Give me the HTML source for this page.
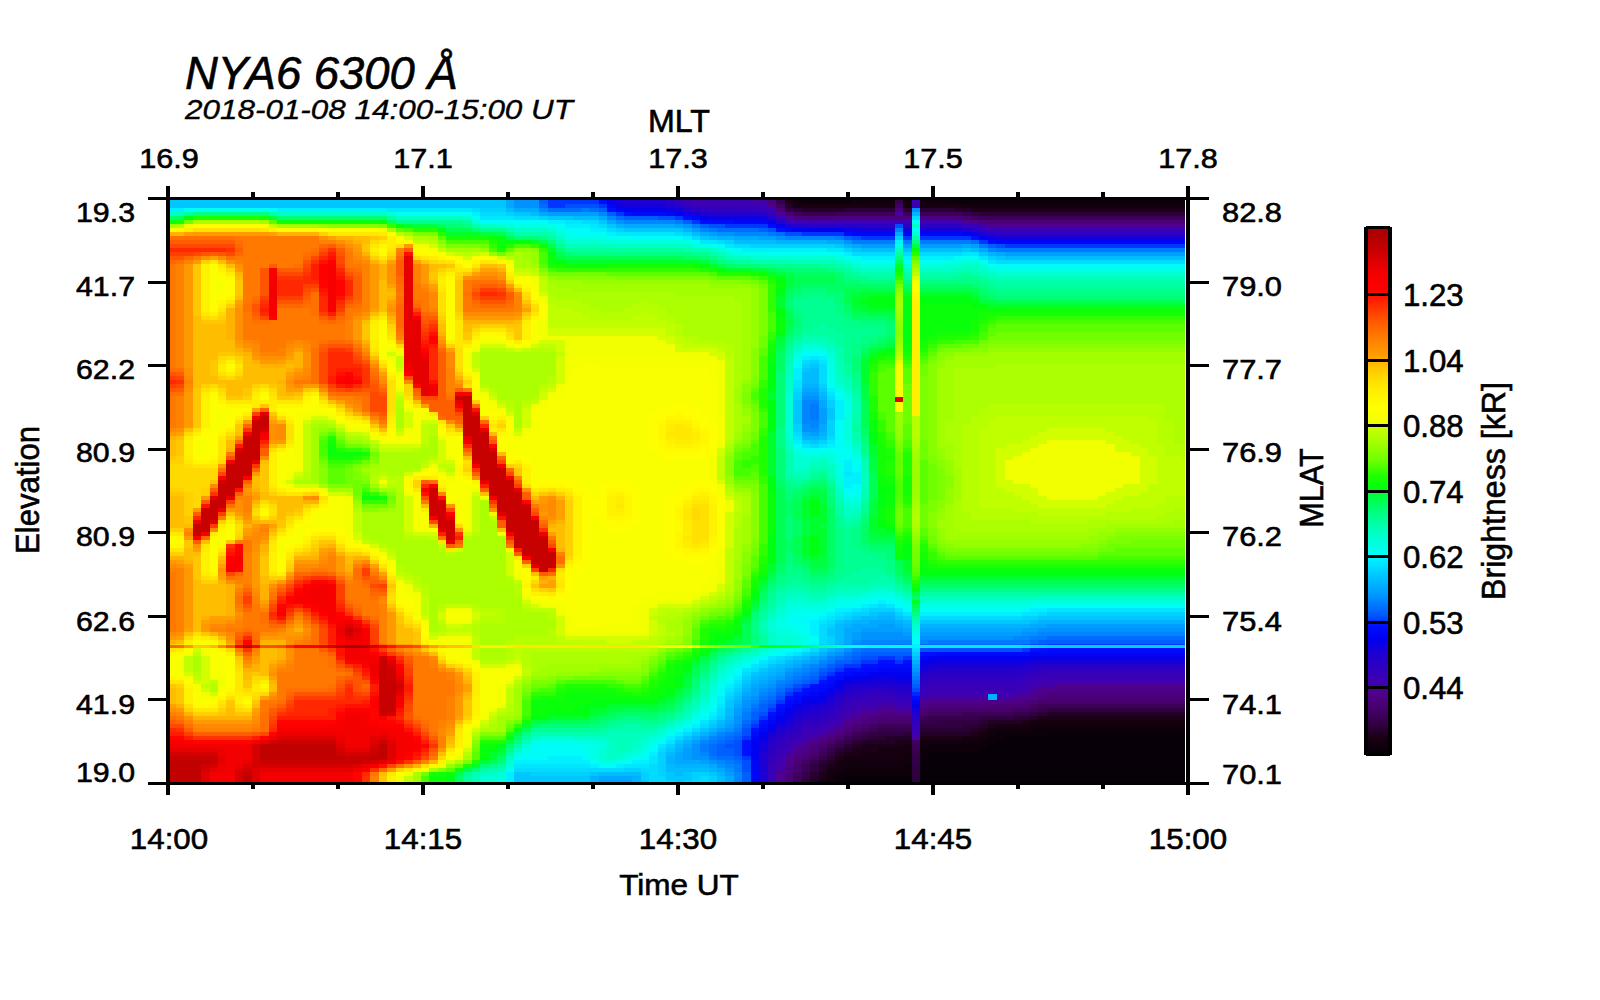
<!DOCTYPE html>
<html><head><meta charset="utf-8"><style>html,body{margin:0;padding:0;background:#fff;width:1600px;height:1000px;overflow:hidden}svg{display:block}</style></head>
<body><svg width="1600" height="1000" viewBox="0 0 1600 1000" shape-rendering="crispEdges">
<rect width="1600" height="1000" fill="#fff"/>
<g><path fill="#00c6ff" d="M170 200H505.5V204H170zM170 204H505.5V208H170zM514 212H530.9V216H514zM547.8 216H573.2V220H547.8zM598.6 220H607V224H598.6zM607 224H615.5V228H607zM623.9 228H683.1V232H623.9zM700.1 236H708.5V240H700.1zM835.4 244H843.8V248H835.4zM852.3 248H860.8V252H852.3zM962.3 248H970.7V252H962.3zM979.2 252H987.6V256H979.2zM996.1 256H1004.5V260H996.1zM810 364H818.5V368H810zM801.5 368H810V372H801.5zM818.5 388H826.9V392H818.5zM793.1 400H801.6V404H793.1zM793.1 404H801.6V408H793.1zM793.1 408H801.6V412H793.1zM826.9 408H835.4V412H826.9zM793.1 412H801.6V416H793.1zM826.9 412H835.4V416H826.9zM793.1 416H801.6V420H793.1zM826.9 416H835.4V420H826.9zM793.1 420H801.6V424H793.1zM810 440H818.5V444H810zM869.2 612H877.7V616H869.2zM852.3 616H860.8V620H852.3zM894.6 616H903V620H894.6zM1038.4 616H1185V620H1038.4zM835.4 620H843.8V624H835.4zM911.5 620H1029.9V624H911.5zM826.9 628H835.4V632H826.9zM826.9 632H835.4V636H826.9zM826.9 644H835.4V648H826.9zM818.5 648H826.9V652H818.5zM810 652H818.5V656H810zM793.1 656H801.6V660H793.1zM767.7 664H776.2V668H767.7zM759.3 668H767.7V672H759.3zM750.8 672H759.3V676H750.8zM742.3 680H750.8V684H742.3zM733.9 692H742.3V696H733.9zM725.4 700H733.9V704H725.4zM725.4 704H733.9V708H725.4zM708.5 724H717V728H708.5zM700.1 728H708.5V732H700.1zM691.6 732H700.1V736H691.6zM683.1 736H691.6V740H683.1zM674.7 740H683.1V744H674.7zM666.2 748H674.7V752H666.2zM514 772H530.9V776H514zM590.1 772H598.6V776H590.1zM666.2 772H674.7V776H666.2zM683.1 772H691.6V776H683.1zM708.5 772H717V776H708.5zM514 776H590.1V780H514zM666.2 776H691.6V780H666.2zM514 780H590.1V782H514zM640.8 780H649.3V782H640.8zM674.7 780H683.1V782H674.7z"/><path fill="#00a8ff" d="M505.5 200H514V204H505.5zM505.5 204H514V208H505.5zM514 208H539.4V212H514zM539.4 212H547.8V216H539.4zM598.6 216H607V220H598.6zM607 220H615.5V224H607zM623.9 224H674.7V228H623.9zM700.1 232H708.5V236H700.1zM733.9 236H759.3V240H733.9zM826.9 240H843.8V244H826.9zM852.3 244H860.8V248H852.3zM962.3 244H970.7V248H962.3zM979.2 248H987.6V252H979.2zM996.1 252H1004.5V256H996.1zM801.5 388H818.5V392H801.5zM818.5 400H826.9V404H818.5zM818.5 404H826.9V408H818.5zM818.5 424H826.9V428H818.5zM818.5 428H826.9V432H818.5zM801.5 432H810V436H801.5zM869.2 620H894.6V624H869.2zM852.3 624H877.7V628H852.3zM894.6 624H903V628H894.6zM1029.9 624H1046.8V628H1029.9zM843.8 628H860.8V632H843.8zM903 628H1021.5V632H903zM843.8 632H852.3V636H843.8zM843.8 636H852.3V640H843.8zM843.8 640H852.3V644H843.8zM835.4 648H843.8V652H835.4zM810 656H818.5V660H810zM801.5 660H810V664H801.5zM793.1 664H801.6V668H793.1zM776.2 672H784.6V676H776.2zM767.7 676H776.2V680H767.7zM759.3 680H767.7V684H759.3zM750.8 684H759.3V688H750.8zM742.3 692H750.8V696H742.3zM733.9 704H742.3V708H733.9zM725.4 720H733.9V724H725.4zM683.1 744H691.6V748H683.1zM674.7 752H683.1V756H674.7zM674.7 756H683.1V760H674.7zM674.7 760H700.1V764H674.7zM708.5 764H717V768H708.5zM717 768H725.4V772H717zM598.6 776H632.4V780H598.6zM725.4 776H733.9V780H725.4zM725.4 780H733.9V782H725.4z"/><path fill="#0093ff" d="M514 200H539.4V204H514zM514 204H539.4V208H514zM615.5 220H623.9V224H615.5zM683.1 224H691.6V228H683.1zM717 232H733.9V236H717zM776.2 236H784.6V240H776.2zM843.8 240H852.3V244H843.8zM801.5 396H818.5V400H801.5zM801.5 424H810V428H801.5zM801.5 428H818.5V432H801.5zM1038.4 628H1185V632H1038.4zM860.8 632H903V636H860.8zM1021.5 632H1038.4V636H1021.5zM860.8 636H1013V640H860.8zM852.3 640H860.8V644H852.3zM843.8 648H852.3V652H843.8zM835.4 652H843.8V656H835.4zM801.5 664H810V668H801.5zM793.1 668H801.6V672H793.1zM784.6 672H793.1V676H784.6zM767.7 684H776.2V688H767.7zM759.3 688H767.7V692H759.3zM750.8 696H759.3V700H750.8zM742.3 700H750.8V704H742.3zM742.3 704H750.8V708H742.3zM733.9 716H742.3V720H733.9zM733.9 720H742.3V724H733.9zM725.4 728H733.9V732H725.4zM691.6 744H700.1V748H691.6zM691.6 748H700.1V752H691.6zM691.6 752H700.1V756H691.6zM691.6 756H708.5V760H691.6zM708.5 760H717V764H708.5zM717 764H725.4V768H717zM725.4 768H733.9V772H725.4z"/><path fill="#0060ff" d="M539.4 200H547.8V204H539.4zM598.6 208H607V212H598.6zM607 212H615.5V216H607zM623.9 216H657.8V220H623.9zM683.1 220H691.6V224H683.1zM700.1 224H708.5V228H700.1zM759.3 228H767.7V232H759.3zM843.8 236H852.3V240H843.8zM987.6 244H996.1V248H987.6zM1038.4 640H1185V644H1038.4zM1021.5 644H1029.9V648H1021.5zM911.5 648H920V652H911.5zM860.8 652H911.5V656H860.8zM852.3 656H860.8V660H852.3zM835.4 660H852.3V664H835.4zM826.9 664H835.4V668H826.9zM818.5 668H826.9V672H818.5zM810 676H818.5V680H810zM801.5 680H810V684H801.5zM776.2 692H784.6V696H776.2zM767.7 700H776.2V704H767.7zM759.3 704H767.7V708H759.3zM759.3 708H767.7V712H759.3zM750.8 712H759.3V716H750.8zM750.8 716H759.3V720H750.8zM742.3 724H750.8V728H742.3zM733.9 736H742.3V740H733.9zM725.4 740H733.9V744H725.4zM717 744H725.4V748H717zM717 748H733.9V752H717zM717 752H733.9V756H717zM733.9 756H742.3V760H733.9zM742.3 772H750.8V776H742.3zM742.3 776H750.8V780H742.3zM742.3 780H750.8V782H742.3z"/><path fill="#0036ff" d="M547.8 200H598.6V204H547.8zM547.8 204H564.7V208H547.8zM598.6 204H607V208H598.6zM615.5 212H623.9V216H615.5zM674.7 216H683.1V220H674.7zM691.6 220H700.1V224H691.6zM725.4 224H767.7V228H725.4zM801.5 232H843.8V236H801.5zM860.8 236H970.7V240H860.8zM979.2 240H987.6V244H979.2zM1004.5 244H1185V248H1004.5zM1046.8 644H1185V648H1046.8zM1021.5 648H1029.9V652H1021.5zM911.5 652H920V656H911.5zM877.7 656H894.6V660H877.7zM903 656H911.5V660H903zM860.8 660H877.7V664H860.8zM894.6 660H903V664H894.6zM843.8 664H860.8V668H843.8zM835.4 668H843.8V672H835.4zM826.9 672H835.4V676H826.9zM818.5 676H826.9V680H818.5zM801.5 684H810V688H801.5zM793.1 688H801.6V692H793.1zM784.6 692H793.1V696H784.6zM776.2 700H784.6V704H776.2zM767.7 708H776.2V712H767.7zM759.3 716H767.7V720H759.3zM750.8 724H759.3V728H750.8zM742.3 736H750.8V740H742.3zM742.3 756H750.8V760H742.3z"/><path fill="#000bfb" d="M598.6 200H607V204H598.6zM632.4 212H666.2V216H632.4zM683.1 216H691.6V220H683.1zM700.1 220H733.9V224H700.1zM767.7 224H776.2V228H767.7zM843.8 232H852.3V236H843.8zM987.6 240H996.1V244H987.6zM1046.8 648H1185V652H1046.8zM936.9 652H1029.9V656H936.9zM877.7 664H911.5V668H877.7zM860.8 668H877.7V672H860.8zM843.8 672H852.3V676H843.8zM835.4 676H843.8V680H835.4zM826.9 680H835.4V684H826.9zM818.5 684H826.9V688H818.5zM810 688H818.5V692H810zM801.5 692H810V696H801.5zM793.1 696H801.6V700H793.1zM784.6 700H793.1V704H784.6zM776.2 708H784.6V712H776.2zM767.7 716H776.2V720H767.7zM759.3 724H767.7V728H759.3zM750.8 732H759.3V736H750.8z"/><path fill="#0600ea" d="M607 200H615.5V204H607zM632.4 208H666.2V212H632.4zM700.1 216H708.5V220H700.1zM767.7 220H776.2V224H767.7zM776.2 224H784.6V228H776.2zM810 228H843.8V232H810zM1029.9 656H1185V660H1029.9zM920 660H936.9V664H920zM911.5 668H920V672H911.5zM860.8 676H877.7V680H860.8zM894.6 676H911.5V680H894.6zM843.8 680H852.3V684H843.8zM835.4 684H843.8V688H835.4zM818.5 696H826.9V700H818.5zM801.5 700H818.5V704H801.5zM793.1 704H801.6V708H793.1zM784.6 712H793.1V716H784.6zM776.2 720H784.6V724H776.2zM767.7 728H776.2V732H767.7zM759.3 736H767.7V740H759.3z"/><path fill="#1600da" d="M615.5 200H623.9V204H615.5zM623.9 204H666.2V208H623.9zM674.7 208H683.1V212H674.7zM691.6 212H700.1V216H691.6zM860.8 228H962.3V232H860.8zM996.1 236H1185V240H996.1zM1029.9 660H1185V664H1029.9zM928.4 664H1021.5V668H928.4zM920 668H928.4V672H920zM911.5 676H920V680H911.5zM869.2 680H894.6V684H869.2zM843.8 684H852.3V688H843.8zM826.9 696H835.4V700H826.9zM810 704H818.5V708H810zM801.5 708H810V712H801.5zM793.1 712H801.6V716H793.1zM784.6 720H793.1V724H784.6zM767.7 732H776.2V736H767.7zM759.3 744H767.7V748H759.3zM759.3 748H767.7V752H759.3z"/><path fill="#1e00d2" d="M623.9 200H657.8V204H623.9zM666.2 204H674.7V208H666.2zM700.1 212H708.5V216H700.1zM784.6 224H793.1V228H784.6zM962.3 228H970.7V232H962.3zM979.2 232H987.6V236H979.2zM1021.5 664H1038.4V668H1021.5zM928.4 668H936.9V672H928.4zM911.5 680H920V684H911.5zM852.3 684H877.7V688H852.3zM886.1 684H911.5V688H886.1zM843.8 688H852.3V692H843.8zM835.4 692H843.8V696H835.4zM826.9 700H835.4V704H826.9zM818.5 704H826.9V708H818.5zM810 708H818.5V712H810zM801.5 712H810V716H801.5zM793.1 716H801.6V720H793.1zM784.6 724H793.1V728H784.6zM776.2 728H784.6V732H776.2zM767.7 736H776.2V740H767.7zM759.3 752H767.7V756H759.3zM759.3 756H767.7V760H759.3zM759.3 760H767.7V764H759.3zM759.3 764H767.7V768H759.3zM759.3 768H767.7V772H759.3zM759.3 772H767.7V776H759.3zM759.3 776H767.7V780H759.3zM759.3 780H767.7V782H759.3z"/><path fill="#2400cc" d="M657.8 200H666.2V204H657.8zM683.1 208H691.6V212H683.1zM708.5 212H759.3V216H708.5zM767.7 216H776.2V220H767.7zM776.2 220H784.6V224H776.2zM793.1 224H801.6V228H793.1zM1038.4 664H1185V668H1038.4zM936.9 668H1029.9V672H936.9zM920 672H928.4V676H920zM877.7 684H886.1V688H877.7zM852.3 688H860.8V692H852.3zM894.6 688H911.5V692H894.6zM843.8 692H852.3V696H843.8zM835.4 696H843.8V700H835.4zM826.9 704H835.4V708H826.9zM818.5 708H826.9V712H818.5zM810 712H818.5V716H810zM801.5 716H810V720H801.5zM793.1 720H801.6V724H793.1zM776.2 732H784.6V736H776.2zM767.7 740H776.2V744H767.7z"/><path fill="#2900c7" d="M666.2 200H674.7V204H666.2zM674.7 204H683.1V208H674.7zM759.3 212H767.7V216H759.3zM801.5 224H869.2V228H801.5zM970.7 228H979.2V232H970.7zM987.6 232H996.1V236H987.6zM1029.9 668H1038.4V672H1029.9zM928.4 672H1021.5V676H928.4zM920 676H928.4V680H920zM911.5 684H920V688H911.5zM860.8 688H894.6V692H860.8zM894.6 692H911.5V696H894.6zM835.4 700H843.8V704H835.4zM826.9 708H835.4V712H826.9zM818.5 712H826.9V716H818.5zM810 716H818.5V720H810zM793.1 724H801.6V728H793.1zM784.6 728H793.1V732H784.6zM776.2 736H784.6V740H776.2zM767.7 744H776.2V748H767.7zM767.7 748H776.2V752H767.7z"/><path fill="#3300bd" d="M674.7 200H683.1V204H674.7zM683.1 204H691.6V208H683.1zM708.5 208H759.3V212H708.5zM767.7 212H776.2V216H767.7zM979.2 228H987.6V232H979.2zM1029.9 672H1046.8V676H1029.9zM1021.5 676H1029.9V680H1021.5zM928.4 680H1021.5V684H928.4zM920 684H928.4V688H920zM869.2 692H886.1V696H869.2zM911.5 692H920V696H911.5zM852.3 696H869.2V700H852.3zM894.6 696H903V700H894.6zM843.8 700H852.3V704H843.8zM835.4 708H843.8V712H835.4zM826.9 716H835.4V720H826.9zM818.5 720H826.9V724H818.5zM801.5 724H818.5V728H801.5zM793.1 732H801.6V736H793.1zM784.6 736H793.1V740H784.6zM776.2 744H784.6V748H776.2zM767.7 756H776.2V760H767.7zM767.7 760H776.2V764H767.7z"/><path fill="#3b00b5" d="M683.1 200H691.6V204H683.1zM700.1 204H759.3V208H700.1zM970.7 224H979.2V228H970.7zM996.1 228H1185V232H996.1zM1038.4 676H1185V680H1038.4zM1029.9 680H1038.4V684H1029.9zM1021.5 684H1029.9V688H1021.5zM928.4 688H1021.5V692H928.4zM920 692H928.4V696H920zM869.2 700H877.7V704H869.2zM886.1 700H894.6V704H886.1zM852.3 704H860.8V708H852.3zM843.8 708H852.3V712H843.8zM835.4 716H843.8V720H835.4zM810 728H818.5V732H810zM801.5 732H810V736H801.5zM784.6 744H793.1V748H784.6zM776.2 752H784.6V756H776.2z"/><path fill="#3e00b2" d="M691.6 200H750.8V204H691.6zM759.3 204H767.7V208H759.3zM767.7 208H776.2V212H767.7zM793.1 220H962.3V224H793.1zM1038.4 680H1185V684H1038.4zM1029.9 684H1038.4V688H1029.9zM1021.5 688H1029.9V692H1021.5zM928.4 692H1021.5V696H928.4zM920 696H928.4V700H920zM877.7 700H886.1V704H877.7zM911.5 700H920V704H911.5zM860.8 704H877.7V708H860.8zM894.6 704H911.5V708H894.6zM852.3 708H860.8V712H852.3zM843.8 712H852.3V716H843.8zM835.4 720H843.8V724H835.4zM826.9 724H835.4V728H826.9zM818.5 728H826.9V732H818.5zM810 732H818.5V736H810zM801.5 736H810V740H801.5zM793.1 740H801.6V744H793.1zM784.6 748H793.1V752H784.6zM776.2 756H784.6V760H776.2zM776.2 760H784.6V764H776.2z"/><path fill="#4500a5" d="M750.8 200H767.7V204H750.8zM979.2 224H987.6V228H979.2zM1038.4 684H1055.3V688H1038.4zM1029.9 688H1038.4V692H1029.9zM1021.5 692H1029.9V696H1021.5zM928.4 696H1013V700H928.4zM877.7 704H894.6V708H877.7zM911.5 704H920V708H911.5zM860.8 708H877.7V712H860.8zM894.6 708H911.5V712H894.6zM852.3 712H860.8V716H852.3zM843.8 716H852.3V720H843.8zM835.4 724H843.8V728H835.4zM826.9 728H835.4V732H826.9zM818.5 732H826.9V736H818.5zM810 736H818.5V740H810zM801.5 740H810V744H801.5zM793.1 744H801.6V748H793.1zM784.6 752H793.1V756H784.6zM776.2 764H784.6V768H776.2zM776.2 768H784.6V772H776.2z"/><path fill="#4c007f" d="M767.7 200H776.2V204H767.7zM793.1 216H801.6V220H793.1zM835.4 216H953.8V220H835.4zM979.2 220H987.6V224H979.2zM1046.8 692H1185V696H1046.8zM1038.4 696H1046.8V700H1038.4zM1021.5 700H1029.9V704H1021.5zM928.4 704H987.6V708H928.4zM886.1 712H894.6V716H886.1zM869.2 716H877.7V720H869.2zM860.8 720H869.2V724H860.8zM843.8 728H852.3V732H843.8zM835.4 732H843.8V736H835.4zM826.9 736H835.4V740H826.9zM818.5 740H826.9V744H818.5zM810 744H818.5V748H810zM801.5 752H810V756H801.5zM793.1 756H801.6V760H793.1zM784.6 768H793.1V772H784.6z"/><path fill="#37004e" d="M776.2 200H784.6V204H776.2zM801.5 212H835.4V216H801.5zM962.3 212H970.7V216H962.3zM1038.4 708H1046.8V712H1038.4zM1013 712H1029.9V716H1013zM928.4 716H979.2V720H928.4zM920 720H936.9V724H920zM911.5 724H920V728H911.5zM877.7 728H911.5V732H877.7zM860.8 732H869.2V736H860.8zM852.3 736H860.8V740H852.3zM843.8 740H852.3V744H843.8zM835.4 744H843.8V748H835.4zM826.9 748H835.4V752H826.9zM818.5 756H826.9V760H818.5zM810 760H818.5V764H810zM801.5 772H810V776H801.5z"/><path fill="#1c0018" d="M784.6 200H793.1V204H784.6zM970.7 208H1185V212H970.7zM1038.4 716H1185V720H1038.4zM1021.5 720H1029.9V724H1021.5zM987.6 724H996.1V728H987.6zM979.2 728H987.6V732H979.2zM970.7 732H979.2V736H970.7zM911.5 736H962.3V740H911.5zM894.6 740H911.5V744H894.6zM860.8 744H903V748H860.8zM852.3 748H877.7V752H852.3zM843.8 752H860.8V756H843.8zM835.4 756H843.8V760H835.4zM826.9 764H835.4V768H826.9zM818.5 772H826.9V776H818.5zM818.5 776H826.9V780H818.5z"/><path fill="#11000d" d="M793.1 200H801.6V204H793.1zM852.3 200H953.8V204H852.3zM970.7 204H1185V208H970.7zM1029.9 724H1185V728H1029.9zM987.6 728H1029.9V732H987.6zM987.6 732H996.1V736H987.6zM979.2 736H987.6V740H979.2zM928.4 740H979.2V744H928.4zM920 744H928.4V748H920zM911.5 748H920V752H911.5zM903 752H920V756H903zM903 756H911.5V760H903zM852.3 760H911.5V764H852.3zM843.8 764H903V768H843.8zM835.4 768H843.8V772H835.4zM826.9 772H835.4V776H826.9zM826.9 776H835.4V780H826.9zM826.9 780H835.4V782H826.9z"/><path fill="#0d000a" d="M801.5 200H852.3V204H801.5zM953.8 200H1185V204H953.8zM1029.9 728H1185V732H1029.9zM996.1 732H1046.8V736H996.1zM987.6 736H1004.5V740H987.6zM979.2 740H996.1V744H979.2zM928.4 744H987.6V748H928.4zM920 748H979.2V752H920zM920 752H928.4V756H920zM911.5 756H928.4V760H911.5zM911.5 760H920V764H911.5zM903 764H920V768H903zM843.8 768H920V772H843.8zM835.4 772H911.5V776H835.4zM835.4 776H843.8V780H835.4zM835.4 780H843.8V782H835.4z"/><path fill="#006dff" d="M539.4 204H547.8V208H539.4zM547.8 208H581.6V212H547.8zM590.1 208H598.6V212H590.1zM615.5 216H623.9V220H615.5zM717 228H759.3V232H717zM776.2 232H784.6V236H776.2zM970.7 240H979.2V244H970.7zM1046.8 636H1185V640H1046.8zM1029.9 640H1038.4V644H1029.9zM920 644H1021.5V648H920zM860.8 648H911.5V652H860.8zM852.3 652H860.8V656H852.3zM843.8 656H852.3V660H843.8zM810 672H818.5V676H810zM801.5 676H810V680H801.5zM793.1 680H801.6V684H793.1zM784.6 684H793.1V688H784.6zM776.2 688H784.6V692H776.2zM767.7 696H776.2V700H767.7zM759.3 700H767.7V704H759.3zM750.8 708H759.3V712H750.8zM742.3 720H750.8V724H742.3zM733.9 732H742.3V736H733.9zM725.4 736H733.9V740H725.4zM717 740H725.4V744H717zM708.5 744H717V748H708.5zM708.5 748H717V752H708.5zM708.5 752H717V756H708.5zM717 756H733.9V760H717zM733.9 760H742.3V764H733.9z"/><path fill="#0050ff" d="M564.7 204H598.6V208H564.7zM657.8 216H674.7V220H657.8zM708.5 224H725.4V228H708.5zM767.7 228H776.2V232H767.7zM784.6 232H801.6V236H784.6zM852.3 236H860.8V240H852.3zM996.1 244H1004.5V248H996.1zM1029.9 644H1046.8V648H1029.9zM920 648H1021.5V652H920zM860.8 656H877.7V660H860.8zM894.6 656H903V660H894.6zM852.3 660H860.8V664H852.3zM835.4 664H843.8V668H835.4zM826.9 668H835.4V672H826.9zM818.5 672H826.9V676H818.5zM810 680H818.5V684H810zM793.1 684H801.6V688H793.1zM784.6 688H793.1V692H784.6zM776.2 696H784.6V700H776.2zM767.7 704H776.2V708H767.7zM759.3 712H767.7V716H759.3zM750.8 720H759.3V724H750.8zM742.3 728H750.8V732H742.3zM742.3 732H750.8V736H742.3zM733.9 740H742.3V744H733.9zM725.4 744H742.3V748H725.4zM733.9 748H742.3V752H733.9zM733.9 752H742.3V756H733.9zM742.3 760H750.8V764H742.3zM742.3 764H750.8V768H742.3zM742.3 768H750.8V772H742.3z"/><path fill="#0006f6" d="M607 204H615.5V208H607zM615.5 208H623.9V212H615.5zM666.2 212H674.7V216H666.2zM691.6 216H700.1V220H691.6zM733.9 220H767.7V224H733.9zM784.6 228H793.1V232H784.6zM852.3 232H962.3V236H852.3zM996.1 240H1185V244H996.1zM1029.9 652H1185V656H1029.9zM920 656H928.4V660H920zM911.5 660H920V664H911.5zM877.7 668H911.5V672H877.7zM852.3 672H869.2V676H852.3zM826.9 684H835.4V688H826.9zM818.5 688H826.9V692H818.5zM810 692H818.5V696H810zM793.1 700H801.6V704H793.1zM784.6 704H793.1V708H784.6zM776.2 712H784.6V716H776.2zM767.7 720H776.2V724H767.7zM759.3 728H767.7V732H759.3zM750.8 736H759.3V740H750.8zM750.8 760H759.3V764H750.8zM750.8 764H759.3V768H750.8zM750.8 768H759.3V772H750.8zM750.8 772H759.3V776H750.8zM750.8 776H759.3V780H750.8zM750.8 780H759.3V782H750.8z"/><path fill="#0e00e2" d="M615.5 204H623.9V208H615.5zM666.2 208H674.7V212H666.2zM683.1 212H691.6V216H683.1zM708.5 216H767.7V220H708.5zM843.8 228H860.8V232H843.8zM970.7 232H979.2V236H970.7zM987.6 236H996.1V240H987.6zM936.9 660H1029.9V664H936.9zM920 664H928.4V668H920zM911.5 672H920V676H911.5zM877.7 676H894.6V680H877.7zM852.3 680H869.2V684H852.3zM894.6 680H911.5V684H894.6zM835.4 688H843.8V692H835.4zM826.9 692H835.4V696H826.9zM818.5 700H826.9V704H818.5zM801.5 704H810V708H801.5zM793.1 708H801.6V712H793.1zM784.6 716H793.1V720H784.6zM776.2 724H784.6V728H776.2zM759.3 740H767.7V744H759.3z"/><path fill="#3800b8" d="M691.6 204H700.1V208H691.6zM759.3 208H767.7V212H759.3zM776.2 216H784.6V220H776.2zM784.6 220H793.1V224H784.6zM962.3 224H970.7V228H962.3zM987.6 228H996.1V232H987.6zM1046.8 672H1185V676H1046.8zM1029.9 676H1038.4V680H1029.9zM1021.5 680H1029.9V684H1021.5zM928.4 684H1021.5V688H928.4zM920 688H928.4V692H920zM869.2 696H894.6V700H869.2zM911.5 696H920V700H911.5zM852.3 700H869.2V704H852.3zM894.6 700H911.5V704H894.6zM843.8 704H852.3V708H843.8zM835.4 712H843.8V716H835.4zM826.9 720H835.4V724H826.9zM818.5 724H826.9V728H818.5zM801.5 728H810V732H801.5zM793.1 736H801.6V740H793.1zM784.6 740H793.1V744H784.6zM776.2 748H784.6V752H776.2zM767.7 764H776.2V768H767.7zM767.7 768H776.2V772H767.7zM767.7 772H776.2V776H767.7zM767.7 776H776.2V780H767.7zM767.7 780H776.2V782H767.7z"/><path fill="#4e0088" d="M767.7 204H776.2V208H767.7zM970.7 220H979.2V224H970.7zM1055.3 688H1185V692H1055.3zM1038.4 692H1046.8V696H1038.4zM1029.9 696H1038.4V700H1029.9zM928.4 700H1021.5V704H928.4zM920 704H928.4V708H920zM911.5 708H920V712H911.5zM877.7 712H886.1V716H877.7zM894.6 712H911.5V716H894.6zM860.8 716H869.2V720H860.8zM852.3 720H860.8V724H852.3zM843.8 724H852.3V728H843.8zM835.4 728H843.8V732H835.4zM826.9 732H835.4V736H826.9zM818.5 736H826.9V740H818.5zM810 740H818.5V744H810zM801.5 748H810V752H801.5zM793.1 752H801.6V756H793.1zM784.6 760H793.1V764H784.6zM784.6 764H793.1V768H784.6z"/><path fill="#420063" d="M776.2 204H784.6V208H776.2zM970.7 216H979.2V220H970.7zM1029.9 704H1038.4V708H1029.9zM1013 708H1029.9V712H1013zM928.4 712H962.3V716H928.4zM869.2 724H877.7V728H869.2zM860.8 728H869.2V732H860.8zM818.5 748H826.9V752H818.5zM810 756H818.5V760H810zM801.5 760H810V764H801.5zM793.1 772H801.6V776H793.1z"/><path fill="#230027" d="M784.6 204H793.1V208H784.6zM801.5 208H843.8V212H801.5zM953.8 208H970.7V212H953.8zM1046.8 712H1185V716H1046.8zM1029.9 716H1038.4V720H1029.9zM987.6 720H1021.5V724H987.6zM979.2 724H987.6V728H979.2zM970.7 728H979.2V732H970.7zM920 732H970.7V736H920zM886.1 736H911.5V740H886.1zM860.8 740H894.6V744H860.8zM852.3 744H860.8V748H852.3zM843.8 748H852.3V752H843.8zM835.4 752H843.8V756H835.4zM826.9 760H835.4V764H826.9zM818.5 764H826.9V768H818.5zM818.5 768H826.9V772H818.5zM810 776H818.5V780H810zM810 780H818.5V782H810z"/><path fill="#16000f" d="M793.1 204H970.7V208H793.1zM1029.9 720H1185V724H1029.9zM996.1 724H1029.9V728H996.1zM979.2 732H987.6V736H979.2zM962.3 736H979.2V740H962.3zM911.5 740H928.4V744H911.5zM903 744H920V748H903zM877.7 748H911.5V752H877.7zM860.8 752H903V756H860.8zM843.8 756H903V760H843.8zM835.4 760H852.3V764H835.4zM835.4 764H843.8V768H835.4zM826.9 768H835.4V772H826.9zM818.5 780H826.9V782H818.5z"/><path fill="#00f0ff" d="M170 208H184.1V212H170zM277.2 208H387.1V212H277.2zM471.7 212H480.1V216H471.7zM547.8 220H564.7V224H547.8zM564.7 224H590.1V228H564.7zM590.1 228H607V232H590.1zM607 232H615.5V236H607zM683.1 236H691.6V240H683.1zM742.3 248H826.9V252H742.3zM843.8 252H852.3V256H843.8zM860.8 256H953.8V260H860.8zM801.5 356H810V360H801.5zM818.5 356H826.9V360H818.5zM793.1 368H801.6V372H793.1zM793.1 372H801.6V376H793.1zM793.1 376H801.6V380H793.1zM826.9 388H835.4V392H826.9zM835.4 400H843.8V404H835.4zM835.4 404H843.8V408H835.4zM835.4 408H843.8V412H835.4zM835.4 412H843.8V416H835.4zM835.4 416H843.8V420H835.4zM793.1 440H801.6V444H793.1zM826.9 444H835.4V448H826.9zM843.8 460H852.3V464H843.8zM843.8 464H852.3V468H843.8zM843.8 468H852.3V472H843.8zM852.3 472H860.8V476H852.3zM843.8 476H860.8V480H843.8zM843.8 480H860.8V484H843.8zM843.8 484H852.3V488H843.8zM877.7 600H886.1V604H877.7zM860.8 604H869.2V608H860.8zM835.4 608H852.3V612H835.4zM1029.9 608H1046.8V612H1029.9zM826.9 612H835.4V616H826.9zM911.5 612H1021.5V616H911.5zM818.5 616H826.9V620H818.5zM810 620H818.5V624H810zM810 624H818.5V628H810zM810 628H818.5V632H810zM810 632H818.5V636H810zM810 644H818.5V648H810zM801.5 648H810V652H801.5zM784.6 652H793.1V656H784.6zM733.9 676H742.3V680H733.9zM725.4 684H733.9V688H725.4zM717 696H725.4V700H717zM717 700H725.4V704H717zM708.5 712H717V716H708.5zM691.6 724H700.1V728H691.6zM683.1 728H691.6V732H683.1zM674.7 732H683.1V736H674.7zM666.2 736H674.7V740H666.2zM649.3 752H657.8V756H649.3zM547.8 756H581.6V760H547.8zM514 760H590.1V764H514zM632.4 760H649.3V764H632.4zM590.1 764H598.6V768H590.1zM615.5 764H623.9V768H615.5zM505.5 772H514V776H505.5zM505.5 776H514V780H505.5zM505.5 780H514V782H505.5z"/><path fill="#00fcf9" d="M184.1 208H192.6V212H184.1zM268.7 208H277.2V212H268.7zM480.1 220H547.8V224H480.1zM556.3 224H564.7V228H556.3zM564.7 228H590.1V232H564.7zM573.2 232H607V236H573.2zM632.4 236H683.1V240H632.4zM691.6 240H700.1V244H691.6zM717 244H725.4V248H717zM733.9 248H742.3V252H733.9zM835.4 252H843.8V256H835.4zM852.3 256H860.8V260H852.3zM953.8 256H962.3V260H953.8zM970.7 256H979.2V260H970.7zM996.1 264H1185V268H996.1zM801.5 352H818.5V356H801.5zM793.1 364H801.6V368H793.1zM835.4 396H843.8V400H835.4zM835.4 420H843.8V424H835.4zM835.4 424H843.8V428H835.4zM835.4 428H843.8V432H835.4zM835.4 432H843.8V436H835.4zM835.4 436H843.8V440H835.4zM835.4 440H843.8V444H835.4zM835.4 444H843.8V448H835.4zM801.5 448H818.5V452H801.5zM835.4 448H843.8V452H835.4zM843.8 456H852.3V460H843.8zM852.3 464H860.8V468H852.3zM852.3 468H860.8V472H852.3zM852.3 484H860.8V488H852.3zM843.8 488H860.8V492H843.8zM869.2 600H877.7V604H869.2zM886.1 600H894.6V604H886.1zM843.8 604H860.8V608H843.8zM894.6 604H903V608H894.6zM903 608H911.5V612H903zM1021.5 608H1029.9V612H1021.5zM818.5 612H826.9V616H818.5zM793.1 616H818.5V620H793.1zM793.1 620H810V624H793.1zM801.5 624H810V628H801.5zM810 636H818.5V640H810zM810 640H818.5V644H810zM793.1 648H801.6V652H793.1zM776.2 652H784.6V656H776.2zM759.3 656H767.7V660H759.3zM750.8 660H759.3V664H750.8zM742.3 664H750.8V668H742.3zM733.9 672H742.3V676H733.9zM725.4 680H733.9V684H725.4zM717 688H725.4V692H717zM717 692H725.4V696H717zM708.5 708H717V712H708.5zM700.1 716H708.5V720H700.1zM657.8 740H666.2V744H657.8zM530.9 744H573.2V748H530.9zM530.9 748H581.6V752H530.9zM649.3 748H657.8V752H649.3zM530.9 752H590.1V756H530.9zM522.4 756H547.8V760H522.4zM581.6 756H590.1V760H581.6zM640.8 756H649.3V760H640.8zM598.6 764H615.5V768H598.6z"/><path fill="#00fff1" d="M192.6 208H268.7V212H192.6zM395.6 212H471.7V216H395.6zM471.7 216H480.1V220H471.7zM564.7 232H573.2V236H564.7zM607 236H632.4V240H607zM708.5 244H717V248H708.5zM725.4 248H733.9V252H725.4zM767.7 252H835.4V256H767.7zM843.8 256H852.3V260H843.8zM962.3 256H970.7V260H962.3zM860.8 260H945.3V264H860.8zM979.2 260H987.6V264H979.2zM987.6 264H996.1V268H987.6zM818.5 352H826.9V356H818.5zM793.1 360H801.6V364H793.1zM826.9 380H835.4V384H826.9zM826.9 384H835.4V388H826.9zM835.4 392H843.8V396H835.4zM793.1 444H801.6V448H793.1zM818.5 448H835.4V452H818.5zM843.8 448H852.3V452H843.8zM835.4 452H852.3V456H835.4zM835.4 456H843.8V460H835.4zM835.4 460H843.8V464H835.4zM852.3 460H860.8V464H852.3zM843.8 492H860.8V496H843.8zM869.2 596H894.6V600H869.2zM852.3 600H869.2V604H852.3zM894.6 600H903V604H894.6zM835.4 604H843.8V608H835.4zM903 604H911.5V608H903zM1029.9 604H1185V608H1029.9zM826.9 608H835.4V612H826.9zM911.5 608H1021.5V612H911.5zM793.1 612H818.5V616H793.1zM784.6 616H793.1V620H784.6zM784.6 620H793.1V624H784.6zM784.6 624H801.6V628H784.6zM793.1 628H810V632H793.1zM801.5 632H810V636H801.5zM801.5 644H810V648H801.5zM784.6 648H793.1V652H784.6zM767.7 652H776.2V656H767.7zM733.9 668H742.3V672H733.9zM725.4 676H733.9V680H725.4zM717 684H725.4V688H717zM708.5 700H717V704H708.5zM708.5 704H717V708H708.5zM700.1 712H708.5V716H700.1zM691.6 720H700.1V724H691.6zM683.1 724H691.6V728H683.1zM674.7 728H683.1V732H674.7zM666.2 732H674.7V736H666.2zM573.2 744H590.1V748H573.2zM649.3 744H657.8V748H649.3zM581.6 748H590.1V752H581.6zM522.4 752H530.9V756H522.4zM640.8 752H649.3V756H640.8zM514 756H522.4V760H514zM632.4 756H640.8V760H632.4zM590.1 760H598.6V764H590.1zM623.9 760H632.4V764H623.9zM505.5 768H514V772H505.5z"/><path fill="#00e6ff" d="M387.1 208H471.7V212H387.1zM480.1 216H514V220H480.1zM564.7 220H581.6V224H564.7zM590.1 224H598.6V228H590.1zM615.5 232H674.7V236H615.5zM700.1 240H717V244H700.1zM725.4 244H733.9V248H725.4zM826.9 248H843.8V252H826.9zM962.3 252H979.2V256H962.3zM979.2 256H987.6V260H979.2zM987.6 260H996.1V264H987.6zM810 356H818.5V360H810zM818.5 360H826.9V364H818.5zM793.1 380H801.6V384H793.1zM793.1 384H801.6V388H793.1zM826.9 392H835.4V396H826.9zM793.1 436H801.6V440H793.1zM826.9 440H835.4V444H826.9zM801.5 444H810V448H801.5zM818.5 444H826.9V448H818.5zM843.8 472H852.3V476H843.8zM869.2 604H877.7V608H869.2zM886.1 604H894.6V608H886.1zM852.3 608H860.8V612H852.3zM894.6 608H903V612H894.6zM1046.8 608H1185V612H1046.8zM835.4 612H843.8V616H835.4zM903 612H911.5V616H903zM1021.5 612H1038.4V616H1021.5zM826.9 616H835.4V620H826.9zM818.5 620H826.9V624H818.5zM793.1 652H801.6V656H793.1zM767.7 656H776.2V660H767.7zM759.3 660H767.7V664H759.3zM750.8 664H759.3V668H750.8zM742.3 668H750.8V672H742.3zM733.9 680H742.3V684H733.9zM725.4 688H733.9V692H725.4zM717 704H725.4V708H717zM708.5 716H717V720H708.5zM700.1 720H708.5V724H700.1zM666.2 740H674.7V744H666.2zM657.8 744H666.2V748H657.8zM649.3 756H657.8V760H649.3zM649.3 760H657.8V764H649.3zM514 764H590.1V768H514zM623.9 764H649.3V768H623.9z"/><path fill="#00dbff" d="M471.7 208H480.1V212H471.7zM480.1 212H505.5V216H480.1zM514 216H539.4V220H514zM581.6 220H598.6V224H581.6zM598.6 224H607V228H598.6zM607 228H615.5V232H607zM674.7 232H683.1V236H674.7zM691.6 236H700.1V240H691.6zM717 240H725.4V244H717zM733.9 244H750.8V248H733.9zM852.3 252H962.3V256H852.3zM996.1 260H1185V264H996.1zM801.5 360H810V364H801.5zM818.5 364H826.9V368H818.5zM818.5 368H826.9V372H818.5zM818.5 372H826.9V376H818.5zM818.5 376H826.9V380H818.5zM818.5 380H826.9V384H818.5zM793.1 388H801.6V392H793.1zM826.9 396H835.4V400H826.9zM793.1 432H801.6V436H793.1zM826.9 436H835.4V440H826.9zM810 444H818.5V448H810zM877.7 604H886.1V608H877.7zM860.8 608H869.2V612H860.8zM843.8 612H852.3V616H843.8zM1038.4 612H1046.8V616H1038.4zM835.4 616H843.8V620H835.4zM911.5 616H1021.5V620H911.5zM826.9 620H835.4V624H826.9zM818.5 624H826.9V628H818.5zM818.5 628H826.9V632H818.5zM818.5 632H826.9V636H818.5zM818.5 636H826.9V640H818.5zM818.5 640H826.9V644H818.5zM810 648H818.5V652H810zM776.2 656H784.6V660H776.2zM767.7 660H776.2V664H767.7zM759.3 664H767.7V668H759.3zM750.8 668H759.3V672H750.8zM742.3 672H750.8V676H742.3zM733.9 684H742.3V688H733.9zM725.4 692H733.9V696H725.4zM717 708H725.4V712H717zM717 712H725.4V716H717zM700.1 724H708.5V728H700.1zM691.6 728H700.1V732H691.6zM683.1 732H691.6V736H683.1zM674.7 736H683.1V740H674.7zM657.8 748H666.2V752H657.8zM649.3 764H657.8V768H649.3zM514 768H623.9V772H514zM640.8 768H657.8V772H640.8zM649.3 772H657.8V776H649.3zM649.3 776H666.2V780H649.3zM700.1 776H708.5V780H700.1zM649.3 780H666.2V782H649.3zM691.6 780H708.5V782H691.6z"/><path fill="#00d1ff" d="M480.1 208H505.5V212H480.1zM505.5 212H514V216H505.5zM539.4 216H547.8V220H539.4zM615.5 228H623.9V232H615.5zM683.1 232H691.6V236H683.1zM725.4 240H733.9V244H725.4zM750.8 244H835.4V248H750.8zM843.8 248H852.3V252H843.8zM987.6 256H996.1V260H987.6zM810 360H818.5V364H810zM801.5 364H810V368H801.5zM818.5 384H826.9V388H818.5zM793.1 392H801.6V396H793.1zM793.1 396H801.6V400H793.1zM826.9 400H835.4V404H826.9zM826.9 404H835.4V408H826.9zM826.9 420H835.4V424H826.9zM793.1 424H801.6V428H793.1zM826.9 424H835.4V428H826.9zM793.1 428H801.6V432H793.1zM826.9 428H835.4V432H826.9zM826.9 432H835.4V436H826.9zM801.5 440H810V444H801.5zM818.5 440H826.9V444H818.5zM869.2 608H894.6V612H869.2zM852.3 612H869.2V616H852.3zM894.6 612H903V616H894.6zM1046.8 612H1185V616H1046.8zM843.8 616H852.3V620H843.8zM903 616H911.5V620H903zM1021.5 616H1038.4V620H1021.5zM826.9 624H835.4V628H826.9zM826.9 636H835.4V640H826.9zM826.9 640H835.4V644H826.9zM818.5 644H826.9V648H818.5zM801.5 652H810V656H801.5zM784.6 656H793.1V660H784.6zM776.2 660H784.6V664H776.2zM742.3 676H750.8V680H742.3zM733.9 688H742.3V692H733.9zM725.4 696H733.9V700H725.4zM717 716H725.4V720H717zM708.5 720H717V724H708.5zM666.2 744H674.7V748H666.2zM657.8 752H666.2V756H657.8zM657.8 756H666.2V760H657.8zM657.8 760H666.2V764H657.8zM657.8 764H666.2V768H657.8zM623.9 768H640.8V772H623.9zM657.8 768H666.2V772H657.8zM530.9 772H590.1V776H530.9zM640.8 772H649.3V776H640.8zM657.8 772H666.2V776H657.8zM691.6 772H708.5V776H691.6zM640.8 776H649.3V780H640.8zM691.6 776H700.1V780H691.6zM708.5 776H717V780H708.5zM666.2 780H674.7V782H666.2zM683.1 780H691.6V782H683.1zM708.5 780H717V782H708.5z"/><path fill="#00bcff" d="M505.5 208H514V212H505.5zM530.9 212H539.4V216H530.9zM573.2 216H598.6V220H573.2zM691.6 232H700.1V236H691.6zM708.5 236H717V240H708.5zM733.9 240H776.2V244H733.9zM860.8 248H962.3V252H860.8zM970.7 248H979.2V252H970.7zM1004.5 256H1185V260H1004.5zM810 368H818.5V372H810zM801.5 372H818.5V376H801.5zM801.5 376H818.5V380H801.5zM801.5 380H818.5V384H801.5zM818.5 392H826.9V396H818.5zM818.5 436H826.9V440H818.5zM877.7 612H894.6V616H877.7zM860.8 616H877.7V620H860.8zM843.8 620H852.3V624H843.8zM903 620H911.5V624H903zM1029.9 620H1038.4V624H1029.9zM835.4 624H843.8V628H835.4zM835.4 628H843.8V632H835.4zM835.4 632H843.8V636H835.4zM835.4 636H843.8V640H835.4zM835.4 640H843.8V644H835.4zM801.5 656H810V660H801.5zM784.6 660H793.1V664H784.6zM776.2 664H784.6V668H776.2zM767.7 668H776.2V672H767.7zM759.3 672H767.7V676H759.3zM750.8 676H759.3V680H750.8zM742.3 684H750.8V688H742.3zM733.9 696H742.3V700H733.9zM725.4 708H733.9V712H725.4zM725.4 712H733.9V716H725.4zM717 720H725.4V724H717zM674.7 744H683.1V748H674.7zM666.2 752H674.7V756H666.2zM666.2 764H674.7V768H666.2zM666.2 768H708.5V772H666.2zM598.6 772H640.8V776H598.6zM674.7 772H683.1V776H674.7zM717 776H725.4V780H717zM717 780H725.4V782H717z"/><path fill="#0087ff" d="M539.4 208H547.8V212H539.4zM598.6 212H607V216H598.6zM607 216H615.5V220H607zM623.9 220H674.7V224H623.9zM700.1 228H708.5V232H700.1zM733.9 232H767.7V236H733.9zM784.6 236H835.4V240H784.6zM987.6 248H996.1V252H987.6zM801.5 400H818.5V404H801.5zM801.5 404H810V408H801.5zM801.5 408H810V412H801.5zM801.5 412H810V416H801.5zM801.5 416H810V420H801.5zM801.5 420H818.5V424H801.5zM810 424H818.5V428H810zM1038.4 632H1185V636H1038.4zM1013 636H1029.9V640H1013zM860.8 640H928.4V644H860.8zM852.3 644H869.2V648H852.3zM826.9 656H835.4V660H826.9zM818.5 660H826.9V664H818.5zM810 664H818.5V668H810zM801.5 668H810V672H801.5zM793.1 672H801.6V676H793.1zM784.6 676H793.1V680H784.6zM776.2 680H784.6V684H776.2zM767.7 688H776.2V692H767.7zM759.3 692H767.7V696H759.3zM750.8 700H759.3V704H750.8zM742.3 708H750.8V712H742.3zM733.9 724H742.3V728H733.9zM717 732H725.4V736H717zM708.5 736H717V740H708.5zM700.1 740H708.5V744H700.1zM700.1 752H708.5V756H700.1zM717 760H725.4V764H717zM725.4 764H733.9V768H725.4zM733.9 772H742.3V776H733.9zM733.9 776H742.3V780H733.9zM733.9 780H742.3V782H733.9z"/><path fill="#007aff" d="M581.6 208H590.1V212H581.6zM674.7 220H683.1V224H674.7zM691.6 224H700.1V228H691.6zM708.5 228H717V232H708.5zM767.7 232H776.2V236H767.7zM835.4 236H843.8V240H835.4zM852.3 240H970.7V244H852.3zM979.2 244H987.6V248H979.2zM996.1 248H1185V252H996.1zM810 404H818.5V408H810zM810 408H818.5V412H810zM810 412H818.5V416H810zM810 416H818.5V420H810zM1029.9 636H1046.8V640H1029.9zM928.4 640H1029.9V644H928.4zM869.2 644H920V648H869.2zM852.3 648H860.8V652H852.3zM843.8 652H852.3V656H843.8zM835.4 656H843.8V660H835.4zM826.9 660H835.4V664H826.9zM818.5 664H826.9V668H818.5zM810 668H818.5V672H810zM801.5 672H810V676H801.5zM793.1 676H801.6V680H793.1zM784.6 680H793.1V684H784.6zM776.2 684H784.6V688H776.2zM767.7 692H776.2V696H767.7zM759.3 696H767.7V700H759.3zM750.8 704H759.3V708H750.8zM742.3 712H750.8V716H742.3zM742.3 716H750.8V720H742.3zM733.9 728H742.3V732H733.9zM725.4 732H733.9V736H725.4zM717 736H725.4V740H717zM708.5 740H717V744H708.5zM700.1 744H708.5V748H700.1zM700.1 748H708.5V752H700.1zM708.5 756H717V760H708.5zM725.4 760H733.9V764H725.4zM733.9 764H742.3V768H733.9zM733.9 768H742.3V772H733.9z"/><path fill="#0010ff" d="M607 208H615.5V212H607zM623.9 212H632.4V216H623.9zM776.2 228H784.6V232H776.2zM970.7 236H979.2V240H970.7zM1029.9 648H1046.8V652H1029.9zM920 652H936.9V656H920zM911.5 656H920V660H911.5zM877.7 660H894.6V664H877.7zM903 660H911.5V664H903zM860.8 664H877.7V668H860.8zM843.8 668H860.8V672H843.8zM835.4 672H843.8V676H835.4zM826.9 676H835.4V680H826.9zM818.5 680H826.9V684H818.5zM810 684H818.5V688H810zM801.5 688H810V692H801.5zM793.1 692H801.6V696H793.1zM784.6 696H793.1V700H784.6zM776.2 704H784.6V708H776.2zM767.7 712H776.2V716H767.7zM759.3 720H767.7V724H759.3zM750.8 728H759.3V732H750.8zM742.3 740H750.8V744H742.3zM742.3 744H750.8V748H742.3zM742.3 748H750.8V752H742.3zM742.3 752H750.8V756H742.3z"/><path fill="#0002f1" d="M623.9 208H632.4V212H623.9zM674.7 212H683.1V216H674.7zM793.1 228H810V232H793.1zM962.3 232H970.7V236H962.3zM979.2 236H987.6V240H979.2zM928.4 656H1029.9V660H928.4zM911.5 664H920V668H911.5zM869.2 672H911.5V676H869.2zM843.8 676H860.8V680H843.8zM835.4 680H843.8V684H835.4zM826.9 688H835.4V692H826.9zM818.5 692H826.9V696H818.5zM801.5 696H818.5V700H801.5zM784.6 708H793.1V712H784.6zM776.2 716H784.6V720H776.2zM767.7 724H776.2V728H767.7zM759.3 732H767.7V736H759.3zM750.8 740H759.3V744H750.8zM750.8 744H759.3V748H750.8zM750.8 748H759.3V752H750.8zM750.8 752H759.3V756H750.8zM750.8 756H759.3V760H750.8z"/><path fill="#2e00c2" d="M691.6 208H708.5V212H691.6zM869.2 224H962.3V228H869.2zM996.1 232H1185V236H996.1zM1038.4 668H1185V672H1038.4zM1021.5 672H1029.9V676H1021.5zM928.4 676H1021.5V680H928.4zM920 680H928.4V684H920zM911.5 688H920V692H911.5zM852.3 692H869.2V696H852.3zM886.1 692H894.6V696H886.1zM843.8 696H852.3V700H843.8zM903 696H911.5V700H903zM835.4 704H843.8V708H835.4zM826.9 712H835.4V716H826.9zM818.5 716H826.9V720H818.5zM801.5 720H818.5V724H801.5zM793.1 728H801.6V732H793.1zM784.6 732H793.1V736H784.6zM776.2 740H784.6V744H776.2zM767.7 752H776.2V756H767.7z"/><path fill="#4a0077" d="M776.2 208H784.6V212H776.2zM801.5 216H835.4V220H801.5zM953.8 216H962.3V220H953.8zM987.6 220H1185V224H987.6zM1046.8 696H1185V700H1046.8zM1029.9 700H1038.4V704H1029.9zM987.6 704H1029.9V708H987.6zM920 708H928.4V712H920zM911.5 712H920V716H911.5zM877.7 716H911.5V720H877.7zM869.2 720H877.7V724H869.2zM852.3 724H860.8V728H852.3zM810 748H818.5V752H810zM801.5 756H810V760H801.5zM793.1 760H801.6V764H793.1zM784.6 772H793.1V776H784.6zM784.6 776H793.1V780H784.6zM784.6 780H793.1V782H784.6z"/><path fill="#310043" d="M784.6 208H793.1V212H784.6zM970.7 212H979.2V216H970.7zM1046.8 708H1185V712H1046.8zM1029.9 712H1038.4V716H1029.9zM979.2 716H1013V720H979.2zM936.9 720H979.2V724H936.9zM920 724H962.3V728H920zM911.5 728H920V732H911.5zM869.2 732H903V736H869.2zM860.8 736H869.2V740H860.8zM826.9 752H835.4V756H826.9zM810 764H818.5V768H810zM810 768H818.5V772H810zM801.5 776H810V780H801.5zM801.5 780H810V782H801.5z"/><path fill="#2b0035" d="M793.1 208H801.6V212H793.1zM843.8 208H953.8V212H843.8zM979.2 212H1185V216H979.2zM1038.4 712H1046.8V716H1038.4zM1013 716H1029.9V720H1013zM979.2 720H987.6V724H979.2zM962.3 724H979.2V728H962.3zM920 728H970.7V732H920zM903 732H920V736H903zM869.2 736H886.1V740H869.2zM852.3 740H860.8V744H852.3zM843.8 744H852.3V748H843.8zM835.4 748H843.8V752H835.4zM826.9 756H835.4V760H826.9zM818.5 760H826.9V764H818.5zM810 772H818.5V776H810z"/><path fill="#00ffc6" d="M170 212H175.7V216H170zM277.2 212H387.1V216H277.2zM395.6 216H463.2V220H395.6zM480.1 224H497.1V228H480.1zM514 228H547.8V232H514zM556.3 236H564.7V240H556.3zM615.5 244H691.6V248H615.5zM708.5 248H717V252H708.5zM733.9 256H750.8V260H733.9zM835.4 260H843.8V264H835.4zM962.3 264H979.2V268H962.3zM860.8 268H953.8V272H860.8zM979.2 268H987.6V272H979.2zM987.6 272H996.1V276H987.6zM818.5 344H826.9V348H818.5zM793.1 348H801.6V352H793.1zM826.9 348H835.4V352H826.9zM784.6 376H793.1V380H784.6zM835.4 376H843.8V380H835.4zM784.6 380H793.1V384H784.6zM835.4 380H843.8V384H835.4zM784.6 384H793.1V388H784.6zM784.6 388H793.1V392H784.6zM843.8 388H852.3V392H843.8zM784.6 440H793.1V444H784.6zM784.6 444H793.1V448H784.6zM852.3 444H860.8V448H852.3zM810 460H818.5V464H810zM826.9 464H835.4V468H826.9zM793.1 468H810V472H793.1zM835.4 488H843.8V492H835.4zM835.4 492H843.8V496H835.4zM843.8 508H860.8V512H843.8zM843.8 512H852.3V516H843.8zM869.2 588H877.7V592H869.2zM886.1 588H894.6V592H886.1zM835.4 592H860.8V596H835.4zM894.6 592H903V596H894.6zM784.6 596H810V600H784.6zM903 596H911.5V600H903zM1038.4 596H1185V600H1038.4zM810 600H818.5V604H810zM776.2 604H784.6V608H776.2zM767.7 616H776.2V620H767.7zM767.7 632H776.2V636H767.7zM767.7 636H776.2V640H767.7zM767.7 640H776.2V644H767.7zM759.3 648H767.7V652H759.3zM750.8 652H759.3V656H750.8zM717 668H725.4V672H717zM708.5 680H717V684H708.5zM700.1 696H708.5V700H700.1zM691.6 708H700.1V712H691.6zM683.1 716H691.6V720H683.1zM674.7 720H683.1V724H674.7zM666.2 724H674.7V728H666.2zM657.8 728H666.2V732H657.8zM649.3 732H657.8V736H649.3zM530.9 736H539.4V740H530.9zM573.2 736H607V740H573.2zM640.8 736H649.3V740H640.8zM607 740H615.5V744H607zM632.4 740H640.8V744H632.4zM607 744H615.5V748H607zM632.4 744H640.8V748H632.4zM514 748H522.4V752H514zM607 748H615.5V752H607zM607 752H623.9V756H607zM607 756H615.5V760H607zM480.1 772H497.1V776H480.1z"/><path fill="#00ffba" d="M175.7 212H184.1V216H175.7zM547.8 232H556.3V236H547.8zM564.7 244H615.5V248H564.7zM691.6 248H708.5V252H691.6zM717 252H725.4V256H717zM725.4 256H733.9V260H725.4zM784.6 260H835.4V264H784.6zM843.8 264H852.3V268H843.8zM852.3 268H860.8V272H852.3zM953.8 268H979.2V272H953.8zM979.2 272H987.6V276H979.2zM987.6 276H1185V280H987.6zM801.5 340H826.9V344H801.5zM793.1 344H801.6V348H793.1zM826.9 344H835.4V348H826.9zM835.4 360H843.8V364H835.4zM784.6 364H793.1V368H784.6zM835.4 364H843.8V368H835.4zM784.6 368H793.1V372H784.6zM835.4 368H843.8V372H835.4zM784.6 372H793.1V376H784.6zM835.4 372H843.8V376H835.4zM843.8 380H852.3V384H843.8zM843.8 384H852.3V388H843.8zM852.3 404H860.8V408H852.3zM852.3 408H860.8V412H852.3zM852.3 440H860.8V444H852.3zM784.6 448H793.1V452H784.6zM818.5 460H826.9V464H818.5zM810 464H826.9V468H810zM826.9 468H835.4V472H826.9zM860.8 468H869.2V472H860.8zM793.1 472H810V476H793.1zM826.9 472H835.4V476H826.9zM860.8 472H869.2V476H860.8zM860.8 476H869.2V480H860.8zM860.8 480H869.2V484H860.8zM860.8 484H869.2V488H860.8zM860.8 488H869.2V492H860.8zM835.4 496H843.8V500H835.4zM852.3 512H860.8V516H852.3zM843.8 516H852.3V520H843.8zM869.2 584H894.6V588H869.2zM835.4 588H869.2V592H835.4zM784.6 592H810V596H784.6zM826.9 592H835.4V596H826.9zM810 596H826.9V600H810zM911.5 596H1038.4V600H911.5zM776.2 600H784.6V604H776.2zM767.7 612H776.2V616H767.7zM759.3 624H767.7V628H759.3zM742.3 652H750.8V656H742.3zM733.9 656H742.3V660H733.9zM725.4 660H733.9V664H725.4zM717 664H725.4V668H717zM708.5 676H717V680H708.5zM700.1 692H708.5V696H700.1zM691.6 704H700.1V708H691.6zM683.1 712H691.6V716H683.1zM607 732H649.3V736H607zM607 736H640.8V740H607zM522.4 740H530.9V744H522.4zM615.5 740H632.4V744H615.5zM615.5 744H632.4V748H615.5zM615.5 748H632.4V752H615.5zM505.5 756H514V760H505.5zM497.1 768H505.5V772H497.1zM471.7 776H480.1V780H471.7zM471.7 780H480.1V782H471.7z"/><path fill="#00ffa1" d="M184.1 212H192.6V216H184.1zM387.1 216H395.6V220H387.1zM463.2 220H471.7V224H463.2zM547.8 236H556.3V240H547.8zM564.7 248H683.1V252H564.7zM717 256H725.4V260H717zM733.9 260H750.8V264H733.9zM818.5 264H835.4V268H818.5zM843.8 268H852.3V272H843.8zM852.3 272H860.8V276H852.3zM962.3 272H970.7V276H962.3zM869.2 276H953.8V280H869.2zM979.2 276H987.6V280H979.2zM987.6 280H996.1V284H987.6zM996.1 284H1185V288H996.1zM818.5 324H826.9V328H818.5zM810 328H835.4V332H810zM801.5 332H843.8V336H801.5zM826.9 336H843.8V340H826.9zM835.4 340H843.8V344H835.4zM835.4 344H843.8V348H835.4zM784.6 348H793.1V352H784.6zM784.6 352H793.1V356H784.6zM843.8 364H852.3V368H843.8zM843.8 368H852.3V372H843.8zM843.8 372H852.3V376H843.8zM852.3 388H860.8V392H852.3zM852.3 392H860.8V396H852.3zM852.3 424H860.8V428H852.3zM852.3 428H860.8V432H852.3zM860.8 456H869.2V460H860.8zM810 472H818.5V476H810zM784.6 476H793.1V480H784.6zM793.1 480H801.6V484H793.1zM826.9 480H835.4V484H826.9zM860.8 500H869.2V504H860.8zM835.4 508H843.8V512H835.4zM835.4 512H843.8V516H835.4zM852.3 520H860.8V524H852.3zM843.8 524H852.3V528H843.8zM860.8 568H877.7V572H860.8zM852.3 572H886.1V576H852.3zM843.8 576H877.7V580H843.8zM886.1 576H894.6V580H886.1zM793.1 580H801.6V584H793.1zM835.4 580H869.2V584H835.4zM784.6 584H810V588H784.6zM826.9 584H835.4V588H826.9zM894.6 584H903V588H894.6zM776.2 588H784.6V592H776.2zM810 588H826.9V592H810zM911.5 592H1185V596H911.5zM767.7 600H776.2V604H767.7zM767.7 604H776.2V608H767.7zM759.3 612H767.7V616H759.3zM759.3 616H767.7V620H759.3zM759.3 636H767.7V640H759.3zM759.3 640H767.7V644H759.3zM733.9 652H742.3V656H733.9zM717 660H725.4V664H717zM708.5 668H717V672H708.5zM700.1 680H708.5V684H700.1zM691.6 696H700.1V700H691.6zM683.1 704H691.6V708H683.1zM674.7 712H683.1V716H674.7zM615.5 724H623.9V728H615.5zM640.8 724H657.8V728H640.8zM598.6 728H607V732H598.6zM522.4 736H530.9V740H522.4zM514 744H522.4V748H514zM505.5 752H514V756H505.5zM497.1 764H505.5V768H497.1zM480.1 768H488.6V772H480.1zM463.2 776H471.7V780H463.2zM463.2 780H471.7V782H463.2z"/><path fill="#00ff84" d="M192.6 212H268.7V216H192.6zM463.2 224H471.7V228H463.2zM505.5 232H514V236H505.5zM539.4 236H547.8V240H539.4zM573.2 252H691.6V256H573.2zM708.5 256H717V260H708.5zM717 260H725.4V264H717zM759.3 264H776.2V268H759.3zM826.9 268H835.4V272H826.9zM843.8 276H852.3V280H843.8zM860.8 280H979.2V284H860.8zM979.2 284H987.6V288H979.2zM987.6 288H996.1V292H987.6zM801.5 292H826.9V296H801.5zM996.1 292H1185V296H996.1zM793.1 296H810V300H793.1zM818.5 296H835.4V300H818.5zM835.4 304H843.8V308H835.4zM793.1 308H801.6V312H793.1zM835.4 308H843.8V312H835.4zM793.1 312H801.6V316H793.1zM835.4 312H843.8V316H835.4zM843.8 316H852.3V320H843.8zM843.8 320H860.8V324H843.8zM852.3 324H886.1V328H852.3zM793.1 328H801.6V332H793.1zM877.7 328H886.1V332H877.7zM793.1 332H801.6V336H793.1zM877.7 332H886.1V336H877.7zM860.8 336H877.7V340H860.8zM784.6 340H793.1V344H784.6zM860.8 340H869.2V344H860.8zM852.3 344H860.8V348H852.3zM852.3 348H860.8V352H852.3zM852.3 352H860.8V356H852.3zM852.3 372H860.8V376H852.3zM852.3 376H860.8V380H852.3zM776.2 428H784.6V432H776.2zM776.2 432H784.6V436H776.2zM776.2 436H784.6V440H776.2zM776.2 440H784.6V444H776.2zM776.2 444H784.6V448H776.2zM860.8 444H869.2V448H860.8zM860.8 448H869.2V452H860.8zM818.5 476H826.9V480H818.5zM784.6 484H793.1V488H784.6zM784.6 488H793.1V492H784.6zM826.9 488H835.4V492H826.9zM826.9 492H835.4V496H826.9zM860.8 512H869.2V516H860.8zM835.4 528H843.8V532H835.4zM852.3 528H860.8V532H852.3zM835.4 532H843.8V536H835.4zM852.3 532H860.8V536H852.3zM835.4 536H843.8V540H835.4zM852.3 536H860.8V540H852.3zM835.4 540H843.8V544H835.4zM852.3 540H860.8V544H852.3zM835.4 544H843.8V548H835.4zM852.3 544H860.8V548H852.3zM835.4 548H843.8V552H835.4zM860.8 548H869.2V552H860.8zM835.4 552H843.8V556H835.4zM860.8 552H886.1V556H860.8zM835.4 556H843.8V560H835.4zM877.7 556H886.1V560H877.7zM835.4 560H843.8V564H835.4zM886.1 560H894.6V564H886.1zM784.6 564H793.1V568H784.6zM835.4 564H843.8V568H835.4zM886.1 564H894.6V568H886.1zM784.6 568H801.6V572H784.6zM835.4 568H843.8V572H835.4zM886.1 568H894.6V572H886.1zM784.6 572H793.1V576H784.6zM801.5 572H810V576H801.5zM776.2 576H784.6V580H776.2zM801.5 576H810V580H801.5zM826.9 576H835.4V580H826.9zM776.2 580H784.6V584H776.2zM810 580H826.9V584H810zM894.6 580H903V584H894.6zM903 584H911.5V588H903zM767.7 588H776.2V592H767.7zM911.5 588H1185V592H911.5zM759.3 604H767.7V608H759.3zM750.8 620H759.3V624H750.8zM750.8 624H759.3V628H750.8zM750.8 628H759.3V632H750.8zM750.8 632H759.3V636H750.8zM750.8 640H759.3V644H750.8zM733.9 648H742.3V652H733.9zM725.4 652H733.9V656H725.4zM708.5 660H717V664H708.5zM700.1 672H708.5V676H700.1zM691.6 688H700.1V692H691.6zM674.7 708H683.1V712H674.7zM666.2 712H674.7V716H666.2zM623.9 716H640.8V720H623.9zM657.8 716H666.2V720H657.8zM607 720H615.5V724H607zM649.3 720H657.8V724H649.3zM590.1 724H607V728H590.1zM522.4 732H530.9V736H522.4zM514 740H522.4V744H514zM505.5 748H514V752H505.5zM488.6 764H497.1V768H488.6z"/><path fill="#00ffae" d="M268.7 212H277.2V216H268.7zM471.7 224H480.1V228H471.7zM505.5 228H514V232H505.5zM514 232H547.8V236H514zM556.3 240H564.7V244H556.3zM683.1 248H691.6V252H683.1zM708.5 252H717V256H708.5zM750.8 260H784.6V264H750.8zM835.4 264H843.8V268H835.4zM860.8 272H962.3V276H860.8zM970.7 272H979.2V276H970.7zM996.1 280H1185V284H996.1zM801.5 336H826.9V340H801.5zM793.1 340H801.6V344H793.1zM826.9 340H835.4V344H826.9zM835.4 348H843.8V352H835.4zM835.4 352H843.8V356H835.4zM784.6 356H793.1V360H784.6zM835.4 356H843.8V360H835.4zM784.6 360H793.1V364H784.6zM843.8 376H852.3V380H843.8zM852.3 396H860.8V400H852.3zM852.3 400H860.8V404H852.3zM852.3 412H860.8V416H852.3zM852.3 416H860.8V420H852.3zM852.3 420H860.8V424H852.3zM852.3 432H860.8V436H852.3zM852.3 436H860.8V440H852.3zM784.6 452H793.1V456H784.6zM784.6 456H793.1V460H784.6zM784.6 460H793.1V464H784.6zM860.8 460H869.2V464H860.8zM784.6 464H793.1V468H784.6zM860.8 464H869.2V468H860.8zM784.6 468H793.1V472H784.6zM810 468H826.9V472H810zM784.6 472H793.1V476H784.6zM793.1 476H810V480H793.1zM826.9 476H835.4V480H826.9zM860.8 492H869.2V496H860.8zM860.8 496H869.2V500H860.8zM835.4 500H843.8V504H835.4zM835.4 504H843.8V508H835.4zM852.3 516H860.8V520H852.3zM843.8 520H852.3V524H843.8zM877.7 576H886.1V580H877.7zM869.2 580H894.6V584H869.2zM835.4 584H869.2V588H835.4zM784.6 588H810V592H784.6zM826.9 588H835.4V592H826.9zM894.6 588H903V592H894.6zM776.2 592H784.6V596H776.2zM810 592H826.9V596H810zM903 592H911.5V596H903zM776.2 596H784.6V600H776.2zM767.7 608H776.2V612H767.7zM759.3 620H767.7V624H759.3zM759.3 628H767.7V632H759.3zM759.3 632H767.7V636H759.3zM759.3 644H767.7V648H759.3zM750.8 648H759.3V652H750.8zM725.4 656H733.9V660H725.4zM708.5 672H717V676H708.5zM700.1 684H708.5V688H700.1zM700.1 688H708.5V692H700.1zM691.6 700H700.1V704H691.6zM683.1 708H691.6V712H683.1zM674.7 716H683.1V720H674.7zM666.2 720H674.7V724H666.2zM623.9 724H640.8V728H623.9zM657.8 724H666.2V728H657.8zM607 728H657.8V732H607zM530.9 732H607V736H530.9zM488.6 768H497.1V772H488.6zM471.7 772H480.1V776H471.7z"/><path fill="#00ffdd" d="M387.1 212H395.6V216H387.1zM471.7 220H480.1V224H471.7zM505.5 224H514V228H505.5zM556.3 232H564.7V236H556.3zM598.6 240H683.1V244H598.6zM691.6 244H700.1V248H691.6zM717 248H725.4V252H717zM835.4 256H843.8V260H835.4zM962.3 260H979.2V264H962.3zM860.8 264H945.3V268H860.8zM979.2 264H987.6V268H979.2zM987.6 268H996.1V272H987.6zM818.5 348H826.9V352H818.5zM793.1 352H801.6V356H793.1zM826.9 356H835.4V360H826.9zM826.9 360H835.4V364H826.9zM843.8 396H852.3V400H843.8zM843.8 416H852.3V420H843.8zM843.8 420H852.3V424H843.8zM843.8 424H852.3V428H843.8zM843.8 428H852.3V432H843.8zM843.8 432H852.3V436H843.8zM843.8 436H852.3V440H843.8zM793.1 452H801.6V456H793.1zM818.5 452H826.9V456H818.5zM852.3 452H860.8V456H852.3zM801.5 456H810V460H801.5zM826.9 456H835.4V460H826.9zM835.4 476H843.8V480H835.4zM835.4 480H843.8V484H835.4zM843.8 500H860.8V504H843.8zM869.2 592H894.6V596H869.2zM835.4 596H860.8V600H835.4zM894.6 596H903V600H894.6zM826.9 600H835.4V604H826.9zM903 600H911.5V604H903zM1029.9 600H1185V604H1029.9zM784.6 604H826.9V608H784.6zM776.2 616H784.6V620H776.2zM776.2 628H784.6V632H776.2zM776.2 632H793.1V636H776.2zM793.1 636H801.6V640H793.1zM793.1 640H801.6V644H793.1zM776.2 644H793.1V648H776.2zM767.7 648H776.2V652H767.7zM725.4 668H733.9V672H725.4zM717 676H725.4V680H717zM708.5 688H717V692H708.5zM708.5 692H717V696H708.5zM700.1 704H708.5V708H700.1zM691.6 712H700.1V716H691.6zM683.1 720H691.6V724H683.1zM674.7 724H683.1V728H674.7zM666.2 728H674.7V732H666.2zM581.6 740H598.6V744H581.6zM522.4 744H530.9V748H522.4zM598.6 744H607V748H598.6zM640.8 744H649.3V748H640.8zM514 752H522.4V756H514zM632.4 752H640.8V756H632.4zM623.9 756H632.4V760H623.9zM598.6 760H615.5V764H598.6zM505.5 764H514V768H505.5zM497.1 776H505.5V780H497.1zM497.1 780H505.5V782H497.1z"/><path fill="#009eff" d="M547.8 212H598.6V216H547.8zM674.7 224H683.1V228H674.7zM691.6 228H700.1V232H691.6zM708.5 232H717V236H708.5zM759.3 236H776.2V240H759.3zM860.8 244H962.3V248H860.8zM970.7 244H979.2V248H970.7zM1004.5 252H1185V256H1004.5zM801.5 392H818.5V396H801.5zM818.5 408H826.9V412H818.5zM818.5 412H826.9V416H818.5zM818.5 416H826.9V420H818.5zM818.5 420H826.9V424H818.5zM810 432H818.5V436H810zM877.7 624H894.6V628H877.7zM1046.8 624H1185V628H1046.8zM860.8 628H903V632H860.8zM1021.5 628H1038.4V632H1021.5zM852.3 632H860.8V636H852.3zM903 632H1021.5V636H903zM852.3 636H860.8V640H852.3zM843.8 644H852.3V648H843.8zM826.9 652H835.4V656H826.9zM818.5 656H826.9V660H818.5zM810 660H818.5V664H810zM784.6 668H793.1V672H784.6zM776.2 676H784.6V680H776.2zM767.7 680H776.2V684H767.7zM759.3 684H767.7V688H759.3zM750.8 688H759.3V692H750.8zM750.8 692H759.3V696H750.8zM742.3 696H750.8V700H742.3zM733.9 708H742.3V712H733.9zM733.9 712H742.3V716H733.9zM725.4 724H733.9V728H725.4zM717 728H725.4V732H717zM708.5 732H717V736H708.5zM700.1 736H708.5V740H700.1zM691.6 740H700.1V744H691.6zM683.1 748H691.6V752H683.1zM683.1 752H691.6V756H683.1zM683.1 756H691.6V760H683.1zM700.1 760H708.5V764H700.1zM725.4 772H733.9V776H725.4zM598.6 780H632.4V782H598.6z"/><path fill="#500090" d="M776.2 212H784.6V216H776.2zM784.6 216H793.1V220H784.6zM962.3 220H970.7V224H962.3zM987.6 224H1185V228H987.6zM1055.3 684H1185V688H1055.3zM1038.4 688H1055.3V692H1038.4zM1029.9 692H1038.4V696H1029.9zM1013 696H1029.9V700H1013zM920 700H928.4V704H920zM877.7 708H894.6V712H877.7zM860.8 712H877.7V716H860.8zM852.3 716H860.8V720H852.3zM843.8 720H852.3V724H843.8zM801.5 744H810V748H801.5zM793.1 748H801.6V752H793.1zM784.6 756H793.1V760H784.6zM776.2 772H784.6V776H776.2zM776.2 776H784.6V780H776.2zM776.2 780H784.6V782H776.2z"/><path fill="#47006e" d="M784.6 212H793.1V216H784.6zM962.3 216H970.7V220H962.3zM1038.4 700H1185V704H1038.4zM928.4 708H1013V712H928.4zM920 712H928.4V716H920zM911.5 716H920V720H911.5zM877.7 720H911.5V724H877.7zM860.8 724H869.2V728H860.8zM852.3 728H860.8V732H852.3zM843.8 732H852.3V736H843.8zM835.4 736H843.8V740H835.4zM826.9 740H835.4V744H826.9zM818.5 744H826.9V748H818.5zM810 752H818.5V756H810zM793.1 764H801.6V768H793.1zM793.1 768H801.6V772H793.1z"/><path fill="#3c0059" d="M793.1 212H801.6V216H793.1zM835.4 212H962.3V216H835.4zM979.2 216H1185V220H979.2zM1038.4 704H1185V708H1038.4zM1029.9 708H1038.4V712H1029.9zM962.3 712H1013V716H962.3zM920 716H928.4V720H920zM911.5 720H920V724H911.5zM877.7 724H911.5V728H877.7zM869.2 728H877.7V732H869.2zM852.3 732H860.8V736H852.3zM843.8 736H852.3V740H843.8zM835.4 740H843.8V744H835.4zM826.9 744H835.4V748H826.9zM818.5 752H826.9V756H818.5zM801.5 764H810V768H801.5zM801.5 768H810V772H801.5zM793.1 776H801.6V780H793.1zM793.1 780H801.6V782H793.1z"/><path fill="#00ff76" d="M170 216H175.7V220H170zM277.2 216H387.1V220H277.2zM446.3 224H463.2V228H446.3zM471.7 228H480.1V232H471.7zM514 236H539.4V240H514zM547.8 240H556.3V244H547.8zM556.3 248H564.7V252H556.3zM564.7 252H573.2V256H564.7zM700.1 256H708.5V260H700.1zM733.9 264H759.3V268H733.9zM784.6 268H826.9V272H784.6zM835.4 272H843.8V276H835.4zM843.8 280H860.8V284H843.8zM970.7 284H979.2V288H970.7zM801.5 288H826.9V292H801.5zM979.2 288H987.6V292H979.2zM793.1 292H801.6V296H793.1zM826.9 292H843.8V296H826.9zM987.6 292H996.1V296H987.6zM835.4 296H843.8V300H835.4zM996.1 296H1185V300H996.1zM784.6 300H793.1V304H784.6zM835.4 300H843.8V304H835.4zM784.6 304H793.1V308H784.6zM843.8 312H852.3V316H843.8zM793.1 316H801.6V320H793.1zM793.1 320H801.6V324H793.1zM860.8 320H886.1V324H860.8zM793.1 324H801.6V328H793.1zM886.1 324H894.6V328H886.1zM886.1 328H894.6V332H886.1zM886.1 332H894.6V336H886.1zM784.6 336H793.1V340H784.6zM877.7 336H886.1V340H877.7zM869.2 340H877.7V344H869.2zM860.8 344H869.2V348H860.8zM852.3 356H860.8V360H852.3zM852.3 360H860.8V364H852.3zM852.3 364H860.8V368H852.3zM852.3 368H860.8V372H852.3zM776.2 372H784.6V376H776.2zM776.2 376H784.6V380H776.2zM776.2 380H784.6V384H776.2zM776.2 384H784.6V388H776.2zM776.2 388H784.6V392H776.2zM776.2 392H784.6V396H776.2zM776.2 396H784.6V400H776.2zM776.2 400H784.6V404H776.2zM776.2 404H784.6V408H776.2zM776.2 408H784.6V412H776.2zM776.2 412H784.6V416H776.2zM776.2 416H784.6V420H776.2zM776.2 420H784.6V424H776.2zM776.2 424H784.6V428H776.2zM860.8 436H869.2V440H860.8zM860.8 440H869.2V444H860.8zM776.2 448H784.6V452H776.2zM776.2 452H784.6V456H776.2zM776.2 456H784.6V460H776.2zM776.2 460H784.6V464H776.2zM776.2 464H784.6V468H776.2zM776.2 468H784.6V472H776.2zM776.2 472H784.6V476H776.2zM776.2 476H784.6V480H776.2zM810 480H826.9V484H810zM801.5 484H810V488H801.5zM793.1 488H801.6V492H793.1zM784.6 492H793.1V496H784.6zM784.6 496H793.1V500H784.6zM826.9 496H835.4V500H826.9zM826.9 500H835.4V504H826.9zM826.9 504H835.4V508H826.9zM784.6 516H793.1V520H784.6zM860.8 516H869.2V520H860.8zM784.6 520H793.1V524H784.6zM860.8 520H869.2V524H860.8zM784.6 524H793.1V528H784.6zM784.6 528H793.1V532H784.6zM784.6 532H793.1V536H784.6zM784.6 536H793.1V540H784.6zM860.8 544H869.2V548H860.8zM869.2 548H894.6V552H869.2zM784.6 552H793.1V556H784.6zM886.1 552H894.6V556H886.1zM784.6 556H793.1V560H784.6zM886.1 556H894.6V560H886.1zM784.6 560H793.1V564H784.6zM793.1 564H801.6V568H793.1zM801.5 568H810V572H801.5zM826.9 568H835.4V572H826.9zM776.2 572H784.6V576H776.2zM826.9 572H835.4V576H826.9zM810 576H826.9V580H810zM894.6 576H903V580H894.6zM767.7 584H776.2V588H767.7zM911.5 584H920V588H911.5zM759.3 600H767.7V604H759.3zM750.8 612H759.3V616H750.8zM750.8 616H759.3V620H750.8zM750.8 636H759.3V640H750.8zM742.3 644H750.8V648H742.3zM717 652H725.4V656H717zM700.1 668H708.5V672H700.1zM691.6 680H700.1V684H691.6zM691.6 684H700.1V688H691.6zM683.1 696H691.6V700H683.1zM674.7 704H683.1V708H674.7zM657.8 712H666.2V716H657.8zM615.5 716H623.9V720H615.5zM640.8 716H657.8V720H640.8zM598.6 720H607V724H598.6zM539.4 724H590.1V728H539.4zM497.1 760H505.5V764H497.1zM480.1 764H488.6V768H480.1zM471.7 768H480.1V772H471.7z"/><path fill="#00ff65" d="M175.7 216H184.1V220H175.7zM387.1 220H395.6V224H387.1zM437.9 224H446.3V228H437.9zM683.1 256H700.1V260H683.1zM708.5 260H717V264H708.5zM725.4 264H733.9V268H725.4zM776.2 268H784.6V272H776.2zM793.1 272H835.4V276H793.1zM835.4 276H843.8V280H835.4zM835.4 280H843.8V284H835.4zM801.5 284H970.7V288H801.5zM793.1 288H801.6V292H793.1zM826.9 288H843.8V292H826.9zM784.6 292H793.1V296H784.6zM979.2 292H987.6V296H979.2zM784.6 296H793.1V300H784.6zM987.6 296H996.1V300H987.6zM843.8 304H852.3V308H843.8zM784.6 308H793.1V312H784.6zM843.8 308H852.3V312H843.8zM852.3 316H886.1V320H852.3zM886.1 320H894.6V324H886.1zM784.6 332H793.1V336H784.6zM886.1 336H894.6V340H886.1zM877.7 340H886.1V344H877.7zM869.2 344H877.7V348H869.2zM860.8 348H869.2V352H860.8zM776.2 352H784.6V356H776.2zM776.2 356H784.6V360H776.2zM776.2 360H784.6V364H776.2zM776.2 364H784.6V368H776.2zM776.2 368H784.6V372H776.2zM860.8 428H869.2V432H860.8zM860.8 432H869.2V436H860.8zM776.2 480H784.6V484H776.2zM776.2 484H784.6V488H776.2zM810 484H826.9V488H810zM801.5 488H810V492H801.5zM793.1 492H801.6V496H793.1zM793.1 496H801.6V500H793.1zM784.6 500H793.1V504H784.6zM784.6 504H793.1V508H784.6zM784.6 508H793.1V512H784.6zM826.9 508H835.4V512H826.9zM784.6 512H793.1V516H784.6zM826.9 512H835.4V516H826.9zM826.9 516H835.4V520H826.9zM793.1 520H801.6V524H793.1zM826.9 520H835.4V524H826.9zM793.1 524H801.6V528H793.1zM826.9 524H835.4V528H826.9zM860.8 524H869.2V528H860.8zM793.1 528H801.6V532H793.1zM826.9 528H835.4V532H826.9zM860.8 528H869.2V532H860.8zM793.1 532H801.6V536H793.1zM826.9 532H835.4V536H826.9zM860.8 532H869.2V536H860.8zM826.9 536H835.4V540H826.9zM860.8 536H869.2V540H860.8zM784.6 540H793.1V544H784.6zM826.9 540H835.4V544H826.9zM860.8 540H869.2V544H860.8zM784.6 544H793.1V548H784.6zM826.9 544H835.4V548H826.9zM869.2 544H894.6V548H869.2zM784.6 548H793.1V552H784.6zM826.9 548H835.4V552H826.9zM826.9 552H835.4V556H826.9zM793.1 556H801.6V560H793.1zM826.9 556H835.4V560H826.9zM793.1 560H801.6V564H793.1zM826.9 560H835.4V564H826.9zM776.2 564H784.6V568H776.2zM801.5 564H810V568H801.5zM826.9 564H835.4V568H826.9zM776.2 568H784.6V572H776.2zM894.6 568H903V572H894.6zM810 572H826.9V576H810zM894.6 572H903V576H894.6zM767.7 580H776.2V584H767.7zM903 580H911.5V584H903zM920 584H1185V588H920zM759.3 592H767.7V596H759.3zM759.3 596H767.7V600H759.3zM725.4 648H733.9V652H725.4zM708.5 656H717V660H708.5zM700.1 664H708.5V668H700.1zM691.6 676H700.1V680H691.6zM683.1 692H691.6V696H683.1zM674.7 700H683.1V704H674.7zM666.2 708H674.7V712H666.2zM615.5 712H657.8V716H615.5zM598.6 716H615.5V720H598.6zM590.1 720H598.6V724H590.1zM530.9 724H539.4V728H530.9zM514 736H522.4V740H514zM505.5 744H514V748H505.5zM497.1 756H505.5V760H497.1zM454.8 776H463.2V780H454.8zM454.8 780H463.2V782H454.8z"/><path fill="#00ff10" d="M184.1 216H192.6V220H184.1zM378.6 220H387.1V224H378.6zM395.6 224H404V228H395.6zM437.9 228H446.3V232H437.9zM497.1 236H505.5V240H497.1zM505.5 240H530.9V244H505.5zM547.8 252H556.3V256H547.8zM556.3 260H564.7V264H556.3zM700.1 264H708.5V268H700.1zM717 268H725.4V272H717zM776.2 276H784.6V280H776.2zM776.2 280H784.6V284H776.2zM776.2 288H784.6V292H776.2zM776.2 292H784.6V296H776.2zM869.2 296H970.7V300H869.2zM860.8 300H979.2V304H860.8zM869.2 304H911.5V308H869.2zM970.7 304H987.6V308H970.7zM776.2 308H784.6V312H776.2zM894.6 308H911.5V312H894.6zM776.2 312H784.6V316H776.2zM903 312H911.5V316H903zM903 316H911.5V320H903zM903 320H911.5V324H903zM903 324H911.5V328H903zM903 328H911.5V332H903zM776.2 332H784.6V336H776.2zM903 332H911.5V336H903zM903 336H911.5V340H903zM903 340H911.5V344H903zM886.1 348H903V352H886.1zM767.7 364H776.2V368H767.7zM767.7 368H776.2V372H767.7zM767.7 372H776.2V376H767.7zM767.7 376H776.2V380H767.7zM767.7 380H776.2V384H767.7zM767.7 384H776.2V388H767.7zM767.7 388H776.2V392H767.7zM767.7 400H776.2V404H767.7zM767.7 404H776.2V408H767.7zM767.7 408H776.2V412H767.7zM767.7 412H776.2V416H767.7zM767.7 416H776.2V420H767.7zM767.7 420H776.2V424H767.7zM767.7 424H776.2V428H767.7zM767.7 428H776.2V432H767.7zM869.2 432H877.7V436H869.2zM869.2 436H877.7V440H869.2zM869.2 440H877.7V444H869.2zM767.7 476H776.2V480H767.7zM767.7 480H776.2V484H767.7zM767.7 484H776.2V488H767.7zM767.7 488H776.2V492H767.7zM877.7 488H886.1V492H877.7zM877.7 492H886.1V496H877.7zM877.7 496H886.1V500H877.7zM810 500H818.5V504H810zM877.7 500H886.1V504H877.7zM810 504H818.5V508H810zM877.7 504H886.1V508H877.7zM810 508H818.5V512H810zM810 512H818.5V516H810zM877.7 520H886.1V524H877.7zM877.7 524H886.1V528H877.7zM886.1 528H894.6V532H886.1zM767.7 536H776.2V540H767.7zM810 536H818.5V540H810zM894.6 536H903V540H894.6zM767.7 540H776.2V544H767.7zM810 540H818.5V544H810zM767.7 544H776.2V548H767.7zM810 544H818.5V548H810zM903 544H911.5V548H903zM767.7 548H776.2V552H767.7zM810 548H818.5V552H810zM903 548H911.5V552H903zM767.7 552H776.2V556H767.7zM810 552H818.5V556H810zM903 552H911.5V556H903zM767.7 556H776.2V560H767.7zM903 556H911.5V560H903zM767.7 560H776.2V564H767.7zM911.5 564H920V568H911.5zM911.5 568H928.4V572H911.5zM920 572H1185V576H920zM759.3 576H767.7V580H759.3zM750.8 592H759.3V596H750.8zM750.8 596H759.3V600H750.8zM742.3 612H750.8V616H742.3zM733.9 628H742.3V632H733.9zM733.9 632H742.3V636H733.9zM717 636H733.9V640H717zM708.5 640H725.4V644H708.5zM708.5 644H717V648H708.5zM700.1 652H708.5V656H700.1zM683.1 664H691.6V668H683.1zM683.1 668H691.6V672H683.1zM674.7 676H683.1V680H674.7zM674.7 680H683.1V684H674.7zM674.7 684H683.1V688H674.7zM666.2 688H674.7V692H666.2zM666.2 692H674.7V696H666.2zM657.8 696H666.2V700H657.8zM590.1 700H657.8V704H590.1zM581.6 704H607V708H581.6zM573.2 708H590.1V712H573.2zM547.8 712H590.1V716H547.8zM530.9 716H547.8V720H530.9zM497.1 744H505.5V748H497.1zM488.6 748H497.1V752H488.6zM480.1 756H488.6V760H480.1zM446.3 776H454.8V780H446.3zM446.3 780H454.8V782H446.3z"/><path fill="#1eff01" d="M192.6 216H260.2V220H192.6zM412.5 228H437.9V232H412.5zM437.9 232H446.3V236H437.9zM488.6 240H497.1V244H488.6zM505.5 244H514V248H505.5zM700.1 268H708.5V272H700.1zM717 272H750.8V276H717zM767.7 280H776.2V284H767.7zM987.6 316H996.1V320H987.6zM979.2 320H987.6V324H979.2zM970.7 332H979.2V336H970.7zM936.9 336H970.7V340H936.9zM767.7 340H776.2V344H767.7zM928.4 340H936.9V344H928.4zM920 348H928.4V352H920zM911.5 352H920V356H911.5zM886.1 356H911.5V360H886.1zM869.2 364H877.7V368H869.2zM869.2 368H877.7V372H869.2zM759.3 388H767.7V392H759.3zM759.3 392H767.7V396H759.3zM759.3 396H767.7V400H759.3zM869.2 396H877.7V400H869.2zM759.3 400H767.7V404H759.3zM869.2 400H877.7V404H869.2zM759.3 404H767.7V408H759.3zM869.2 404H877.7V408H869.2zM869.2 408H877.7V412H869.2zM877.7 432H886.1V436H877.7zM327.9 436H336.4V440H327.9zM759.3 436H767.7V440H759.3zM877.7 436H886.1V440H877.7zM759.3 440H767.7V444H759.3zM877.7 440H886.1V444H877.7zM759.3 444H767.7V448H759.3zM336.4 448H344.8V452H336.4zM759.3 448H767.7V452H759.3zM886.1 448H903V452H886.1zM759.3 452H767.7V456H759.3zM886.1 452H911.5V456H886.1zM353.3 456H361.7V460H353.3zM759.3 456H767.7V460H759.3zM903 456H911.5V460H903zM759.3 460H767.7V464H759.3zM886.1 460H894.6V464H886.1zM903 460H911.5V464H903zM759.3 464H767.7V468H759.3zM886.1 464H911.5V468H886.1zM759.3 468H767.7V472H759.3zM886.1 468H911.5V472H886.1zM759.3 472H767.7V476H759.3zM886.1 472H894.6V476H886.1zM903 472H911.5V476H903zM361.7 492H370.2V496H361.7zM903 496H911.5V500H903zM903 500H911.5V504H903zM894.6 504H903V508H894.6zM894.6 508H903V512H894.6zM894.6 512H903V516H894.6zM894.6 516H903V520H894.6zM894.6 520H903V524H894.6zM894.6 524H903V528H894.6zM903 532H911.5V536H903zM911.5 536H920V540H911.5zM920 544H928.4V548H920zM920 548H928.4V552H920zM759.3 556H767.7V560H759.3zM759.3 560H767.7V564H759.3zM928.4 560H936.9V564H928.4zM936.9 564H1185V568H936.9zM750.8 576H759.3V580H750.8zM742.3 600H750.8V604H742.3zM725.4 620H733.9V624H725.4zM708.5 624H725.4V628H708.5zM700.1 628H708.5V632H700.1zM700.1 632H708.5V636H700.1zM700.1 636H708.5V640H700.1zM691.6 648H700.1V652H691.6zM683.1 656H691.6V660H683.1zM666.2 660H674.7V664H666.2zM657.8 672H666.2V676H657.8zM657.8 676H666.2V680H657.8zM649.3 680H657.8V684H649.3zM564.7 684H607V688H564.7zM649.3 684H657.8V688H649.3zM556.3 688H564.7V692H556.3zM615.5 688H623.9V692H615.5zM640.8 688H649.3V692H640.8zM632.4 692H640.8V696H632.4zM530.9 696H539.4V700H530.9zM505.5 732H514V736H505.5zM480.1 740H505.5V744H480.1zM471.7 760H480.1V764H471.7zM463.2 764H471.7V768H463.2z"/><path fill="#14ff06" d="M260.2 216H268.7V220H260.2zM175.7 220H184.1V224H175.7zM446.3 236H488.6V240H446.3zM497.1 248H505.5V252H497.1zM547.8 264H564.7V268H547.8zM607 264H691.6V268H607zM708.5 268H717V272H708.5zM750.8 272H759.3V276H750.8zM767.7 276H776.2V280H767.7zM979.2 312H1185V316H979.2zM979.2 316H987.6V320H979.2zM970.7 320H979.2V324H970.7zM970.7 324H979.2V328H970.7zM970.7 328H979.2V332H970.7zM936.9 332H970.7V336H936.9zM928.4 336H936.9V340H928.4zM920 340H928.4V344H920zM767.7 344H776.2V348H767.7zM920 344H928.4V348H920zM767.7 348H776.2V352H767.7zM911.5 348H920V352H911.5zM894.6 352H911.5V356H894.6zM877.7 356H886.1V360H877.7zM869.2 360H877.7V364H869.2zM869.2 412H877.7V416H869.2zM869.2 416H877.7V420H869.2zM327.9 440H336.4V444H327.9zM877.7 444H886.1V448H877.7zM877.7 448H886.1V452H877.7zM361.7 452H370.2V456H361.7zM877.7 452H886.1V456H877.7zM327.9 456H353.3V460H327.9zM877.7 456H903V460H877.7zM877.7 460H886.1V464H877.7zM894.6 460H903V464H894.6zM877.7 464H886.1V468H877.7zM877.7 468H886.1V472H877.7zM877.7 472H886.1V476H877.7zM894.6 472H903V476H894.6zM886.1 476H911.5V480H886.1zM886.1 480H911.5V484H886.1zM903 484H911.5V488H903zM903 488H911.5V492H903zM903 492H911.5V496H903zM378.6 496H387.1V500H378.6zM894.6 496H903V500H894.6zM894.6 500H903V504H894.6zM886.1 508H894.6V512H886.1zM886.1 512H894.6V516H886.1zM886.1 516H894.6V520H886.1zM886.1 520H894.6V524H886.1zM894.6 528H903V532H894.6zM903 536H911.5V540H903zM911.5 540H920V544H911.5zM911.5 544H920V548H911.5zM920 552H928.4V556H920zM920 556H928.4V560H920zM759.3 564H767.7V568H759.3zM928.4 564H936.9V568H928.4zM759.3 568H767.7V572H759.3zM750.8 580H759.3V584H750.8zM750.8 584H759.3V588H750.8zM742.3 604H750.8V608H742.3zM733.9 616H742.3V620H733.9zM725.4 624H733.9V628H725.4zM708.5 628H725.4V632H708.5zM700.1 640H708.5V644H700.1zM700.1 644H708.5V648H700.1zM691.6 652H700.1V656H691.6zM674.7 660H683.1V664H674.7zM666.2 664H674.7V668H666.2zM666.2 668H674.7V672H666.2zM666.2 672H674.7V676H666.2zM657.8 680H666.2V684H657.8zM564.7 688H615.5V692H564.7zM649.3 688H657.8V692H649.3zM556.3 692H564.7V696H556.3zM615.5 692H632.4V696H615.5zM640.8 692H649.3V696H640.8zM539.4 696H564.7V700H539.4zM522.4 720H530.9V724H522.4zM454.8 768H463.2V772H454.8zM429.4 772H446.3V776H429.4z"/><path fill="#00ff40" d="M268.7 216H277.2V220H268.7zM412.5 224H437.9V228H412.5zM480.1 232H497.1V236H480.1zM556.3 256H564.7V260H556.3zM700.1 260H708.5V264H700.1zM750.8 268H767.7V272H750.8zM776.2 272H784.6V276H776.2zM784.6 276H793.1V280H784.6zM784.6 280H793.1V284H784.6zM784.6 284H793.1V288H784.6zM852.3 292H860.8V296H852.3zM970.7 292H979.2V296H970.7zM979.2 300H996.1V304H979.2zM852.3 308H860.8V312H852.3zM869.2 312H894.6V316H869.2zM784.6 320H793.1V324H784.6zM894.6 320H903V324H894.6zM894.6 324H903V328H894.6zM894.6 332H903V336H894.6zM894.6 336H903V340H894.6zM776.2 340H784.6V344H776.2zM776.2 344H784.6V348H776.2zM886.1 344H894.6V348H886.1zM869.2 348H877.7V352H869.2zM860.8 356H869.2V360H860.8zM860.8 384H869.2V388H860.8zM860.8 388H869.2V392H860.8zM860.8 392H869.2V396H860.8zM860.8 396H869.2V400H860.8zM869.2 456H877.7V460H869.2zM869.2 460H877.7V464H869.2zM869.2 464H877.7V468H869.2zM869.2 468H877.7V472H869.2zM810 488H818.5V492H810zM810 492H826.9V496H810zM801.5 496H810V500H801.5zM818.5 496H826.9V500H818.5zM818.5 500H826.9V504H818.5zM869.2 500H877.7V504H869.2zM869.2 504H877.7V508H869.2zM869.2 508H877.7V512H869.2zM869.2 512H877.7V516H869.2zM801.5 520H810V524H801.5zM801.5 524H810V528H801.5zM818.5 524H826.9V528H818.5zM801.5 528H810V532H801.5zM801.5 532H810V536H801.5zM869.2 532H877.7V536H869.2zM869.2 536H894.6V540H869.2zM894.6 544H903V548H894.6zM801.5 556H810V560H801.5zM818.5 556H826.9V560H818.5zM810 560H826.9V564H810zM810 564H826.9V568H810zM767.7 572H776.2V576H767.7zM903 572H911.5V576H903zM911.5 576H920V580H911.5zM759.3 584H767.7V588H759.3zM750.8 604H759.3V608H750.8zM742.3 620H750.8V624H742.3zM733.9 640H742.3V644H733.9zM717 644H733.9V648H717zM700.1 656H708.5V660H700.1zM691.6 664H700.1V668H691.6zM683.1 680H691.6V684H683.1zM683.1 684H691.6V688H683.1zM674.7 692H683.1V696H674.7zM666.2 700H674.7V704H666.2zM657.8 704H666.2V708H657.8zM607 708H623.9V712H607zM649.3 708H657.8V712H649.3zM598.6 712H607V716H598.6zM530.9 720H547.8V724H530.9zM514 732H522.4V736H514zM505.5 740H514V744H505.5zM497.1 752H505.5V756H497.1zM463.2 768H471.7V772H463.2z"/><path fill="#00ffd3" d="M463.2 216H471.7V220H463.2zM497.1 224H505.5V228H497.1zM547.8 228H556.3V232H547.8zM564.7 240H598.6V244H564.7zM725.4 252H733.9V256H725.4zM750.8 256H835.4V260H750.8zM843.8 260H852.3V264H843.8zM852.3 264H860.8V268H852.3zM945.3 264H962.3V268H945.3zM996.1 272H1185V276H996.1zM801.5 344H818.5V348H801.5zM826.9 352H835.4V356H826.9zM835.4 384H843.8V388H835.4zM784.6 392H793.1V396H784.6zM843.8 392H852.3V396H843.8zM784.6 396H793.1V400H784.6zM784.6 400H793.1V404H784.6zM784.6 404H793.1V408H784.6zM784.6 408H793.1V412H784.6zM784.6 412H793.1V416H784.6zM784.6 416H793.1V420H784.6zM784.6 420H793.1V424H784.6zM784.6 424H793.1V428H784.6zM784.6 428H793.1V432H784.6zM784.6 432H793.1V436H784.6zM784.6 436H793.1V440H784.6zM852.3 448H860.8V452H852.3zM793.1 456H801.6V460H793.1zM810 456H826.9V460H810zM793.1 460H810V464H793.1zM826.9 460H835.4V464H826.9zM793.1 464H810V468H793.1zM835.4 484H843.8V488H835.4zM843.8 504H860.8V508H843.8zM877.7 588H886.1V592H877.7zM860.8 592H869.2V596H860.8zM826.9 596H835.4V600H826.9zM784.6 600H810V604H784.6zM818.5 600H826.9V604H818.5zM911.5 600H1029.9V604H911.5zM776.2 608H784.6V612H776.2zM776.2 612H784.6V616H776.2zM767.7 620H776.2V624H767.7zM767.7 624H776.2V628H767.7zM767.7 628H776.2V632H767.7zM776.2 636H793.1V640H776.2zM776.2 640H793.1V644H776.2zM767.7 644H776.2V648H767.7zM742.3 656H750.8V660H742.3zM733.9 660H742.3V664H733.9zM725.4 664H733.9V668H725.4zM717 672H725.4V676H717zM708.5 684H717V688H708.5zM700.1 700H708.5V704H700.1zM657.8 732H666.2V736H657.8zM539.4 736H573.2V740H539.4zM649.3 736H657.8V740H649.3zM598.6 740H607V744H598.6zM640.8 740H649.3V744H640.8zM598.6 748H607V752H598.6zM632.4 748H640.8V752H632.4zM598.6 752H607V756H598.6zM623.9 752H632.4V756H623.9zM598.6 756H607V760H598.6zM615.5 756H623.9V760H615.5zM505.5 760H514V764H505.5zM497.1 772H505.5V776H497.1zM480.1 776H497.1V780H480.1zM480.1 780H497.1V782H480.1z"/><path fill="#0aff0b" d="M170 220H175.7V224H170zM277.2 220H378.7V224H277.2zM488.6 236H497.1V240H488.6zM497.1 240H505.5V244H497.1zM497.1 244H505.5V248H497.1zM539.4 244H547.8V248H539.4zM547.8 256H556.3V260H547.8zM547.8 260H556.3V264H547.8zM564.7 264H607V268H564.7zM691.6 264H700.1V268H691.6zM759.3 272H767.7V276H759.3zM776.2 284H784.6V288H776.2zM911.5 304H970.7V308H911.5zM911.5 308H1185V312H911.5zM911.5 312H979.2V316H911.5zM776.2 316H784.6V320H776.2zM911.5 316H979.2V320H911.5zM776.2 320H784.6V324H776.2zM911.5 320H970.7V324H911.5zM776.2 324H784.6V328H776.2zM911.5 324H970.7V328H911.5zM776.2 328H784.6V332H776.2zM911.5 328H970.7V332H911.5zM911.5 332H936.9V336H911.5zM911.5 336H928.4V340H911.5zM911.5 340H920V344H911.5zM903 344H920V348H903zM903 348H911.5V352H903zM767.7 352H776.2V356H767.7zM877.7 352H894.6V356H877.7zM767.7 356H776.2V360H767.7zM869.2 356H877.7V360H869.2zM767.7 360H776.2V364H767.7zM869.2 420H877.7V424H869.2zM869.2 424H877.7V428H869.2zM869.2 428H877.7V432H869.2zM327.9 444H336.4V448H327.9zM327.9 448H336.4V452H327.9zM327.9 452H361.7V456H327.9zM877.7 476H886.1V480H877.7zM877.7 480H886.1V484H877.7zM877.7 484H903V488H877.7zM886.1 488H903V492H886.1zM767.7 492H776.2V496H767.7zM886.1 492H903V496H886.1zM361.7 496H378.7V500H361.7zM767.7 496H776.2V500H767.7zM886.1 496H894.6V500H886.1zM767.7 500H776.2V504H767.7zM886.1 500H894.6V504H886.1zM767.7 504H776.2V508H767.7zM886.1 504H894.6V508H886.1zM767.7 508H776.2V512H767.7zM877.7 508H886.1V512H877.7zM767.7 512H776.2V516H767.7zM877.7 512H886.1V516H877.7zM767.7 516H776.2V520H767.7zM877.7 516H886.1V520H877.7zM767.7 520H776.2V524H767.7zM767.7 524H776.2V528H767.7zM886.1 524H894.6V528H886.1zM767.7 528H776.2V532H767.7zM767.7 532H776.2V536H767.7zM894.6 532H903V536H894.6zM903 540H911.5V544H903zM911.5 548H920V552H911.5zM911.5 552H920V556H911.5zM911.5 556H920V560H911.5zM911.5 560H928.4V564H911.5zM920 564H928.4V568H920zM928.4 568H1185V572H928.4zM759.3 572H767.7V576H759.3zM750.8 588H759.3V592H750.8zM742.3 608H750.8V612H742.3zM733.9 620H742.3V624H733.9zM733.9 624H742.3V628H733.9zM725.4 628H733.9V632H725.4zM708.5 632H733.9V636H708.5zM708.5 636H717V640H708.5zM700.1 648H708.5V652H700.1zM691.6 656H700.1V660H691.6zM683.1 660H691.6V664H683.1zM674.7 664H683.1V668H674.7zM674.7 668H683.1V672H674.7zM674.7 672H683.1V676H674.7zM666.2 676H674.7V680H666.2zM666.2 680H674.7V684H666.2zM657.8 684H674.7V688H657.8zM657.8 688H666.2V692H657.8zM564.7 692H615.5V696H564.7zM649.3 692H666.2V696H649.3zM564.7 696H657.8V700H564.7zM530.9 700H590.1V704H530.9zM530.9 704H581.6V708H530.9zM530.9 708H573.2V712H530.9zM530.9 712H547.8V716H530.9zM514 728H522.4V732H514zM505.5 736H514V740H505.5zM480.1 744H497.1V748H480.1zM480.1 748H488.6V752H480.1zM480.1 752H488.6V756H480.1zM446.3 772H454.8V776H446.3zM429.4 776H446.3V780H429.4zM429.4 780H446.3V782H429.4z"/><path fill="#70ff00" d="M184.1 220H192.6V224H184.1zM480.1 244H488.6V248H480.1zM497.1 252H505.5V256H497.1zM547.8 272H607V276H547.8zM708.5 276H717V280H708.5zM750.8 280H759.3V284H750.8zM759.3 284H767.7V288H759.3zM996.1 332H1185V336H996.1zM759.3 336H767.7V340H759.3zM987.6 336H1185V340H987.6zM759.3 340H767.7V344H759.3zM979.2 340H987.6V344H979.2zM759.3 344H767.7V348H759.3zM962.3 344H979.2V348H962.3zM936.9 348H945.3V352H936.9zM928.4 356H936.9V360H928.4zM920 364H928.4V368H920zM920 368H928.4V372H920zM920 372H928.4V376H920zM911.5 376H920V380H911.5zM911.5 380H920V384H911.5zM750.8 384H759.3V388H750.8zM903 384H920V388H903zM903 388H920V392H903zM903 392H920V396H903zM903 396H920V400H903zM903 400H920V404H903zM750.8 404H759.3V408H750.8zM903 404H920V408H903zM750.8 408H759.3V412H750.8zM903 408H920V412H903zM903 412H920V416H903zM903 416H920V420H903zM903 420H920V424H903zM911.5 424H920V428H911.5zM911.5 428H920V432H911.5zM750.8 432H759.3V436H750.8zM911.5 432H920V436H911.5zM750.8 436H759.3V440H750.8zM920 440H928.4V444H920zM344.8 444H361.7V448H344.8zM742.3 444H750.8V448H742.3zM920 444H928.4V448H920zM733.9 448H742.3V452H733.9zM920 448H928.4V452H920zM370.2 452H378.7V456H370.2zM920 452H928.4V456H920zM920 456H928.4V460H920zM319.4 460H327.9V464H319.4zM361.7 460H370.2V464H361.7zM928.4 464H936.9V468H928.4zM344.8 468H353.3V472H344.8zM928.4 468H936.9V472H928.4zM344.8 472H353.3V476H344.8zM928.4 472H936.9V476H928.4zM344.8 476H353.3V480H344.8zM928.4 476H936.9V480H928.4zM344.8 480H361.7V484H344.8zM733.9 480H759.3V484H733.9zM928.4 480H936.9V484H928.4zM353.3 484H361.7V488H353.3zM928.4 484H936.9V488H928.4zM353.3 488H361.7V492H353.3zM928.4 488H936.9V492H928.4zM353.3 492H361.7V496H353.3zM928.4 492H936.9V496H928.4zM387.1 496H395.6V500H387.1zM928.4 496H936.9V500H928.4zM361.7 504H387.1V508H361.7zM920 504H928.4V508H920zM920 508H928.4V512H920zM920 512H928.4V516H920zM920 516H928.4V520H920zM920 520H928.4V524H920zM920 524H928.4V528H920zM928.4 536H936.9V540H928.4zM928.4 540H936.9V544H928.4zM1131.4 540H1185V544H1131.4zM1106 544H1185V548H1106zM750.8 548H759.3V552H750.8zM936.9 548H945.3V552H936.9zM1097.6 548H1114.5V552H1097.6zM750.8 552H759.3V556H750.8zM945.3 552H1097.6V556H945.3zM742.3 576H750.8V580H742.3zM733.9 600H742.3V604H733.9zM725.4 608H733.9V612H725.4zM708.5 612H725.4V616H708.5zM700.1 616H708.5V620H700.1zM691.6 624H700.1V628H691.6zM674.7 648H683.1V652H674.7zM657.8 656H666.2V660H657.8zM649.3 664H657.8V668H649.3zM573.2 676H615.5V680H573.2zM623.9 680H640.8V684H623.9zM530.9 684H547.8V688H530.9zM522.4 692H530.9V696H522.4zM514 720H522.4V724H514zM505.5 724H514V728H505.5zM471.7 748H480.1V752H471.7zM454.8 764H463.2V768H454.8zM420.9 772H429.4V776H420.9z"/><path fill="#abff00" d="M192.6 220H260.2V224H192.6zM175.7 224H184.1V228H175.7zM412.5 236H429.4V240H412.5zM514 252H522.4V256H514zM514 256H522.4V260H514zM514 260H530.9V264H514zM514 264H530.9V268H514zM547.8 284H556.3V288H547.8zM547.8 288H573.2V292H547.8zM547.8 292H674.7V296H547.8zM556.3 296H733.9V300H556.3zM581.6 300H640.8V304H581.6zM649.3 300H742.3V304H649.3zM590.1 304H632.4V308H590.1zM657.8 304H742.3V308H657.8zM598.6 308H623.9V312H598.6zM666.2 308H742.3V312H666.2zM666.2 312H742.3V316H666.2zM674.7 316H742.3V320H674.7zM674.7 320H742.3V324H674.7zM683.1 324H742.3V328H683.1zM683.1 328H742.3V332H683.1zM683.1 332H742.3V336H683.1zM700.1 336H742.3V340H700.1zM725.4 340H742.3V344H725.4zM733.9 344H742.3V348H733.9zM733.9 348H742.3V352H733.9zM480.1 352H556.3V356H480.1zM733.9 352H742.3V356H733.9zM480.1 356H556.3V360H480.1zM733.9 356H742.3V360H733.9zM480.1 360H556.3V364H480.1zM733.9 360H742.3V364H733.9zM480.1 364H556.3V368H480.1zM733.9 364H742.3V368H733.9zM996.1 364H1185V368H996.1zM480.1 368H556.3V372H480.1zM733.9 368H742.3V372H733.9zM953.8 368H1185V372H953.8zM480.1 372H556.3V376H480.1zM733.9 372H742.3V376H733.9zM953.8 372H1185V376H953.8zM480.1 376H547.8V380H480.1zM733.9 376H742.3V380H733.9zM953.8 376H1185V380H953.8zM480.1 380H547.8V384H480.1zM733.9 380H742.3V384H733.9zM953.8 380H1185V384H953.8zM488.6 384H539.4V388H488.6zM733.9 384H742.3V388H733.9zM953.8 384H1185V388H953.8zM497.1 388H539.4V392H497.1zM953.8 388H1185V392H953.8zM497.1 392H539.4V396H497.1zM953.8 392H1185V396H953.8zM497.1 396H530.9V400H497.1zM953.8 396H1185V400H953.8zM514 400H522.4V404H514zM953.8 400H1185V404H953.8zM514 404H522.4V408H514zM733.9 404H742.3V408H733.9zM953.8 404H987.6V408H953.8zM1165.2 404H1185V408H1165.2zM395.6 408H404V412H395.6zM514 408H522.4V412H514zM733.9 408H742.3V412H733.9zM953.8 408H979.2V412H953.8zM1165.2 408H1185V412H1165.2zM395.6 412H404V416H395.6zM514 412H522.4V416H514zM733.9 412H742.3V416H733.9zM953.8 412H979.2V416H953.8zM1165.2 412H1185V416H1165.2zM395.6 416H404V420H395.6zM514 416H522.4V420H514zM733.9 416H742.3V420H733.9zM953.8 416H970.7V420H953.8zM1165.2 416H1185V420H1165.2zM395.6 420H404V424H395.6zM514 420H522.4V424H514zM733.9 420H742.3V424H733.9zM945.3 420H970.7V424H945.3zM1173.7 420H1185V424H1173.7zM311 424H319.4V428H311zM327.9 424H336.4V428H327.9zM395.6 424H404V428H395.6zM514 424H522.4V428H514zM733.9 424H742.3V428H733.9zM945.3 424H962.3V428H945.3zM1173.7 424H1185V428H1173.7zM733.9 428H742.3V432H733.9zM945.3 428H962.3V432H945.3zM1173.7 428H1185V432H1173.7zM945.3 432H962.3V436H945.3zM1173.7 432H1185V436H1173.7zM344.8 436H361.7V440H344.8zM429.4 436H437.9V440H429.4zM945.3 436H962.3V440H945.3zM1173.7 436H1185V440H1173.7zM429.4 440H437.9V444H429.4zM945.3 440H962.3V444H945.3zM1173.7 440H1185V444H1173.7zM370.2 444H378.7V448H370.2zM429.4 444H437.9V448H429.4zM725.4 444H733.9V448H725.4zM953.8 444H962.3V448H953.8zM420.9 448H437.9V452H420.9zM953.8 448H962.3V452H953.8zM378.6 452H437.9V456H378.6zM953.8 452H962.3V456H953.8zM378.6 456H429.4V460H378.6zM953.8 456H962.3V460H953.8zM378.6 460H420.9V464H378.6zM953.8 460H962.3V464H953.8zM378.6 464H420.9V468H378.6zM953.8 464H962.3V468H953.8zM370.2 468H412.5V472H370.2zM370.2 472H378.7V476H370.2zM387.1 472H404V476H387.1zM294.1 480H311V484H294.1zM725.4 484H733.9V488H725.4zM395.6 492H404V496H395.6zM733.9 492H742.3V496H733.9zM395.6 496H404V500H395.6zM742.3 496H750.8V500H742.3zM395.6 500H404V504H395.6zM480.1 500H488.6V504H480.1zM742.3 500H750.8V504H742.3zM953.8 500H962.3V504H953.8zM395.6 504H404V508H395.6zM480.1 504H488.6V508H480.1zM742.3 504H750.8V508H742.3zM953.8 504H962.3V508H953.8zM395.6 508H404V512H395.6zM480.1 508H488.6V512H480.1zM742.3 508H750.8V512H742.3zM953.8 508H962.3V512H953.8zM1173.7 508H1185V512H1173.7zM361.7 512H404V516H361.7zM480.1 512H488.6V516H480.1zM742.3 512H750.8V516H742.3zM953.8 512H970.7V516H953.8zM1165.2 512H1185V516H1165.2zM361.7 516H404V520H361.7zM480.1 516H488.6V520H480.1zM953.8 516H970.7V520H953.8zM1156.8 516H1185V520H1156.8zM361.7 520H404V524H361.7zM480.1 520H488.6V524H480.1zM953.8 520H1029.9V524H953.8zM1089.1 520H1173.7V524H1089.1zM361.7 524H404V528H361.7zM480.1 524H497.1V528H480.1zM953.8 524H1106V528H953.8zM361.7 528H404V532H361.7zM480.1 528H497.1V532H480.1zM733.9 528H742.3V532H733.9zM953.8 528H1089.1V532H953.8zM361.7 532H404V536H361.7zM480.1 532H497.1V536H480.1zM733.9 532H742.3V536H733.9zM370.2 536H404V540H370.2zM471.7 536H505.5V540H471.7zM733.9 536H742.3V540H733.9zM378.6 540H437.9V544H378.6zM463.2 540H505.5V544H463.2zM733.9 540H742.3V544H733.9zM387.1 544H437.9V548H387.1zM463.2 544H505.5V548H463.2zM733.9 544H742.3V548H733.9zM395.6 548H437.9V552H395.6zM463.2 548H505.5V552H463.2zM733.9 548H742.3V552H733.9zM395.6 552H446.3V556H395.6zM454.8 552H505.5V556H454.8zM733.9 552H742.3V556H733.9zM395.6 556H505.5V560H395.6zM733.9 556H742.3V560H733.9zM395.6 560H505.5V564H395.6zM404 564H505.5V568H404zM404 568H505.5V572H404zM412.5 572H505.5V576H412.5zM420.9 576H505.5V580H420.9zM420.9 580H514V584H420.9zM429.4 584H514V588H429.4zM429.4 588H514V592H429.4zM429.4 592H514V596H429.4zM725.4 592H733.9V596H725.4zM429.4 596H522.4V600H429.4zM429.4 600H522.4V604H429.4zM429.4 604H437.9V608H429.4zM480.1 604H522.4V608H480.1zM700.1 604H708.5V608H700.1zM429.4 608H437.9V612H429.4zM505.5 608H522.4V612H505.5zM691.6 608H700.1V612H691.6zM429.4 612H437.9V616H429.4zM505.5 612H547.8V616H505.5zM683.1 612H691.6V616H683.1zM429.4 616H437.9V620H429.4zM505.5 616H547.8V620H505.5zM674.7 616H683.1V620H674.7zM429.4 620H437.9V624H429.4zM505.5 620H556.3V624H505.5zM666.2 620H683.1V624H666.2zM429.4 624H437.9V628H429.4zM480.1 624H556.3V628H480.1zM666.2 624H683.1V628H666.2zM429.4 628H437.9V632H429.4zM480.1 628H547.8V632H480.1zM666.2 628H683.1V632H666.2zM480.1 632H547.8V636H480.1zM674.7 632H683.1V636H674.7zM480.1 636H514V640H480.1zM666.2 636H674.7V640H666.2zM480.1 640H505.5V644H480.1zM480.1 644H505.5V648H480.1zM480.1 648H505.5V652H480.1zM649.3 648H657.8V652H649.3zM480.1 652H505.5V656H480.1zM530.9 652H649.3V656H530.9zM192.6 656H201V660H192.6zM480.1 656H505.5V660H480.1zM530.9 656H640.8V660H530.9zM192.6 660H201V664H192.6zM530.9 660H632.4V664H530.9zM192.6 664H201V668H192.6zM530.9 664H547.8V668H530.9zM192.6 668H201V672H192.6zM530.9 668H539.4V672H530.9zM522.4 676H530.9V680H522.4zM514 684H522.4V688H514zM505.5 712H514V716H505.5zM488.6 724H497.1V728H488.6zM480.1 728H497.1V732H480.1zM463.2 756H471.7V760H463.2zM454.8 760H463.2V764H454.8zM429.4 768H437.9V772H429.4zM412.5 772H420.9V776H412.5z"/><path fill="#a1ff00" d="M260.2 220H268.7V224H260.2zM170 224H175.7V228H170zM277.2 224H319.4V228H277.2zM387.1 228H395.6V232H387.1zM404 232H412.5V236H404zM429.4 236H437.9V240H429.4zM437.9 244H446.3V248H437.9zM446.3 248H480.1V252H446.3zM522.4 252H530.9V256H522.4zM522.4 256H530.9V260H522.4zM530.9 264H539.4V268H530.9zM547.8 280H581.6V284H547.8zM556.3 284H708.5V288H556.3zM573.2 288H750.8V292H573.2zM674.7 292H750.8V296H674.7zM733.9 296H750.8V300H733.9zM742.3 300H750.8V304H742.3zM742.3 304H750.8V308H742.3zM742.3 308H750.8V312H742.3zM742.3 312H750.8V316H742.3zM742.3 316H750.8V320H742.3zM742.3 320H750.8V324H742.3zM742.3 324H750.8V328H742.3zM742.3 328H750.8V332H742.3zM742.3 332H750.8V336H742.3zM742.3 336H750.8V340H742.3zM742.3 340H750.8V344H742.3zM742.3 344H750.8V348H742.3zM742.3 348H750.8V352H742.3zM742.3 352H750.8V356H742.3zM987.6 352H1185V356H987.6zM742.3 356H750.8V360H742.3zM953.8 356H1185V360H953.8zM742.3 360H750.8V364H742.3zM945.3 360H1185V364H945.3zM742.3 364H750.8V368H742.3zM945.3 364H996.1V368H945.3zM742.3 368H750.8V372H742.3zM936.9 368H953.8V372H936.9zM742.3 372H750.8V376H742.3zM936.9 372H953.8V376H936.9zM742.3 376H750.8V380H742.3zM936.9 376H953.8V380H936.9zM936.9 380H953.8V384H936.9zM936.9 384H953.8V388H936.9zM733.9 388H742.3V392H733.9zM936.9 388H953.8V392H936.9zM733.9 392H742.3V396H733.9zM936.9 392H953.8V396H936.9zM733.9 396H742.3V400H733.9zM936.9 396H953.8V400H936.9zM733.9 400H742.3V404H733.9zM936.9 400H953.8V404H936.9zM936.9 404H953.8V408H936.9zM936.9 408H953.8V412H936.9zM936.9 412H953.8V416H936.9zM742.3 416H750.8V420H742.3zM936.9 416H953.8V420H936.9zM742.3 420H750.8V424H742.3zM936.9 420H945.3V424H936.9zM319.4 424H327.9V428H319.4zM936.9 424H945.3V428H936.9zM311 428H319.4V432H311zM936.9 428H945.3V432H936.9zM311 432H319.4V436H311zM733.9 432H742.3V436H733.9zM936.9 432H945.3V436H936.9zM311 436H319.4V440H311zM733.9 436H742.3V440H733.9zM936.9 436H945.3V440H936.9zM311 440H319.4V444H311zM361.7 440H370.2V444H361.7zM936.9 440H945.3V444H936.9zM311 444H319.4V448H311zM936.9 444H953.8V448H936.9zM311 448H319.4V452H311zM725.4 448H733.9V452H725.4zM945.3 448H953.8V452H945.3zM311 452H319.4V456H311zM945.3 452H953.8V456H945.3zM311 456H319.4V460H311zM945.3 456H953.8V460H945.3zM311 460H319.4V464H311zM311 464H319.4V468H311zM370.2 464H378.7V468H370.2zM311 468H319.4V472H311zM361.7 468H370.2V472H361.7zM953.8 468H962.3V472H953.8zM311 472H319.4V476H311zM953.8 472H962.3V476H953.8zM311 476H319.4V480H311zM953.8 476H962.3V480H953.8zM311 480H319.4V484H311zM953.8 480H962.3V484H953.8zM319.4 484H327.9V488H319.4zM370.2 484H378.7V488H370.2zM953.8 484H962.3V488H953.8zM327.9 488H353.3V492H327.9zM378.6 488H395.6V492H378.6zM953.8 488H962.3V492H953.8zM742.3 492H750.8V496H742.3zM953.8 492H962.3V496H953.8zM953.8 496H962.3V500H953.8zM353.3 504H361.7V508H353.3zM945.3 504H953.8V508H945.3zM387.1 508H395.6V512H387.1zM945.3 508H953.8V512H945.3zM945.3 512H953.8V516H945.3zM742.3 516H750.8V520H742.3zM945.3 516H953.8V520H945.3zM742.3 520H750.8V524H742.3zM936.9 520H953.8V524H936.9zM1173.7 520H1185V524H1173.7zM742.3 524H750.8V528H742.3zM936.9 524H953.8V528H936.9zM1106 524H1185V528H1106zM742.3 528H750.8V532H742.3zM945.3 528H953.8V532H945.3zM1089.1 528H1114.5V532H1089.1zM742.3 532H750.8V536H742.3zM945.3 532H1097.6V536H945.3zM742.3 536H750.8V540H742.3zM945.3 536H1089.1V540H945.3zM742.3 540H750.8V544H742.3zM733.9 560H742.3V564H733.9zM733.9 564H742.3V568H733.9zM733.9 568H742.3V572H733.9zM733.9 572H742.3V576H733.9zM733.9 576H742.3V580H733.9zM725.4 596H733.9V600H725.4zM717 600H725.4V604H717zM708.5 604H717V608H708.5zM683.1 616H691.6V620H683.1zM674.7 636H683.1V640H674.7zM666.2 640H683.1V644H666.2zM657.8 644H666.2V648H657.8zM649.3 652H657.8V656H649.3zM640.8 656H649.3V660H640.8zM632.4 660H640.8V664H632.4zM547.8 664H640.8V668H547.8zM539.4 668H598.6V672H539.4zM530.9 672H556.3V676H530.9zM522.4 680H530.9V684H522.4zM514 688H522.4V692H514zM514 692H522.4V696H514zM514 696H522.4V700H514zM514 700H522.4V704H514zM514 704H522.4V708H514zM514 708H522.4V712H514zM514 712H522.4V716H514zM497.1 716H514V720H497.1zM497.1 720H505.5V724H497.1zM497.1 724H505.5V728H497.1zM497.1 728H505.5V732H497.1zM471.7 736H480.1V740H471.7zM412.5 776H420.9V780H412.5zM412.5 780H420.9V782H412.5z"/><path fill="#5bff00" d="M268.7 220H277.2V224H268.7zM395.6 228H404V232H395.6zM437.9 236H446.3V240H437.9zM505.5 248H514V252H505.5zM539.4 264H547.8V268H539.4zM607 272H708.5V276H607zM717 276H750.8V280H717zM759.3 280H767.7V284H759.3zM996.1 324H1185V328H996.1zM987.6 328H1185V332H987.6zM987.6 332H996.1V336H987.6zM936.9 344H962.3V348H936.9zM759.3 348H767.7V352H759.3zM759.3 352H767.7V356H759.3zM928.4 352H936.9V356H928.4zM920 360H928.4V364H920zM886.1 368H920V372H886.1zM877.7 372H920V376H877.7zM877.7 376H911.5V380H877.7zM877.7 380H911.5V384H877.7zM877.7 384H903V388H877.7zM750.8 388H759.3V392H750.8zM877.7 388H903V392H877.7zM877.7 392H903V396H877.7zM877.7 396H903V400H877.7zM750.8 400H759.3V404H750.8zM877.7 400H903V404H877.7zM877.7 404H903V408H877.7zM877.7 408H903V412H877.7zM886.1 412H903V416H886.1zM886.1 416H903V420H886.1zM886.1 420H903V424H886.1zM886.1 424H911.5V428H886.1zM886.1 428H911.5V432H886.1zM327.9 432H336.4V436H327.9zM894.6 432H911.5V436H894.6zM319.4 436H327.9V440H319.4zM894.6 436H920V440H894.6zM336.4 440H344.8V444H336.4zM750.8 440H759.3V444H750.8zM911.5 440H920V444H911.5zM911.5 444H920V448H911.5zM742.3 448H750.8V452H742.3zM733.9 452H742.3V456H733.9zM319.4 456H327.9V460H319.4zM733.9 456H742.3V460H733.9zM920 460H928.4V464H920zM344.8 464H353.3V468H344.8zM920 464H928.4V468H920zM327.9 468H344.8V472H327.9zM920 468H928.4V472H920zM327.9 472H344.8V476H327.9zM750.8 472H759.3V476H750.8zM920 472H928.4V476H920zM327.9 476H344.8V480H327.9zM733.9 476H759.3V480H733.9zM920 476H928.4V480H920zM327.9 480H344.8V484H327.9zM920 480H928.4V484H920zM361.7 484H370.2V488H361.7zM920 484H928.4V488H920zM920 488H928.4V492H920zM378.6 492H387.1V496H378.6zM920 492H928.4V496H920zM920 496H928.4V500H920zM920 500H928.4V504H920zM911.5 508H920V512H911.5zM911.5 512H920V516H911.5zM911.5 516H920V520H911.5zM911.5 520H920V524H911.5zM911.5 524H920V528H911.5zM920 528H928.4V532H920zM920 532H928.4V536H920zM928.4 544H936.9V548H928.4zM1114.5 548H1185V552H1114.5zM936.9 552H945.3V556H936.9zM1097.6 552H1185V556H1097.6zM750.8 556H759.3V560H750.8zM945.3 556H1097.6V560H945.3zM750.8 560H759.3V564H750.8zM750.8 564H759.3V568H750.8zM742.3 580H750.8V584H742.3zM742.3 584H750.8V588H742.3zM733.9 604H742.3V608H733.9zM725.4 612H733.9V616H725.4zM708.5 616H717V620H708.5zM691.6 628H700.1V632H691.6zM691.6 632H700.1V636H691.6zM691.6 636H700.1V640H691.6zM683.1 648H691.6V652H683.1zM666.2 652H674.7V656H666.2zM657.8 660H666.2V664H657.8zM649.3 668H657.8V672H649.3zM640.8 676H649.3V680H640.8zM556.3 680H564.7V684H556.3zM615.5 680H623.9V684H615.5zM547.8 684H556.3V688H547.8zM530.9 688H539.4V692H530.9zM522.4 696H530.9V700H522.4zM505.5 728H514V732H505.5zM480.1 736H505.5V740H480.1zM471.7 752H480.1V756H471.7zM471.7 756H480.1V760H471.7zM446.3 768H454.8V772H446.3z"/><path fill="#00ff93" d="M395.6 220H463.2V224H395.6zM480.1 228H505.5V232H480.1zM556.3 244H564.7V248H556.3zM691.6 252H708.5V256H691.6zM725.4 260H733.9V264H725.4zM776.2 264H818.5V268H776.2zM835.4 268H843.8V272H835.4zM843.8 272H852.3V276H843.8zM852.3 276H869.2V280H852.3zM953.8 276H979.2V280H953.8zM979.2 280H987.6V284H979.2zM987.6 284H996.1V288H987.6zM996.1 288H1185V292H996.1zM810 296H818.5V300H810zM793.1 300H835.4V304H793.1zM793.1 304H835.4V308H793.1zM801.5 308H835.4V312H801.5zM801.5 312H835.4V316H801.5zM801.5 316H843.8V320H801.5zM801.5 320H843.8V324H801.5zM801.5 324H818.5V328H801.5zM826.9 324H852.3V328H826.9zM801.5 328H810V332H801.5zM835.4 328H877.7V332H835.4zM843.8 332H877.7V336H843.8zM793.1 336H801.6V340H793.1zM843.8 336H860.8V340H843.8zM843.8 340H860.8V344H843.8zM784.6 344H793.1V348H784.6zM843.8 344H852.3V348H843.8zM843.8 348H852.3V352H843.8zM843.8 352H852.3V356H843.8zM843.8 356H852.3V360H843.8zM843.8 360H852.3V364H843.8zM852.3 380H860.8V384H852.3zM852.3 384H860.8V388H852.3zM860.8 452H869.2V456H860.8zM818.5 472H826.9V476H818.5zM810 476H818.5V480H810zM784.6 480H793.1V484H784.6zM801.5 480H810V484H801.5zM793.1 484H801.6V488H793.1zM826.9 484H835.4V488H826.9zM860.8 504H869.2V508H860.8zM860.8 508H869.2V512H860.8zM835.4 516H843.8V520H835.4zM835.4 520H843.8V524H835.4zM835.4 524H843.8V528H835.4zM852.3 524H860.8V528H852.3zM843.8 528H852.3V532H843.8zM843.8 532H852.3V536H843.8zM843.8 536H852.3V540H843.8zM843.8 540H852.3V544H843.8zM843.8 544H852.3V548H843.8zM843.8 548H860.8V552H843.8zM843.8 552H860.8V556H843.8zM843.8 556H877.7V560H843.8zM843.8 560H886.1V564H843.8zM843.8 564H886.1V568H843.8zM843.8 568H860.8V572H843.8zM877.7 568H886.1V572H877.7zM793.1 572H801.6V576H793.1zM835.4 572H852.3V576H835.4zM886.1 572H894.6V576H886.1zM784.6 576H801.6V580H784.6zM835.4 576H843.8V580H835.4zM784.6 580H793.1V584H784.6zM801.5 580H810V584H801.5zM826.9 580H835.4V584H826.9zM776.2 584H784.6V588H776.2zM810 584H826.9V588H810zM903 588H911.5V592H903zM767.7 592H776.2V596H767.7zM767.7 596H776.2V600H767.7zM759.3 608H767.7V612H759.3zM750.8 644H759.3V648H750.8zM742.3 648H750.8V652H742.3zM717 656H725.4V660H717zM708.5 664H717V668H708.5zM700.1 676H708.5V680H700.1zM691.6 692H700.1V696H691.6zM683.1 700H691.6V704H683.1zM666.2 716H674.7V720H666.2zM615.5 720H649.3V724H615.5zM657.8 720H666.2V724H657.8zM607 724H615.5V728H607zM530.9 728H598.6V732H530.9zM463.2 772H471.7V776H463.2z"/><path fill="#f1ff00" d="M184.1 224H192.6V228H184.1zM378.6 228H387.1V232H378.6zM412.5 244H429.4V248H412.5zM505.5 260H514V264H505.5zM530.9 276H539.4V280H530.9zM539.4 296H547.8V300H539.4zM539.4 320H547.8V324H539.4zM539.4 324H547.8V328H539.4zM539.4 328H547.8V332H539.4zM539.4 332H547.8V336H539.4zM547.8 336H657.8V340H547.8zM480.1 340H497.1V344H480.1zM530.9 340H539.4V344H530.9zM564.7 340H666.2V344H564.7zM564.7 344H674.7V348H564.7zM387.1 348H395.6V352H387.1zM471.7 348H480.1V352H471.7zM564.7 348H674.7V352H564.7zM564.7 352H708.5V356H564.7zM387.1 356H395.6V360H387.1zM564.7 356H573.2V360H564.7zM683.1 356H717V360H683.1zM717 360H725.4V364H717zM717 364H725.4V368H717zM717 368H725.4V372H717zM395.6 372H404V376H395.6zM717 372H725.4V376H717zM717 376H725.4V380H717zM717 380H725.4V384H717zM556.3 384H564.7V388H556.3zM717 384H725.4V388H717zM395.6 388H404V392H395.6zM717 388H725.4V392H717zM480.1 392H488.6V396H480.1zM717 392H725.4V396H717zM717 396H725.4V400H717zM488.6 400H497.1V404H488.6zM539.4 400H547.8V404H539.4zM717 400H725.4V404H717zM530.9 404H539.4V408H530.9zM717 404H725.4V408H717zM404 408H412.5V412H404zM717 408H725.4V412H717zM717 412H725.4V416H717zM302.5 416H311V420H302.5zM327.9 416H336.4V420H327.9zM420.9 416H437.9V420H420.9zM344.8 428H361.7V432H344.8zM404 428H412.5V432H404zM522.4 428H530.9V432H522.4zM437.9 436H446.3V440H437.9zM717 440H725.4V444H717zM1046.8 440H1106V444H1046.8zM717 444H725.4V448H717zM1038.4 444H1114.5V448H1038.4zM1029.9 448H1114.5V452H1029.9zM1021.5 452H1131.4V456H1021.5zM1013 456H1139.9V460H1013zM1004.5 460H1139.9V464H1004.5zM429.4 464H437.9V468H429.4zM1004.5 464H1139.9V468H1004.5zM420.9 468H429.4V472H420.9zM1004.5 468H1139.9V472H1004.5zM1004.5 472H1139.9V476H1004.5zM285.6 476H294.1V480H285.6zM446.3 476H454.8V480H446.3zM1004.5 476H1139.9V480H1004.5zM1013 480H1139.9V484H1013zM717 484H725.4V488H717zM1029.9 484H1123V488H1029.9zM319.4 488H327.9V492H319.4zM471.7 488H480.1V492H471.7zM1038.4 488H1114.5V492H1038.4zM1038.4 492H1106V496H1038.4zM344.8 496H353.3V500H344.8zM480.1 496H488.6V500H480.1zM1046.8 496H1097.6V500H1046.8zM725.4 500H733.9V504H725.4zM725.4 504H733.9V508H725.4zM725.4 508H733.9V512H725.4zM463.2 528H471.7V532H463.2zM353.3 540H361.7V544H353.3zM378.6 552H387.1V556H378.6zM717 564H725.4V568H717zM717 568H725.4V572H717zM717 572H725.4V576H717zM514 576H522.4V580H514zM717 576H725.4V580H717zM717 580H725.4V584H717zM404 584H412.5V588H404zM404 588H412.5V592H404zM708.5 588H717V592H708.5zM412.5 592H420.9V596H412.5zM700.1 592H708.5V596H700.1zM522.4 596H530.9V600H522.4zM691.6 596H700.1V600H691.6zM649.3 600H691.6V604H649.3zM539.4 604H556.3V608H539.4zM640.8 604H657.8V608H640.8zM446.3 608H471.7V612H446.3zM556.3 608H564.7V612H556.3zM640.8 608H649.3V612H640.8zM556.3 612H564.7V616H556.3zM640.8 612H649.3V616H640.8zM640.8 616H649.3V620H640.8zM446.3 620H471.7V624H446.3zM640.8 620H649.3V624H640.8zM640.8 624H649.3V628H640.8zM640.8 628H649.3V632H640.8zM564.7 632H649.3V636H564.7zM437.9 636H471.7V640H437.9zM201 652H209.5V656H201zM471.7 660H480.1V664H471.7zM505.5 664H522.4V668H505.5zM209.5 676H217.9V680H209.5zM217.9 680H226.4V684H217.9zM505.5 680H514V684H505.5zM217.9 684H226.4V688H217.9zM201 692H209.5V696H201zM497.1 704H505.5V708H497.1zM488.6 708H497.1V712H488.6zM463.2 744H471.7V748H463.2zM454.8 756H463.2V760H454.8zM437.9 764H446.3V768H437.9zM404 772H412.5V776H404z"/><path fill="#fdff00" d="M192.6 224H260.2V228H192.6zM319.4 228H327.9V232H319.4zM387.1 232H395.6V236H387.1zM395.6 236H404V240H395.6zM209.5 264H217.9V268H209.5zM505.5 264H514V268H505.5zM209.5 268H217.9V272H209.5zM217.9 276H226.4V280H217.9zM522.4 280H530.9V284H522.4zM209.5 304H217.9V308H209.5zM539.4 304H547.8V308H539.4zM446.3 308H454.8V312H446.3zM446.3 312H454.8V316H446.3zM539.4 312H547.8V316H539.4zM446.3 316H454.8V320H446.3zM446.3 320H454.8V324H446.3zM530.9 320H539.4V324H530.9zM378.6 324H387.1V328H378.6zM446.3 324H454.8V328H446.3zM378.6 328H387.1V332H378.6zM446.3 328H454.8V332H446.3zM378.6 332H387.1V336H378.6zM446.3 332H454.8V336H446.3zM378.6 336H387.1V340H378.6zM446.3 336H454.8V340H446.3zM497.1 336H505.5V340H497.1zM378.6 340H387.1V344H378.6zM387.1 344H395.6V348H387.1zM387.1 364H395.6V368H387.1zM463.2 368H471.7V372H463.2zM395.6 380H404V384H395.6zM471.7 380H480.1V384H471.7zM471.7 384H480.1V388H471.7zM209.5 396H217.9V400H209.5zM311 396H319.4V400H311zM209.5 400H217.9V404H209.5zM311 400H319.4V404H311zM404 404H412.5V408H404zM666.2 404H691.6V408H666.2zM226.4 408H243.3V412H226.4zM277.2 408H302.5V412H277.2zM319.4 408H327.9V412H319.4zM412.5 408H420.9V412H412.5zM657.8 408H700.1V412H657.8zM488.6 412H497.1V416H488.6zM649.3 412H666.2V416H649.3zM691.6 412H700.1V416H691.6zM226.4 416H234.9V420H226.4zM649.3 416H657.8V420H649.3zM700.1 416H708.5V420H700.1zM226.4 420H234.9V424H226.4zM649.3 420H657.8V424H649.3zM700.1 420H708.5V424H700.1zM361.7 424H370.2V428H361.7zM505.5 424H514V428H505.5zM708.5 424H717V428H708.5zM505.5 428H514V432H505.5zM708.5 428H717V432H708.5zM209.5 432H217.9V436H209.5zM192.6 436H217.9V440H192.6zM387.1 436H395.6V440H387.1zM446.3 436H463.2V440H446.3zM497.1 436H505.5V440H497.1zM209.5 440H217.9V444H209.5zM649.3 440H657.8V444H649.3zM209.5 444H217.9V448H209.5zM649.3 444H657.8V448H649.3zM708.5 444H717V448H708.5zM209.5 448H217.9V452H209.5zM649.3 448H657.8V452H649.3zM708.5 448H717V452H708.5zM209.5 452H217.9V456H209.5zM277.2 452H285.6V456H277.2zM657.8 452H666.2V456H657.8zM700.1 452H708.5V456H700.1zM454.8 456H463.2V460H454.8zM522.4 456H530.9V460H522.4zM657.8 456H708.5V460H657.8zM463.2 480H471.7V484H463.2zM539.4 480H573.2V484H539.4zM607 480H632.4V484H607zM691.6 480H708.5V484H691.6zM277.2 484H285.6V488H277.2zM573.2 484H581.6V488H573.2zM598.6 484H607V488H598.6zM623.9 484H632.4V488H623.9zM683.1 484H691.6V488H683.1zM708.5 484H717V488H708.5zM404 488H412.5V492H404zM581.6 488H590.1V492H581.6zM598.6 488H607V492H598.6zM632.4 488H640.8V492H632.4zM683.1 488H691.6V492H683.1zM581.6 492H590.1V496H581.6zM598.6 492H607V496H598.6zM632.4 492H640.8V496H632.4zM674.7 492H683.1V496H674.7zM581.6 496H590.1V500H581.6zM632.4 496H640.8V500H632.4zM666.2 496H674.7V500H666.2zM581.6 500H598.6V504H581.6zM666.2 500H674.7V504H666.2zM717 500H725.4V504H717zM581.6 504H598.6V508H581.6zM666.2 504H674.7V508H666.2zM717 504H725.4V508H717zM319.4 508H327.9V512H319.4zM581.6 508H598.6V512H581.6zM632.4 508H640.8V512H632.4zM717 508H725.4V512H717zM581.6 512H598.6V516H581.6zM632.4 512H640.8V516H632.4zM717 512H725.4V516H717zM581.6 516H590.1V520H581.6zM598.6 516H607V520H598.6zM632.4 516H640.8V520H632.4zM666.2 516H674.7V520H666.2zM581.6 520H590.1V524H581.6zM598.6 520H607V524H598.6zM632.4 520H640.8V524H632.4zM666.2 520H674.7V524H666.2zM294.1 524H302.5V528H294.1zM581.6 524H590.1V528H581.6zM598.6 524H615.5V528H598.6zM623.9 524H632.4V528H623.9zM666.2 524H674.7V528H666.2zM226.4 528H234.9V532H226.4zM302.5 528H311V532H302.5zM336.4 528H344.8V532H336.4zM429.4 528H437.9V532H429.4zM581.6 528H590.1V532H581.6zM607 528H632.4V532H607zM666.2 528H674.7V532H666.2zM226.4 532H234.9V536H226.4zM497.1 532H505.5V536H497.1zM581.6 532H590.1V536H581.6zM666.2 532H674.7V536H666.2zM217.9 536H234.9V540H217.9zM285.6 536H294.1V540H285.6zM581.6 536H590.1V540H581.6zM294.1 540H302.5V544H294.1zM581.6 540H590.1V544H581.6zM581.6 544H590.1V548H581.6zM666.2 544H674.7V548H666.2zM209.5 548H217.9V552H209.5zM581.6 548H590.1V552H581.6zM666.2 548H674.7V552H666.2zM209.5 552H217.9V556H209.5zM277.2 552H285.6V556H277.2zM581.6 552H590.1V556H581.6zM666.2 552H674.7V556H666.2zM708.5 552H717V556H708.5zM277.2 556H285.6V560H277.2zM378.6 556H387.1V560H378.6zM581.6 556H590.1V560H581.6zM674.7 556H683.1V560H674.7zM700.1 556H708.5V560H700.1zM277.2 560H285.6V564H277.2zM514 560H522.4V564H514zM581.6 560H590.1V564H581.6zM683.1 560H708.5V564H683.1zM277.2 564H285.6V568H277.2zM277.2 568H285.6V572H277.2zM522.4 568H530.9V572H522.4zM573.2 568H581.6V572H573.2zM522.4 572H530.9V576H522.4zM564.7 572H581.6V576H564.7zM564.7 576H573.2V580H564.7zM564.7 580H573.2V584H564.7zM564.7 584H573.2V588H564.7zM564.7 588H573.2V592H564.7zM564.7 592H573.2V596H564.7zM556.3 596H564.7V600H556.3zM395.6 600H412.5V604H395.6zM420.9 628H429.4V632H420.9zM192.6 640H201V644H192.6zM209.5 644H217.9V648H209.5zM437.9 644H446.3V648H437.9zM184.1 648H192.6V652H184.1zM226.4 660H234.9V664H226.4zM226.4 664H234.9V668H226.4zM471.7 664H480.1V668H471.7zM226.4 668H234.9V672H226.4zM170 672H175.7V676H170zM226.4 672H234.9V676H226.4zM226.4 676H234.9V680H226.4zM226.4 680H234.9V684H226.4zM226.4 684H234.9V688H226.4zM209.5 700H217.9V704H209.5zM446.3 756H454.8V760H446.3zM395.6 772H404V776H395.6z"/><path fill="#f9ff00" d="M260.2 224H268.7V228H260.2zM404 240H412.5V244H404zM412.5 248H429.4V252H412.5zM437.9 252H446.3V256H437.9zM471.7 256H480.1V260H471.7zM209.5 272H217.9V276H209.5zM209.5 276H217.9V280H209.5zM209.5 280H226.4V284H209.5zM209.5 284H226.4V288H209.5zM209.5 288H226.4V292H209.5zM530.9 288H539.4V292H530.9zM209.5 292H226.4V296H209.5zM530.9 292H539.4V296H530.9zM209.5 296H217.9V300H209.5zM209.5 300H217.9V304H209.5zM539.4 316H547.8V320H539.4zM530.9 324H539.4V328H530.9zM530.9 328H539.4V332H530.9zM530.9 332H539.4V336H530.9zM480.1 336H497.1V340H480.1zM530.9 336H539.4V340H530.9zM378.6 344H387.1V348H378.6zM471.7 344H480.1V348H471.7zM505.5 344H514V348H505.5zM378.6 348H387.1V352H378.6zM378.6 352H387.1V356H378.6zM581.6 364H598.6V368H581.6zM573.2 368H708.5V372H573.2zM573.2 372H708.5V376H573.2zM395.6 376H404V380H395.6zM471.7 376H480.1V380H471.7zM573.2 376H717V380H573.2zM564.7 380H717V384H564.7zM395.6 384H404V388H395.6zM564.7 384H717V388H564.7zM471.7 388H480.1V392H471.7zM564.7 388H717V392H564.7zM471.7 392H480.1V396H471.7zM564.7 392H717V396H564.7zM471.7 396H480.1V400H471.7zM556.3 396H717V400H556.3zM480.1 400H488.6V404H480.1zM547.8 400H717V404H547.8zM209.5 404H217.9V408H209.5zM311 404H319.4V408H311zM480.1 404H488.6V408H480.1zM547.8 404H666.2V408H547.8zM691.6 404H717V408H691.6zM209.5 408H226.4V412H209.5zM302.5 408H319.4V412H302.5zM480.1 408H497.1V412H480.1zM539.4 408H657.8V412H539.4zM700.1 408H717V412H700.1zM209.5 412H234.9V416H209.5zM294.1 412H302.5V416H294.1zM327.9 412H336.4V416H327.9zM412.5 412H420.9V416H412.5zM480.1 412H488.6V416H480.1zM530.9 412H649.3V416H530.9zM700.1 412H717V416H700.1zM209.5 416H226.4V420H209.5zM294.1 416H302.5V420H294.1zM412.5 416H420.9V420H412.5zM530.9 416H649.3V420H530.9zM708.5 416H717V420H708.5zM209.5 420H226.4V424H209.5zM294.1 420H302.5V424H294.1zM336.4 420H344.8V424H336.4zM412.5 420H420.9V424H412.5zM505.5 420H514V424H505.5zM530.9 420H649.3V424H530.9zM708.5 420H717V424H708.5zM209.5 424H226.4V428H209.5zM344.8 424H361.7V428H344.8zM530.9 424H649.3V428H530.9zM209.5 428H217.9V432H209.5zM530.9 428H649.3V432H530.9zM437.9 432H446.3V436H437.9zM505.5 432H514V436H505.5zM530.9 432H649.3V436H530.9zM404 436H412.5V440H404zM505.5 436H514V440H505.5zM522.4 436H649.3V440H522.4zM192.6 440H209.5V444H192.6zM446.3 440H463.2V444H446.3zM497.1 440H649.3V444H497.1zM192.6 444H209.5V448H192.6zM446.3 444H463.2V448H446.3zM497.1 444H649.3V448H497.1zM192.6 448H209.5V452H192.6zM446.3 448H463.2V452H446.3zM505.5 448H649.3V452H505.5zM192.6 452H209.5V456H192.6zM285.6 452H294.1V456H285.6zM446.3 452H463.2V456H446.3zM505.5 452H657.8V456H505.5zM708.5 452H717V456H708.5zM277.2 456H294.1V460H277.2zM530.9 456H657.8V460H530.9zM277.2 460H294.1V464H277.2zM530.9 460H708.5V464H530.9zM277.2 464H294.1V468H277.2zM530.9 464H708.5V468H530.9zM277.2 468H294.1V472H277.2zM429.4 468H437.9V472H429.4zM530.9 468H708.5V472H530.9zM277.2 472H285.6V476H277.2zM412.5 472H420.9V476H412.5zM530.9 472H708.5V476H530.9zM277.2 476H285.6V480H277.2zM404 476H412.5V480H404zM530.9 476H708.5V480H530.9zM454.8 480H463.2V484H454.8zM530.9 480H539.4V484H530.9zM573.2 480H607V484H573.2zM632.4 480H691.6V484H632.4zM708.5 480H717V484H708.5zM446.3 484H471.7V488H446.3zM581.6 484H598.6V488H581.6zM632.4 484H683.1V488H632.4zM446.3 488H471.7V492H446.3zM590.1 488H598.6V492H590.1zM640.8 488H683.1V492H640.8zM446.3 492H471.7V496H446.3zM590.1 492H598.6V496H590.1zM640.8 492H674.7V496H640.8zM327.9 496H344.8V500H327.9zM412.5 496H420.9V500H412.5zM446.3 496H463.2V500H446.3zM590.1 496H598.6V500H590.1zM640.8 496H666.2V500H640.8zM717 496H725.4V500H717zM327.9 500H344.8V504H327.9zM412.5 500H420.9V504H412.5zM454.8 500H463.2V504H454.8zM640.8 500H666.2V504H640.8zM327.9 504H344.8V508H327.9zM412.5 504H420.9V508H412.5zM454.8 504H463.2V508H454.8zM640.8 504H666.2V508H640.8zM327.9 508H344.8V512H327.9zM412.5 508H420.9V512H412.5zM454.8 508H463.2V512H454.8zM640.8 508H666.2V512H640.8zM311 512H344.8V516H311zM412.5 512H429.4V516H412.5zM454.8 512H463.2V516H454.8zM640.8 512H666.2V516H640.8zM311 516H344.8V520H311zM412.5 516H429.4V520H412.5zM454.8 516H463.2V520H454.8zM590.1 516H598.6V520H590.1zM640.8 516H666.2V520H640.8zM717 516H725.4V520H717zM311 520H344.8V524H311zM412.5 520H429.4V524H412.5zM590.1 520H598.6V524H590.1zM640.8 520H666.2V524H640.8zM717 520H725.4V524H717zM302.5 524H344.8V528H302.5zM412.5 524H429.4V528H412.5zM590.1 524H598.6V528H590.1zM632.4 524H666.2V528H632.4zM717 524H725.4V528H717zM294.1 528H302.5V532H294.1zM590.1 528H607V532H590.1zM632.4 528H666.2V532H632.4zM717 528H725.4V532H717zM294.1 532H302.5V536H294.1zM590.1 532H666.2V536H590.1zM717 532H725.4V536H717zM294.1 536H302.5V540H294.1zM344.8 536H353.3V540H344.8zM590.1 536H666.2V540H590.1zM717 536H725.4V540H717zM170 540H175.7V544H170zM209.5 540H226.4V544H209.5zM277.2 540H294.1V544H277.2zM344.8 540H353.3V544H344.8zM590.1 540H666.2V544H590.1zM717 540H725.4V544H717zM209.5 544H217.9V548H209.5zM277.2 544H285.6V548H277.2zM361.7 544H370.2V548H361.7zM590.1 544H666.2V548H590.1zM717 544H725.4V548H717zM277.2 548H285.6V552H277.2zM370.2 548H378.7V552H370.2zM590.1 548H666.2V552H590.1zM590.1 552H666.2V556H590.1zM590.1 556H674.7V560H590.1zM708.5 556H717V560H708.5zM590.1 560H683.1V564H590.1zM708.5 560H717V564H708.5zM387.1 564H395.6V568H387.1zM514 564H522.4V568H514zM581.6 564H717V568H581.6zM514 568H522.4V572H514zM581.6 568H717V572H581.6zM581.6 572H717V576H581.6zM573.2 576H708.5V580H573.2zM573.2 580H708.5V584H573.2zM395.6 584H404V588H395.6zM573.2 584H700.1V588H573.2zM395.6 588H404V592H395.6zM573.2 588H700.1V592H573.2zM395.6 592H404V596H395.6zM522.4 592H530.9V596H522.4zM573.2 592H657.8V596H573.2zM395.6 596H412.5V600H395.6zM564.7 596H640.8V600H564.7zM547.8 600H640.8V604H547.8zM564.7 604H632.4V608H564.7zM564.7 608H632.4V612H564.7zM446.3 612H463.2V616H446.3zM564.7 612H632.4V616H564.7zM573.2 616H632.4V620H573.2zM573.2 620H632.4V624H573.2zM420.9 624H429.4V628H420.9zM573.2 624H598.6V628H573.2zM201 644H209.5V648H201zM446.3 644H463.2V648H446.3zM209.5 648H217.9V652H209.5zM446.3 648H463.2V652H446.3zM209.5 652H217.9V656H209.5zM446.3 652H463.2V656H446.3zM170 656H184.1V660H170zM209.5 656H226.4V660H209.5zM446.3 656H463.2V660H446.3zM170 660H175.7V664H170zM209.5 660H226.4V664H209.5zM170 664H175.7V668H170zM209.5 664H226.4V668H209.5zM170 668H175.7V672H170zM209.5 668H226.4V672H209.5zM175.7 672H184.1V676H175.7zM217.9 672H226.4V676H217.9zM480.1 672H514V676H480.1zM480.1 676H505.5V680H480.1zM480.1 680H505.5V684H480.1zM480.1 684H497.1V688H480.1zM480.1 688H497.1V692H480.1zM192.6 692H201V696H192.6zM480.1 692H497.1V696H480.1zM192.6 696H201V700H192.6zM480.1 696H497.1V700H480.1zM192.6 700H209.5V704H192.6zM480.1 700H497.1V704H480.1zM480.1 704H488.6V708H480.1zM480.1 708H488.6V712H480.1zM463.2 728H471.7V732H463.2zM454.8 752H463.2V756H454.8z"/><path fill="#c0ff00" d="M268.7 224H277.2V228H268.7zM412.5 240H429.4V244H412.5zM437.9 248H446.3V252H437.9zM454.8 252H463.2V256H454.8zM471.7 252H480.1V256H471.7zM514 268H530.9V272H514zM530.9 272H539.4V276H530.9zM539.4 280H547.8V284H539.4zM539.4 284H547.8V288H539.4zM539.4 288H547.8V292H539.4zM547.8 304H556.3V308H547.8zM547.8 308H573.2V312H547.8zM547.8 312H581.6V316H547.8zM640.8 312H649.3V316H640.8zM547.8 316H590.1V320H547.8zM632.4 316H657.8V320H632.4zM547.8 320H666.2V324H547.8zM547.8 324H674.7V328H547.8zM666.2 328H674.7V332H666.2zM666.2 332H674.7V336H666.2zM674.7 336H683.1V340H674.7zM674.7 340H691.6V344H674.7zM539.4 344H556.3V348H539.4zM683.1 344H717V348H683.1zM505.5 348H514V352H505.5zM522.4 348H530.9V352H522.4zM717 348H725.4V352H717zM471.7 352H480.1V356H471.7zM556.3 352H564.7V356H556.3zM395.6 356H404V360H395.6zM471.7 356H480.1V360H471.7zM725.4 356H733.9V360H725.4zM395.6 360H404V364H395.6zM471.7 360H480.1V364H471.7zM725.4 360H733.9V364H725.4zM395.6 364H404V368H395.6zM471.7 364H480.1V368H471.7zM725.4 364H733.9V368H725.4zM725.4 368H733.9V372H725.4zM725.4 372H733.9V376H725.4zM725.4 376H733.9V380H725.4zM725.4 380H733.9V384H725.4zM547.8 384H556.3V388H547.8zM725.4 384H733.9V388H725.4zM539.4 388H547.8V392H539.4zM725.4 388H733.9V392H725.4zM488.6 392H497.1V396H488.6zM725.4 392H733.9V396H725.4zM395.6 396H404V400H395.6zM725.4 396H733.9V400H725.4zM497.1 400H505.5V404H497.1zM530.9 400H539.4V404H530.9zM725.4 400H733.9V404H725.4zM522.4 404H530.9V408H522.4zM725.4 404H733.9V408H725.4zM505.5 408H514V412H505.5zM725.4 408H733.9V412H725.4zM725.4 412H733.9V416H725.4zM725.4 416H733.9V420H725.4zM996.1 416H1148.3V420H996.1zM327.9 420H336.4V424H327.9zM725.4 420H733.9V424H725.4zM987.6 420H1156.8V424H987.6zM302.5 424H311V428H302.5zM420.9 424H429.4V428H420.9zM725.4 424H733.9V428H725.4zM987.6 424H1156.8V428H987.6zM302.5 428H311V432H302.5zM395.6 428H404V432H395.6zM420.9 428H429.4V432H420.9zM514 428H522.4V432H514zM725.4 428H733.9V432H725.4zM979.2 428H1046.8V432H979.2zM1106 428H1156.8V432H1106zM302.5 432H311V436H302.5zM344.8 432H361.7V436H344.8zM420.9 432H429.4V436H420.9zM725.4 432H733.9V436H725.4zM979.2 432H1038.4V436H979.2zM1114.5 432H1156.8V436H1114.5zM302.5 436H311V440H302.5zM420.9 436H429.4V440H420.9zM725.4 436H733.9V440H725.4zM979.2 436H1029.9V440H979.2zM1123 436H1156.8V440H1123zM302.5 440H311V444H302.5zM370.2 440H378.7V444H370.2zM420.9 440H429.4V444H420.9zM979.2 440H1021.5V444H979.2zM1131.4 440H1156.8V444H1131.4zM302.5 444H311V448H302.5zM979.2 444H1004.5V448H979.2zM1139.9 444H1165.2V448H1139.9zM302.5 448H311V452H302.5zM378.6 448H412.5V452H378.6zM979.2 448H996.1V452H979.2zM1148.3 448H1165.2V452H1148.3zM302.5 452H311V456H302.5zM979.2 452H996.1V456H979.2zM1148.3 452H1165.2V456H1148.3zM302.5 456H311V460H302.5zM717 456H725.4V460H717zM979.2 456H996.1V460H979.2zM1156.8 456H1182.2V460H1156.8zM302.5 460H311V464H302.5zM717 460H725.4V464H717zM979.2 460H996.1V464H979.2zM1156.8 460H1185V464H1156.8zM302.5 464H311V468H302.5zM420.9 464H429.4V468H420.9zM437.9 464H454.8V468H437.9zM717 464H725.4V468H717zM979.2 464H996.1V468H979.2zM1156.8 464H1185V468H1156.8zM302.5 468H311V472H302.5zM717 468H725.4V472H717zM979.2 468H996.1V472H979.2zM1156.8 468H1185V472H1156.8zM717 472H725.4V476H717zM979.2 472H996.1V476H979.2zM1156.8 472H1185V476H1156.8zM294.1 476H302.5V480H294.1zM717 476H725.4V480H717zM979.2 476H996.1V480H979.2zM1156.8 476H1185V480H1156.8zM387.1 480H395.6V484H387.1zM979.2 480H996.1V484H979.2zM1156.8 480H1185V484H1156.8zM979.2 484H996.1V488H979.2zM1148.3 484H1185V488H1148.3zM979.2 488H1004.5V492H979.2zM1148.3 488H1185V492H1148.3zM344.8 492H353.3V496H344.8zM725.4 492H733.9V496H725.4zM979.2 492H1013V496H979.2zM1139.9 492H1185V496H1139.9zM471.7 496H480.1V500H471.7zM979.2 496H1021.5V500H979.2zM1123 496H1165.2V500H1123zM471.7 500H480.1V504H471.7zM733.9 500H742.3V504H733.9zM979.2 500H1029.9V504H979.2zM1114.5 500H1165.2V504H1114.5zM471.7 504H480.1V508H471.7zM733.9 504H742.3V508H733.9zM979.2 504H1038.4V508H979.2zM1106 504H1156.8V508H1106zM471.7 508H480.1V512H471.7zM733.9 508H742.3V512H733.9zM1013 508H1131.4V512H1013zM353.3 512H361.7V516H353.3zM471.7 512H480.1V516H471.7zM1038.4 512H1106V516H1038.4zM353.3 516H361.7V520H353.3zM471.7 516H480.1V520H471.7zM488.6 516H497.1V520H488.6zM353.3 520H361.7V524H353.3zM471.7 520H480.1V524H471.7zM353.3 524H361.7V528H353.3zM471.7 524H480.1V528H471.7zM353.3 528H361.7V532H353.3zM471.7 528H480.1V532H471.7zM404 532H412.5V536H404zM429.4 536H437.9V540H429.4zM361.7 540H370.2V544H361.7zM437.9 544H446.3V548H437.9zM725.4 548H733.9V552H725.4zM387.1 552H395.6V556H387.1zM725.4 552H733.9V556H725.4zM725.4 556H733.9V560H725.4zM725.4 560H733.9V564H725.4zM725.4 564H733.9V568H725.4zM725.4 568H733.9V572H725.4zM395.6 572H404V576H395.6zM725.4 572H733.9V576H725.4zM404 576H412.5V580H404zM725.4 576H733.9V580H725.4zM514 580H522.4V584H514zM725.4 580H733.9V584H725.4zM412.5 584H420.9V588H412.5zM717 592H725.4V596H717zM420.9 596H429.4V600H420.9zM708.5 596H717V600H708.5zM420.9 600H429.4V604H420.9zM700.1 600H708.5V604H700.1zM420.9 604H429.4V608H420.9zM446.3 604H471.7V608H446.3zM522.4 604H530.9V608H522.4zM691.6 604H700.1V608H691.6zM420.9 608H429.4V612H420.9zM437.9 608H446.3V612H437.9zM471.7 608H480.1V612H471.7zM530.9 608H556.3V612H530.9zM657.8 608H683.1V612H657.8zM420.9 612H429.4V616H420.9zM480.1 612H497.1V616H480.1zM657.8 612H666.2V616H657.8zM649.3 616H657.8V620H649.3zM437.9 620H446.3V624H437.9zM471.7 620H480.1V624H471.7zM463.2 624H471.7V628H463.2zM657.8 624H666.2V628H657.8zM446.3 628H471.7V632H446.3zM657.8 628H666.2V632H657.8zM429.4 632H446.3V636H429.4zM657.8 632H666.2V636H657.8zM471.7 636H480.1V640H471.7zM556.3 636H564.7V640H556.3zM649.3 636H657.8V640H649.3zM471.7 640H480.1V644H471.7zM556.3 640H607V644H556.3zM632.4 640H657.8V644H632.4zM471.7 644H480.1V648H471.7zM514 644H522.4V648H514zM573.2 644H640.8V648H573.2zM471.7 648H480.1V652H471.7zM514 648H522.4V652H514zM192.6 652H201V656H192.6zM471.7 652H480.1V656H471.7zM514 652H522.4V656H514zM184.1 656H192.6V660H184.1zM471.7 656H480.1V660H471.7zM514 656H522.4V660H514zM184.1 660H192.6V664H184.1zM505.5 660H514V664H505.5zM184.1 664H192.6V668H184.1zM184.1 668H192.6V672H184.1zM522.4 668H530.9V672H522.4zM522.4 672H530.9V676H522.4zM192.6 676H201V680H192.6zM209.5 680H217.9V684H209.5zM201 684H209.5V688H201zM505.5 688H514V692H505.5zM505.5 692H514V696H505.5zM505.5 696H514V700H505.5zM505.5 700H514V704H505.5zM497.1 708H505.5V712H497.1zM488.6 716H497.1V720H488.6zM480.1 724H488.6V728H480.1zM404 776H412.5V780H404zM404 780H412.5V782H404z"/><path fill="#95ff00" d="M319.4 224H327.9V228H319.4zM480.1 248H488.6V252H480.1zM514 248H530.9V252H514zM488.6 252H497.1V256H488.6zM505.5 252H514V256H505.5zM530.9 252H539.4V256H530.9zM530.9 256H539.4V260H530.9zM530.9 260H539.4V264H530.9zM539.4 272H547.8V276H539.4zM547.8 276H556.3V280H547.8zM581.6 280H708.5V284H581.6zM708.5 284H750.8V288H708.5zM750.8 288H759.3V292H750.8zM750.8 292H759.3V296H750.8zM750.8 296H759.3V300H750.8zM750.8 300H759.3V304H750.8zM750.8 304H759.3V308H750.8zM750.8 308H759.3V312H750.8zM750.8 312H759.3V316H750.8zM750.8 316H759.3V320H750.8zM750.8 320H759.3V324H750.8zM750.8 324H759.3V328H750.8zM750.8 328H759.3V332H750.8zM750.8 332H759.3V336H750.8zM750.8 336H759.3V340H750.8zM750.8 340H759.3V344H750.8zM750.8 344H759.3V348H750.8zM987.6 348H1185V352H987.6zM953.8 352H987.6V356H953.8zM945.3 356H953.8V360H945.3zM936.9 360H945.3V364H936.9zM936.9 364H945.3V368H936.9zM742.3 380H750.8V384H742.3zM742.3 408H750.8V412H742.3zM742.3 412H750.8V416H742.3zM742.3 424H750.8V428H742.3zM319.4 428H327.9V432H319.4zM742.3 428H750.8V432H742.3zM336.4 432H344.8V436H336.4zM344.8 440H361.7V444H344.8zM733.9 440H742.3V444H733.9zM370.2 448H378.7V452H370.2zM936.9 448H945.3V452H936.9zM725.4 452H733.9V456H725.4zM936.9 452H945.3V456H936.9zM936.9 456H945.3V460H936.9zM945.3 460H953.8V464H945.3zM945.3 464H953.8V468H945.3zM945.3 468H953.8V472H945.3zM361.7 472H370.2V476H361.7zM945.3 472H953.8V476H945.3zM725.4 476H733.9V480H725.4zM725.4 480H733.9V484H725.4zM733.9 488H750.8V492H733.9zM945.3 488H953.8V492H945.3zM945.3 492H953.8V496H945.3zM945.3 496H953.8V500H945.3zM353.3 500H361.7V504H353.3zM945.3 500H953.8V504H945.3zM378.6 508H387.1V512H378.6zM936.9 508H945.3V512H936.9zM936.9 512H945.3V516H936.9zM936.9 516H945.3V520H936.9zM936.9 528H945.3V532H936.9zM1114.5 528H1185V532H1114.5zM936.9 532H945.3V536H936.9zM1097.6 532H1114.5V536H1097.6zM936.9 536H945.3V540H936.9zM1089.1 536H1106V540H1089.1zM945.3 540H1097.6V544H945.3zM742.3 544H750.8V548H742.3zM953.8 544H1080.7V548H953.8zM742.3 548H750.8V552H742.3zM733.9 580H742.3V584H733.9zM733.9 584H742.3V588H733.9zM733.9 588H742.3V592H733.9zM725.4 600H733.9V604H725.4zM717 604H725.4V608H717zM700.1 608H708.5V612H700.1zM691.6 612H700.1V616H691.6zM683.1 620H691.6V624H683.1zM683.1 624H691.6V628H683.1zM683.1 628H691.6V632H683.1zM683.1 632H691.6V636H683.1zM666.2 644H674.7V648H666.2zM657.8 648H666.2V652H657.8zM640.8 660H649.3V664H640.8zM598.6 668H640.8V672H598.6zM556.3 672H590.1V676H556.3zM530.9 676H547.8V680H530.9zM514 716H522.4V720H514zM446.3 764H454.8V768H446.3z"/><path fill="#88ff00" d="M327.9 224H378.7V228H327.9zM437.9 240H446.3V244H437.9zM530.9 248H539.4V252H530.9zM556.3 276H615.5V280H556.3zM708.5 280H742.3V284H708.5zM750.8 284H759.3V288H750.8zM987.6 344H1185V348H987.6zM750.8 348H759.3V352H750.8zM970.7 348H987.6V352H970.7zM750.8 352H759.3V356H750.8zM936.9 352H953.8V356H936.9zM750.8 356H759.3V360H750.8zM936.9 356H945.3V360H936.9zM750.8 360H759.3V364H750.8zM750.8 364H759.3V368H750.8zM928.4 364H936.9V368H928.4zM750.8 368H759.3V372H750.8zM928.4 368H936.9V372H928.4zM750.8 372H759.3V376H750.8zM928.4 372H936.9V376H928.4zM928.4 376H936.9V380H928.4zM928.4 380H936.9V384H928.4zM742.3 384H750.8V388H742.3zM928.4 384H936.9V388H928.4zM742.3 388H750.8V392H742.3zM928.4 388H936.9V392H928.4zM928.4 392H936.9V396H928.4zM928.4 396H936.9V400H928.4zM928.4 400H936.9V404H928.4zM742.3 404H750.8V408H742.3zM928.4 404H936.9V408H928.4zM928.4 408H936.9V412H928.4zM928.4 412H936.9V416H928.4zM928.4 416H936.9V420H928.4zM928.4 420H936.9V424H928.4zM928.4 424H936.9V428H928.4zM327.9 428H336.4V432H327.9zM928.4 428H936.9V432H928.4zM742.3 432H750.8V436H742.3zM928.4 432H936.9V436H928.4zM742.3 436H750.8V440H742.3zM928.4 436H936.9V440H928.4zM928.4 440H936.9V444H928.4zM928.4 444H936.9V448H928.4zM928.4 448H936.9V452H928.4zM928.4 452H936.9V456H928.4zM725.4 456H733.9V460H725.4zM370.2 460H378.7V464H370.2zM725.4 460H733.9V464H725.4zM936.9 460H945.3V464H936.9zM361.7 464H370.2V468H361.7zM725.4 464H733.9V468H725.4zM936.9 464H945.3V468H936.9zM319.4 468H327.9V472H319.4zM353.3 468H361.7V472H353.3zM725.4 468H733.9V472H725.4zM319.4 472H327.9V476H319.4zM725.4 472H733.9V476H725.4zM319.4 476H327.9V480H319.4zM361.7 476H370.2V480H361.7zM945.3 476H953.8V480H945.3zM319.4 480H327.9V484H319.4zM945.3 480H953.8V484H945.3zM733.9 484H742.3V488H733.9zM945.3 484H953.8V488H945.3zM387.1 492H395.6V496H387.1zM750.8 492H759.3V496H750.8zM750.8 496H759.3V500H750.8zM750.8 500H759.3V504H750.8zM936.9 500H945.3V504H936.9zM387.1 504H395.6V508H387.1zM750.8 504H759.3V508H750.8zM936.9 504H945.3V508H936.9zM361.7 508H378.7V512H361.7zM750.8 508H759.3V512H750.8zM750.8 512H759.3V516H750.8zM928.4 512H936.9V516H928.4zM750.8 516H759.3V520H750.8zM928.4 516H936.9V520H928.4zM750.8 520H759.3V524H750.8zM928.4 520H936.9V524H928.4zM750.8 524H759.3V528H750.8zM928.4 524H936.9V528H928.4zM750.8 528H759.3V532H750.8zM750.8 532H759.3V536H750.8zM1114.5 532H1185V536H1114.5zM750.8 536H759.3V540H750.8zM1106 536H1114.5V540H1106zM936.9 540H945.3V544H936.9zM1097.6 540H1106V544H1097.6zM945.3 544H953.8V548H945.3zM1080.7 544H1097.6V548H1080.7zM742.3 552H750.8V556H742.3zM742.3 556H750.8V560H742.3zM742.3 560H750.8V564H742.3zM733.9 592H742.3V596H733.9zM725.4 604H733.9V608H725.4zM708.5 608H717V612H708.5zM700.1 612H708.5V616H700.1zM691.6 616H700.1V620H691.6zM683.1 636H691.6V640H683.1zM683.1 640H691.6V644H683.1zM674.7 644H683.1V648H674.7zM649.3 656H657.8V660H649.3zM640.8 664H649.3V668H640.8zM640.8 668H649.3V672H640.8zM590.1 672H640.8V676H590.1zM547.8 676H556.3V680H547.8zM522.4 684H530.9V688H522.4zM505.5 720H514V724H505.5zM480.1 732H505.5V736H480.1zM471.7 740H480.1V744H471.7zM437.9 768H446.3V772H437.9z"/><path fill="#7cff00" d="M378.6 224H387.1V228H378.6zM412.5 232H437.9V236H412.5zM446.3 244H480.1V248H446.3zM539.4 268H547.8V272H539.4zM615.5 276H708.5V280H615.5zM742.3 280H750.8V284H742.3zM759.3 288H767.7V292H759.3zM759.3 292H767.7V296H759.3zM759.3 296H767.7V300H759.3zM759.3 300H767.7V304H759.3zM759.3 304H767.7V308H759.3zM759.3 308H767.7V312H759.3zM759.3 312H767.7V316H759.3zM759.3 316H767.7V320H759.3zM759.3 320H767.7V324H759.3zM759.3 324H767.7V328H759.3zM759.3 328H767.7V332H759.3zM759.3 332H767.7V336H759.3zM987.6 340H1185V344H987.6zM979.2 344H987.6V348H979.2zM945.3 348H970.7V352H945.3zM928.4 360H936.9V364H928.4zM750.8 376H759.3V380H750.8zM920 376H928.4V380H920zM750.8 380H759.3V384H750.8zM920 380H928.4V384H920zM920 384H928.4V388H920zM920 388H928.4V392H920zM742.3 392H750.8V396H742.3zM920 392H928.4V396H920zM742.3 396H750.8V400H742.3zM920 396H928.4V400H920zM742.3 400H750.8V404H742.3zM920 400H928.4V404H920zM920 404H928.4V408H920zM920 408H928.4V412H920zM750.8 412H759.3V416H750.8zM920 412H928.4V416H920zM750.8 416H759.3V420H750.8zM920 416H928.4V420H920zM750.8 420H759.3V424H750.8zM920 420H928.4V424H920zM750.8 424H759.3V428H750.8zM920 424H928.4V428H920zM750.8 428H759.3V432H750.8zM920 428H928.4V432H920zM319.4 432H327.9V436H319.4zM920 432H928.4V436H920zM336.4 436H344.8V440H336.4zM920 436H928.4V440H920zM742.3 440H750.8V444H742.3zM361.7 444H370.2V448H361.7zM733.9 444H742.3V448H733.9zM370.2 456H378.7V460H370.2zM928.4 456H936.9V460H928.4zM928.4 460H936.9V464H928.4zM319.4 464H327.9V468H319.4zM353.3 464H361.7V468H353.3zM936.9 468H945.3V472H936.9zM353.3 472H361.7V476H353.3zM936.9 472H945.3V476H936.9zM353.3 476H361.7V480H353.3zM936.9 476H945.3V480H936.9zM361.7 480H370.2V484H361.7zM936.9 480H945.3V484H936.9zM327.9 484H353.3V488H327.9zM742.3 484H759.3V488H742.3zM936.9 484H945.3V488H936.9zM370.2 488H378.7V492H370.2zM750.8 488H759.3V492H750.8zM936.9 488H945.3V492H936.9zM936.9 492H945.3V496H936.9zM353.3 496H361.7V500H353.3zM936.9 496H945.3V500H936.9zM387.1 500H395.6V504H387.1zM928.4 500H936.9V504H928.4zM928.4 504H936.9V508H928.4zM928.4 508H936.9V512H928.4zM928.4 528H936.9V532H928.4zM928.4 532H936.9V536H928.4zM1114.5 536H1185V540H1114.5zM750.8 540H759.3V544H750.8zM1106 540H1131.4V544H1106zM750.8 544H759.3V548H750.8zM936.9 544H945.3V548H936.9zM1097.6 544H1106V548H1097.6zM945.3 548H1097.6V552H945.3zM742.3 564H750.8V568H742.3zM742.3 568H750.8V572H742.3zM742.3 572H750.8V576H742.3zM733.9 596H742.3V600H733.9zM717 608H725.4V612H717zM691.6 620H700.1V624H691.6zM683.1 644H691.6V648H683.1zM666.2 648H674.7V652H666.2zM657.8 652H666.2V656H657.8zM649.3 660H657.8V664H649.3zM640.8 672H649.3V676H640.8zM556.3 676H573.2V680H556.3zM615.5 676H640.8V680H615.5zM530.9 680H556.3V684H530.9zM522.4 688H530.9V692H522.4zM471.7 744H480.1V748H471.7zM463.2 760H471.7V764H463.2z"/><path fill="#31ff00" d="M387.1 224H395.6V228H387.1zM488.6 244H497.1V248H488.6zM530.9 244H539.4V248H530.9zM539.4 248H547.8V252H539.4zM556.3 268H700.1V272H556.3zM759.3 276H767.7V280H759.3zM767.7 284H776.2V288H767.7zM767.7 288H776.2V292H767.7zM767.7 292H776.2V296H767.7zM767.7 296H776.2V300H767.7zM767.7 300H776.2V304H767.7zM767.7 304H776.2V308H767.7zM767.7 308H776.2V312H767.7zM996.1 316H1185V320H996.1zM987.6 320H996.1V324H987.6zM979.2 324H987.6V328H979.2zM979.2 328H987.6V332H979.2zM767.7 332H776.2V336H767.7zM767.7 336H776.2V340H767.7zM970.7 336H979.2V340H970.7zM936.9 340H953.8V344H936.9zM928.4 344H936.9V348H928.4zM920 352H928.4V356H920zM911.5 356H920V360H911.5zM877.7 360H920V364H877.7zM869.2 372H877.7V376H869.2zM869.2 376H877.7V380H869.2zM759.3 380H767.7V384H759.3zM869.2 380H877.7V384H869.2zM759.3 384H767.7V388H759.3zM869.2 384H877.7V388H869.2zM869.2 388H877.7V392H869.2zM869.2 392H877.7V396H869.2zM759.3 408H767.7V412H759.3zM877.7 420H886.1V424H877.7zM877.7 424H886.1V428H877.7zM759.3 428H767.7V432H759.3zM877.7 428H886.1V432H877.7zM759.3 432H767.7V436H759.3zM886.1 440H894.6V444H886.1zM886.1 444H903V448H886.1zM344.8 448H361.7V452H344.8zM903 448H911.5V452H903zM361.7 456H370.2V460H361.7zM750.8 456H759.3V460H750.8zM911.5 456H920V460H911.5zM327.9 460H353.3V464H327.9zM742.3 460H759.3V464H742.3zM911.5 460H920V464H911.5zM742.3 464H750.8V468H742.3zM911.5 464H920V468H911.5zM911.5 468H920V472H911.5zM911.5 472H920V476H911.5zM759.3 476H767.7V480H759.3zM911.5 476H920V480H911.5zM759.3 480H767.7V484H759.3zM911.5 480H920V484H911.5zM911.5 484H920V488H911.5zM911.5 488H920V492H911.5zM370.2 492H378.7V496H370.2zM911.5 492H920V496H911.5zM911.5 496H920V500H911.5zM361.7 500H387.1V504H361.7zM903 504H911.5V508H903zM903 528H911.5V532H903zM911.5 532H920V536H911.5zM920 540H928.4V544H920zM759.3 544H767.7V548H759.3zM759.3 548H767.7V552H759.3zM759.3 552H767.7V556H759.3zM928.4 552H936.9V556H928.4zM928.4 556H936.9V560H928.4zM936.9 560H1185V564H936.9zM750.8 572H759.3V576H750.8zM742.3 596H750.8V600H742.3zM733.9 612H742.3V616H733.9zM708.5 620H725.4V624H708.5zM700.1 624H708.5V628H700.1zM683.1 652H691.6V656H683.1zM674.7 656H683.1V660H674.7zM657.8 668H666.2V672H657.8zM649.3 676H657.8V680H649.3zM556.3 684H564.7V688H556.3zM607 684H623.9V688H607zM640.8 684H649.3V688H640.8zM623.9 688H640.8V692H623.9zM530.9 692H556.3V696H530.9zM522.4 716H530.9V720H522.4zM514 724H522.4V728H514z"/><path fill="#00ff2c" d="M404 224H412.5V228H404zM446.3 232H480.1V236H446.3zM530.9 240H539.4V244H530.9zM547.8 248H556.3V252H547.8zM564.7 260H700.1V264H564.7zM708.5 264H717V268H708.5zM725.4 268H750.8V272H725.4zM767.7 272H776.2V276H767.7zM860.8 292H970.7V296H860.8zM776.2 296H784.6V300H776.2zM852.3 296H869.2V300H852.3zM970.7 296H979.2V300H970.7zM776.2 300H784.6V304H776.2zM852.3 300H860.8V304H852.3zM776.2 304H784.6V308H776.2zM852.3 304H869.2V308H852.3zM987.6 304H1185V308H987.6zM860.8 308H894.6V312H860.8zM894.6 312H903V316H894.6zM894.6 316H903V320H894.6zM776.2 336H784.6V340H776.2zM894.6 340H903V344H894.6zM894.6 344H903V348H894.6zM877.7 348H886.1V352H877.7zM869.2 352H877.7V356H869.2zM860.8 360H869.2V364H860.8zM860.8 364H869.2V368H860.8zM860.8 368H869.2V372H860.8zM860.8 372H869.2V376H860.8zM860.8 376H869.2V380H860.8zM860.8 380H869.2V384H860.8zM767.7 392H776.2V396H767.7zM767.7 396H776.2V400H767.7zM767.7 432H776.2V436H767.7zM767.7 436H776.2V440H767.7zM767.7 440H776.2V444H767.7zM767.7 444H776.2V448H767.7zM869.2 444H877.7V448H869.2zM767.7 448H776.2V452H767.7zM869.2 448H877.7V452H869.2zM767.7 452H776.2V456H767.7zM869.2 452H877.7V456H869.2zM767.7 456H776.2V460H767.7zM767.7 460H776.2V464H767.7zM767.7 464H776.2V468H767.7zM767.7 468H776.2V472H767.7zM767.7 472H776.2V476H767.7zM810 496H818.5V500H810zM801.5 500H810V504H801.5zM801.5 504H810V508H801.5zM818.5 504H826.9V508H818.5zM801.5 508H810V512H801.5zM818.5 508H826.9V512H818.5zM801.5 512H810V516H801.5zM818.5 512H826.9V516H818.5zM801.5 516H826.9V520H801.5zM869.2 516H877.7V520H869.2zM810 520H826.9V524H810zM869.2 520H877.7V524H869.2zM810 524H818.5V528H810zM869.2 524H877.7V528H869.2zM810 528H826.9V532H810zM869.2 528H886.1V532H869.2zM810 532H826.9V536H810zM877.7 532H894.6V536H877.7zM801.5 536H810V540H801.5zM818.5 536H826.9V540H818.5zM801.5 540H810V544H801.5zM818.5 540H826.9V544H818.5zM894.6 540H903V544H894.6zM801.5 544H810V548H801.5zM818.5 544H826.9V548H818.5zM801.5 548H810V552H801.5zM818.5 548H826.9V552H818.5zM801.5 552H810V556H801.5zM818.5 552H826.9V556H818.5zM810 556H818.5V560H810zM903 560H911.5V564H903zM767.7 564H776.2V568H767.7zM903 564H911.5V568H903zM767.7 568H776.2V572H767.7zM903 568H911.5V572H903zM911.5 572H920V576H911.5zM920 576H1185V580H920zM759.3 580H767.7V584H759.3zM750.8 600H759.3V604H750.8zM742.3 616H750.8V620H742.3zM733.9 636H742.3V640H733.9zM725.4 640H733.9V644H725.4zM708.5 648H717V652H708.5zM691.6 660H700.1V664H691.6zM683.1 672H691.6V676H683.1zM683.1 676H691.6V680H683.1zM674.7 688H683.1V692H674.7zM666.2 696H674.7V700H666.2zM657.8 700H666.2V704H657.8zM607 704H657.8V708H607zM590.1 708H607V712H590.1zM590.1 712H598.6V716H590.1zM547.8 716H590.1V720H547.8zM522.4 724H530.9V728H522.4zM497.1 748H505.5V752H497.1zM488.6 752H497.1V756H488.6zM488.6 756H497.1V760H488.6zM480.1 760H488.6V764H480.1zM471.7 764H480.1V768H471.7z"/><path fill="#00ffe7" d="M514 224H556.3V228H514zM556.3 228H564.7V232H556.3zM564.7 236H607V240H564.7zM683.1 240H691.6V244H683.1zM700.1 244H708.5V248H700.1zM733.9 252H767.7V256H733.9zM852.3 260H860.8V264H852.3zM945.3 260H962.3V264H945.3zM996.1 268H1185V272H996.1zM801.5 348H818.5V352H801.5zM793.1 356H801.6V360H793.1zM826.9 364H835.4V368H826.9zM826.9 368H835.4V372H826.9zM826.9 372H835.4V376H826.9zM826.9 376H835.4V380H826.9zM835.4 388H843.8V392H835.4zM843.8 400H852.3V404H843.8zM843.8 404H852.3V408H843.8zM843.8 408H852.3V412H843.8zM843.8 412H852.3V416H843.8zM843.8 440H852.3V444H843.8zM843.8 444H852.3V448H843.8zM793.1 448H801.6V452H793.1zM801.5 452H818.5V456H801.5zM826.9 452H835.4V456H826.9zM852.3 456H860.8V460H852.3zM835.4 464H843.8V468H835.4zM835.4 468H843.8V472H835.4zM835.4 472H843.8V476H835.4zM843.8 496H860.8V500H843.8zM860.8 596H869.2V600H860.8zM835.4 600H852.3V604H835.4zM826.9 604H835.4V608H826.9zM911.5 604H1029.9V608H911.5zM784.6 608H826.9V612H784.6zM784.6 612H793.1V616H784.6zM776.2 620H784.6V624H776.2zM776.2 624H784.6V628H776.2zM784.6 628H793.1V632H784.6zM793.1 632H801.6V636H793.1zM801.5 636H810V640H801.5zM801.5 640H810V644H801.5zM793.1 644H801.6V648H793.1zM776.2 648H784.6V652H776.2zM759.3 652H767.7V656H759.3zM750.8 656H759.3V660H750.8zM742.3 660H750.8V664H742.3zM733.9 664H742.3V668H733.9zM725.4 672H733.9V676H725.4zM717 680H725.4V684H717zM708.5 696H717V700H708.5zM700.1 708H708.5V712H700.1zM691.6 716H700.1V720H691.6zM657.8 736H666.2V740H657.8zM530.9 740H581.6V744H530.9zM649.3 740H657.8V744H649.3zM590.1 744H598.6V748H590.1zM522.4 748H530.9V752H522.4zM590.1 748H598.6V752H590.1zM640.8 748H649.3V752H640.8zM590.1 752H598.6V756H590.1zM590.1 756H598.6V760H590.1zM615.5 760H623.9V764H615.5z"/><path fill="#00b2ff" d="M615.5 224H623.9V228H615.5zM683.1 228H691.6V232H683.1zM717 236H733.9V240H717zM776.2 240H826.9V244H776.2zM843.8 244H852.3V248H843.8zM987.6 252H996.1V256H987.6zM801.5 384H818.5V388H801.5zM818.5 396H826.9V400H818.5zM818.5 432H826.9V436H818.5zM801.5 436H818.5V440H801.5zM877.7 616H894.6V620H877.7zM852.3 620H869.2V624H852.3zM894.6 620H903V624H894.6zM1038.4 620H1185V624H1038.4zM843.8 624H852.3V628H843.8zM903 624H1029.9V628H903zM835.4 644H843.8V648H835.4zM826.9 648H835.4V652H826.9zM818.5 652H826.9V656H818.5zM793.1 660H801.6V664H793.1zM784.6 664H793.1V668H784.6zM776.2 668H784.6V672H776.2zM767.7 672H776.2V676H767.7zM759.3 676H767.7V680H759.3zM750.8 680H759.3V684H750.8zM742.3 688H750.8V692H742.3zM733.9 700H742.3V704H733.9zM725.4 716H733.9V720H725.4zM717 724H725.4V728H717zM708.5 728H717V732H708.5zM700.1 732H708.5V736H700.1zM691.6 736H700.1V740H691.6zM683.1 740H691.6V744H683.1zM674.7 748H683.1V752H674.7zM666.2 756H674.7V760H666.2zM666.2 760H674.7V764H666.2zM674.7 764H708.5V768H674.7zM708.5 768H717V772H708.5zM717 772H725.4V776H717zM590.1 776H598.6V780H590.1zM632.4 776H640.8V780H632.4zM590.1 780H598.6V782H590.1zM632.4 780H640.8V782H632.4z"/><path fill="#fffa00" d="M170 228H175.7V232H170zM277.2 228H319.4V232H277.2zM378.6 252H387.1V256H378.6zM420.9 252H429.4V256H420.9zM505.5 268H514V272H505.5zM217.9 272H226.4V276H217.9zM226.4 276H234.9V280H226.4zM446.3 276H454.8V280H446.3zM522.4 284H530.9V288H522.4zM378.6 320H387.1V324H378.6zM480.1 332H497.1V336H480.1zM471.7 340H480.1V344H471.7zM505.5 340H514V344H505.5zM378.6 356H387.1V360H378.6zM226.4 368H234.9V372H226.4zM209.5 392H217.9V396H209.5zM260.2 392H268.7V396H260.2zM302.5 400H311V404H302.5zM674.7 412H683.1V416H674.7zM488.6 416H497.1V420H488.6zM683.1 416H691.6V420H683.1zM344.8 420H353.3V424H344.8zM657.8 420H666.2V424H657.8zM691.6 420H700.1V424H691.6zM201 428H209.5V432H201zM387.1 428H395.6V432H387.1zM700.1 428H708.5V432H700.1zM370.2 432H378.7V436H370.2zM657.8 440H666.2V444H657.8zM657.8 444H666.2V448H657.8zM700.1 444H708.5V448H700.1zM497.1 448H505.5V452H497.1zM666.2 448H700.1V452H666.2zM209.5 456H217.9V460H209.5zM505.5 460H514V464H505.5zM454.8 464H463.2V468H454.8zM429.4 472H437.9V476H429.4zM454.8 472H463.2V476H454.8zM404 480H412.5V484H404zM404 484H412.5V488H404zM539.4 484H564.7V488H539.4zM285.6 488H294.1V492H285.6zM302.5 488H311V492H302.5zM607 488H623.9V492H607zM691.6 488H708.5V492H691.6zM319.4 492H327.9V496H319.4zM412.5 492H420.9V496H412.5zM573.2 492H581.6V496H573.2zM623.9 492H632.4V496H623.9zM708.5 492H717V496H708.5zM683.1 496H691.6V500H683.1zM446.3 500H454.8V504H446.3zM674.7 504H683.1V508H674.7zM260.2 508H268.7V512H260.2zM311 508H319.4V512H311zM302.5 516H311V520H302.5zM623.9 516H632.4V520H623.9zM615.5 520H623.9V524H615.5zM674.7 520H683.1V524H674.7zM674.7 524H683.1V528H674.7zM674.7 528H683.1V532H674.7zM217.9 532H226.4V536H217.9zM285.6 532H294.1V536H285.6zM170 536H175.7V540H170zM209.5 536H217.9V540H209.5zM277.2 536H285.6V540H277.2zM170 544H175.7V548H170zM217.9 544H226.4V548H217.9zM344.8 544H353.3V548H344.8zM708.5 544H717V548H708.5zM674.7 548H683.1V552H674.7zM370.2 552H378.7V556H370.2zM683.1 552H708.5V556H683.1zM573.2 560H581.6V564H573.2zM522.4 580H530.9V584H522.4zM556.3 592H564.7V596H556.3zM547.8 596H556.3V600H547.8zM404 608H412.5V612H404zM420.9 636H429.4V640H420.9zM209.5 640H217.9V644H209.5zM429.4 644H437.9V648H429.4zM437.9 648H446.3V652H437.9zM175.7 652H184.1V656H175.7zM471.7 668H480.1V672H471.7zM175.7 676H184.1V680H175.7zM260.2 684H268.7V688H260.2zM226.4 688H234.9V692H226.4zM192.6 704H209.5V708H192.6zM463.2 724H471.7V728H463.2z"/><path fill="#fff600" d="M175.7 228H184.1V232H175.7zM395.6 240H404V244H395.6zM378.6 244H387.1V248H378.6zM412.5 252H420.9V256H412.5zM437.9 256H446.3V260H437.9zM471.7 260H480.1V264H471.7zM497.1 260H505.5V264H497.1zM226.4 296H234.9V300H226.4zM217.9 300H226.4V304H217.9zM530.9 316H539.4V320H530.9zM497.1 332H505.5V336H497.1zM387.1 340H395.6V344H387.1zM395.6 348H404V352H395.6zM387.1 372H395.6V376H387.1zM463.2 372H471.7V376H463.2zM302.5 396H311V400H302.5zM217.9 400H226.4V404H217.9zM404 400H412.5V404H404zM226.4 404H251.8V408H226.4zM277.2 404H302.5V408H277.2zM319.4 404H327.9V408H319.4zM277.2 412H285.6V416H277.2zM285.6 416H294.1V420H285.6zM666.2 416H683.1V420H666.2zM353.3 420H361.7V424H353.3zM387.1 424H395.6V428H387.1zM437.9 424H446.3V428H437.9zM657.8 424H666.2V428H657.8zM691.6 424H700.1V428H691.6zM657.8 428H666.2V432H657.8zM217.9 432H226.4V436H217.9zM497.1 432H505.5V436H497.1zM657.8 432H666.2V436H657.8zM700.1 432H708.5V436H700.1zM657.8 436H666.2V440H657.8zM700.1 436H708.5V440H700.1zM700.1 440H708.5V444H700.1zM666.2 444H674.7V448H666.2zM691.6 444H700.1V448H691.6zM192.6 460H209.5V464H192.6zM522.4 464H530.9V468H522.4zM454.8 468H463.2V472H454.8zM463.2 476H471.7V480H463.2zM437.9 480H446.3V484H437.9zM437.9 484H446.3V488H437.9zM311 488H319.4V492H311zM607 492H615.5V496H607zM691.6 492H700.1V496H691.6zM623.9 496H632.4V500H623.9zM708.5 496H717V500H708.5zM623.9 500H632.4V504H623.9zM708.5 500H717V504H708.5zM319.4 504H327.9V508H319.4zM623.9 504H632.4V508H623.9zM623.9 508H632.4V512H623.9zM674.7 508H683.1V512H674.7zM623.9 512H632.4V516H623.9zM674.7 512H683.1V516H674.7zM607 516H623.9V520H607zM674.7 516H683.1V520H674.7zM294.1 520H302.5V524H294.1zM217.9 528H226.4V532H217.9zM285.6 528H294.1V532H285.6zM311 532H319.4V536H311zM674.7 532H683.1V536H674.7zM175.7 536H184.1V540H175.7zM302.5 536H311V540H302.5zM336.4 536H344.8V540H336.4zM674.7 536H683.1V540H674.7zM708.5 536H717V540H708.5zM674.7 540H683.1V544H674.7zM708.5 540H717V544H708.5zM175.7 544H184.1V548H175.7zM294.1 544H302.5V548H294.1zM674.7 544H683.1V548H674.7zM285.6 548H294.1V552H285.6zM361.7 548H370.2V552H361.7zM505.5 548H514V552H505.5zM683.1 548H691.6V552H683.1zM700.1 548H708.5V552H700.1zM573.2 556H581.6V560H573.2zM378.6 560H387.1V564H378.6zM564.7 564H573.2V568H564.7zM209.5 572H217.9V576H209.5zM387.1 572H395.6V576H387.1zM522.4 584H530.9V588H522.4zM395.6 604H404V608H395.6zM420.9 640H429.4V644H420.9zM184.1 644H192.6V648H184.1zM217.9 648H226.4V652H217.9zM170 652H175.7V656H170zM454.8 660H463.2V664H454.8zM170 676H175.7V680H170zM184.1 684H192.6V688H184.1zM217.9 696H226.4V700H217.9zM243.3 696H251.8V700H243.3zM209.5 704H217.9V708H209.5zM471.7 716H480.1V720H471.7zM446.3 752H454.8V756H446.3zM429.4 764H437.9V768H429.4zM412.5 768H420.9V772H412.5z"/><path fill="#ffed00" d="M184.1 228H192.6V232H184.1zM378.6 232H387.1V236H378.6zM387.1 240H395.6V244H387.1zM387.1 244H395.6V248H387.1zM429.4 256H437.9V260H429.4zM488.6 260H497.1V264H488.6zM226.4 272H234.9V276H226.4zM437.9 276H446.3V280H437.9zM437.9 284H446.3V288H437.9zM378.6 316H387.1V320H378.6zM370.2 320H378.7V324H370.2zM522.4 320H530.9V324H522.4zM370.2 340H378.7V344H370.2zM514 340H522.4V344H514zM370.2 344H378.7V348H370.2zM378.6 360H387.1V364H378.6zM217.9 364H226.4V368H217.9zM217.9 368H226.4V372H217.9zM226.4 372H234.9V376H226.4zM387.1 376H395.6V380H387.1zM209.5 388H217.9V392H209.5zM260.2 388H268.7V392H260.2zM201 392H209.5V396H201zM251.8 392H260.2V396H251.8zM217.9 396H226.4V400H217.9zM251.8 400H260.2V404H251.8zM268.7 400H277.2V404H268.7zM251.8 404H260.2V408H251.8zM268.7 404H277.2V408H268.7zM344.8 416H353.3V420H344.8zM387.1 416H395.6V420H387.1zM285.6 420H294.1V424H285.6zM361.7 420H370.2V424H361.7zM666.2 424H674.7V428H666.2zM683.1 424H691.6V428H683.1zM666.2 428H674.7V432H666.2zM454.8 432H463.2V436H454.8zM691.6 432H700.1V436H691.6zM184.1 436H192.6V440H184.1zM217.9 436H226.4V440H217.9zM666.2 436H674.7V440H666.2zM691.6 436H700.1V440H691.6zM674.7 440H691.6V444H674.7zM184.1 456H192.6V460H184.1zM514 460H522.4V464H514zM429.4 476H437.9V480H429.4zM268.7 484H277.2V488H268.7zM530.9 488H539.4V492H530.9zM556.3 488H564.7V492H556.3zM615.5 496H623.9V500H615.5zM691.6 496H708.5V500H691.6zM319.4 500H327.9V504H319.4zM615.5 500H623.9V504H615.5zM260.2 504H268.7V508H260.2zM683.1 504H691.6V508H683.1zM420.9 508H429.4V512H420.9zM615.5 508H623.9V512H615.5zM683.1 520H691.6V524H683.1zM217.9 524H226.4V528H217.9zM285.6 524H294.1V528H285.6zM683.1 524H691.6V528H683.1zM683.1 528H691.6V532H683.1zM170 532H175.7V536H170zM209.5 532H217.9V536H209.5zM277.2 532H285.6V536H277.2zM683.1 532H691.6V536H683.1zM683.1 540H691.6V544H683.1zM268.7 544H277.2V548H268.7zM683.1 544H691.6V548H683.1zM700.1 544H708.5V548H700.1zM201 548H209.5V552H201zM217.9 548H226.4V552H217.9zM268.7 548H277.2V552H268.7zM344.8 548H361.7V552H344.8zM285.6 552H294.1V556H285.6zM370.2 556H378.7V560H370.2zM564.7 560H573.2V564H564.7zM201 572H209.5V576H201zM556.3 572H564.7V576H556.3zM530.9 576H539.4V580H530.9zM556.3 576H564.7V580H556.3zM539.4 592H547.8V596H539.4zM201 636H209.5V640H201zM184.1 640H192.6V644H184.1zM217.9 644H226.4V648H217.9zM175.7 648H184.1V652H175.7zM260.2 680H268.7V684H260.2zM471.7 680H480.1V684H471.7zM251.8 684H260.2V688H251.8zM471.7 684H480.1V688H471.7zM251.8 688H260.2V692H251.8zM471.7 688H480.1V692H471.7zM234.9 692H243.3V696H234.9zM471.7 692H480.1V696H471.7zM454.8 732H463.2V736H454.8zM454.8 736H463.2V740H454.8z"/><path fill="#ffe000" d="M192.6 228H260.2V232H192.6zM395.6 244H404V248H395.6zM437.9 260H446.3V264H437.9zM446.3 268H454.8V272H446.3zM437.9 272H446.3V276H437.9zM437.9 292H446.3V296H437.9zM522.4 292H530.9V296H522.4zM437.9 296H446.3V300H437.9zM437.9 300H446.3V304H437.9zM437.9 304H446.3V308H437.9zM530.9 304H539.4V308H530.9zM437.9 308H446.3V312H437.9zM209.5 316H217.9V320H209.5zM387.1 332H395.6V336H387.1zM505.5 332H514V336H505.5zM463.2 340H471.7V344H463.2zM454.8 348H463.2V352H454.8zM454.8 352H463.2V356H454.8zM226.4 356H234.9V360H226.4zM454.8 356H463.2V360H454.8zM217.9 360H226.4V364H217.9zM454.8 360H463.2V364H454.8zM454.8 364H463.2V368H454.8zM234.9 368H243.3V372H234.9zM217.9 372H226.4V376H217.9zM387.1 380H395.6V384H387.1zM387.1 384H395.6V388H387.1zM463.2 384H471.7V388H463.2zM201 388H209.5V392H201zM251.8 388H260.2V392H251.8zM387.1 388H395.6V392H387.1zM217.9 392H226.4V396H217.9zM268.7 392H277.2V396H268.7zM387.1 392H395.6V396H387.1zM387.1 396H395.6V400H387.1zM387.1 400H395.6V404H387.1zM387.1 404H395.6V408H387.1zM336.4 408H344.8V412H336.4zM387.1 408H395.6V412H387.1zM277.2 416H285.6V420H277.2zM353.3 416H361.7V420H353.3zM234.9 420H243.3V424H234.9zM497.1 420H505.5V424H497.1zM285.6 424H294.1V428H285.6zM192.6 428H201V432H192.6zM285.6 428H294.1V432H285.6zM446.3 428H454.8V432H446.3zM226.4 432H234.9V436H226.4zM285.6 432H294.1V436H285.6zM285.6 436H294.1V440H285.6zM268.7 448H277.2V452H268.7zM217.9 456H226.4V460H217.9zM463.2 460H471.7V464H463.2zM184.1 464H192.6V468H184.1zM522.4 484H530.9V488H522.4zM268.7 488H277.2V492H268.7zM437.9 488H446.3V492H437.9zM547.8 488H556.3V492H547.8zM277.2 492H285.6V496H277.2zM319.4 496H327.9V500H319.4zM311 504H319.4V508H311zM691.6 504H708.5V508H691.6zM268.7 508H277.2V512H268.7zM700.1 508H708.5V512H700.1zM251.8 512H260.2V516H251.8zM268.7 512H277.2V516H268.7zM700.1 512H708.5V516H700.1zM226.4 516H234.9V520H226.4zM700.1 516H708.5V520H700.1zM285.6 520H294.1V524H285.6zM691.6 520H708.5V524H691.6zM234.9 524H243.3V528H234.9zM691.6 524H708.5V528H691.6zM234.9 528H243.3V532H234.9zM691.6 528H708.5V532H691.6zM691.6 532H708.5V536H691.6zM319.4 536H336.4V540H319.4zM691.6 536H708.5V540H691.6zM691.6 540H700.1V544H691.6zM336.4 544H344.8V548H336.4zM361.7 552H370.2V556H361.7zM556.3 568H564.7V572H556.3zM201 576H209.5V580H201zM530.9 588H539.4V592H530.9zM387.1 596H395.6V600H387.1zM404 620H412.5V624H404zM412.5 624H420.9V628H412.5zM192.6 632H201V636H192.6zM209.5 636H217.9V640H209.5zM217.9 640H226.4V644H217.9zM437.9 656H446.3V660H437.9zM454.8 664H463.2V668H454.8zM234.9 668H243.3V672H234.9zM251.8 680H260.2V684H251.8zM251.8 692H260.2V696H251.8zM226.4 696H234.9V700H226.4zM184.1 704H192.6V708H184.1zM217.9 704H226.4V708H217.9zM243.3 708H251.8V712H243.3zM420.9 764H429.4V768H420.9z"/><path fill="#ffe700" d="M260.2 228H268.7V232H260.2zM327.9 232H378.7V236H327.9zM378.6 240H387.1V244H378.6zM370.2 244H378.7V248H370.2zM387.1 248H395.6V252H387.1zM370.2 252H378.7V256H370.2zM378.6 256H387.1V260H378.6zM420.9 256H429.4V260H420.9zM209.5 260H217.9V264H209.5zM446.3 260H454.8V264H446.3zM480.1 260H488.6V264H480.1zM217.9 264H226.4V268H217.9zM471.7 264H480.1V268H471.7zM454.8 268H471.7V272H454.8zM505.5 276H514V280H505.5zM514 284H522.4V288H514zM437.9 288H446.3V292H437.9zM226.4 300H234.9V304H226.4zM217.9 308H226.4V312H217.9zM201 312H209.5V316H201zM530.9 312H539.4V316H530.9zM454.8 320H463.2V324H454.8zM454.8 324H463.2V328H454.8zM454.8 328H463.2V332H454.8zM480.1 328H505.5V332H480.1zM454.8 332H463.2V336H454.8zM471.7 332H480.1V336H471.7zM387.1 336H395.6V340H387.1zM454.8 336H463.2V340H454.8zM505.5 336H514V340H505.5zM454.8 340H463.2V344H454.8zM454.8 344H463.2V348H454.8zM370.2 348H378.7V352H370.2zM234.9 364H243.3V368H234.9zM463.2 376H471.7V380H463.2zM302.5 392H311V396H302.5zM268.7 396H277.2V400H268.7zM404 396H412.5V400H404zM226.4 400H251.8V404H226.4zM277.2 400H302.5V404H277.2zM319.4 400H327.9V404H319.4zM327.9 404H336.4V408H327.9zM412.5 404H420.9V408H412.5zM387.1 412H395.6V416H387.1zM429.4 412H437.9V416H429.4zM437.9 420H446.3V424H437.9zM488.6 424H497.1V428H488.6zM674.7 424H683.1V428H674.7zM370.2 428H378.7V432H370.2zM497.1 428H505.5V432H497.1zM674.7 428H691.6V432H674.7zM378.6 432H387.1V436H378.6zM666.2 432H691.6V436H666.2zM674.7 436H691.6V440H674.7zM217.9 440H226.4V444H217.9zM285.6 440H294.1V444H285.6zM217.9 444H226.4V448H217.9zM217.9 448H226.4V452H217.9zM217.9 452H226.4V456H217.9zM184.1 460H192.6V464H184.1zM192.6 464H217.9V468H192.6zM463.2 472H471.7V476H463.2zM420.9 476H429.4V480H420.9zM412.5 488H420.9V492H412.5zM539.4 488H547.8V492H539.4zM285.6 492H302.5V496H285.6zM564.7 492H573.2V496H564.7zM691.6 500H708.5V504H691.6zM615.5 504H623.9V508H615.5zM302.5 508H311V512H302.5zM683.1 508H691.6V512H683.1zM683.1 512H691.6V516H683.1zM260.2 516H268.7V520H260.2zM294.1 516H302.5V520H294.1zM683.1 516H691.6V520H683.1zM175.7 532H184.1V536H175.7zM311 536H319.4V540H311zM683.1 536H691.6V540H683.1zM268.7 540H277.2V544H268.7zM437.9 540H446.3V544H437.9zM700.1 540H708.5V544H700.1zM201 544H209.5V548H201zM302.5 544H311V548H302.5zM691.6 544H700.1V548H691.6zM170 548H184.1V552H170zM294.1 548H302.5V552H294.1zM446.3 548H454.8V552H446.3zM285.6 556H294.1V560H285.6zM514 556H522.4V560H514zM378.6 564H387.1V568H378.6zM268.7 572H277.2V576H268.7zM209.5 576H217.9V580H209.5zM387.1 576H395.6V580H387.1zM556.3 580H564.7V584H556.3zM556.3 584H564.7V588H556.3zM547.8 592H556.3V596H547.8zM395.6 608H404V612H395.6zM404 616H412.5V620H404zM420.9 644H429.4V648H420.9zM170 648H175.7V652H170zM429.4 648H437.9V652H429.4zM234.9 672H243.3V676H234.9zM234.9 676H243.3V680H234.9zM170 680H184.1V684H170zM234.9 680H243.3V684H234.9zM234.9 684H243.3V688H234.9zM234.9 688H243.3V692H234.9zM243.3 692H251.8V696H243.3zM217.9 700H226.4V704H217.9zM234.9 704H243.3V708H234.9zM192.6 708H217.9V712H192.6zM463.2 720H471.7V724H463.2zM454.8 728H463.2V732H454.8zM446.3 748H454.8V752H446.3zM404 768H412.5V772H404zM387.1 772H395.6V776H387.1z"/><path fill="#fff200" d="M268.7 228H277.2V232H268.7zM387.1 236H395.6V240H387.1zM370.2 248H378.7V252H370.2zM201 264H209.5V268H201zM454.8 264H463.2V268H454.8zM201 268H209.5V272H201zM217.9 268H226.4V272H217.9zM201 272H209.5V276H201zM446.3 272H454.8V276H446.3zM505.5 272H514V276H505.5zM201 276H209.5V280H201zM201 280H209.5V284H201zM437.9 280H446.3V284H437.9zM201 284H209.5V288H201zM201 288H209.5V292H201zM522.4 288H530.9V292H522.4zM201 292H209.5V296H201zM201 296H209.5V300H201zM201 300H209.5V304H201zM530.9 300H539.4V304H530.9zM201 304H209.5V308H201zM217.9 304H226.4V308H217.9zM201 308H209.5V312H201zM209.5 312H217.9V316H209.5zM370.2 324H378.7V328H370.2zM522.4 324H530.9V328H522.4zM370.2 328H378.7V332H370.2zM522.4 328H530.9V332H522.4zM370.2 332H378.7V336H370.2zM522.4 332H530.9V336H522.4zM370.2 336H378.7V340H370.2zM471.7 336H480.1V340H471.7zM522.4 336H530.9V340H522.4zM446.3 340H454.8V344H446.3zM463.2 344H471.7V348H463.2zM226.4 360H234.9V364H226.4zM311 392H319.4V396H311zM201 396H209.5V400H201zM251.8 396H260.2V400H251.8zM201 400H209.5V404H201zM260.2 400H268.7V404H260.2zM201 404H209.5V408H201zM201 408H209.5V412H201zM268.7 408H277.2V412H268.7zM201 412H209.5V416H201zM243.3 412H251.8V416H243.3zM336.4 412H344.8V416H336.4zM201 416H209.5V420H201zM234.9 416H243.3V420H234.9zM497.1 416H505.5V420H497.1zM201 420H209.5V424H201zM387.1 420H395.6V424H387.1zM488.6 420H497.1V424H488.6zM666.2 420H691.6V424H666.2zM201 424H209.5V428H201zM226.4 428H234.9V432H226.4zM488.6 428H497.1V432H488.6zM691.6 428H700.1V432H691.6zM192.6 432H201V436H192.6zM446.3 432H454.8V436H446.3zM184.1 440H192.6V444H184.1zM666.2 440H674.7V444H666.2zM691.6 440H700.1V444H691.6zM184.1 444H192.6V448H184.1zM285.6 444H294.1V448H285.6zM674.7 444H691.6V448H674.7zM184.1 448H192.6V452H184.1zM277.2 448H285.6V452H277.2zM184.1 452H192.6V456H184.1zM268.7 452H277.2V456H268.7zM268.7 456H277.2V460H268.7zM209.5 460H217.9V464H209.5zM268.7 460H277.2V464H268.7zM268.7 464H277.2V468H268.7zM268.7 468H277.2V472H268.7zM522.4 468H530.9V472H522.4zM268.7 472H277.2V476H268.7zM522.4 472H530.9V476H522.4zM268.7 476H277.2V480H268.7zM412.5 476H420.9V480H412.5zM522.4 476H530.9V480H522.4zM268.7 480H277.2V484H268.7zM471.7 480H480.1V484H471.7zM522.4 480H530.9V484H522.4zM277.2 488H285.6V492H277.2zM564.7 488H573.2V492H564.7zM615.5 492H623.9V496H615.5zM700.1 492H708.5V496H700.1zM573.2 496H581.6V500H573.2zM607 496H615.5V500H607zM573.2 500H581.6V504H573.2zM607 500H615.5V504H607zM683.1 500H691.6V504H683.1zM573.2 504H581.6V508H573.2zM607 504H615.5V508H607zM708.5 504H717V508H708.5zM573.2 508H581.6V512H573.2zM607 508H615.5V512H607zM708.5 508H717V512H708.5zM302.5 512H311V516H302.5zM488.6 512H497.1V516H488.6zM573.2 512H581.6V516H573.2zM607 512H623.9V516H607zM708.5 512H717V516H708.5zM573.2 516H581.6V520H573.2zM708.5 516H717V520H708.5zM226.4 520H234.9V524H226.4zM573.2 520H581.6V524H573.2zM708.5 520H717V524H708.5zM573.2 524H581.6V528H573.2zM708.5 524H717V528H708.5zM573.2 528H581.6V532H573.2zM708.5 528H717V532H708.5zM319.4 532H336.4V536H319.4zM573.2 532H581.6V536H573.2zM708.5 532H717V536H708.5zM573.2 536H581.6V540H573.2zM302.5 540H311V544H302.5zM336.4 540H344.8V544H336.4zM573.2 540H581.6V544H573.2zM573.2 544H581.6V548H573.2zM573.2 548H581.6V552H573.2zM691.6 548H700.1V552H691.6zM201 552H209.5V556H201zM268.7 552H277.2V556H268.7zM573.2 552H581.6V556H573.2zM201 556H209.5V560H201zM268.7 556H277.2V560H268.7zM201 560H209.5V564H201zM268.7 560H277.2V564H268.7zM201 564H209.5V568H201zM268.7 564H277.2V568H268.7zM201 568H209.5V572H201zM268.7 568H277.2V572H268.7zM277.2 572H285.6V576H277.2zM556.3 588H564.7V592H556.3zM530.9 592H539.4V596H530.9zM404 612H412.5V616H404zM412.5 620H420.9V624H412.5zM192.6 636H201V640H192.6zM226.4 652H234.9V656H226.4zM437.9 652H446.3V656H437.9zM446.3 660H454.8V664H446.3zM463.2 664H471.7V668H463.2zM471.7 672H480.1V676H471.7zM471.7 676H480.1V680H471.7zM184.1 688H192.6V692H184.1zM260.2 688H268.7V692H260.2zM184.1 692H192.6V696H184.1zM226.4 692H234.9V696H226.4zM184.1 696H192.6V700H184.1zM234.9 696H243.3V700H234.9zM471.7 696H480.1V700H471.7zM184.1 700H192.6V704H184.1zM234.9 700H243.3V704H234.9zM471.7 700H480.1V704H471.7zM243.3 704H251.8V708H243.3zM471.7 704H480.1V708H471.7zM471.7 708H480.1V712H471.7zM471.7 712H480.1V716H471.7zM454.8 740H463.2V744H454.8zM454.8 744H463.2V748H454.8zM437.9 760H446.3V764H437.9zM387.1 776H395.6V780H387.1zM387.1 780H395.6V782H387.1z"/><path fill="#f5ff00" d="M327.9 228H378.7V232H327.9zM429.4 248H437.9V252H429.4zM454.8 256H463.2V260H454.8zM488.6 256H497.1V260H488.6zM463.2 260H471.7V264H463.2zM514 276H530.9V280H514zM530.9 280H539.4V284H530.9zM530.9 284H539.4V288H530.9zM539.4 300H547.8V304H539.4zM539.4 336H547.8V340H539.4zM497.1 340H505.5V344H497.1zM522.4 344H530.9V348H522.4zM395.6 352H404V356H395.6zM463.2 352H471.7V356H463.2zM463.2 356H471.7V360H463.2zM573.2 356H683.1V360H573.2zM387.1 360H395.6V364H387.1zM463.2 360H471.7V364H463.2zM564.7 360H717V364H564.7zM463.2 364H471.7V368H463.2zM564.7 364H581.6V368H564.7zM598.6 364H717V368H598.6zM564.7 368H573.2V372H564.7zM708.5 368H717V372H708.5zM471.7 372H480.1V376H471.7zM564.7 372H573.2V376H564.7zM708.5 372H717V376H708.5zM564.7 376H573.2V380H564.7zM556.3 388H564.7V392H556.3zM547.8 392H564.7V396H547.8zM480.1 396H488.6V400H480.1zM547.8 396H556.3V400H547.8zM488.6 404H497.1V408H488.6zM539.4 404H547.8V408H539.4zM497.1 408H505.5V412H497.1zM530.9 408H539.4V412H530.9zM302.5 412H327.9V416H302.5zM420.9 412H429.4V416H420.9zM505.5 416H514V420H505.5zM717 416H725.4V420H717zM717 420H725.4V424H717zM294.1 424H302.5V428H294.1zM412.5 424H420.9V428H412.5zM717 424H725.4V428H717zM294.1 428H302.5V432H294.1zM361.7 428H370.2V432H361.7zM412.5 428H420.9V432H412.5zM717 428H725.4V432H717zM294.1 432H302.5V436H294.1zM404 432H420.9V436H404zM522.4 432H530.9V436H522.4zM717 432H725.4V436H717zM294.1 436H302.5V440H294.1zM370.2 436H378.7V440H370.2zM395.6 436H404V440H395.6zM412.5 436H420.9V440H412.5zM514 436H522.4V440H514zM717 436H725.4V440H717zM294.1 440H302.5V444H294.1zM378.6 440H420.9V444H378.6zM294.1 444H302.5V448H294.1zM294.1 448H302.5V452H294.1zM294.1 452H302.5V456H294.1zM294.1 456H302.5V460H294.1zM446.3 456H454.8V460H446.3zM708.5 456H717V460H708.5zM294.1 460H302.5V464H294.1zM708.5 460H717V464H708.5zM294.1 464H302.5V468H294.1zM708.5 464H717V468H708.5zM294.1 468H302.5V472H294.1zM708.5 468H717V472H708.5zM285.6 472H294.1V476H285.6zM437.9 472H446.3V476H437.9zM708.5 472H717V476H708.5zM708.5 476H717V480H708.5zM277.2 480H285.6V484H277.2zM378.6 480H387.1V484H378.6zM446.3 480H454.8V484H446.3zM285.6 484H294.1V488H285.6zM471.7 484H480.1V488H471.7zM717 488H725.4V492H717zM404 492H412.5V496H404zM717 492H725.4V496H717zM463.2 496H471.7V500H463.2zM344.8 500H353.3V504H344.8zM463.2 500H471.7V504H463.2zM344.8 504H353.3V508H344.8zM463.2 504H471.7V508H463.2zM344.8 508H353.3V512H344.8zM463.2 508H471.7V512H463.2zM344.8 512H353.3V516H344.8zM463.2 512H471.7V516H463.2zM344.8 516H353.3V520H344.8zM463.2 516H471.7V520H463.2zM344.8 520H353.3V524H344.8zM463.2 520H471.7V524H463.2zM344.8 524H353.3V528H344.8zM463.2 524H471.7V528H463.2zM344.8 528H353.3V532H344.8zM412.5 528H429.4V532H412.5zM344.8 532H353.3V536H344.8zM717 548H725.4V552H717zM717 552H725.4V556H717zM717 556H725.4V560H717zM387.1 560H395.6V564H387.1zM717 560H725.4V564H717zM514 572H522.4V576H514zM708.5 576H717V580H708.5zM395.6 580H404V584H395.6zM708.5 580H717V584H708.5zM700.1 584H717V588H700.1zM700.1 588H708.5V592H700.1zM404 592H412.5V596H404zM657.8 592H700.1V596H657.8zM412.5 596H420.9V600H412.5zM640.8 596H691.6V600H640.8zM412.5 600H420.9V604H412.5zM530.9 600H547.8V604H530.9zM640.8 600H649.3V604H640.8zM412.5 604H420.9V608H412.5zM556.3 604H564.7V608H556.3zM632.4 604H640.8V608H632.4zM412.5 608H420.9V612H412.5zM632.4 608H640.8V612H632.4zM412.5 612H420.9V616H412.5zM463.2 612H471.7V616H463.2zM632.4 612H640.8V616H632.4zM446.3 616H471.7V620H446.3zM564.7 616H573.2V620H564.7zM632.4 616H640.8V620H632.4zM420.9 620H429.4V624H420.9zM564.7 620H573.2V624H564.7zM632.4 620H640.8V624H632.4zM564.7 624H573.2V628H564.7zM598.6 624H640.8V628H598.6zM564.7 628H640.8V632H564.7zM429.4 640H471.7V644H429.4zM192.6 644H201V648H192.6zM463.2 644H471.7V648H463.2zM201 648H209.5V652H201zM463.2 648H471.7V652H463.2zM184.1 652H192.6V656H184.1zM463.2 652H471.7V656H463.2zM463.2 656H471.7V660H463.2zM175.7 660H184.1V664H175.7zM175.7 664H184.1V668H175.7zM175.7 668H184.1V672H175.7zM480.1 668H522.4V672H480.1zM209.5 672H217.9V676H209.5zM514 672H522.4V676H514zM184.1 676H192.6V680H184.1zM217.9 676H226.4V680H217.9zM505.5 676H514V680H505.5zM192.6 684H201V688H192.6zM497.1 684H505.5V688H497.1zM192.6 688H201V692H192.6zM217.9 688H226.4V692H217.9zM497.1 688H505.5V692H497.1zM497.1 692H505.5V696H497.1zM201 696H217.9V700H201zM497.1 696H505.5V700H497.1zM497.1 700H505.5V704H497.1zM488.6 704H497.1V708H488.6zM480.1 712H488.6V716H480.1zM480.1 716H488.6V720H480.1zM471.7 724H480.1V728H471.7zM463.2 732H471.7V736H463.2zM463.2 736H471.7V740H463.2zM463.2 740H471.7V744H463.2zM420.9 768H429.4V772H420.9zM395.6 776H404V780H395.6zM395.6 780H404V782H395.6z"/><path fill="#46ff00" d="M404 228H412.5V232H404zM446.3 240H488.6V244H446.3zM514 244H530.9V248H514zM488.6 248H497.1V252H488.6zM539.4 252H547.8V256H539.4zM539.4 256H547.8V260H539.4zM539.4 260H547.8V264H539.4zM547.8 268H556.3V272H547.8zM708.5 272H717V276H708.5zM750.8 276H759.3V280H750.8zM767.7 312H776.2V316H767.7zM767.7 316H776.2V320H767.7zM767.7 320H776.2V324H767.7zM996.1 320H1185V324H996.1zM767.7 324H776.2V328H767.7zM987.6 324H996.1V328H987.6zM767.7 328H776.2V332H767.7zM979.2 332H987.6V336H979.2zM979.2 336H987.6V340H979.2zM953.8 340H979.2V344H953.8zM928.4 348H936.9V352H928.4zM759.3 356H767.7V360H759.3zM920 356H928.4V360H920zM759.3 360H767.7V364H759.3zM759.3 364H767.7V368H759.3zM877.7 364H920V368H877.7zM759.3 368H767.7V372H759.3zM877.7 368H886.1V372H877.7zM759.3 372H767.7V376H759.3zM759.3 376H767.7V380H759.3zM750.8 392H759.3V396H750.8zM750.8 396H759.3V400H750.8zM759.3 412H767.7V416H759.3zM877.7 412H886.1V416H877.7zM759.3 416H767.7V420H759.3zM877.7 416H886.1V420H877.7zM759.3 420H767.7V424H759.3zM759.3 424H767.7V428H759.3zM886.1 432H894.6V436H886.1zM886.1 436H894.6V440H886.1zM319.4 440H327.9V444H319.4zM894.6 440H911.5V444H894.6zM319.4 444H327.9V448H319.4zM336.4 444H344.8V448H336.4zM750.8 444H759.3V448H750.8zM903 444H911.5V448H903zM319.4 448H327.9V452H319.4zM361.7 448H370.2V452H361.7zM750.8 448H759.3V452H750.8zM911.5 448H920V452H911.5zM319.4 452H327.9V456H319.4zM742.3 452H759.3V456H742.3zM911.5 452H920V456H911.5zM742.3 456H750.8V460H742.3zM353.3 460H361.7V464H353.3zM733.9 460H742.3V464H733.9zM327.9 464H344.8V468H327.9zM733.9 464H742.3V468H733.9zM750.8 464H759.3V468H750.8zM733.9 468H759.3V472H733.9zM733.9 472H750.8V476H733.9zM759.3 484H767.7V488H759.3zM361.7 488H370.2V492H361.7zM759.3 488H767.7V492H759.3zM759.3 492H767.7V496H759.3zM759.3 496H767.7V500H759.3zM759.3 500H767.7V504H759.3zM911.5 500H920V504H911.5zM759.3 504H767.7V508H759.3zM911.5 504H920V508H911.5zM759.3 508H767.7V512H759.3zM903 508H911.5V512H903zM759.3 512H767.7V516H759.3zM903 512H911.5V516H903zM759.3 516H767.7V520H759.3zM903 516H911.5V520H903zM759.3 520H767.7V524H759.3zM903 520H911.5V524H903zM759.3 524H767.7V528H759.3zM903 524H911.5V528H903zM759.3 528H767.7V532H759.3zM911.5 528H920V532H911.5zM759.3 532H767.7V536H759.3zM759.3 536H767.7V540H759.3zM920 536H928.4V540H920zM759.3 540H767.7V544H759.3zM928.4 548H936.9V552H928.4zM936.9 556H945.3V560H936.9zM1097.6 556H1185V560H1097.6zM750.8 568H759.3V572H750.8zM742.3 588H750.8V592H742.3zM742.3 592H750.8V596H742.3zM733.9 608H742.3V612H733.9zM717 616H733.9V620H717zM700.1 620H708.5V624H700.1zM691.6 640H700.1V644H691.6zM691.6 644H700.1V648H691.6zM674.7 652H683.1V656H674.7zM666.2 656H674.7V660H666.2zM657.8 664H666.2V668H657.8zM649.3 672H657.8V676H649.3zM564.7 680H615.5V684H564.7zM640.8 680H649.3V684H640.8zM623.9 684H640.8V688H623.9zM539.4 688H556.3V692H539.4zM522.4 700H530.9V704H522.4zM522.4 704H530.9V708H522.4zM522.4 708H530.9V712H522.4zM522.4 712H530.9V716H522.4zM420.9 776H429.4V780H420.9zM420.9 780H429.4V782H420.9z"/><path fill="#00ff53" d="M446.3 228H471.7V232H446.3zM497.1 232H505.5V236H497.1zM505.5 236H514V240H505.5zM539.4 240H547.8V244H539.4zM547.8 244H556.3V248H547.8zM556.3 252H564.7V256H556.3zM564.7 256H683.1V260H564.7zM717 264H725.4V268H717zM767.7 268H776.2V272H767.7zM784.6 272H793.1V276H784.6zM793.1 276H835.4V280H793.1zM793.1 280H835.4V284H793.1zM793.1 284H801.6V288H793.1zM784.6 288H793.1V292H784.6zM843.8 288H979.2V292H843.8zM843.8 292H852.3V296H843.8zM843.8 296H852.3V300H843.8zM979.2 296H987.6V300H979.2zM843.8 300H852.3V304H843.8zM996.1 300H1185V304H996.1zM784.6 312H793.1V316H784.6zM852.3 312H869.2V316H852.3zM784.6 316H793.1V320H784.6zM886.1 316H894.6V320H886.1zM784.6 324H793.1V328H784.6zM784.6 328H793.1V332H784.6zM894.6 328H903V332H894.6zM886.1 340H894.6V344H886.1zM877.7 344H886.1V348H877.7zM776.2 348H784.6V352H776.2zM860.8 352H869.2V356H860.8zM860.8 400H869.2V404H860.8zM860.8 404H869.2V408H860.8zM860.8 408H869.2V412H860.8zM860.8 412H869.2V416H860.8zM860.8 416H869.2V420H860.8zM860.8 420H869.2V424H860.8zM860.8 424H869.2V428H860.8zM869.2 472H877.7V476H869.2zM869.2 476H877.7V480H869.2zM869.2 480H877.7V484H869.2zM869.2 484H877.7V488H869.2zM776.2 488H784.6V492H776.2zM818.5 488H826.9V492H818.5zM869.2 488H877.7V492H869.2zM776.2 492H784.6V496H776.2zM801.5 492H810V496H801.5zM869.2 492H877.7V496H869.2zM776.2 496H784.6V500H776.2zM869.2 496H877.7V500H869.2zM776.2 500H784.6V504H776.2zM793.1 500H801.6V504H793.1zM776.2 504H784.6V508H776.2zM793.1 504H801.6V508H793.1zM776.2 508H784.6V512H776.2zM793.1 508H801.6V512H793.1zM776.2 512H784.6V516H776.2zM793.1 512H801.6V516H793.1zM776.2 516H784.6V520H776.2zM793.1 516H801.6V520H793.1zM776.2 520H784.6V524H776.2zM776.2 524H784.6V528H776.2zM776.2 528H784.6V532H776.2zM776.2 532H784.6V536H776.2zM776.2 536H784.6V540H776.2zM793.1 536H801.6V540H793.1zM776.2 540H784.6V544H776.2zM793.1 540H801.6V544H793.1zM869.2 540H894.6V544H869.2zM776.2 544H784.6V548H776.2zM793.1 544H801.6V548H793.1zM776.2 548H784.6V552H776.2zM793.1 548H801.6V552H793.1zM894.6 548H903V552H894.6zM776.2 552H784.6V556H776.2zM793.1 552H801.6V556H793.1zM894.6 552H903V556H894.6zM776.2 556H784.6V560H776.2zM894.6 556H903V560H894.6zM776.2 560H784.6V564H776.2zM801.5 560H810V564H801.5zM894.6 560H903V564H894.6zM894.6 564H903V568H894.6zM810 568H826.9V572H810zM767.7 576H776.2V580H767.7zM903 576H911.5V580H903zM911.5 580H1185V584H911.5zM759.3 588H767.7V592H759.3zM750.8 608H759.3V612H750.8zM742.3 624H750.8V628H742.3zM742.3 628H750.8V632H742.3zM742.3 632H750.8V636H742.3zM742.3 636H750.8V640H742.3zM742.3 640H750.8V644H742.3zM733.9 644H742.3V648H733.9zM717 648H725.4V652H717zM708.5 652H717V656H708.5zM700.1 660H708.5V664H700.1zM691.6 668H700.1V672H691.6zM691.6 672H700.1V676H691.6zM683.1 688H691.6V692H683.1zM674.7 696H683.1V700H674.7zM666.2 704H674.7V708H666.2zM623.9 708H649.3V712H623.9zM657.8 708H666.2V712H657.8zM607 712H615.5V716H607zM590.1 716H598.6V720H590.1zM547.8 720H590.1V724H547.8zM522.4 728H530.9V732H522.4zM488.6 760H497.1V764H488.6zM454.8 772H463.2V776H454.8z"/><path fill="#ffb200" d="M170 232H184.1V236H170zM277.2 232H319.4V236H277.2zM336.4 236H353.3V240H336.4zM353.3 240H361.7V244H353.3zM361.7 252H370.2V256H361.7zM370.2 260H378.7V264H370.2zM378.6 264H387.1V268H378.6zM378.6 268H387.1V272H378.6zM497.1 268H505.5V272H497.1zM234.9 272H243.3V276H234.9zM378.6 272H387.1V276H378.6zM378.6 276H387.1V280H378.6zM387.1 288H395.6V292H387.1zM387.1 296H395.6V300H387.1zM522.4 304H530.9V308H522.4zM226.4 308H234.9V312H226.4zM226.4 312H234.9V316H226.4zM226.4 316H234.9V320H226.4zM387.1 316H395.6V320H387.1zM226.4 320H234.9V324H226.4zM463.2 320H514V324H463.2zM226.4 324H234.9V328H226.4zM226.4 328H234.9V332H226.4zM226.4 332H234.9V336H226.4zM437.9 332H446.3V336H437.9zM226.4 336H234.9V340H226.4zM361.7 340H370.2V344H361.7zM234.9 348H243.3V352H234.9zM243.3 352H251.8V356H243.3zM294.1 352H302.5V356H294.1zM294.1 356H302.5V360H294.1zM251.8 360H260.2V364H251.8zM285.6 360H302.5V364H285.6zM260.2 364H285.6V368H260.2zM294.1 364H302.5V368H294.1zM285.6 368H294.1V372H285.6zM454.8 376H463.2V380H454.8zM277.2 380H285.6V384H277.2zM285.6 392H294.1V396H285.6zM319.4 392H327.9V396H319.4zM344.8 408H353.3V412H344.8zM353.3 412H361.7V416H353.3zM268.7 416H277.2V420H268.7zM277.2 420H285.6V424H277.2zM170 436H175.7V440H170zM226.4 448H234.9V452H226.4zM251.8 488H260.2V492H251.8zM556.3 496H564.7V500H556.3zM251.8 500H260.2V504H251.8zM302.5 500H319.4V504H302.5zM234.9 516H243.3V520H234.9zM251.8 520H260.2V524H251.8zM556.3 520H564.7V524H556.3zM243.3 524H251.8V528H243.3zM429.4 524H437.9V528H429.4zM547.8 524H556.3V528H547.8zM268.7 528H277.2V532H268.7zM260.2 544H268.7V548H260.2zM327.9 544H336.4V548H327.9zM260.2 548H268.7V552H260.2zM556.3 548H564.7V552H556.3zM336.4 552H344.8V556H336.4zM170 556H184.1V560H170zM294.1 556H319.4V560H294.1zM353.3 556H370.2V560H353.3zM184.1 560H192.6V564H184.1zM217.9 560H226.4V564H217.9zM344.8 564H353.3V568H344.8zM344.8 568H353.3V572H344.8zM547.8 576H556.3V580H547.8zM217.9 580H226.4V584H217.9zM268.7 580H277.2V584H268.7zM539.4 580H547.8V584H539.4zM226.4 584H234.9V588H226.4zM260.2 584H268.7V588H260.2zM226.4 588H234.9V592H226.4zM260.2 588H268.7V592H260.2zM226.4 592H234.9V596H226.4zM260.2 592H268.7V596H260.2zM226.4 596H234.9V600H226.4zM260.2 596H268.7V600H260.2zM226.4 600H234.9V604H226.4zM226.4 604H234.9V608H226.4zM226.4 608H234.9V612H226.4zM387.1 608H395.6V612H387.1zM226.4 612H234.9V616H226.4zM201 616H209.5V620H201zM294.1 628H302.5V632H294.1zM209.5 632H217.9V636H209.5zM170 640H175.7V644H170zM260.2 640H285.6V644H260.2zM277.2 644H285.6V648H277.2zM277.2 648H285.6V652H277.2zM277.2 652H285.6V656H277.2zM277.2 656H285.6V660H277.2zM268.7 660H277.2V664H268.7zM251.8 664H260.2V668H251.8zM243.3 668H260.2V672H243.3zM268.7 680H277.2V684H268.7zM463.2 680H471.7V684H463.2zM463.2 692H471.7V696H463.2zM175.7 704H184.1V708H175.7zM184.1 712H192.6V716H184.1zM192.6 716H251.8V720H192.6zM446.3 736H454.8V740H446.3zM429.4 760H437.9V764H429.4zM412.5 764H420.9V768H412.5z"/><path fill="#ffa000" d="M184.1 232H192.6V236H184.1zM268.7 232H277.2V236H268.7zM327.9 236H336.4V240H327.9zM344.8 240H353.3V244H344.8zM353.3 244H361.7V248H353.3zM209.5 256H217.9V260H209.5zM387.1 260H395.6V264H387.1zM412.5 260H420.9V264H412.5zM480.1 268H497.1V272H480.1zM471.7 272H480.1V276H471.7zM387.1 284H395.6V288H387.1zM429.4 284H437.9V288H429.4zM505.5 284H514V288H505.5zM234.9 300H243.3V304H234.9zM387.1 300H395.6V304H387.1zM370.2 308H378.7V312H370.2zM522.4 308H530.9V312H522.4zM387.1 312H395.6V316H387.1zM361.7 316H370.2V320H361.7zM514 316H522.4V320H514zM437.9 336H446.3V340H437.9zM395.6 340H404V344H395.6zM234.9 344H243.3V348H234.9zM361.7 344H370.2V348H361.7zM243.3 348H251.8V352H243.3zM294.1 348H302.5V352H294.1zM446.3 348H454.8V352H446.3zM285.6 356H294.1V360H285.6zM277.2 360H285.6V364H277.2zM370.2 360H378.7V364H370.2zM294.1 368H302.5V372H294.1zM285.6 372H294.1V376H285.6zM378.6 372H387.1V376H378.6zM285.6 388H302.5V392H285.6zM336.4 400H344.8V404H336.4zM251.8 408H260.2V412H251.8zM268.7 420H277.2V424H268.7zM370.2 420H378.7V424H370.2zM175.7 432H184.1V436H175.7zM251.8 492H260.2V496H251.8zM530.9 500H539.4V504H530.9zM556.3 500H564.7V504H556.3zM556.3 504H564.7V508H556.3zM556.3 508H564.7V512H556.3zM556.3 512H564.7V516H556.3zM556.3 516H564.7V520H556.3zM243.3 520H251.8V524H243.3zM547.8 520H556.3V524H547.8zM268.7 524H277.2V528H268.7zM243.3 528H251.8V532H243.3zM547.8 532H556.3V536H547.8zM260.2 540H268.7V544H260.2zM192.6 548H201V552H192.6zM319.4 548H327.9V552H319.4zM175.7 560H184.1V564H175.7zM184.1 564H192.6V568H184.1zM217.9 564H226.4V568H217.9zM370.2 564H378.7V568H370.2zM285.6 572H294.1V576H285.6zM344.8 572H353.3V576H344.8zM378.6 572H387.1V576H378.6zM217.9 576H226.4V580H217.9zM539.4 576H547.8V580H539.4zM547.8 580H556.3V584H547.8zM539.4 584H556.3V588H539.4zM260.2 600H268.7V604H260.2zM209.5 616H234.9V620H209.5zM201 620H209.5V624H201zM294.1 624H302.5V628H294.1zM184.1 628H192.6V632H184.1zM175.7 636H184.1V640H175.7zM226.4 640H234.9V644H226.4zM395.6 644H412.5V648H395.6zM412.5 648H420.9V652H412.5zM251.8 660H260.2V664H251.8zM277.2 660H285.6V664H277.2zM268.7 664H277.2V668H268.7zM437.9 664H446.3V668H437.9zM268.7 676H277.2V680H268.7zM463.2 684H471.7V688H463.2zM463.2 688H471.7V692H463.2zM260.2 696H268.7V700H260.2zM170 704H175.7V708H170zM251.8 708H260.2V712H251.8zM454.8 716H463.2V720H454.8zM446.3 732H454.8V736H446.3z"/><path fill="#ff9900" d="M192.6 232H268.7V236H192.6zM404 244H412.5V248H404zM353.3 248H361.7V252H353.3zM361.7 256H370.2V260H361.7zM192.6 260H201V264H192.6zM184.1 264H192.6V268H184.1zM370.2 264H378.7V268H370.2zM420.9 264H429.4V268H420.9zM184.1 268H192.6V272H184.1zM234.9 268H243.3V272H234.9zM370.2 268H378.7V272H370.2zM420.9 268H429.4V272H420.9zM184.1 272H192.6V276H184.1zM370.2 272H378.7V276H370.2zM420.9 272H429.4V276H420.9zM497.1 272H505.5V276H497.1zM184.1 276H192.6V280H184.1zM370.2 276H378.7V280H370.2zM420.9 276H429.4V280H420.9zM184.1 280H192.6V284H184.1zM370.2 280H378.7V284H370.2zM420.9 280H429.4V284H420.9zM184.1 284H192.6V288H184.1zM370.2 284H378.7V288H370.2zM184.1 288H192.6V292H184.1zM370.2 288H378.7V292H370.2zM429.4 288H437.9V292H429.4zM184.1 292H192.6V296H184.1zM370.2 292H378.7V296H370.2zM184.1 296H192.6V300H184.1zM370.2 296H378.7V300H370.2zM184.1 300H192.6V304H184.1zM370.2 300H378.7V304H370.2zM184.1 304H192.6V308H184.1zM234.9 304H243.3V308H234.9zM370.2 304H378.7V308H370.2zM387.1 304H395.6V308H387.1zM184.1 308H192.6V312H184.1zM184.1 312H192.6V316H184.1zM184.1 316H192.6V320H184.1zM463.2 316H514V320H463.2zM184.1 320H192.6V324H184.1zM353.3 320H361.7V324H353.3zM184.1 324H192.6V328H184.1zM353.3 324H361.7V328H353.3zM184.1 328H192.6V332H184.1zM353.3 328H361.7V332H353.3zM184.1 332H192.6V336H184.1zM353.3 332H361.7V336H353.3zM184.1 336H192.6V340H184.1zM353.3 336H361.7V340H353.3zM184.1 340H192.6V344H184.1zM234.9 340H243.3V344H234.9zM184.1 344H192.6V348H184.1zM184.1 348H192.6V352H184.1zM184.1 352H192.6V356H184.1zM285.6 352H294.1V356H285.6zM184.1 356H192.6V360H184.1zM251.8 356H260.2V360H251.8zM184.1 360H192.6V364H184.1zM260.2 360H277.2V364H260.2zM184.1 364H192.6V368H184.1zM285.6 376H294.1V380H285.6zM454.8 380H463.2V384H454.8zM285.6 384H294.1V388H285.6zM302.5 384H319.4V388H302.5zM184.1 392H192.6V396H184.1zM184.1 396H192.6V400H184.1zM184.1 400H192.6V404H184.1zM184.1 404H192.6V408H184.1zM344.8 404H353.3V408H344.8zM420.9 404H429.4V408H420.9zM184.1 408H192.6V412H184.1zM184.1 412H192.6V416H184.1zM184.1 416H192.6V420H184.1zM184.1 420H192.6V424H184.1zM243.3 420H251.8V424H243.3zM184.1 424H192.6V428H184.1zM170 432H175.7V436H170zM234.9 436H243.3V440H234.9zM268.7 440H285.6V444H268.7zM217.9 464H226.4V468H217.9zM251.8 472H260.2V476H251.8zM243.3 488H251.8V492H243.3zM201 496H209.5V500H201zM251.8 496H260.2V500H251.8zM539.4 496H547.8V500H539.4zM539.4 500H547.8V504H539.4zM192.6 508H201V512H192.6zM226.4 508H234.9V512H226.4zM234.9 512H243.3V516H234.9zM539.4 512H547.8V516H539.4zM251.8 524H260.2V528H251.8zM243.3 532H251.8V536H243.3zM184.1 536H192.6V540H184.1zM327.9 548H336.4V552H327.9zM251.8 552H260.2V556H251.8zM319.4 552H327.9V556H319.4zM251.8 556H260.2V560H251.8zM336.4 556H344.8V560H336.4zM170 560H175.7V564H170zM251.8 560H260.2V564H251.8zM294.1 560H319.4V564H294.1zM336.4 560H344.8V564H336.4zM353.3 560H361.7V564H353.3zM251.8 564H260.2V568H251.8zM336.4 564H344.8V568H336.4zM184.1 568H192.6V572H184.1zM251.8 568H260.2V572H251.8zM336.4 568H344.8V572H336.4zM184.1 572H192.6V576H184.1zM217.9 572H226.4V576H217.9zM251.8 572H260.2V576H251.8zM184.1 576H192.6V580H184.1zM251.8 576H260.2V580H251.8zM184.1 580H192.6V584H184.1zM251.8 580H260.2V584H251.8zM277.2 580H285.6V584H277.2zM184.1 584H192.6V588H184.1zM251.8 584H260.2V588H251.8zM184.1 588H192.6V592H184.1zM184.1 592H192.6V596H184.1zM184.1 596H192.6V600H184.1zM184.1 600H192.6V604H184.1zM184.1 604H192.6V608H184.1zM184.1 608H192.6V612H184.1zM184.1 612H192.6V616H184.1zM387.1 612H395.6V616H387.1zM184.1 616H192.6V620H184.1zM387.1 616H395.6V620H387.1zM184.1 620H192.6V624H184.1zM209.5 620H226.4V624H209.5zM387.1 620H395.6V624H387.1zM184.1 624H192.6V628H184.1zM201 624H209.5V628H201zM387.1 624H395.6V628H387.1zM201 628H209.5V632H201zM285.6 628H294.1V632H285.6zM387.1 628H395.6V632H387.1zM217.9 632H226.4V636H217.9zM285.6 632H302.5V636H285.6zM387.1 632H395.6V636H387.1zM170 636H175.7V640H170zM260.2 636H285.6V640H260.2zM387.1 636H395.6V640H387.1zM387.1 640H395.6V644H387.1zM234.9 652H243.3V656H234.9zM420.9 652H429.4V656H420.9zM251.8 656H260.2V660H251.8zM243.3 664H251.8V668H243.3zM268.7 668H277.2V672H268.7zM446.3 668H454.8V672H446.3zM454.8 672H463.2V676H454.8zM268.7 692H277.2V696H268.7zM454.8 696H463.2V700H454.8zM454.8 700H463.2V704H454.8zM454.8 704H463.2V708H454.8zM175.7 708H184.1V712H175.7zM454.8 708H463.2V712H454.8zM251.8 712H260.2V716H251.8zM454.8 712H463.2V716H454.8zM192.6 720H251.8V724H192.6zM446.3 728H454.8V732H446.3zM437.9 748H446.3V752H437.9zM387.1 768H395.6V772H387.1z"/><path fill="#ffd100" d="M319.4 232H327.9V236H319.4zM378.6 236H387.1V240H378.6zM370.2 256H378.7V260H370.2zM201 260H209.5V264H201zM378.6 260H387.1V264H378.6zM437.9 268H446.3V272H437.9zM454.8 276H463.2V280H454.8zM505.5 280H514V284H505.5zM226.4 304H234.9V308H226.4zM454.8 312H463.2V316H454.8zM217.9 316H226.4V320H217.9zM437.9 316H446.3V320H437.9zM387.1 324H395.6V328H387.1zM480.1 324H505.5V328H480.1zM505.5 328H514V332H505.5zM446.3 344H454.8V348H446.3zM234.9 356H243.3V360H234.9zM217.9 376H226.4V380H217.9zM463.2 380H471.7V384H463.2zM201 384H209.5V388H201zM251.8 384H260.2V388H251.8zM404 384H412.5V388H404zM311 388H319.4V392H311zM404 388H412.5V392H404zM243.3 396H251.8V400H243.3zM294.1 396H302.5V400H294.1zM319.4 396H327.9V400H319.4zM471.7 400H480.1V404H471.7zM344.8 412H353.3V416H344.8zM480.1 416H488.6V420H480.1zM497.1 424H505.5V428H497.1zM226.4 436H234.9V440H226.4zM277.2 444H285.6V448H277.2zM175.7 456H184.1V460H175.7zM170 460H184.1V464H170zM505.5 464H514V468H505.5zM463.2 468H471.7V472H463.2zM412.5 480H420.9V484H412.5zM412.5 484H420.9V488H412.5zM170 488H184.1V492H170zM201 488H209.5V492H201zM184.1 492H192.6V496H184.1zM201 492H209.5V496H201zM268.7 492H277.2V496H268.7zM311 492H319.4V496H311zM556.3 492H564.7V496H556.3zM184.1 496H192.6V500H184.1zM184.1 500H192.6V504H184.1zM564.7 500H573.2V504H564.7zM184.1 504H192.6V508H184.1zM302.5 504H311V508H302.5zM564.7 504H573.2V508H564.7zM184.1 508H192.6V512H184.1zM564.7 508H573.2V512H564.7zM184.1 512H192.6V516H184.1zM294.1 512H302.5V516H294.1zM564.7 512H573.2V516H564.7zM268.7 516H277.2V520H268.7zM564.7 516H573.2V520H564.7zM217.9 520H226.4V524H217.9zM234.9 520H243.3V524H234.9zM564.7 520H573.2V524H564.7zM564.7 524H573.2V528H564.7zM170 528H184.1V532H170zM564.7 528H573.2V532H564.7zM564.7 532H573.2V536H564.7zM234.9 536H243.3V540H234.9zM564.7 536H573.2V540H564.7zM564.7 540H573.2V544H564.7zM311 544H319.4V548H311zM564.7 544H573.2V548H564.7zM336.4 548H344.8V552H336.4zM564.7 548H573.2V552H564.7zM170 552H184.1V556H170zM294.1 552H302.5V556H294.1zM344.8 552H361.7V556H344.8zM564.7 552H573.2V556H564.7zM370.2 560H378.7V564H370.2zM285.6 564H294.1V568H285.6zM522.4 564H530.9V568H522.4zM378.6 568H387.1V572H378.6zM268.7 576H285.6V580H268.7zM201 580H217.9V584H201zM387.1 588H395.6V592H387.1zM539.4 588H547.8V592H539.4zM395.6 612H404V616H395.6zM404 624H412.5V628H404zM412.5 628H420.9V632H412.5zM170 644H175.7V648H170zM234.9 660H243.3V664H234.9zM446.3 664H454.8V668H446.3zM175.7 684H184.1V688H175.7zM184.1 708H192.6V712H184.1zM217.9 708H226.4V712H217.9zM192.6 712H217.9V716H192.6zM463.2 716H471.7V720H463.2zM395.6 768H404V772H395.6z"/><path fill="#b6ff00" d="M395.6 232H404V236H395.6zM429.4 240H437.9V244H429.4zM463.2 252H471.7V256H463.2zM505.5 256H514V260H505.5zM530.9 268H539.4V272H530.9zM539.4 276H547.8V280H539.4zM547.8 296H556.3V300H547.8zM547.8 300H581.6V304H547.8zM640.8 300H649.3V304H640.8zM556.3 304H590.1V308H556.3zM632.4 304H657.8V308H632.4zM573.2 308H598.6V312H573.2zM623.9 308H666.2V312H623.9zM581.6 312H640.8V316H581.6zM649.3 312H666.2V316H649.3zM590.1 316H632.4V320H590.1zM657.8 316H674.7V320H657.8zM666.2 320H674.7V324H666.2zM674.7 324H683.1V328H674.7zM674.7 328H683.1V332H674.7zM674.7 332H683.1V336H674.7zM683.1 336H700.1V340H683.1zM691.6 340H725.4V344H691.6zM717 344H733.9V348H717zM480.1 348H505.5V352H480.1zM530.9 348H556.3V352H530.9zM725.4 348H733.9V352H725.4zM725.4 352H733.9V356H725.4zM547.8 376H556.3V380H547.8zM547.8 380H556.3V384H547.8zM480.1 384H488.6V388H480.1zM539.4 384H547.8V388H539.4zM488.6 388H497.1V392H488.6zM530.9 396H539.4V400H530.9zM395.6 400H404V404H395.6zM505.5 400H514V404H505.5zM522.4 400H530.9V404H522.4zM395.6 404H404V408H395.6zM505.5 404H514V408H505.5zM987.6 404H1165.2V408H987.6zM979.2 408H1165.2V412H979.2zM979.2 412H1165.2V416H979.2zM970.7 416H996.1V420H970.7zM1148.3 416H1165.2V420H1148.3zM311 420H327.9V424H311zM970.7 420H987.6V424H970.7zM1156.8 420H1173.7V424H1156.8zM429.4 424H437.9V428H429.4zM962.3 424H987.6V428H962.3zM1156.8 424H1173.7V428H1156.8zM336.4 428H344.8V432H336.4zM429.4 428H437.9V432H429.4zM962.3 428H979.2V432H962.3zM1156.8 428H1173.7V432H1156.8zM429.4 432H437.9V436H429.4zM962.3 432H979.2V436H962.3zM1156.8 432H1173.7V436H1156.8zM361.7 436H370.2V440H361.7zM962.3 436H979.2V440H962.3zM1156.8 436H1173.7V440H1156.8zM725.4 440H733.9V444H725.4zM962.3 440H979.2V444H962.3zM1156.8 440H1173.7V444H1156.8zM420.9 444H429.4V448H420.9zM962.3 444H979.2V448H962.3zM1165.2 444H1185V448H1165.2zM412.5 448H420.9V452H412.5zM962.3 448H979.2V452H962.3zM1165.2 448H1185V452H1165.2zM962.3 452H979.2V456H962.3zM1165.2 452H1185V456H1165.2zM429.4 456H437.9V460H429.4zM962.3 456H979.2V460H962.3zM1182.2 456H1185V460H1182.2zM420.9 460H429.4V464H420.9zM962.3 460H979.2V464H962.3zM962.3 464H979.2V468H962.3zM412.5 468H420.9V472H412.5zM446.3 468H454.8V472H446.3zM962.3 468H979.2V472H962.3zM302.5 472H311V476H302.5zM378.6 472H387.1V476H378.6zM962.3 472H979.2V476H962.3zM302.5 476H311V480H302.5zM370.2 476H378.7V480H370.2zM387.1 476H404V480H387.1zM962.3 476H979.2V480H962.3zM370.2 480H378.7V484H370.2zM395.6 480H404V484H395.6zM962.3 480H979.2V484H962.3zM387.1 484H404V488H387.1zM962.3 484H979.2V488H962.3zM395.6 488H404V492H395.6zM725.4 488H733.9V492H725.4zM962.3 488H979.2V492H962.3zM962.3 492H979.2V496H962.3zM733.9 496H742.3V500H733.9zM962.3 496H979.2V500H962.3zM1165.2 496H1185V500H1165.2zM962.3 500H979.2V504H962.3zM1165.2 500H1185V504H1165.2zM962.3 504H979.2V508H962.3zM1156.8 504H1185V508H1156.8zM353.3 508H361.7V512H353.3zM962.3 508H1013V512H962.3zM1131.4 508H1173.7V512H1131.4zM733.9 512H742.3V516H733.9zM970.7 512H1038.4V516H970.7zM1106 512H1165.2V516H1106zM733.9 516H742.3V520H733.9zM970.7 516H1156.8V520H970.7zM488.6 520H497.1V524H488.6zM733.9 520H742.3V524H733.9zM1029.9 520H1089.1V524H1029.9zM733.9 524H742.3V528H733.9zM471.7 532H480.1V536H471.7zM361.7 536H370.2V540H361.7zM404 536H429.4V540H404zM463.2 536H471.7V540H463.2zM370.2 540H378.7V544H370.2zM378.6 544H387.1V548H378.6zM387.1 548H395.6V552H387.1zM437.9 548H446.3V552H437.9zM446.3 552H454.8V556H446.3zM395.6 564H404V568H395.6zM395.6 568H404V572H395.6zM404 572H412.5V576H404zM412.5 576H420.9V580H412.5zM505.5 576H514V580H505.5zM412.5 580H420.9V584H412.5zM420.9 584H429.4V588H420.9zM514 584H522.4V588H514zM725.4 584H733.9V588H725.4zM420.9 588H429.4V592H420.9zM514 588H522.4V592H514zM725.4 588H733.9V592H725.4zM420.9 592H429.4V596H420.9zM514 592H522.4V596H514zM717 596H725.4V600H717zM708.5 600H717V604H708.5zM437.9 604H446.3V608H437.9zM471.7 604H480.1V608H471.7zM480.1 608H505.5V612H480.1zM522.4 608H530.9V612H522.4zM683.1 608H691.6V612H683.1zM497.1 612H505.5V616H497.1zM547.8 612H556.3V616H547.8zM666.2 612H683.1V616H666.2zM480.1 616H505.5V620H480.1zM547.8 616H556.3V620H547.8zM657.8 616H674.7V620H657.8zM480.1 620H505.5V624H480.1zM657.8 620H666.2V624H657.8zM437.9 624H446.3V628H437.9zM471.7 624H480.1V628H471.7zM437.9 628H446.3V632H437.9zM471.7 628H480.1V632H471.7zM547.8 628H556.3V632H547.8zM471.7 632H480.1V636H471.7zM547.8 632H556.3V636H547.8zM666.2 632H674.7V636H666.2zM514 636H556.3V640H514zM657.8 636H666.2V640H657.8zM505.5 640H556.3V644H505.5zM657.8 640H666.2V644H657.8zM505.5 644H514V648H505.5zM522.4 644H573.2V648H522.4zM640.8 644H657.8V648H640.8zM505.5 648H514V652H505.5zM522.4 648H649.3V652H522.4zM505.5 652H514V656H505.5zM522.4 652H530.9V656H522.4zM505.5 656H514V660H505.5zM522.4 656H530.9V660H522.4zM480.1 660H505.5V664H480.1zM522.4 660H530.9V664H522.4zM522.4 664H530.9V668H522.4zM192.6 672H201V676H192.6zM514 680H522.4V684H514zM209.5 684H217.9V688H209.5zM209.5 688H217.9V692H209.5zM505.5 704H514V708H505.5zM505.5 708H514V712H505.5zM497.1 712H505.5V716H497.1zM488.6 720H497.1V724H488.6zM471.7 732H480.1V736H471.7zM463.2 752H471.7V756H463.2z"/><path fill="#ff7000" d="M170 236H234.9V240H170zM234.9 240H243.3V244H234.9zM311 248H319.4V252H311zM302.5 252H311V256H302.5zM226.4 256H234.9V260H226.4zM175.7 260H184.1V264H175.7zM294.1 264H302.5V268H294.1zM353.3 268H361.7V272H353.3zM471.7 280H497.1V284H471.7zM395.6 284H404V288H395.6zM395.6 288H404V292H395.6zM311 292H319.4V296H311zM463.2 292H471.7V296H463.2zM251.8 296H260.2V300H251.8zM311 296H319.4V300H311zM395.6 296H404V300H395.6zM311 300H319.4V304H311zM395.6 300H404V304H395.6zM412.5 300H420.9V304H412.5zM243.3 304H251.8V308H243.3zM302.5 304H319.4V308H302.5zM353.3 304H361.7V308H353.3zM471.7 304H480.1V308H471.7zM505.5 304H514V308H505.5zM243.3 308H251.8V312H243.3zM311 308H319.4V312H311zM311 312H319.4V316H311zM429.4 312H437.9V316H429.4zM251.8 320H268.7V324H251.8zM319.4 320H327.9V324H319.4zM336.4 320H344.8V324H336.4zM395.6 328H404V332H395.6zM319.4 340H327.9V344H319.4zM344.8 340H353.3V344H344.8zM311 348H319.4V352H311zM311 352H319.4V356H311zM311 356H319.4V360H311zM361.7 356H370.2V360H361.7zM311 360H319.4V364H311zM311 364H319.4V368H311zM170 368H184.1V372H170zM311 368H319.4V372H311zM311 372H319.4V376H311zM370.2 372H378.7V376H370.2zM311 376H319.4V380H311zM311 380H319.4V384H311zM319.4 384H327.9V388H319.4zM170 392H184.1V396H170zM327.9 392H336.4V396H327.9zM361.7 396H370.2V400H361.7zM446.3 396H454.8V400H446.3zM361.7 400H370.2V404H361.7zM361.7 404H370.2V408H361.7zM471.7 404H480.1V408H471.7zM361.7 408H370.2V412H361.7zM488.6 436H497.1V440H488.6zM217.9 468H226.4V472H217.9zM429.4 480H437.9V484H429.4zM226.4 504H234.9V508H226.4zM539.4 520H547.8V524H539.4zM437.9 536H446.3V540H437.9zM556.3 556H564.7V560H556.3zM556.3 560H564.7V564H556.3zM353.3 568H361.7V572H353.3zM353.3 572H361.7V576H353.3zM547.8 572H556.3V576H547.8zM226.4 576H234.9V580H226.4zM336.4 576H344.8V580H336.4zM353.3 576H361.7V580H353.3zM277.2 584H285.6V588H277.2zM361.7 584H370.2V588H361.7zM234.9 596H243.3V600H234.9zM268.7 596H277.2V600H268.7zM370.2 596H378.7V600H370.2zM234.9 600H243.3V604H234.9zM344.8 600H353.3V604H344.8zM353.3 604H361.7V608H353.3zM260.2 612H268.7V616H260.2zM294.1 612H302.5V616H294.1zM260.2 616H268.7V620H260.2zM370.2 616H378.7V620H370.2zM260.2 620H268.7V624H260.2zM285.6 620H294.1V624H285.6zM302.5 620H311V624H302.5zM243.3 628H251.8V632H243.3zM311 628H319.4V632H311zM251.8 632H260.2V636H251.8zM311 632H319.4V636H311zM251.8 636H260.2V640H251.8zM311 636H319.4V640H311zM311 640H319.4V644H311zM251.8 644H260.2V648H251.8zM311 644H319.4V648H311zM319.4 652H327.9V656H319.4zM327.9 656H336.4V660H327.9zM327.9 660H336.4V664H327.9zM327.9 664H336.4V668H327.9zM344.8 672H353.3V676H344.8zM327.9 684H336.4V688H327.9zM285.6 688H327.9V692H285.6zM277.2 700H285.6V704H277.2zM268.7 704H277.2V708H268.7zM260.2 712H268.7V716H260.2zM170 716H175.7V720H170zM260.2 716H268.7V720H260.2zM412.5 716H420.9V720H412.5zM260.2 720H268.7V724H260.2zM420.9 720H429.4V724H420.9zM184.1 724H192.6V728H184.1zM260.2 724H268.7V728H260.2zM260.2 728H268.7V732H260.2zM429.4 732H437.9V736H429.4zM395.6 764H404V768H395.6z"/><path fill="#ff7900" d="M234.9 236H319.4V240H234.9zM243.3 240H319.4V244H243.3zM243.3 244H319.4V248H243.3zM336.4 244H344.8V248H336.4zM243.3 248H311V252H243.3zM243.3 252H302.5V256H243.3zM344.8 252H353.3V256H344.8zM395.6 252H404V256H395.6zM192.6 256H201V260H192.6zM234.9 256H302.5V260H234.9zM344.8 256H353.3V260H344.8zM243.3 260H302.5V264H243.3zM344.8 260H353.3V264H344.8zM170 264H175.7V268H170zM243.3 264H268.7V268H243.3zM277.2 264H294.1V268H277.2zM344.8 264H361.7V268H344.8zM170 268H175.7V272H170zM243.3 268H260.2V272H243.3zM170 272H175.7V276H170zM243.3 272H260.2V276H243.3zM170 276H175.7V280H170zM243.3 276H260.2V280H243.3zM170 280H175.7V284H170zM243.3 280H260.2V284H243.3zM463.2 280H471.7V284H463.2zM497.1 280H505.5V284H497.1zM170 284H175.7V288H170zM243.3 284H260.2V288H243.3zM412.5 284H420.9V288H412.5zM463.2 284H471.7V288H463.2zM170 288H175.7V292H170zM243.3 288H260.2V292H243.3zM412.5 288H420.9V292H412.5zM463.2 288H471.7V292H463.2zM170 292H175.7V296H170zM243.3 292H260.2V296H243.3zM395.6 292H404V296H395.6zM412.5 292H429.4V296H412.5zM170 296H175.7V300H170zM243.3 296H251.8V300H243.3zM412.5 296H429.4V300H412.5zM463.2 296H471.7V300H463.2zM170 300H175.7V304H170zM243.3 300H251.8V304H243.3zM420.9 300H429.4V304H420.9zM463.2 300H471.7V304H463.2zM170 304H175.7V308H170zM420.9 304H429.4V308H420.9zM463.2 304H471.7V308H463.2zM170 308H175.7V312H170zM277.2 308H311V312H277.2zM344.8 308H361.7V312H344.8zM420.9 308H429.4V312H420.9zM463.2 308H514V312H463.2zM170 312H175.7V316H170zM243.3 312H251.8V316H243.3zM277.2 312H311V316H277.2zM344.8 312H353.3V316H344.8zM170 316H175.7V320H170zM243.3 316H251.8V320H243.3zM277.2 316H319.4V320H277.2zM344.8 316H353.3V320H344.8zM170 320H175.7V324H170zM243.3 320H251.8V324H243.3zM268.7 320H319.4V324H268.7zM170 324H175.7V328H170zM243.3 324H344.8V328H243.3zM170 328H175.7V332H170zM243.3 328H344.8V332H243.3zM170 332H175.7V336H170zM243.3 332H344.8V336H243.3zM395.6 332H404V336H395.6zM170 336H175.7V340H170zM243.3 336H344.8V340H243.3zM170 340H175.7V344H170zM260.2 340H285.6V344H260.2zM311 340H319.4V344H311zM170 344H175.7V348H170zM260.2 344H285.6V348H260.2zM311 344H319.4V348H311zM353.3 344H361.7V348H353.3zM170 348H175.7V352H170zM260.2 348H277.2V352H260.2zM170 352H175.7V356H170zM170 356H175.7V360H170zM170 360H175.7V364H170zM170 364H175.7V368H170zM370.2 368H378.7V372H370.2zM294.1 380H311V384H294.1zM378.6 384H387.1V388H378.6zM463.2 388H471.7V392H463.2zM446.3 392H454.8V396H446.3zM170 396H175.7V400H170zM353.3 396H361.7V400H353.3zM170 400H175.7V404H170zM170 404H175.7V408H170zM170 408H175.7V412H170zM170 412H175.7V416H170zM170 416H175.7V420H170zM170 420H175.7V424H170zM378.6 420H387.1V424H378.6zM170 424H175.7V428H170zM226.4 452H234.9V456H226.4zM420.9 500H429.4V504H420.9zM530.9 504H539.4V508H530.9zM217.9 516H226.4V520H217.9zM547.8 536H556.3V540H547.8zM234.9 540H251.8V544H234.9zM243.3 544H251.8V548H243.3zM454.8 544H463.2V548H454.8zM505.5 544H514V548H505.5zM243.3 548H251.8V552H243.3zM311 568H327.9V572H311zM170 572H175.7V576H170zM370.2 572H378.7V576H370.2zM170 576H175.7V580H170zM234.9 576H243.3V580H234.9zM170 580H175.7V584H170zM353.3 580H361.7V584H353.3zM170 584H175.7V588H170zM243.3 584H251.8V588H243.3zM344.8 584H361.7V588H344.8zM170 588H175.7V592H170zM344.8 588H370.2V592H344.8zM170 592H175.7V596H170zM234.9 592H243.3V596H234.9zM268.7 592H277.2V596H268.7zM344.8 592H370.2V596H344.8zM170 596H175.7V600H170zM344.8 596H370.2V600H344.8zM170 600H175.7V604H170zM353.3 600H378.7V604H353.3zM170 604H175.7V608H170zM234.9 604H243.3V608H234.9zM251.8 604H260.2V608H251.8zM361.7 604H378.7V608H361.7zM170 608H175.7V612H170zM251.8 608H260.2V612H251.8zM361.7 608H378.7V612H361.7zM170 612H175.7V616H170zM243.3 612H260.2V616H243.3zM361.7 612H378.7V616H361.7zM170 616H175.7V620H170zM243.3 616H260.2V620H243.3zM170 620H175.7V624H170zM243.3 620H260.2V624H243.3zM170 624H175.7V628H170zM243.3 624H268.7V628H243.3zM170 628H175.7V632H170zM226.4 628H243.3V632H226.4zM251.8 628H277.2V632H251.8zM302.5 640H311V644H302.5zM294.1 644H311V648H294.1zM234.9 648H243.3V652H234.9zM294.1 648H319.4V652H294.1zM294.1 652H319.4V656H294.1zM404 652H412.5V656H404zM243.3 656H251.8V660H243.3zM294.1 656H327.9V660H294.1zM412.5 656H429.4V660H412.5zM294.1 660H327.9V664H294.1zM412.5 660H429.4V664H412.5zM294.1 664H327.9V668H294.1zM412.5 664H429.4V668H412.5zM294.1 668H336.4V672H294.1zM412.5 668H437.9V672H412.5zM277.2 672H344.8V676H277.2zM412.5 672H446.3V676H412.5zM277.2 676H336.4V680H277.2zM412.5 676H446.3V680H412.5zM277.2 680H336.4V684H277.2zM412.5 680H454.8V684H412.5zM277.2 684H327.9V688H277.2zM412.5 684H454.8V688H412.5zM277.2 688H285.6V692H277.2zM412.5 688H454.8V692H412.5zM277.2 692H285.6V696H277.2zM412.5 692H454.8V696H412.5zM277.2 696H285.6V700H277.2zM412.5 696H446.3V700H412.5zM260.2 700H277.2V704H260.2zM412.5 700H446.3V704H412.5zM260.2 704H268.7V708H260.2zM412.5 704H446.3V708H412.5zM260.2 708H268.7V712H260.2zM412.5 708H446.3V712H412.5zM412.5 712H446.3V716H412.5zM175.7 716H184.1V720H175.7zM420.9 716H446.3V720H420.9zM429.4 720H437.9V724H429.4zM429.4 724H437.9V728H429.4zM251.8 728H260.2V732H251.8zM429.4 728H437.9V732H429.4zM429.4 756H437.9V760H429.4zM370.2 772H378.7V776H370.2z"/><path fill="#ff9100" d="M319.4 236H327.9V240H319.4zM336.4 240H344.8V244H336.4zM344.8 244H353.3V248H344.8zM353.3 252H361.7V256H353.3zM201 256H209.5V260H201zM226.4 260H234.9V264H226.4zM234.9 264H243.3V268H234.9zM387.1 264H395.6V268H387.1zM387.1 268H395.6V272H387.1zM387.1 272H395.6V276H387.1zM480.1 272H497.1V276H480.1zM387.1 276H395.6V280H387.1zM463.2 276H471.7V280H463.2zM497.1 276H505.5V280H497.1zM387.1 280H395.6V284H387.1zM234.9 308H243.3V312H234.9zM387.1 308H395.6V312H387.1zM234.9 312H243.3V316H234.9zM361.7 312H370.2V316H361.7zM514 312H522.4V316H514zM234.9 316H243.3V320H234.9zM353.3 316H361.7V320H353.3zM234.9 320H243.3V324H234.9zM234.9 324H243.3V328H234.9zM234.9 328H243.3V332H234.9zM234.9 332H243.3V336H234.9zM234.9 336H243.3V340H234.9zM437.9 340H446.3V344H437.9zM243.3 344H251.8V348H243.3zM294.1 344H302.5V348H294.1zM285.6 348H294.1V352H285.6zM361.7 348H370.2V352H361.7zM251.8 352H260.2V356H251.8zM302.5 352H311V356H302.5zM260.2 356H285.6V360H260.2zM302.5 356H311V360H302.5zM302.5 360H311V364H302.5zM302.5 364H311V368H302.5zM184.1 368H192.6V372H184.1zM184.1 372H192.6V376H184.1zM294.1 372H302.5V376H294.1zM378.6 376H387.1V380H378.6zM285.6 380H294.1V384H285.6zM184.1 388H192.6V392H184.1zM353.3 408H361.7V412H353.3zM361.7 412H370.2V416H361.7zM268.7 424H277.2V428H268.7zM378.6 424H387.1V428H378.6zM175.7 428H184.1V432H175.7zM268.7 428H277.2V432H268.7zM268.7 432H277.2V436H268.7zM268.7 436H277.2V440H268.7zM471.7 476H480.1V480H471.7zM522.4 488H530.9V492H522.4zM243.3 492H251.8V496H243.3zM302.5 496H311V500H302.5zM547.8 496H556.3V500H547.8zM234.9 500H243.3V504H234.9zM234.9 504H243.3V508H234.9zM446.3 504H454.8V508H446.3zM539.4 504H547.8V508H539.4zM234.9 508H243.3V512H234.9zM488.6 508H497.1V512H488.6zM539.4 508H547.8V512H539.4zM243.3 516H251.8V520H243.3zM547.8 516H556.3V520H547.8zM184.1 528H192.6V532H184.1zM251.8 528H260.2V532H251.8zM454.8 528H463.2V532H454.8zM260.2 536H268.7V540H260.2zM192.6 544H201V548H192.6zM251.8 544H260.2V548H251.8zM251.8 548H260.2V552H251.8zM319.4 556H327.9V560H319.4zM175.7 564H184.1V568H175.7zM556.3 564H564.7V568H556.3zM217.9 568H226.4V572H217.9zM344.8 576H353.3V580H344.8zM226.4 580H234.9V584H226.4zM234.9 584H243.3V588H234.9zM268.7 584H277.2V588H268.7zM251.8 588H260.2V592H251.8zM260.2 604H268.7V608H260.2zM234.9 612H243.3V616H234.9zM226.4 620H234.9V624H226.4zM294.1 620H302.5V624H294.1zM302.5 628H311V632H302.5zM175.7 632H184.1V636H175.7zM277.2 632H285.6V636H277.2zM226.4 636H234.9V640H226.4zM285.6 636H302.5V640H285.6zM285.6 640H294.1V644H285.6zM285.6 644H294.1V648H285.6zM285.6 648H294.1V652H285.6zM404 648H412.5V652H404zM285.6 652H294.1V656H285.6zM285.6 656H294.1V660H285.6zM277.2 664H285.6V668H277.2zM268.7 672H277.2V676H268.7zM454.8 676H463.2V680H454.8zM454.8 680H463.2V684H454.8zM454.8 692H463.2V696H454.8zM170 708H175.7V712H170zM184.1 716H192.6V720H184.1zM251.8 716H260.2V720H251.8zM446.3 724H454.8V728H446.3zM404 764H412.5V768H404z"/><path fill="#ffbd00" d="M353.3 236H370.2V240H353.3zM361.7 240H370.2V244H361.7zM217.9 260H226.4V264H217.9zM226.4 264H234.9V268H226.4zM429.4 264H446.3V268H429.4zM480.1 264H497.1V268H480.1zM429.4 268H437.9V272H429.4zM234.9 276H243.3V280H234.9zM378.6 280H387.1V284H378.6zM429.4 280H437.9V284H429.4zM378.6 284H387.1V288H378.6zM378.6 288H387.1V292H378.6zM514 288H522.4V292H514zM378.6 292H395.6V296H378.6zM234.9 296H243.3V300H234.9zM378.6 296H387.1V300H378.6zM378.6 300H387.1V304H378.6zM378.6 304H387.1V308H378.6zM378.6 308H387.1V312H378.6zM370.2 312H378.7V316H370.2zM192.6 316H201V320H192.6zM192.6 320H201V324H192.6zM361.7 320H370.2V324H361.7zM387.1 320H395.6V324H387.1zM514 320H522.4V324H514zM192.6 324H226.4V328H192.6zM437.9 324H446.3V328H437.9zM463.2 324H471.7V328H463.2zM192.6 328H226.4V332H192.6zM437.9 328H446.3V332H437.9zM463.2 328H471.7V332H463.2zM192.6 332H226.4V336H192.6zM192.6 336H226.4V340H192.6zM192.6 340H234.9V344H192.6zM192.6 344H234.9V348H192.6zM192.6 348H234.9V352H192.6zM192.6 352H217.9V356H192.6zM234.9 352H243.3V356H234.9zM192.6 356H217.9V360H192.6zM243.3 356H251.8V360H243.3zM370.2 356H378.7V360H370.2zM192.6 360H209.5V364H192.6zM243.3 360H251.8V364H243.3zM192.6 364H209.5V368H192.6zM243.3 364H260.2V368H243.3zM285.6 364H294.1V368H285.6zM192.6 368H209.5V372H192.6zM243.3 368H285.6V372H243.3zM378.6 368H387.1V372H378.6zM192.6 372H209.5V376H192.6zM243.3 372H285.6V376H243.3zM192.6 376H217.9V380H192.6zM243.3 376H285.6V380H243.3zM192.6 380H277.2V384H192.6zM192.6 384H201V388H192.6zM226.4 384H251.8V388H226.4zM277.2 384H285.6V388H277.2zM226.4 388H243.3V392H226.4zM277.2 388H285.6V392H277.2zM226.4 392H243.3V396H226.4zM277.2 392H285.6V396H277.2zM294.1 392H302.5V396H294.1zM327.9 400H336.4V404H327.9zM412.5 400H420.9V404H412.5zM184.1 428H192.6V432H184.1zM378.6 428H387.1V432H378.6zM454.8 428H463.2V432H454.8zM234.9 432H243.3V436H234.9zM488.6 432H497.1V436H488.6zM175.7 436H184.1V440H175.7zM170 440H175.7V444H170zM226.4 440H234.9V444H226.4zM170 444H175.7V448H170zM226.4 444H234.9V448H226.4zM268.7 444H277.2V448H268.7zM170 448H175.7V452H170zM170 452H175.7V456H170zM497.1 452H505.5V456H497.1zM463.2 456H471.7V460H463.2zM260.2 460H268.7V464H260.2zM251.8 476H260.2V480H251.8zM251.8 480H260.2V484H251.8zM251.8 484H260.2V488H251.8zM260.2 492H268.7V496H260.2zM480.1 492H488.6V496H480.1zM547.8 492H556.3V496H547.8zM170 496H184.1V500H170zM260.2 496H302.5V500H260.2zM530.9 496H539.4V500H530.9zM170 500H184.1V504H170zM277.2 500H302.5V504H277.2zM170 504H184.1V508H170zM277.2 504H302.5V508H277.2zM420.9 504H429.4V508H420.9zM170 508H184.1V512H170zM277.2 508H294.1V512H277.2zM170 512H184.1V516H170zM226.4 512H234.9V516H226.4zM277.2 512H285.6V516H277.2zM170 516H184.1V520H170zM277.2 516H285.6V520H277.2zM170 520H184.1V524H170zM260.2 520H277.2V524H260.2zM170 524H192.6V528H170zM556.3 524H564.7V528H556.3zM497.1 528H505.5V532H497.1zM547.8 528H564.7V532H547.8zM556.3 532H564.7V536H556.3zM556.3 536H564.7V540H556.3zM201 540H209.5V544H201zM556.3 540H564.7V544H556.3zM319.4 544H327.9V548H319.4zM556.3 544H564.7V548H556.3zM184.1 548H192.6V552H184.1zM184.1 552H201V556H184.1zM260.2 552H268.7V556H260.2zM311 552H319.4V556H311zM184.1 556H192.6V560H184.1zM217.9 556H226.4V560H217.9zM344.8 556H353.3V560H344.8zM344.8 560H353.3V564H344.8zM530.9 572H539.4V576H530.9zM260.2 576H268.7V580H260.2zM192.6 580H201V584H192.6zM260.2 580H268.7V584H260.2zM192.6 584H226.4V588H192.6zM192.6 588H226.4V592H192.6zM192.6 592H226.4V596H192.6zM192.6 596H226.4V600H192.6zM192.6 600H226.4V604H192.6zM192.6 604H226.4V608H192.6zM192.6 608H226.4V612H192.6zM192.6 612H226.4V616H192.6zM192.6 616H201V620H192.6zM192.6 620H201V624H192.6zM192.6 624H201V628H192.6zM395.6 624H404V628H395.6zM192.6 628H201V632H192.6zM395.6 628H412.5V632H395.6zM184.1 632H192.6V636H184.1zM395.6 632H412.5V636H395.6zM217.9 636H226.4V640H217.9zM395.6 636H412.5V640H395.6zM175.7 640H184.1V644H175.7zM395.6 640H412.5V644H395.6zM226.4 644H234.9V648H226.4zM260.2 644H277.2V648H260.2zM412.5 644H420.9V648H412.5zM260.2 648H277.2V652H260.2zM260.2 652H277.2V656H260.2zM429.4 652H437.9V656H429.4zM260.2 656H277.2V660H260.2zM260.2 660H268.7V664H260.2zM260.2 664H268.7V668H260.2zM260.2 668H268.7V672H260.2zM454.8 668H463.2V672H454.8zM243.3 672H251.8V676H243.3zM260.2 672H268.7V676H260.2zM243.3 676H251.8V680H243.3zM463.2 676H471.7V680H463.2zM268.7 684H277.2V688H268.7zM170 688H175.7V692H170zM268.7 688H277.2V692H268.7zM170 692H175.7V696H170zM170 696H175.7V700H170zM463.2 696H471.7V700H463.2zM170 700H175.7V704H170zM251.8 704H260.2V708H251.8zM226.4 708H234.9V712H226.4zM226.4 712H234.9V716H226.4zM454.8 720H463.2V724H454.8zM446.3 740H454.8V744H446.3zM437.9 752H446.3V756H437.9zM378.6 772H387.1V776H378.6z"/><path fill="#ffc700" d="M370.2 236H378.7V240H370.2zM361.7 244H370.2V248H361.7zM361.7 248H370.2V252H361.7zM387.1 256H395.6V260H387.1zM420.9 260H429.4V264H420.9zM192.6 264H201V268H192.6zM446.3 264H454.8V268H446.3zM497.1 264H505.5V268H497.1zM192.6 268H201V272H192.6zM471.7 268H480.1V272H471.7zM192.6 272H201V276H192.6zM429.4 272H437.9V276H429.4zM463.2 272H471.7V276H463.2zM192.6 276H201V280H192.6zM429.4 276H437.9V280H429.4zM192.6 280H201V284H192.6zM234.9 280H243.3V284H234.9zM454.8 280H463.2V284H454.8zM192.6 284H201V288H192.6zM234.9 284H243.3V288H234.9zM454.8 284H463.2V288H454.8zM192.6 288H201V292H192.6zM234.9 288H243.3V292H234.9zM454.8 288H463.2V292H454.8zM192.6 292H201V296H192.6zM234.9 292H243.3V296H234.9zM454.8 292H463.2V296H454.8zM192.6 296H201V300H192.6zM454.8 296H463.2V300H454.8zM192.6 300H201V304H192.6zM454.8 300H463.2V304H454.8zM522.4 300H530.9V304H522.4zM192.6 304H201V308H192.6zM454.8 304H463.2V308H454.8zM192.6 308H201V312H192.6zM454.8 308H463.2V312H454.8zM192.6 312H201V316H192.6zM522.4 312H530.9V316H522.4zM201 320H226.4V324H201zM437.9 320H446.3V324H437.9zM361.7 324H370.2V328H361.7zM471.7 324H480.1V328H471.7zM505.5 324H522.4V328H505.5zM361.7 328H370.2V332H361.7zM514 328H522.4V332H514zM361.7 332H370.2V336H361.7zM463.2 332H471.7V336H463.2zM514 332H522.4V336H514zM361.7 336H370.2V340H361.7zM463.2 336H471.7V340H463.2zM514 336H522.4V340H514zM217.9 352H234.9V356H217.9zM209.5 360H217.9V364H209.5zM209.5 364H217.9V368H209.5zM209.5 368H217.9V372H209.5zM209.5 372H217.9V376H209.5zM454.8 372H463.2V376H454.8zM234.9 376H243.3V380H234.9zM217.9 384H226.4V388H217.9zM268.7 384H277.2V388H268.7zM192.6 388H201V392H192.6zM243.3 388H251.8V392H243.3zM302.5 388H311V392H302.5zM192.6 392H201V396H192.6zM243.3 392H251.8V396H243.3zM192.6 396H201V400H192.6zM226.4 396H243.3V400H226.4zM277.2 396H294.1V400H277.2zM192.6 400H201V404H192.6zM192.6 404H201V408H192.6zM260.2 404H268.7V408H260.2zM336.4 404H344.8V408H336.4zM192.6 408H201V412H192.6zM192.6 412H201V416H192.6zM268.7 412H277.2V416H268.7zM192.6 416H201V420H192.6zM361.7 416H370.2V420H361.7zM192.6 420H201V424H192.6zM192.6 424H201V428H192.6zM234.9 424H243.3V428H234.9zM370.2 424H378.7V428H370.2zM446.3 424H454.8V428H446.3zM234.9 428H243.3V432H234.9zM175.7 440H184.1V444H175.7zM175.7 444H184.1V448H175.7zM175.7 448H184.1V452H175.7zM175.7 452H184.1V456H175.7zM170 456H175.7V460H170zM260.2 464H268.7V468H260.2zM260.2 468H268.7V472H260.2zM514 468H522.4V472H514zM260.2 472H268.7V476H260.2zM514 472H522.4V476H514zM260.2 476H268.7V480H260.2zM209.5 480H217.9V484H209.5zM260.2 480H268.7V484H260.2zM260.2 484H268.7V488H260.2zM260.2 488H268.7V492H260.2zM170 492H184.1V496H170zM539.4 492H547.8V496H539.4zM268.7 500H277.2V504H268.7zM251.8 504H260.2V508H251.8zM294.1 508H302.5V512H294.1zM285.6 512H294.1V516H285.6zM184.1 516H192.6V520H184.1zM251.8 516H260.2V520H251.8zM184.1 520H192.6V524H184.1zM277.2 520H285.6V524H277.2zM277.2 524H285.6V528H277.2zM268.7 532H277.2V536H268.7zM184.1 540H192.6V544H184.1zM226.4 540H234.9V544H226.4zM319.4 540H336.4V544H319.4zM184.1 544H192.6V548H184.1zM311 548H319.4V552H311zM302.5 552H311V556H302.5zM192.6 556H201V560H192.6zM260.2 556H268.7V560H260.2zM192.6 560H201V564H192.6zM260.2 560H268.7V564H260.2zM192.6 564H201V568H192.6zM260.2 564H268.7V568H260.2zM192.6 568H201V572H192.6zM260.2 568H268.7V572H260.2zM285.6 568H294.1V572H285.6zM192.6 572H201V576H192.6zM260.2 572H268.7V576H260.2zM192.6 576H201V580H192.6zM387.1 584H395.6V588H387.1zM530.9 584H539.4V588H530.9zM547.8 588H556.3V592H547.8zM387.1 604H395.6V608H387.1zM395.6 616H404V620H395.6zM395.6 620H404V624H395.6zM201 632H209.5V636H201zM412.5 632H420.9V636H412.5zM412.5 636H420.9V640H412.5zM412.5 640H420.9V644H412.5zM420.9 648H429.4V652H420.9zM234.9 656H243.3V660H234.9zM437.9 660H446.3V664H437.9zM251.8 672H260.2V676H251.8zM463.2 672H471.7V676H463.2zM243.3 680H251.8V684H243.3zM170 684H175.7V688H170zM243.3 684H251.8V688H243.3zM175.7 688H184.1V692H175.7zM175.7 692H184.1V696H175.7zM175.7 696H184.1V700H175.7zM175.7 700H184.1V704H175.7zM226.4 700H234.9V704H226.4zM251.8 700H260.2V704H251.8zM463.2 700H471.7V704H463.2zM226.4 704H234.9V708H226.4zM463.2 704H471.7V708H463.2zM463.2 708H471.7V712H463.2zM217.9 712H226.4V716H217.9zM234.9 712H251.8V716H234.9zM463.2 712H471.7V716H463.2zM446.3 744H454.8V748H446.3zM378.6 776H387.1V780H378.6zM378.6 780H387.1V782H378.6z"/><path fill="#d2ff00" d="M404 236H412.5V240H404zM429.4 244H437.9V248H429.4zM446.3 252H454.8V256H446.3zM480.1 252H488.6V256H480.1zM463.2 256H471.7V260H463.2zM497.1 256H505.5V260H497.1zM514 272H530.9V276H514zM539.4 292H547.8V296H539.4zM547.8 328H666.2V332H547.8zM547.8 332H666.2V336H547.8zM657.8 336H674.7V340H657.8zM539.4 340H564.7V344H539.4zM666.2 340H674.7V344H666.2zM480.1 344H505.5V348H480.1zM530.9 344H539.4V348H530.9zM556.3 344H564.7V348H556.3zM674.7 344H683.1V348H674.7zM514 348H522.4V352H514zM556.3 348H564.7V352H556.3zM674.7 348H717V352H674.7zM387.1 352H395.6V356H387.1zM708.5 352H725.4V356H708.5zM556.3 356H564.7V360H556.3zM717 356H725.4V360H717zM556.3 360H564.7V364H556.3zM556.3 364H564.7V368H556.3zM395.6 368H404V372H395.6zM471.7 368H480.1V372H471.7zM556.3 368H564.7V372H556.3zM556.3 372H564.7V376H556.3zM556.3 376H564.7V380H556.3zM556.3 380H564.7V384H556.3zM480.1 388H488.6V392H480.1zM547.8 388H556.3V392H547.8zM395.6 392H404V396H395.6zM539.4 392H547.8V396H539.4zM488.6 396H497.1V400H488.6zM539.4 396H547.8V400H539.4zM497.1 404H505.5V408H497.1zM522.4 408H530.9V412H522.4zM404 412H412.5V416H404zM505.5 412H514V416H505.5zM522.4 412H530.9V416H522.4zM311 416H327.9V420H311zM404 416H412.5V420H404zM522.4 416H530.9V420H522.4zM302.5 420H311V424H302.5zM404 420H412.5V424H404zM420.9 420H437.9V424H420.9zM522.4 420H530.9V424H522.4zM336.4 424H344.8V428H336.4zM404 424H412.5V428H404zM522.4 424H530.9V428H522.4zM1046.8 428H1106V432H1046.8zM361.7 432H370.2V436H361.7zM395.6 432H404V436H395.6zM514 432H522.4V436H514zM1038.4 432H1114.5V436H1038.4zM1029.9 436H1123V440H1029.9zM437.9 440H446.3V444H437.9zM1021.5 440H1046.8V444H1021.5zM1106 440H1131.4V444H1106zM378.6 444H420.9V448H378.6zM437.9 444H446.3V448H437.9zM1004.5 444H1038.4V448H1004.5zM1114.5 444H1139.9V448H1114.5zM437.9 448H446.3V452H437.9zM717 448H725.4V452H717zM996.1 448H1029.9V452H996.1zM1114.5 448H1148.3V452H1114.5zM437.9 452H446.3V456H437.9zM717 452H725.4V456H717zM996.1 452H1021.5V456H996.1zM1131.4 452H1148.3V456H1131.4zM437.9 456H446.3V460H437.9zM996.1 456H1013V460H996.1zM1139.9 456H1156.8V460H1139.9zM429.4 460H454.8V464H429.4zM996.1 460H1004.5V464H996.1zM1139.9 460H1156.8V464H1139.9zM996.1 464H1004.5V468H996.1zM1139.9 464H1156.8V468H1139.9zM437.9 468H446.3V472H437.9zM996.1 468H1004.5V472H996.1zM1139.9 468H1156.8V472H1139.9zM294.1 472H302.5V476H294.1zM404 472H412.5V476H404zM446.3 472H454.8V476H446.3zM996.1 472H1004.5V476H996.1zM1139.9 472H1156.8V476H1139.9zM378.6 476H387.1V480H378.6zM996.1 476H1004.5V480H996.1zM1139.9 476H1156.8V480H1139.9zM285.6 480H294.1V484H285.6zM717 480H725.4V484H717zM996.1 480H1013V484H996.1zM1139.9 480H1156.8V484H1139.9zM294.1 484H319.4V488H294.1zM378.6 484H387.1V488H378.6zM996.1 484H1029.9V488H996.1zM1123 484H1148.3V488H1123zM1004.5 488H1038.4V492H1004.5zM1114.5 488H1148.3V492H1114.5zM327.9 492H344.8V496H327.9zM471.7 492H480.1V496H471.7zM1013 492H1038.4V496H1013zM1106 492H1139.9V496H1106zM404 496H412.5V500H404zM725.4 496H733.9V500H725.4zM1021.5 496H1046.8V500H1021.5zM1097.6 496H1123V500H1097.6zM404 500H412.5V504H404zM1029.9 500H1114.5V504H1029.9zM404 504H412.5V508H404zM1038.4 504H1106V508H1038.4zM404 508H412.5V512H404zM404 512H412.5V516H404zM725.4 512H733.9V516H725.4zM404 516H412.5V520H404zM725.4 516H733.9V520H725.4zM404 520H412.5V524H404zM725.4 520H733.9V524H725.4zM404 524H412.5V528H404zM725.4 524H733.9V528H725.4zM404 528H412.5V532H404zM725.4 528H733.9V532H725.4zM353.3 532H361.7V536H353.3zM412.5 532H437.9V536H412.5zM463.2 532H471.7V536H463.2zM725.4 532H733.9V536H725.4zM353.3 536H361.7V540H353.3zM725.4 536H733.9V540H725.4zM725.4 540H733.9V544H725.4zM370.2 544H378.7V548H370.2zM725.4 544H733.9V548H725.4zM378.6 548H387.1V552H378.6zM454.8 548H463.2V552H454.8zM505.5 552H514V556H505.5zM387.1 556H395.6V560H387.1zM505.5 556H514V560H505.5zM505.5 560H514V564H505.5zM505.5 564H514V568H505.5zM505.5 568H514V572H505.5zM505.5 572H514V576H505.5zM395.6 576H404V580H395.6zM404 580H412.5V584H404zM717 584H725.4V588H717zM412.5 588H420.9V592H412.5zM717 588H725.4V592H717zM708.5 592H717V596H708.5zM700.1 596H708.5V600H700.1zM522.4 600H530.9V604H522.4zM691.6 600H700.1V604H691.6zM530.9 604H539.4V608H530.9zM657.8 604H691.6V608H657.8zM649.3 608H657.8V612H649.3zM437.9 612H446.3V616H437.9zM471.7 612H480.1V616H471.7zM649.3 612H657.8V616H649.3zM420.9 616H429.4V620H420.9zM437.9 616H446.3V620H437.9zM471.7 616H480.1V620H471.7zM556.3 616H564.7V620H556.3zM556.3 620H564.7V624H556.3zM649.3 620H657.8V624H649.3zM446.3 624H463.2V628H446.3zM556.3 624H564.7V628H556.3zM649.3 624H657.8V628H649.3zM556.3 628H564.7V632H556.3zM649.3 628H657.8V632H649.3zM446.3 632H471.7V636H446.3zM556.3 632H564.7V636H556.3zM649.3 632H657.8V636H649.3zM429.4 636H437.9V640H429.4zM564.7 636H649.3V640H564.7zM607 640H632.4V644H607zM192.6 648H201V652H192.6zM201 656H209.5V660H201zM201 660H209.5V664H201zM514 660H522.4V664H514zM201 664H209.5V668H201zM480.1 664H505.5V668H480.1zM201 668H209.5V672H201zM184.1 672H192.6V676H184.1zM201 672H209.5V676H201zM201 676H209.5V680H201zM514 676H522.4V680H514zM192.6 680H209.5V684H192.6zM505.5 684H514V688H505.5zM201 688H209.5V692H201zM209.5 692H217.9V696H209.5zM488.6 712H497.1V716H488.6zM480.1 720H488.6V724H480.1zM471.7 728H480.1V732H471.7zM463.2 748H471.7V752H463.2zM446.3 760H454.8V764H446.3z"/><path fill="#ff5e00" d="M170 240H234.9V244H170zM327.9 244H336.4V248H327.9zM234.9 248H243.3V252H234.9zM336.4 248H344.8V252H336.4zM404 248H412.5V252H404zM209.5 252H217.9V256H209.5zM395.6 260H404V264H395.6zM268.7 264H277.2V268H268.7zM395.6 264H404V268H395.6zM277.2 268H302.5V272H277.2zM395.6 268H404V272H395.6zM395.6 272H404V276H395.6zM353.3 276H361.7V280H353.3zM353.3 280H361.7V284H353.3zM353.3 284H361.7V288H353.3zM480.1 284H497.1V288H480.1zM353.3 288H361.7V292H353.3zM471.7 288H480.1V292H471.7zM353.3 292H361.7V296H353.3zM505.5 292H514V296H505.5zM302.5 296H311V300H302.5zM353.3 296H361.7V300H353.3zM505.5 296H514V300H505.5zM251.8 312H260.2V316H251.8zM319.4 316H327.9V320H319.4zM420.9 316H437.9V320H420.9zM319.4 344H327.9V348H319.4zM437.9 352H446.3V356H437.9zM437.9 356H446.3V360H437.9zM437.9 360H446.3V364H437.9zM437.9 364H446.3V368H437.9zM437.9 368H446.3V372H437.9zM175.7 372H184.1V376H175.7zM437.9 372H446.3V376H437.9zM437.9 376H446.3V380H437.9zM370.2 380H378.7V384H370.2zM437.9 380H446.3V384H437.9zM437.9 384H446.3V388H437.9zM175.7 388H184.1V392H175.7zM412.5 388H420.9V392H412.5zM437.9 388H446.3V392H437.9zM454.8 388H463.2V392H454.8zM437.9 392H446.3V396H437.9zM437.9 396H446.3V400H437.9zM420.9 400H454.8V404H420.9zM429.4 404H454.8V408H429.4zM260.2 408H268.7V412H260.2zM429.4 408H454.8V412H429.4zM437.9 412H454.8V416H437.9zM446.3 416H463.2V420H446.3zM260.2 448H268.7V452H260.2zM463.2 448H471.7V452H463.2zM260.2 452H268.7V456H260.2zM471.7 472H480.1V476H471.7zM243.3 480H251.8V484H243.3zM420.9 480H429.4V484H420.9zM514 480H522.4V484H514zM209.5 488H217.9V492H209.5zM480.1 488H488.6V492H480.1zM234.9 492H243.3V496H234.9zM522.4 492H530.9V496H522.4zM522.4 496H530.9V500H522.4zM201 500H209.5V504H201zM488.6 504H497.1V508H488.6zM530.9 508H539.4V512H530.9zM192.6 512H201V516H192.6zM497.1 520H505.5V524H497.1zM497.1 524H505.5V528H497.1zM539.4 524H547.8V528H539.4zM192.6 540H201V544H192.6zM454.8 540H463.2V544H454.8zM505.5 540H514V544H505.5zM547.8 540H556.3V544H547.8zM446.3 544H454.8V548H446.3zM514 552H522.4V556H514zM522.4 560H530.9V564H522.4zM311 572H327.9V576H311zM539.4 572H547.8V576H539.4zM370.2 580H378.7V584H370.2zM277.2 588H285.6V592H277.2zM370.2 588H378.7V592H370.2zM268.7 600H277.2V604H268.7zM344.8 604H353.3V608H344.8zM353.3 612H361.7V616H353.3zM302.5 616H311V620H302.5zM361.7 616H370.2V620H361.7zM370.2 620H378.7V624H370.2zM234.9 636H243.3V640H234.9zM319.4 648H327.9V652H319.4zM243.3 652H251.8V656H243.3zM327.9 652H336.4V656H327.9zM395.6 652H404V656H395.6zM404 656H412.5V660H404zM344.8 668H353.3V672H344.8zM344.8 676H353.3V680H344.8zM336.4 680H344.8V684H336.4zM361.7 688H370.2V692H361.7zM285.6 696H294.1V700H285.6zM277.2 704H285.6V708H277.2zM268.7 708H277.2V712H268.7zM170 720H175.7V724H170zM412.5 720H420.9V724H412.5zM184.1 728H192.6V732H184.1zM420.9 728H429.4V732H420.9zM192.6 732H251.8V736H192.6zM429.4 736H437.9V740H429.4zM412.5 760H420.9V764H412.5z"/><path fill="#ff8100" d="M319.4 240H336.4V244H319.4zM344.8 248H353.3V252H344.8zM395.6 248H404V252H395.6zM184.1 260H192.6V264H184.1zM234.9 260H243.3V264H234.9zM353.3 260H361.7V264H353.3zM175.7 264H184.1V268H175.7zM361.7 264H370.2V268H361.7zM412.5 264H420.9V268H412.5zM175.7 268H184.1V272H175.7zM361.7 268H370.2V272H361.7zM412.5 268H420.9V272H412.5zM175.7 272H184.1V276H175.7zM361.7 272H370.2V276H361.7zM412.5 272H420.9V276H412.5zM175.7 276H184.1V280H175.7zM361.7 276H370.2V280H361.7zM412.5 276H420.9V280H412.5zM480.1 276H497.1V280H480.1zM175.7 280H184.1V284H175.7zM361.7 280H370.2V284H361.7zM412.5 280H420.9V284H412.5zM175.7 284H184.1V288H175.7zM361.7 284H370.2V288H361.7zM175.7 288H184.1V292H175.7zM361.7 288H370.2V292H361.7zM420.9 288H429.4V292H420.9zM505.5 288H514V292H505.5zM175.7 292H184.1V296H175.7zM361.7 292H370.2V296H361.7zM175.7 296H184.1V300H175.7zM361.7 296H370.2V300H361.7zM514 296H522.4V300H514zM175.7 300H184.1V304H175.7zM361.7 300H370.2V304H361.7zM514 300H522.4V304H514zM175.7 304H184.1V308H175.7zM361.7 304H370.2V308H361.7zM514 304H522.4V308H514zM175.7 308H184.1V312H175.7zM361.7 308H370.2V312H361.7zM429.4 308H437.9V312H429.4zM514 308H522.4V312H514zM175.7 312H184.1V316H175.7zM353.3 312H361.7V316H353.3zM175.7 316H184.1V320H175.7zM175.7 320H184.1V324H175.7zM344.8 320H353.3V324H344.8zM175.7 324H184.1V328H175.7zM344.8 324H353.3V328H344.8zM175.7 328H184.1V332H175.7zM344.8 328H353.3V332H344.8zM175.7 332H184.1V336H175.7zM344.8 332H353.3V336H344.8zM175.7 336H184.1V340H175.7zM344.8 336H353.3V340H344.8zM395.6 336H404V340H395.6zM175.7 340H184.1V344H175.7zM251.8 340H260.2V344H251.8zM285.6 340H294.1V344H285.6zM302.5 340H311V344H302.5zM175.7 344H184.1V348H175.7zM437.9 344H446.3V348H437.9zM175.7 348H184.1V352H175.7zM277.2 348H285.6V352H277.2zM175.7 352H184.1V356H175.7zM260.2 352H285.6V356H260.2zM361.7 352H370.2V356H361.7zM175.7 356H184.1V360H175.7zM175.7 360H184.1V364H175.7zM175.7 364H184.1V368H175.7zM446.3 368H454.8V372H446.3zM446.3 372H454.8V376H446.3zM302.5 376H311V380H302.5zM446.3 376H454.8V380H446.3zM184.1 380H192.6V384H184.1zM446.3 380H454.8V384H446.3zM446.3 384H454.8V388H446.3zM446.3 388H454.8V392H446.3zM175.7 396H184.1V400H175.7zM336.4 396H353.3V400H336.4zM412.5 396H420.9V400H412.5zM175.7 400H184.1V404H175.7zM353.3 400H361.7V404H353.3zM175.7 404H184.1V408H175.7zM175.7 408H184.1V412H175.7zM175.7 412H184.1V416H175.7zM175.7 416H184.1V420H175.7zM370.2 416H378.7V420H370.2zM175.7 420H184.1V424H175.7zM175.7 424H184.1V428H175.7zM463.2 452H471.7V456H463.2zM514 476H522.4V480H514zM243.3 484H251.8V488H243.3zM437.9 492H446.3V496H437.9zM234.9 496H251.8V500H234.9zM243.3 500H251.8V504H243.3zM243.3 504H251.8V508H243.3zM243.3 508H251.8V512H243.3zM260.2 528H268.7V532H260.2zM184.1 532H192.6V536H184.1zM243.3 552H251.8V556H243.3zM556.3 552H564.7V556H556.3zM243.3 556H251.8V560H243.3zM327.9 556H336.4V560H327.9zM243.3 560H251.8V564H243.3zM327.9 560H336.4V564H327.9zM243.3 564H251.8V568H243.3zM319.4 564H336.4V568H319.4zM353.3 564H361.7V568H353.3zM170 568H184.1V572H170zM243.3 568H251.8V572H243.3zM294.1 568H311V572H294.1zM327.9 568H336.4V572H327.9zM175.7 572H184.1V576H175.7zM243.3 572H251.8V576H243.3zM175.7 576H184.1V580H175.7zM243.3 576H251.8V580H243.3zM175.7 580H184.1V584H175.7zM234.9 580H251.8V584H234.9zM344.8 580H353.3V584H344.8zM175.7 584H184.1V588H175.7zM175.7 588H184.1V592H175.7zM234.9 588H243.3V592H234.9zM268.7 588H277.2V592H268.7zM175.7 592H184.1V596H175.7zM175.7 596H184.1V600H175.7zM251.8 596H260.2V600H251.8zM378.6 596H387.1V600H378.6zM175.7 600H184.1V604H175.7zM251.8 600H260.2V604H251.8zM175.7 604H184.1V608H175.7zM378.6 604H387.1V608H378.6zM175.7 608H184.1V612H175.7zM234.9 608H243.3V612H234.9zM260.2 608H268.7V612H260.2zM378.6 608H387.1V612H378.6zM175.7 612H184.1V616H175.7zM378.6 612H387.1V616H378.6zM175.7 616H184.1V620H175.7zM294.1 616H302.5V620H294.1zM378.6 616H387.1V620H378.6zM175.7 620H184.1V624H175.7zM234.9 620H243.3V624H234.9zM378.6 620H387.1V624H378.6zM175.7 624H184.1V628H175.7zM226.4 624H243.3V628H226.4zM302.5 624H311V628H302.5zM378.6 624H387.1V628H378.6zM175.7 628H184.1V632H175.7zM209.5 628H226.4V632H209.5zM277.2 628H285.6V632H277.2zM378.6 628H387.1V632H378.6zM378.6 632H387.1V636H378.6zM302.5 636H311V640H302.5zM378.6 636H387.1V640H378.6zM294.1 640H302.5V644H294.1zM378.6 640H387.1V644H378.6zM251.8 648H260.2V652H251.8zM395.6 648H404V652H395.6zM429.4 660H437.9V664H429.4zM285.6 664H294.1V668H285.6zM429.4 664H437.9V668H429.4zM277.2 668H294.1V672H277.2zM446.3 672H454.8V676H446.3zM446.3 676H454.8V680H446.3zM446.3 696H454.8V700H446.3zM446.3 700H454.8V704H446.3zM446.3 704H454.8V708H446.3zM446.3 708H454.8V712H446.3zM170 712H175.7V716H170zM446.3 712H454.8V716H446.3zM446.3 716H454.8V720H446.3zM184.1 720H192.6V724H184.1zM437.9 720H446.3V724H437.9zM251.8 724H260.2V728H251.8zM437.9 724H446.3V728H437.9zM192.6 728H251.8V732H192.6zM437.9 736H446.3V740H437.9zM437.9 740H446.3V744H437.9zM437.9 744H446.3V748H437.9zM420.9 760H429.4V764H420.9zM370.2 776H378.7V780H370.2zM370.2 780H378.7V782H370.2z"/><path fill="#ffda00" d="M370.2 240H378.7V244H370.2zM387.1 252H395.6V256H387.1zM412.5 256H420.9V260H412.5zM429.4 260H437.9V264H429.4zM226.4 268H234.9V272H226.4zM454.8 272H463.2V276H454.8zM522.4 296H530.9V300H522.4zM530.9 308H539.4V312H530.9zM217.9 312H226.4V316H217.9zM378.6 312H387.1V316H378.6zM437.9 312H446.3V316H437.9zM201 316H209.5V320H201zM370.2 316H378.7V320H370.2zM454.8 316H463.2V320H454.8zM522.4 316H530.9V320H522.4zM387.1 328H395.6V332H387.1zM471.7 328H480.1V332H471.7zM395.6 344H404V348H395.6zM370.2 352H378.7V356H370.2zM217.9 356H226.4V360H217.9zM234.9 360H243.3V364H234.9zM378.6 364H387.1V368H378.6zM454.8 368H463.2V372H454.8zM234.9 372H243.3V376H234.9zM226.4 376H234.9V380H226.4zM209.5 384H217.9V388H209.5zM260.2 384H268.7V388H260.2zM217.9 388H226.4V392H217.9zM268.7 388H277.2V392H268.7zM404 392H412.5V396H404zM243.3 416H251.8V420H243.3zM184.1 432H192.6V436H184.1zM217.9 460H226.4V464H217.9zM170 464H184.1V468H170zM463.2 464H471.7V468H463.2zM514 464H522.4V468H514zM170 468H217.9V472H170zM170 472H217.9V476H170zM170 476H217.9V480H170zM170 480H209.5V484H170zM170 484H209.5V488H170zM184.1 488H201V492H184.1zM192.6 492H201V496H192.6zM302.5 492H311V496H302.5zM530.9 492H539.4V496H530.9zM192.6 496H201V500H192.6zM564.7 496H573.2V500H564.7zM192.6 500H201V504H192.6zM260.2 500H268.7V504H260.2zM192.6 504H201V508H192.6zM268.7 504H277.2V508H268.7zM251.8 508H260.2V512H251.8zM691.6 508H700.1V512H691.6zM691.6 512H700.1V516H691.6zM285.6 516H294.1V520H285.6zM691.6 516H700.1V520H691.6zM454.8 524H463.2V528H454.8zM277.2 528H285.6V532H277.2zM234.9 532H243.3V536H234.9zM268.7 536H277.2V540H268.7zM311 540H319.4V544H311zM302.5 548H311V552H302.5zM217.9 552H226.4V556H217.9zM564.7 556H573.2V560H564.7zM285.6 560H294.1V564H285.6zM387.1 580H395.6V584H387.1zM530.9 580H539.4V584H530.9zM387.1 592H395.6V596H387.1zM387.1 600H395.6V604H387.1zM184.1 636H192.6V640H184.1zM175.7 644H184.1V648H175.7zM226.4 648H234.9V652H226.4zM234.9 664H243.3V668H234.9zM463.2 668H471.7V672H463.2zM251.8 676H268.7V680H251.8zM243.3 688H251.8V692H243.3zM260.2 692H268.7V696H260.2zM251.8 696H260.2V700H251.8zM234.9 708H243.3V712H234.9zM454.8 724H463.2V728H454.8zM437.9 756H446.3V760H437.9z"/><path fill="#ff4900" d="M170 244H234.9V248H170zM192.6 252H201V256H192.6zM226.4 252H234.9V256H226.4zM311 256H319.4V260H311zM336.4 256H344.8V260H336.4zM336.4 260H344.8V264H336.4zM302.5 264H311V268H302.5zM277.2 272H302.5V276H277.2zM302.5 288H311V292H302.5zM497.1 288H505.5V292H497.1zM471.7 292H480.1V296H471.7zM412.5 308H420.9V312H412.5zM260.2 316H268.7V320H260.2zM327.9 316H336.4V320H327.9zM429.4 320H437.9V324H429.4zM420.9 324H429.4V328H420.9zM319.4 352H327.9V356H319.4zM319.4 356H327.9V360H319.4zM353.3 356H361.7V360H353.3zM319.4 360H327.9V364H319.4zM319.4 364H327.9V368H319.4zM319.4 368H327.9V372H319.4zM319.4 372H327.9V376H319.4zM175.7 376H184.1V380H175.7zM319.4 376H327.9V380H319.4zM404 376H412.5V380H404zM319.4 380H327.9V384H319.4zM175.7 384H184.1V388H175.7zM336.4 388H344.8V392H336.4zM353.3 388H361.7V392H353.3zM370.2 392H378.7V396H370.2zM370.2 396H387.1V400H370.2zM420.9 396H437.9V400H420.9zM370.2 400H387.1V404H370.2zM370.2 404H387.1V408H370.2zM370.2 408H387.1V412H370.2zM454.8 412H463.2V416H454.8zM497.1 460H505.5V464H497.1zM217.9 472H226.4V476H217.9zM505.5 472H514V476H505.5zM420.9 496H429.4V500H420.9zM446.3 508H454.8V512H446.3zM530.9 512H539.4V516H530.9zM429.4 520H437.9V524H429.4zM547.8 544H556.3V548H547.8zM226.4 572H234.9V576H226.4zM285.6 584H294.1V588H285.6zM370.2 584H378.7V588H370.2zM277.2 592H285.6V596H277.2zM268.7 604H277.2V608H268.7zM294.1 608H302.5V612H294.1zM344.8 608H353.3V612H344.8zM302.5 612H311V616H302.5zM311 620H319.4V624H311zM370.2 624H378.7V628H370.2zM319.4 628H327.9V632H319.4zM319.4 632H327.9V636H319.4zM319.4 636H327.9V640H319.4zM234.9 640H243.3V644H234.9zM319.4 640H327.9V644H319.4zM404 664H412.5V668H404zM353.3 672H361.7V676H353.3zM344.8 680H353.3V684H344.8zM336.4 688H344.8V692H336.4zM361.7 692H370.2V696H361.7zM285.6 700H294.1V704H285.6zM404 704H412.5V708H404zM277.2 708H285.6V712H277.2zM404 708H412.5V712H404zM268.7 716H277.2V720H268.7zM170 724H184.1V728H170zM412.5 724H420.9V728H412.5zM260.2 732H268.7V736H260.2zM420.9 732H429.4V736H420.9zM429.4 740H437.9V744H429.4zM420.9 756H429.4V760H420.9zM387.1 764H395.6V768H387.1z"/><path fill="#ff6800" d="M234.9 244H243.3V248H234.9zM319.4 244H327.9V248H319.4zM234.9 252H243.3V256H234.9zM311 252H319.4V256H311zM184.1 256H192.6V260H184.1zM302.5 256H311V260H302.5zM395.6 256H404V260H395.6zM170 260H175.7V264H170zM344.8 268H353.3V272H344.8zM353.3 272H361.7V276H353.3zM395.6 276H404V280H395.6zM395.6 280H404V284H395.6zM471.7 284H480.1V288H471.7zM497.1 284H505.5V288H497.1zM251.8 300H260.2V304H251.8zM302.5 300H311V304H302.5zM353.3 300H361.7V304H353.3zM471.7 300H480.1V304H471.7zM505.5 300H514V304H505.5zM277.2 304H302.5V308H277.2zM344.8 304H353.3V308H344.8zM395.6 304H404V308H395.6zM412.5 304H420.9V308H412.5zM480.1 304H505.5V308H480.1zM395.6 308H404V312H395.6zM395.6 312H404V316H395.6zM420.9 312H429.4V316H420.9zM251.8 316H260.2V320H251.8zM336.4 316H344.8V320H336.4zM395.6 316H404V320H395.6zM327.9 320H336.4V324H327.9zM395.6 320H404V324H395.6zM395.6 324H404V328H395.6zM327.9 340H344.8V344H327.9zM353.3 348H361.7V352H353.3zM437.9 348H446.3V352H437.9zM370.2 376H378.7V380H370.2zM378.6 388H387.1V392H378.6zM336.4 392H370.2V396H336.4zM412.5 392H420.9V396H412.5zM370.2 412H378.7V416H370.2zM378.6 416H387.1V420H378.6zM437.9 416H446.3V420H437.9zM454.8 420H463.2V424H454.8zM480.1 420H488.6V424H480.1zM243.3 424H251.8V428H243.3zM234.9 440H243.3V444H234.9zM497.1 456H505.5V460H497.1zM251.8 468H260.2V472H251.8zM505.5 468H514V472H505.5zM201 536H209.5V540H201zM361.7 564H370.2V568H361.7zM234.9 572H243.3V576H234.9zM294.1 572H311V576H294.1zM327.9 572H336.4V576H327.9zM370.2 576H378.7V580H370.2zM285.6 580H294.1V584H285.6zM361.7 580H370.2V584H361.7zM378.6 580H387.1V584H378.6zM243.3 588H251.8V592H243.3zM370.2 592H387.1V596H370.2zM243.3 608H251.8V612H243.3zM353.3 608H361.7V612H353.3zM268.7 624H285.6V628H268.7zM311 624H319.4V628H311zM234.9 632H243.3V636H234.9zM251.8 640H260.2V644H251.8zM378.6 644H387.1V648H378.6zM387.1 648H395.6V652H387.1zM336.4 668H344.8V672H336.4zM336.4 676H344.8V680H336.4zM361.7 684H370.2V688H361.7zM327.9 688H336.4V692H327.9zM285.6 692H294.1V696H285.6zM175.7 720H184.1V724H175.7zM420.9 724H429.4V728H420.9zM429.4 752H437.9V756H429.4zM378.6 768H387.1V772H378.6z"/><path fill="#ff2800" d="M170 248H226.4V252H170zM319.4 256H327.9V260H319.4zM336.4 268H344.8V272H336.4zM302.5 276H311V280H302.5zM277.2 280H319.4V284H277.2zM344.8 280H353.3V284H344.8zM277.2 284H302.5V288H277.2zM344.8 284H353.3V288H344.8zM277.2 288H302.5V292H277.2zM344.8 288H353.3V292H344.8zM277.2 292H302.5V296H277.2zM344.8 292H353.3V296H344.8zM480.1 292H497.1V296H480.1zM319.4 296H327.9V300H319.4zM319.4 300H327.9V304H319.4zM336.4 300H344.8V304H336.4zM260.2 304H268.7V308H260.2zM319.4 304H327.9V308H319.4zM319.4 308H327.9V312H319.4zM260.2 312H268.7V316H260.2zM429.4 328H437.9V332H429.4zM420.9 336H429.4V340H420.9zM429.4 348H437.9V352H429.4zM327.9 352H353.3V356H327.9zM429.4 352H437.9V356H429.4zM327.9 356H353.3V360H327.9zM429.4 356H437.9V360H429.4zM327.9 360H353.3V364H327.9zM429.4 360H437.9V364H429.4zM327.9 364H361.7V368H327.9zM429.4 364H437.9V368H429.4zM327.9 368H336.4V372H327.9zM429.4 368H437.9V372H429.4zM327.9 372H336.4V376H327.9zM429.4 372H437.9V376H429.4zM429.4 376H437.9V380H429.4zM170 380H175.7V384H170zM353.3 384H361.7V388H353.3zM480.1 424H488.6V428H480.1zM463.2 444H471.7V448H463.2zM420.9 484H429.4V488H420.9zM192.6 516H201V520H192.6zM505.5 536H514V540H505.5zM547.8 568H556.3V572H547.8zM277.2 596H285.6V600H277.2zM336.4 604H344.8V608H336.4zM285.6 608H294.1V612H285.6zM302.5 608H311V612H302.5zM268.7 612H277.2V616H268.7zM319.4 620H327.9V624H319.4zM243.3 636H251.8V640H243.3zM327.9 644H336.4V648H327.9zM404 680H412.5V684H404zM344.8 688H353.3V692H344.8zM344.8 692H353.3V696H344.8zM404 692H412.5V696H404zM344.8 696H353.3V700H344.8zM294.1 700H361.7V704H294.1zM294.1 704H336.4V708H294.1zM294.1 708H327.9V712H294.1zM285.6 712H327.9V716H285.6zM395.6 716H404V720H395.6zM404 724H412.5V728H404zM170 728H175.7V732H170zM268.7 728H277.2V732H268.7zM361.7 772H370.2V776H361.7z"/><path fill="#ff3300" d="M226.4 248H234.9V252H226.4zM327.9 248H336.4V252H327.9zM311 260H319.4V264H311zM302.5 272H311V276H302.5zM277.2 276H302.5V280H277.2zM497.1 292H505.5V296H497.1zM260.2 300H268.7V304H260.2zM336.4 304H344.8V308H336.4zM429.4 324H437.9V328H429.4zM420.9 332H429.4V336H420.9zM327.9 348H344.8V352H327.9zM361.7 368H370.2V372H361.7zM361.7 372H370.2V376H361.7zM361.7 376H370.2V380H361.7zM175.7 380H184.1V384H175.7zM361.7 380H370.2V384H361.7zM243.3 428H251.8V432H243.3zM251.8 464H260.2V468H251.8zM471.7 468H480.1V472H471.7zM209.5 492H217.9V496H209.5zM488.6 500H497.1V504H488.6zM539.4 528H547.8V532H539.4zM454.8 532H463.2V536H454.8zM226.4 544H234.9V548H226.4zM311 576H327.9V580H311zM294.1 580H302.5V584H294.1zM285.6 588H294.1V592H285.6zM336.4 600H344.8V604H336.4zM344.8 612H353.3V616H344.8zM268.7 616H277.2V620H268.7zM311 616H319.4V620H311zM353.3 616H361.7V620H353.3zM361.7 620H370.2V624H361.7zM370.2 644H378.7V648H370.2zM243.3 648H251.8V652H243.3zM395.6 656H404V660H395.6zM344.8 664H353.3V668H344.8zM353.3 668H361.7V672H353.3zM361.7 676H370.2V680H361.7zM404 676H412.5V680H404zM344.8 684H353.3V688H344.8zM336.4 696H344.8V700H336.4zM353.3 696H370.2V700H353.3zM404 696H412.5V700H404zM285.6 708H294.1V712H285.6zM277.2 712H285.6V716H277.2zM268.7 724H277.2V728H268.7zM175.7 728H184.1V732H175.7zM412.5 728H420.9V732H412.5zM192.6 736H251.8V740H192.6zM420.9 736H429.4V740H420.9zM429.4 744H437.9V748H429.4zM420.9 752H429.4V756H420.9zM404 760H412.5V764H404zM370.2 768H378.7V772H370.2zM361.7 776H370.2V780H361.7zM361.7 780H370.2V782H361.7z"/><path fill="#ff5400" d="M319.4 248H327.9V252H319.4zM201 252H209.5V256H201zM217.9 252H226.4V256H217.9zM336.4 252H344.8V256H336.4zM170 256H184.1V260H170zM302.5 260H311V264H302.5zM260.2 268H268.7V272H260.2zM260.2 272H268.7V276H260.2zM344.8 272H353.3V276H344.8zM260.2 276H268.7V280H260.2zM260.2 280H268.7V284H260.2zM260.2 284H268.7V288H260.2zM260.2 288H268.7V292H260.2zM311 288H319.4V292H311zM260.2 292H268.7V296H260.2zM302.5 292H311V296H302.5zM471.7 296H480.1V300H471.7zM277.2 300H302.5V304H277.2zM344.8 300H353.3V304H344.8zM480.1 300H505.5V304H480.1zM251.8 304H260.2V308H251.8zM251.8 308H260.2V312H251.8zM336.4 312H344.8V316H336.4zM420.9 320H429.4V324H420.9zM327.9 344H353.3V348H327.9zM319.4 348H327.9V352H319.4zM353.3 352H361.7V356H353.3zM361.7 360H370.2V364H361.7zM170 372H175.7V376H170zM370.2 384H378.7V388H370.2zM170 388H175.7V392H170zM327.9 388H336.4V392H327.9zM361.7 388H378.7V392H361.7zM378.6 392H387.1V396H378.6zM378.6 412H387.1V416H378.6zM488.6 440H497.1V444H488.6zM226.4 456H234.9V460H226.4zM294.1 576H302.5V580H294.1zM361.7 576H370.2V580H361.7zM336.4 580H344.8V584H336.4zM378.6 588H387.1V592H378.6zM243.3 592H251.8V596H243.3zM243.3 604H251.8V608H243.3zM285.6 616H294.1V620H285.6zM268.7 620H277.2V624H268.7zM243.3 632H251.8V636H243.3zM234.9 644H243.3V648H234.9zM319.4 644H327.9V648H319.4zM404 660H412.5V664H404zM336.4 664H344.8V668H336.4zM353.3 676H361.7V680H353.3zM353.3 680H370.2V684H353.3zM336.4 684H344.8V688H336.4zM353.3 684H361.7V688H353.3zM353.3 688H361.7V692H353.3zM294.1 692H336.4V696H294.1zM268.7 712H277.2V716H268.7zM404 712H412.5V716H404zM404 716H412.5V720H404zM251.8 732H260.2V736H251.8zM429.4 748H437.9V752H429.4z"/><path fill="#fffd00" d="M378.6 248H387.1V252H378.6zM429.4 252H437.9V256H429.4zM446.3 256H454.8V260H446.3zM480.1 256H488.6V260H480.1zM454.8 260H463.2V264H454.8zM463.2 264H471.7V268H463.2zM226.4 280H234.9V284H226.4zM446.3 280H454.8V284H446.3zM514 280H522.4V284H514zM226.4 284H234.9V288H226.4zM446.3 284H454.8V288H446.3zM226.4 288H234.9V292H226.4zM446.3 288H454.8V292H446.3zM226.4 292H234.9V296H226.4zM446.3 292H454.8V296H446.3zM217.9 296H226.4V300H217.9zM446.3 296H454.8V300H446.3zM530.9 296H539.4V300H530.9zM446.3 300H454.8V304H446.3zM446.3 304H454.8V308H446.3zM209.5 308H217.9V312H209.5zM539.4 308H547.8V312H539.4zM522.4 340H530.9V344H522.4zM514 344H522.4V348H514zM463.2 348H471.7V352H463.2zM226.4 364H234.9V368H226.4zM387.1 368H395.6V372H387.1zM260.2 396H268.7V400H260.2zM217.9 404H226.4V408H217.9zM302.5 404H311V408H302.5zM243.3 408H251.8V412H243.3zM327.9 408H336.4V412H327.9zM420.9 408H429.4V412H420.9zM234.9 412H243.3V416H234.9zM285.6 412H294.1V416H285.6zM497.1 412H505.5V416H497.1zM666.2 412H674.7V416H666.2zM683.1 412H691.6V416H683.1zM336.4 416H344.8V420H336.4zM657.8 416H666.2V420H657.8zM691.6 416H700.1V420H691.6zM226.4 424H234.9V428H226.4zM649.3 424H657.8V428H649.3zM700.1 424H708.5V428H700.1zM217.9 428H226.4V432H217.9zM437.9 428H446.3V432H437.9zM649.3 428H657.8V432H649.3zM201 432H209.5V436H201zM387.1 432H395.6V436H387.1zM649.3 432H657.8V436H649.3zM708.5 432H717V436H708.5zM378.6 436H387.1V440H378.6zM649.3 436H657.8V440H649.3zM708.5 436H717V440H708.5zM708.5 440H717V444H708.5zM285.6 448H294.1V452H285.6zM657.8 448H666.2V452H657.8zM700.1 448H708.5V452H700.1zM666.2 452H700.1V456H666.2zM192.6 456H209.5V460H192.6zM505.5 456H522.4V460H505.5zM454.8 460H463.2V464H454.8zM522.4 460H530.9V464H522.4zM420.9 472H429.4V476H420.9zM437.9 476H446.3V480H437.9zM454.8 476H463.2V480H454.8zM530.9 484H539.4V488H530.9zM564.7 484H573.2V488H564.7zM607 484H623.9V488H607zM691.6 484H708.5V488H691.6zM294.1 488H302.5V492H294.1zM573.2 488H581.6V492H573.2zM623.9 488H632.4V492H623.9zM708.5 488H717V492H708.5zM683.1 492H691.6V496H683.1zM598.6 496H607V500H598.6zM674.7 496H683.1V500H674.7zM598.6 500H607V504H598.6zM632.4 500H640.8V504H632.4zM674.7 500H683.1V504H674.7zM598.6 504H607V508H598.6zM632.4 504H640.8V508H632.4zM598.6 508H607V512H598.6zM666.2 508H674.7V512H666.2zM260.2 512H268.7V516H260.2zM598.6 512H607V516H598.6zM666.2 512H674.7V516H666.2zM302.5 520H311V524H302.5zM454.8 520H463.2V524H454.8zM607 520H615.5V524H607zM623.9 520H632.4V524H623.9zM226.4 524H234.9V528H226.4zM615.5 524H623.9V528H615.5zM311 528H336.4V532H311zM302.5 532H311V536H302.5zM336.4 532H344.8V536H336.4zM666.2 536H674.7V540H666.2zM175.7 540H184.1V544H175.7zM666.2 540H674.7V544H666.2zM285.6 544H294.1V548H285.6zM353.3 544H361.7V548H353.3zM708.5 548H717V552H708.5zM674.7 552H683.1V556H674.7zM209.5 556H217.9V560H209.5zM683.1 556H700.1V560H683.1zM209.5 560H217.9V564H209.5zM209.5 564H217.9V568H209.5zM573.2 564H581.6V568H573.2zM209.5 568H217.9V572H209.5zM387.1 568H395.6V572H387.1zM564.7 568H573.2V572H564.7zM522.4 576H530.9V580H522.4zM522.4 588H530.9V592H522.4zM530.9 596H547.8V600H530.9zM404 604H412.5V608H404zM412.5 616H420.9V620H412.5zM420.9 632H429.4V636H420.9zM201 640H209.5V644H201zM217.9 652H226.4V656H217.9zM226.4 656H234.9V660H226.4zM463.2 660H471.7V664H463.2zM184.1 680H192.6V684H184.1zM217.9 692H226.4V696H217.9zM243.3 700H251.8V704H243.3zM471.7 720H480.1V724H471.7zM454.8 748H463.2V752H454.8z"/><path fill="#ff3f00" d="M170 252H192.6V256H170zM319.4 252H327.9V256H319.4zM336.4 264H344.8V268H336.4zM302.5 268H311V272H302.5zM344.8 276H353.3V280H344.8zM302.5 284H319.4V288H302.5zM480.1 288H497.1V292H480.1zM260.2 296H268.7V300H260.2zM277.2 296H302.5V300H277.2zM344.8 296H353.3V300H344.8zM480.1 296H505.5V300H480.1zM336.4 308H344.8V312H336.4zM319.4 312H327.9V316H319.4zM420.9 328H429.4V332H420.9zM344.8 348H353.3V352H344.8zM353.3 360H361.7V364H353.3zM361.7 364H370.2V368H361.7zM170 376H175.7V380H170zM170 384H175.7V388H170zM327.9 384H336.4V388H327.9zM361.7 384H370.2V388H361.7zM344.8 388H353.3V392H344.8zM251.8 412H260.2V416H251.8zM260.2 444H268.7V448H260.2zM514 484H522.4V488H514zM226.4 500H234.9V504H226.4zM217.9 512H226.4V516H217.9zM209.5 524H217.9V528H209.5zM361.7 568H370.2V572H361.7zM530.9 568H539.4V572H530.9zM361.7 572H370.2V576H361.7zM302.5 576H311V580H302.5zM327.9 576H336.4V580H327.9zM336.4 584H344.8V588H336.4zM378.6 584H387.1V588H378.6zM336.4 588H344.8V592H336.4zM336.4 592H344.8V596H336.4zM243.3 596H251.8V600H243.3zM336.4 596H344.8V600H336.4zM243.3 600H251.8V604H243.3zM268.7 608H277.2V612H268.7zM285.6 612H294.1V616H285.6zM277.2 620H285.6V624H277.2zM319.4 624H327.9V628H319.4zM370.2 628H378.7V632H370.2zM370.2 632H378.7V636H370.2zM370.2 636H378.7V640H370.2zM370.2 640H378.7V644H370.2zM327.9 648H336.4V652H327.9zM378.6 648H387.1V652H378.6zM387.1 652H395.6V656H387.1zM336.4 660H344.8V664H336.4zM404 668H412.5V672H404zM404 672H412.5V676H404zM336.4 692H344.8V696H336.4zM353.3 692H361.7V696H353.3zM294.1 696H336.4V700H294.1zM404 700H412.5V704H404zM285.6 704H294.1V708H285.6zM268.7 720H277.2V724H268.7zM404 720H412.5V724H404zM184.1 732H192.6V736H184.1z"/><path fill="#ff1c00" d="M327.9 252H336.4V256H327.9zM311 264H319.4V268H311zM311 268H319.4V272H311zM311 272H319.4V276H311zM336.4 272H344.8V276H336.4zM311 276H319.4V280H311zM319.4 292H327.9V296H319.4zM260.2 308H268.7V312H260.2zM327.9 312H336.4V316H327.9zM412.5 312H420.9V316H412.5zM420.9 340H429.4V344H420.9zM429.4 344H437.9V348H429.4zM336.4 368H361.7V372H336.4zM353.3 372H361.7V376H353.3zM327.9 376H336.4V380H327.9zM327.9 380H336.4V384H327.9zM336.4 384H344.8V388H336.4zM454.8 408H463.2V412H454.8zM260.2 440H268.7V444H260.2zM234.9 444H243.3V448H234.9zM480.1 484H488.6V488H480.1zM437.9 532H446.3V536H437.9zM454.8 536H463.2V540H454.8zM226.4 548H234.9V552H226.4zM514 548H522.4V552H514zM302.5 580H311V584H302.5zM294.1 584H302.5V588H294.1zM285.6 592H294.1V596H285.6zM277.2 600H285.6V604H277.2zM294.1 604H302.5V608H294.1zM336.4 608H344.8V612H336.4zM311 612H319.4V616H311zM327.9 628H336.4V632H327.9zM327.9 632H336.4V636H327.9zM327.9 636H336.4V640H327.9zM327.9 640H336.4V644H327.9zM336.4 656H344.8V660H336.4zM395.6 660H404V664H395.6zM353.3 664H361.7V668H353.3zM361.7 672H370.2V676H361.7zM370.2 684H378.7V688H370.2zM404 684H412.5V688H404zM370.2 688H378.7V692H370.2zM404 688H412.5V692H404zM361.7 700H370.2V704H361.7zM336.4 704H344.8V708H336.4zM327.9 708H336.4V712H327.9zM327.9 712H336.4V716H327.9zM395.6 712H404V716H395.6zM277.2 716H336.4V720H277.2zM170 732H184.1V736H170zM412.5 732H420.9V736H412.5zM184.1 736H192.6V740H184.1zM251.8 736H260.2V740H251.8zM420.9 740H429.4V744H420.9zM420.9 748H429.4V752H420.9zM412.5 756H420.9V760H412.5z"/><path fill="#ff1000" d="M404 252H412.5V256H404zM327.9 256H336.4V260H327.9zM319.4 260H327.9V264H319.4zM336.4 276H344.8V280H336.4zM319.4 288H327.9V292H319.4zM336.4 296H344.8V300H336.4zM429.4 332H437.9V336H429.4zM420.9 344H429.4V348H420.9zM336.4 372H344.8V376H336.4zM353.3 376H361.7V380H353.3zM429.4 380H437.9V384H429.4zM344.8 384H353.3V388H344.8zM471.7 408H480.1V412H471.7zM234.9 488H243.3V492H234.9zM420.9 492H429.4V496H420.9zM437.9 496H446.3V500H437.9zM201 504H209.5V508H201zM497.1 516H505.5V520H497.1zM226.4 552H234.9V556H226.4zM327.9 580H336.4V584H327.9zM285.6 604H294.1V608H285.6zM277.2 616H285.6V620H277.2zM319.4 616H327.9V620H319.4zM327.9 624H336.4V628H327.9zM361.7 624H370.2V628H361.7zM336.4 648H344.8V652H336.4zM370.2 648H378.7V652H370.2zM336.4 652H344.8V656H336.4zM378.6 652H387.1V656H378.6zM361.7 668H370.2V672H361.7zM370.2 692H378.7V696H370.2zM344.8 704H370.2V708H344.8zM336.4 708H344.8V712H336.4zM395.6 708H404V712H395.6zM387.1 716H395.6V720H387.1zM395.6 720H404V724H395.6zM404 728H412.5V732H404zM412.5 752H420.9V756H412.5zM395.6 760H404V764H395.6zM378.6 764H387.1V768H378.6z"/><path fill="#ff8900" d="M217.9 256H226.4V260H217.9zM353.3 256H361.7V260H353.3zM361.7 260H370.2V264H361.7zM471.7 276H480.1V280H471.7zM420.9 284H429.4V288H420.9zM429.4 292H437.9V296H429.4zM514 292H522.4V296H514zM429.4 296H437.9V300H429.4zM429.4 300H437.9V304H429.4zM429.4 304H437.9V308H429.4zM463.2 312H514V316H463.2zM243.3 340H251.8V344H243.3zM294.1 340H302.5V344H294.1zM353.3 340H361.7V344H353.3zM251.8 344H260.2V348H251.8zM285.6 344H294.1V348H285.6zM302.5 344H311V348H302.5zM251.8 348H260.2V352H251.8zM302.5 348H311V352H302.5zM446.3 352H454.8V356H446.3zM446.3 356H454.8V360H446.3zM446.3 360H454.8V364H446.3zM370.2 364H378.7V368H370.2zM446.3 364H454.8V368H446.3zM302.5 368H311V372H302.5zM302.5 372H311V376H302.5zM184.1 376H192.6V380H184.1zM294.1 376H302.5V380H294.1zM378.6 380H387.1V384H378.6zM404 380H412.5V384H404zM184.1 384H192.6V388H184.1zM294.1 384H302.5V388H294.1zM454.8 384H463.2V388H454.8zM319.4 388H327.9V392H319.4zM327.9 396H336.4V400H327.9zM344.8 400H353.3V404H344.8zM353.3 404H361.7V408H353.3zM446.3 420H454.8V424H446.3zM277.2 424H285.6V428H277.2zM454.8 424H463.2V428H454.8zM170 428H175.7V432H170zM277.2 428H285.6V432H277.2zM277.2 432H285.6V436H277.2zM277.2 436H285.6V440H277.2zM260.2 456H268.7V460H260.2zM209.5 484H217.9V488H209.5zM311 496H319.4V500H311zM547.8 500H556.3V504H547.8zM547.8 504H556.3V508H547.8zM547.8 508H556.3V512H547.8zM243.3 512H251.8V516H243.3zM547.8 512H556.3V516H547.8zM539.4 516H547.8V520H539.4zM260.2 524H268.7V528H260.2zM209.5 528H217.9V532H209.5zM251.8 532H268.7V536H251.8zM243.3 536H260.2V540H243.3zM251.8 540H260.2V544H251.8zM327.9 552H336.4V556H327.9zM319.4 560H327.9V564H319.4zM361.7 560H370.2V564H361.7zM170 564H175.7V568H170zM294.1 564H319.4V568H294.1zM370.2 568H378.7V572H370.2zM336.4 572H344.8V576H336.4zM285.6 576H294.1V580H285.6zM378.6 576H387.1V580H378.6zM251.8 592H260.2V596H251.8zM378.6 600H387.1V604H378.6zM234.9 616H243.3V620H234.9zM209.5 624H226.4V628H209.5zM285.6 624H294.1V628H285.6zM170 632H175.7V636H170zM226.4 632H234.9V636H226.4zM260.2 632H277.2V636H260.2zM302.5 632H311V636H302.5zM387.1 644H395.6V648H387.1zM251.8 652H260.2V656H251.8zM412.5 652H420.9V656H412.5zM429.4 656H437.9V660H429.4zM243.3 660H251.8V664H243.3zM285.6 660H294.1V664H285.6zM437.9 668H446.3V672H437.9zM454.8 684H463.2V688H454.8zM454.8 688H463.2V692H454.8zM268.7 696H277.2V700H268.7zM175.7 712H184.1V716H175.7zM251.8 720H260.2V724H251.8zM446.3 720H454.8V724H446.3zM192.6 724H251.8V728H192.6zM437.9 728H446.3V732H437.9zM437.9 732H446.3V736H437.9z"/><path fill="#e70000" d="M404 256H412.5V260H404zM404 260H412.5V264H404zM404 264H412.5V268H404zM404 268H412.5V272H404zM404 272H412.5V276H404zM404 276H412.5V280H404zM404 280H412.5V284H404zM404 284H412.5V288H404zM404 288H412.5V292H404zM404 292H412.5V296H404zM404 296H412.5V300H404zM404 300H412.5V304H404zM404 304H412.5V308H404zM404 308H412.5V312H404zM404 312H412.5V316H404zM404 316H412.5V320H404zM404 320H420.9V324H404zM404 324H420.9V328H404zM404 328H420.9V332H404zM404 332H420.9V336H404zM404 336H420.9V340H404zM404 340H420.9V344H404zM404 344H420.9V348H404zM404 348H420.9V352H404zM404 352H420.9V356H404zM404 356H420.9V360H404zM404 360H429.4V364H404zM412.5 364H429.4V368H412.5zM412.5 368H429.4V372H412.5zM412.5 372H429.4V376H412.5zM412.5 376H429.4V380H412.5zM412.5 380H429.4V384H412.5zM420.9 384H429.4V388H420.9zM420.9 388H429.4V392H420.9zM420.9 392H429.4V396H420.9zM454.8 400H463.2V404H454.8zM463.2 436H471.7V440H463.2zM251.8 460H260.2V464H251.8zM480.1 480H488.6V484H480.1zM514 488H522.4V492H514zM226.4 496H234.9V500H226.4zM209.5 520H217.9V524H209.5zM446.3 540H454.8V544H446.3zM353.3 632H361.7V636H353.3zM344.8 636H353.3V640H344.8zM395.6 692H404V696H395.6zM370.2 736H378.7V740H370.2zM260.2 740H268.7V744H260.2zM336.4 740H344.8V744H336.4zM387.1 740H395.6V744H387.1zM170 748H217.9V752H170zM344.8 748H370.2V752H344.8zM217.9 756H226.4V760H217.9zM217.9 760H226.4V764H217.9zM209.5 768H217.9V772H209.5zM260.2 768H353.3V772H260.2z"/><path fill="#fd0000" d="M327.9 260H336.4V264H327.9zM319.4 264H327.9V268H319.4zM319.4 268H327.9V272H319.4zM319.4 272H327.9V276H319.4zM319.4 276H327.9V280H319.4zM268.7 316H277.2V320H268.7zM429.4 336H437.9V340H429.4zM404 372H412.5V376H404zM344.8 376H353.3V380H344.8zM336.4 380H344.8V384H336.4zM463.2 392H471.7V396H463.2zM217.9 476H226.4V480H217.9zM243.3 476H251.8V480H243.3zM429.4 484H437.9V488H429.4zM234.9 552H243.3V556H234.9zM226.4 556H234.9V560H226.4zM226.4 560H234.9V564H226.4zM234.9 568H243.3V572H234.9zM302.5 584H311V588H302.5zM294.1 592H302.5V596H294.1zM311 604H319.4V608H311zM277.2 608H285.6V612H277.2zM319.4 612H327.9V616H319.4zM336.4 616H344.8V620H336.4zM327.9 620H336.4V624H327.9zM336.4 640H344.8V644H336.4zM370.2 652H378.7V656H370.2zM353.3 660H361.7V664H353.3zM361.7 664H370.2V668H361.7zM395.6 668H404V672H395.6zM370.2 700H378.7V704H370.2zM370.2 704H378.7V708H370.2zM395.6 704H404V708H395.6zM344.8 708H370.2V712H344.8zM336.4 716H344.8V720H336.4zM370.2 720H378.7V724H370.2zM277.2 724H327.9V728H277.2zM378.6 724H404V728H378.6zM404 732H412.5V736H404zM184.1 740H192.6V744H184.1zM412.5 740H420.9V744H412.5zM412.5 748H420.9V752H412.5zM404 752H412.5V756H404zM361.7 768H370.2V772H361.7z"/><path fill="#f90000" d="M327.9 264H336.4V268H327.9zM327.9 304H336.4V308H327.9zM327.9 308H336.4V312H327.9zM412.5 316H420.9V320H412.5zM420.9 352H429.4V356H420.9zM429.4 384H437.9V388H429.4zM429.4 392H437.9V396H429.4zM454.8 404H463.2V408H454.8zM260.2 436H268.7V440H260.2zM463.2 440H471.7V444H463.2zM226.4 460H234.9V464H226.4zM471.7 464H480.1V468H471.7zM429.4 516H437.9V520H429.4zM201 532H209.5V536H201zM192.6 536H201V540H192.6zM547.8 548H556.3V552H547.8zM234.9 556H243.3V560H234.9zM522.4 556H530.9V560H522.4zM234.9 560H243.3V564H234.9zM226.4 564H243.3V568H226.4zM226.4 568H234.9V572H226.4zM327.9 584H336.4V588H327.9zM302.5 588H311V592H302.5zM327.9 588H336.4V592H327.9zM302.5 592H311V596H302.5zM327.9 592H336.4V596H327.9zM327.9 596H336.4V600H327.9zM294.1 600H311V604H294.1zM327.9 600H336.4V604H327.9zM319.4 608H327.9V612H319.4zM277.2 612H285.6V616H277.2zM327.9 616H336.4V620H327.9zM361.7 628H370.2V632H361.7zM361.7 632H370.2V636H361.7zM361.7 636H370.2V640H361.7zM361.7 640H370.2V644H361.7zM387.1 656H395.6V660H387.1zM361.7 660H370.2V664H361.7zM395.6 700H404V704H395.6zM344.8 712H370.2V716H344.8zM378.6 716H387.1V720H378.6zM336.4 720H344.8V724H336.4zM327.9 724H336.4V728H327.9zM370.2 724H378.7V728H370.2zM404 736H412.5V740H404zM170 740H184.1V744H170zM404 748H412.5V752H404zM370.2 764H378.7V768H370.2z"/><path fill="#f60000" d="M268.7 268H277.2V272H268.7zM327.9 268H336.4V272H327.9zM268.7 272H277.2V276H268.7zM327.9 272H336.4V276H327.9zM327.9 276H336.4V280H327.9zM327.9 280H336.4V284H327.9zM327.9 284H336.4V288H327.9zM327.9 288H336.4V292H327.9zM327.9 292H336.4V296H327.9zM327.9 296H336.4V300H327.9zM327.9 300H336.4V304H327.9zM268.7 308H277.2V312H268.7zM268.7 312H277.2V316H268.7zM344.8 380H353.3V384H344.8zM454.8 392H463.2V396H454.8zM497.1 464H505.5V468H497.1zM420.9 488H429.4V492H420.9zM530.9 516H539.4V520H530.9zM294.1 596H311V600H294.1zM311 600H327.9V604H311zM319.4 604H336.4V608H319.4zM327.9 608H336.4V612H327.9zM327.9 612H336.4V616H327.9zM336.4 620H344.8V624H336.4zM336.4 636H344.8V640H336.4zM361.7 644H370.2V648H361.7zM361.7 648H370.2V652H361.7zM361.7 652H370.2V656H361.7zM370.2 656H378.7V660H370.2zM395.6 672H404V676H395.6zM370.2 676H378.7V680H370.2zM361.7 716H370.2V720H361.7zM361.7 720H370.2V724H361.7zM336.4 724H344.8V728H336.4zM361.7 724H370.2V728H361.7zM277.2 728H344.8V732H277.2zM370.2 728H404V732H370.2zM395.6 732H404V736H395.6zM395.6 736H404V740H395.6zM251.8 740H260.2V744H251.8zM395.6 740H412.5V744H395.6zM404 744H420.9V748H404zM395.6 748H404V752H395.6zM395.6 752H404V756H395.6zM395.6 756H404V760H395.6zM387.1 760H395.6V764H387.1zM344.8 772H353.3V776H344.8zM344.8 776H353.3V780H344.8zM344.8 780H353.3V782H344.8z"/><path fill="#f30000" d="M268.7 276H277.2V280H268.7zM268.7 280H277.2V284H268.7zM268.7 284H277.2V288H268.7zM268.7 288H277.2V292H268.7zM268.7 292H277.2V296H268.7zM268.7 296H277.2V300H268.7zM268.7 300H277.2V304H268.7zM268.7 304H277.2V308H268.7zM404 368H412.5V372H404zM251.8 416H260.2V420H251.8zM243.3 432H251.8V436H243.3zM505.5 476H514V480H505.5zM488.6 496H497.1V500H488.6zM192.6 520H201V524H192.6zM505.5 532H514V536H505.5zM539.4 532H547.8V536H539.4zM311 584H327.9V588H311zM311 588H327.9V592H311zM311 592H327.9V596H311zM311 596H327.9V600H311zM344.8 620H353.3V624H344.8zM336.4 624H344.8V628H336.4zM353.3 624H361.7V628H353.3zM336.4 632H344.8V636H336.4zM344.8 640H361.7V644H344.8zM344.8 644H361.7V648H344.8zM344.8 648H361.7V652H344.8zM344.8 652H361.7V656H344.8zM344.8 656H370.2V660H344.8zM370.2 660H378.7V664H370.2zM395.6 696H404V700H395.6zM344.8 716H361.7V720H344.8zM344.8 720H361.7V724H344.8zM344.8 724H361.7V728H344.8zM344.8 728H370.2V732H344.8zM336.4 732H378.7V736H336.4zM387.1 732H395.6V736H387.1zM268.7 736H277.2V740H268.7zM344.8 736H370.2V740H344.8zM344.8 740H370.2V744H344.8zM170 744H251.8V748H170zM344.8 744H370.2V748H344.8zM395.6 744H404V748H395.6zM226.4 748H251.8V752H226.4zM226.4 752H251.8V756H226.4zM226.4 756H251.8V760H226.4zM226.4 760H243.3V764H226.4zM226.4 764H234.9V768H226.4zM226.4 768H234.9V772H226.4zM353.3 768H361.7V772H353.3zM209.5 772H234.9V776H209.5zM260.2 772H344.8V776H260.2zM209.5 776H234.9V780H209.5zM260.2 776H344.8V780H260.2zM209.5 780H234.9V782H209.5zM260.2 780H344.8V782H260.2z"/><path fill="#ff0300" d="M319.4 280H327.9V284H319.4zM336.4 280H344.8V284H336.4zM319.4 284H327.9V288H319.4zM336.4 284H344.8V288H336.4zM336.4 288H344.8V292H336.4zM336.4 292H344.8V296H336.4zM429.4 340H437.9V344H429.4zM420.9 348H429.4V352H420.9zM344.8 372H353.3V376H344.8zM336.4 376H344.8V380H336.4zM353.3 380H361.7V384H353.3zM412.5 384H420.9V388H412.5zM488.6 444H497.1V448H488.6zM522.4 500H530.9V504H522.4zM446.3 512H454.8V516H446.3zM234.9 544H243.3V548H234.9zM234.9 548H243.3V552H234.9zM311 580H327.9V584H311zM294.1 588H302.5V592H294.1zM285.6 596H294.1V600H285.6zM285.6 600H294.1V604H285.6zM277.2 604H285.6V608H277.2zM302.5 604H311V608H302.5zM311 608H319.4V612H311zM336.4 612H344.8V616H336.4zM344.8 616H353.3V620H344.8zM353.3 620H361.7V624H353.3zM243.3 640H251.8V644H243.3zM243.3 644H251.8V648H243.3zM336.4 644H344.8V648H336.4zM344.8 660H353.3V664H344.8zM395.6 664H404V668H395.6zM370.2 680H378.7V684H370.2zM370.2 696H378.7V700H370.2zM370.2 708H378.7V712H370.2zM336.4 712H344.8V716H336.4zM370.2 712H378.7V716H370.2zM370.2 716H378.7V720H370.2zM277.2 720H336.4V724H277.2zM378.6 720H395.6V724H378.6zM268.7 732H277.2V736H268.7zM170 736H184.1V740H170zM260.2 736H268.7V740H260.2zM412.5 736H420.9V740H412.5zM192.6 740H251.8V744H192.6zM420.9 744H429.4V748H420.9zM404 756H412.5V760H404zM353.3 772H361.7V776H353.3zM353.3 776H361.7V780H353.3zM353.3 780H361.7V782H353.3z"/><path fill="#ef0000" d="M420.9 356H429.4V360H420.9zM404 364H412.5V368H404zM429.4 388H437.9V392H429.4zM480.1 428H488.6V432H480.1zM260.2 432H268.7V436H260.2zM217.9 508H226.4V512H217.9zM446.3 516H454.8V520H446.3zM336.4 628H344.8V632H336.4zM353.3 636H361.7V640H353.3zM370.2 664H378.7V668H370.2zM370.2 668H378.7V672H370.2zM370.2 672H378.7V676H370.2zM395.6 676H404V680H395.6zM277.2 732H336.4V736H277.2zM378.6 732H387.1V736H378.6zM336.4 736H344.8V740H336.4zM387.1 736H395.6V740H387.1zM217.9 748H226.4V752H217.9zM217.9 752H226.4V756H217.9zM243.3 760H251.8V764H243.3zM217.9 764H226.4V768H217.9zM234.9 764H243.3V768H234.9zM361.7 764H370.2V768H361.7zM217.9 768H226.4V772H217.9z"/><path fill="#c70000" d="M454.8 396H471.7V400H454.8zM463.2 400H471.7V404H463.2zM463.2 404H471.7V408H463.2zM463.2 408H471.7V412H463.2zM463.2 412H471.7V416H463.2zM260.2 416H268.7V420H260.2zM463.2 416H480.1V420H463.2zM251.8 420H268.7V424H251.8zM463.2 420H480.1V424H463.2zM251.8 424H268.7V428H251.8zM463.2 424H480.1V428H463.2zM251.8 428H260.2V432H251.8zM463.2 428H480.1V432H463.2zM251.8 432H260.2V436H251.8zM463.2 432H488.6V436H463.2zM243.3 436H260.2V440H243.3zM471.7 436H488.6V440H471.7zM243.3 440H260.2V444H243.3zM471.7 440H488.6V444H471.7zM243.3 444H260.2V448H243.3zM471.7 444H488.6V448H471.7zM243.3 448H260.2V452H243.3zM471.7 448H488.6V452H471.7zM234.9 452H260.2V456H234.9zM471.7 452H497.1V456H471.7zM234.9 456H260.2V460H234.9zM471.7 456H497.1V460H471.7zM234.9 460H251.8V464H234.9zM480.1 460H497.1V464H480.1zM226.4 464H251.8V468H226.4zM480.1 464H497.1V468H480.1zM226.4 468H251.8V472H226.4zM480.1 468H505.5V472H480.1zM226.4 472H251.8V476H226.4zM480.1 472H505.5V476H480.1zM226.4 476H243.3V480H226.4zM480.1 476H505.5V480H480.1zM226.4 480H243.3V484H226.4zM488.6 480H514V484H488.6zM217.9 484H243.3V488H217.9zM488.6 484H514V488H488.6zM217.9 488H234.9V492H217.9zM488.6 488H514V492H488.6zM217.9 492H234.9V496H217.9zM488.6 492H522.4V496H488.6zM217.9 496H226.4V500H217.9zM497.1 496H522.4V500H497.1zM209.5 500H226.4V504H209.5zM497.1 500H522.4V504H497.1zM209.5 504H226.4V508H209.5zM497.1 504H522.4V508H497.1zM209.5 508H217.9V512H209.5zM497.1 508H530.9V512H497.1zM201 512H217.9V516H201zM505.5 512H530.9V516H505.5zM201 516H217.9V520H201zM505.5 516H530.9V520H505.5zM201 520H209.5V524H201zM505.5 520H539.4V524H505.5zM192.6 524H209.5V528H192.6zM505.5 524H539.4V528H505.5zM192.6 528H209.5V532H192.6zM505.5 528H539.4V532H505.5zM192.6 532H201V536H192.6zM514 532H539.4V536H514zM514 536H547.8V540H514zM514 540H547.8V544H514zM514 544H547.8V548H514zM522.4 548H547.8V552H522.4zM522.4 552H556.3V556H522.4zM530.9 556H556.3V560H530.9zM530.9 560H556.3V564H530.9zM539.4 564H556.3V568H539.4zM539.4 568H547.8V572H539.4zM344.8 628H353.3V632H344.8zM378.6 660H387.1V664H378.6zM378.6 664H387.1V668H378.6zM378.6 668H387.1V672H378.6zM378.6 672H387.1V676H378.6zM378.6 676H387.1V680H378.6zM378.6 680H395.6V684H378.6zM378.6 684H395.6V688H378.6zM378.6 688H395.6V692H378.6zM378.6 692H395.6V696H378.6zM378.6 696H395.6V700H378.6zM378.6 700H395.6V704H378.6zM378.6 704H395.6V708H378.6zM378.6 708H395.6V712H378.6zM378.6 712H387.1V716H378.6zM370.2 752H378.7V756H370.2zM170 756H217.9V760H170zM344.8 756H370.2V760H344.8zM209.5 760H217.9V764H209.5zM260.2 760H361.7V764H260.2zM243.3 772H251.8V776H243.3z"/><path fill="#df0000" d="M260.2 412H268.7V416H260.2zM471.7 412H480.1V416H471.7zM234.9 448H243.3V452H234.9zM488.6 448H497.1V452H488.6zM209.5 496H217.9V500H209.5zM497.1 512H505.5V516H497.1zM437.9 528H446.3V532H437.9zM530.9 564H539.4V568H530.9zM344.8 624H353.3V628H344.8zM353.3 628H361.7V632H353.3zM387.1 660H395.6V664H387.1zM395.6 680H404V684H395.6zM277.2 736H336.4V740H277.2zM378.6 736H387.1V740H378.6zM370.2 740H378.7V744H370.2zM336.4 744H344.8V748H336.4zM387.1 744H395.6V748H387.1zM387.1 748H395.6V752H387.1zM387.1 752H395.6V756H387.1zM387.1 756H395.6V760H387.1zM378.6 760H387.1V764H378.6zM243.3 764H251.8V768H243.3zM353.3 764H361.7V768H353.3zM234.9 768H243.3V772H234.9zM251.8 768H260.2V772H251.8zM201 772H209.5V776H201zM251.8 772H260.2V776H251.8zM201 776H209.5V780H201zM251.8 776H260.2V780H251.8zM201 780H209.5V782H201zM251.8 780H260.2V782H251.8z"/><path fill="#d70000" d="M260.2 428H268.7V432H260.2zM471.7 460H480.1V464H471.7zM217.9 480H226.4V484H217.9zM437.9 500H446.3V504H437.9zM344.8 632H353.3V636H344.8zM387.1 664H395.6V668H387.1zM395.6 688H404V692H395.6zM387.1 712H395.6V716H387.1zM268.7 740H277.2V744H268.7zM251.8 744H260.2V748H251.8zM370.2 744H378.7V748H370.2zM251.8 748H260.2V752H251.8zM336.4 748H344.8V752H336.4zM170 752H217.9V756H170zM251.8 752H260.2V756H251.8zM344.8 752H370.2V756H344.8zM251.8 756H260.2V760H251.8zM251.8 760H260.2V764H251.8zM370.2 760H378.7V764H370.2zM209.5 764H217.9V768H209.5zM251.8 764H353.3V768H251.8zM201 768H209.5V772H201zM243.3 768H251.8V772H243.3zM234.9 772H243.3V776H234.9zM234.9 776H243.3V780H234.9zM234.9 780H243.3V782H234.9z"/><path fill="#cf0000" d="M429.4 488H437.9V492H429.4zM429.4 492H437.9V496H429.4zM429.4 496H437.9V500H429.4zM429.4 500H437.9V504H429.4zM429.4 504H446.3V508H429.4zM522.4 504H530.9V508H522.4zM201 508H209.5V512H201zM429.4 508H446.3V512H429.4zM429.4 512H446.3V516H429.4zM437.9 516H446.3V520H437.9zM437.9 520H454.8V524H437.9zM437.9 524H454.8V528H437.9zM446.3 528H454.8V532H446.3zM446.3 532H454.8V536H446.3zM446.3 536H454.8V540H446.3zM378.6 656H387.1V660H378.6zM387.1 668H395.6V672H387.1zM387.1 672H395.6V676H387.1zM387.1 676H395.6V680H387.1zM395.6 684H404V688H395.6zM277.2 740H336.4V744H277.2zM378.6 740H387.1V744H378.6zM370.2 748H378.7V752H370.2zM336.4 752H344.8V756H336.4zM361.7 760H370.2V764H361.7zM201 764H209.5V768H201z"/><path fill="#080008" d="M1046.8 732H1185V736H1046.8zM1004.5 736H1185V740H1004.5zM996.1 740H1185V744H996.1zM987.6 744H1185V748H987.6zM979.2 748H1185V752H979.2zM928.4 752H1185V756H928.4zM928.4 756H1185V760H928.4zM920 760H1185V764H920zM920 764H1185V768H920zM920 768H1185V772H920zM911.5 772H1185V776H911.5zM843.8 776H1185V780H843.8zM843.8 780H1185V782H843.8z"/><path fill="#c10000" d="M260.2 744H336.4V748H260.2zM378.6 744H387.1V748H378.6zM260.2 748H336.4V752H260.2zM378.6 748H387.1V752H378.6zM260.2 752H336.4V756H260.2zM378.6 752H387.1V756H378.6zM260.2 756H344.8V760H260.2zM370.2 756H387.1V760H370.2zM170 760H209.5V764H170zM170 764H201V768H170zM170 768H201V772H170zM170 772H201V776H170zM170 776H201V780H170zM243.3 776H251.8V780H243.3zM170 780H201V782H170zM243.3 780H251.8V782H243.3z"/><rect x="170.0" y="645" width="5.7" height="3" fill="#ff6200"/><rect x="175.7" y="645" width="8.5" height="3" fill="#ff6b00"/><rect x="184.1" y="645" width="8.5" height="3" fill="#ff9800"/><rect x="192.6" y="645" width="8.5" height="3" fill="#ffcc00"/><rect x="201.0" y="645" width="8.5" height="3" fill="#ffc800"/><rect x="209.5" y="645" width="8.5" height="3" fill="#ffbb00"/><rect x="217.9" y="645" width="8.5" height="3" fill="#ff8700"/><rect x="226.4" y="645" width="8.5" height="3" fill="#ff5000"/><rect x="234.9" y="645" width="8.5" height="3" fill="#f30000"/><rect x="243.3" y="645" width="8.5" height="3" fill="#c00000"/><rect x="251.8" y="645" width="8.5" height="3" fill="#fb0000"/><rect x="260.2" y="645" width="8.5" height="3" fill="#ff4f00"/><rect x="268.7" y="645" width="8.5" height="3" fill="#ff4f00"/><rect x="277.2" y="645" width="8.5" height="3" fill="#ff4a00"/><rect x="285.6" y="645" width="8.5" height="3" fill="#ff2200"/><rect x="294.1" y="645" width="8.5" height="3" fill="#ff0000"/><rect x="302.5" y="645" width="8.5" height="3" fill="#ff0000"/><rect x="311.0" y="645" width="8.5" height="3" fill="#fd0000"/><rect x="319.4" y="645" width="8.5" height="3" fill="#f10000"/><rect x="327.9" y="645" width="8.5" height="3" fill="#d70000"/><rect x="336.4" y="645" width="8.5" height="3" fill="#bc0000"/><rect x="344.8" y="645" width="8.5" height="3" fill="#a80000"/><rect x="353.3" y="645" width="8.5" height="3" fill="#a80000"/><rect x="361.7" y="645" width="8.5" height="3" fill="#af0000"/><rect x="370.2" y="645" width="8.5" height="3" fill="#d90000"/><rect x="378.6" y="645" width="8.5" height="3" fill="#f90000"/><rect x="387.1" y="645" width="8.5" height="3" fill="#ff1500"/><rect x="395.6" y="645" width="8.5" height="3" fill="#ff3800"/><rect x="404.0" y="645" width="8.5" height="3" fill="#ff3f00"/><rect x="412.5" y="645" width="8.5" height="3" fill="#ff4d00"/><rect x="420.9" y="645" width="8.5" height="3" fill="#ff7d00"/><rect x="429.4" y="645" width="8.5" height="3" fill="#ffa000"/><rect x="437.9" y="645" width="8.5" height="3" fill="#ffb700"/><rect x="446.3" y="645" width="8.5" height="3" fill="#ffc300"/><rect x="454.8" y="645" width="8.5" height="3" fill="#ffc300"/><rect x="463.2" y="645" width="8.5" height="3" fill="#ffc900"/><rect x="471.7" y="645" width="8.5" height="3" fill="#ffe300"/><rect x="480.1" y="645" width="8.5" height="3" fill="#fff200"/><rect x="488.6" y="645" width="8.5" height="3" fill="#fff200"/><rect x="497.1" y="645" width="8.5" height="3" fill="#fff100"/><rect x="505.5" y="645" width="8.5" height="3" fill="#ffeb00"/><rect x="514.0" y="645" width="8.5" height="3" fill="#ffe600"/><rect x="522.4" y="645" width="8.5" height="3" fill="#ffe700"/><rect x="530.9" y="645" width="8.5" height="3" fill="#ffe800"/><rect x="539.4" y="645" width="8.5" height="3" fill="#ffe900"/><rect x="547.8" y="645" width="8.5" height="3" fill="#ffe800"/><rect x="556.3" y="645" width="8.5" height="3" fill="#ffe800"/><rect x="564.7" y="645" width="8.5" height="3" fill="#ffe700"/><rect x="573.2" y="645" width="8.5" height="3" fill="#ffe700"/><rect x="581.6" y="645" width="8.5" height="3" fill="#ffe600"/><rect x="590.1" y="645" width="8.5" height="3" fill="#ffe600"/><rect x="598.6" y="645" width="8.5" height="3" fill="#ffe600"/><rect x="607.0" y="645" width="8.5" height="3" fill="#ffe600"/><rect x="615.5" y="645" width="8.5" height="3" fill="#ffe600"/><rect x="623.9" y="645" width="8.5" height="3" fill="#ffe600"/><rect x="632.4" y="645" width="8.5" height="3" fill="#ffe600"/><rect x="640.8" y="645" width="8.5" height="3" fill="#ffe700"/><rect x="649.3" y="645" width="8.5" height="3" fill="#ffec00"/><rect x="657.8" y="645" width="8.5" height="3" fill="#fff300"/><rect x="666.2" y="645" width="8.5" height="3" fill="#fff700"/><rect x="674.7" y="645" width="8.5" height="3" fill="#fffb00"/><rect x="683.1" y="645" width="8.5" height="3" fill="#fdff00"/><rect x="691.6" y="645" width="8.5" height="3" fill="#f1ff00"/><rect x="700.1" y="645" width="8.5" height="3" fill="#b5ff00"/><rect x="708.5" y="645" width="8.5" height="3" fill="#a0ff00"/><rect x="717.0" y="645" width="8.5" height="3" fill="#92ff00"/><rect x="725.4" y="645" width="8.5" height="3" fill="#88ff00"/><rect x="733.9" y="645" width="8.5" height="3" fill="#7cff00"/><rect x="742.3" y="645" width="8.5" height="3" fill="#69ff00"/><rect x="750.8" y="645" width="8.5" height="3" fill="#3eff00"/><rect x="759.3" y="645" width="8.5" height="3" fill="#14ff06"/><rect x="767.7" y="645" width="8.5" height="3" fill="#00ff15"/><rect x="776.2" y="645" width="8.5" height="3" fill="#00ff31"/><rect x="784.6" y="645" width="8.5" height="3" fill="#00ff3b"/><rect x="793.1" y="645" width="8.5" height="3" fill="#00ff49"/><rect x="801.5" y="645" width="8.5" height="3" fill="#00ff63"/><rect x="810.0" y="645" width="8.5" height="3" fill="#00ff84"/><rect x="818.5" y="645" width="8.5" height="3" fill="#00ffa2"/><rect x="826.9" y="645" width="8.5" height="3" fill="#00ffb7"/><rect x="835.4" y="645" width="8.5" height="3" fill="#00ffcb"/><rect x="843.8" y="645" width="8.5" height="3" fill="#00ffe1"/><rect x="852.3" y="645" width="8.5" height="3" fill="#00fff2"/><rect x="860.8" y="645" width="8.5" height="3" fill="#00fbfa"/><rect x="869.2" y="645" width="8.5" height="3" fill="#00f7fc"/><rect x="877.7" y="645" width="8.5" height="3" fill="#00f6fc"/><rect x="886.1" y="645" width="8.5" height="3" fill="#00f7fc"/><rect x="894.6" y="645" width="8.5" height="3" fill="#00f9fb"/><rect x="903.0" y="645" width="8.5" height="3" fill="#00f7fc"/><rect x="911.5" y="645" width="8.5" height="3" fill="#00f1ff"/><rect x="920.0" y="645" width="8.5" height="3" fill="#00ebff"/><rect x="928.4" y="645" width="8.5" height="3" fill="#00e8ff"/><rect x="936.9" y="645" width="8.5" height="3" fill="#00e7ff"/><rect x="945.3" y="645" width="8.5" height="3" fill="#00e7ff"/><rect x="953.8" y="645" width="8.5" height="3" fill="#00e7ff"/><rect x="962.3" y="645" width="8.5" height="3" fill="#00e7ff"/><rect x="970.7" y="645" width="8.5" height="3" fill="#00e7ff"/><rect x="979.2" y="645" width="8.5" height="3" fill="#00e7ff"/><rect x="987.6" y="645" width="8.5" height="3" fill="#00e7ff"/><rect x="996.1" y="645" width="8.5" height="3" fill="#00e7ff"/><rect x="1004.5" y="645" width="8.5" height="3" fill="#00e7ff"/><rect x="1013.0" y="645" width="8.5" height="3" fill="#00e6ff"/><rect x="1021.5" y="645" width="8.5" height="3" fill="#00e1ff"/><rect x="1029.9" y="645" width="8.5" height="3" fill="#00d8ff"/><rect x="1038.4" y="645" width="8.5" height="3" fill="#00d1ff"/><rect x="1046.8" y="645" width="8.5" height="3" fill="#00cdff"/><rect x="1055.3" y="645" width="8.5" height="3" fill="#00cdff"/><rect x="1063.7" y="645" width="8.5" height="3" fill="#00cdff"/><rect x="1072.2" y="645" width="8.5" height="3" fill="#00cdff"/><rect x="1080.7" y="645" width="8.5" height="3" fill="#00cdff"/><rect x="1089.1" y="645" width="8.5" height="3" fill="#00cdff"/><rect x="1097.6" y="645" width="8.5" height="3" fill="#00cdff"/><rect x="1106.0" y="645" width="8.5" height="3" fill="#00cdff"/><rect x="1114.5" y="645" width="8.5" height="3" fill="#00cdff"/><rect x="1123.0" y="645" width="8.5" height="3" fill="#00cdff"/><rect x="1131.4" y="645" width="8.5" height="3" fill="#00cdff"/><rect x="1139.9" y="645" width="8.5" height="3" fill="#00cdff"/><rect x="1148.3" y="645" width="8.5" height="3" fill="#00cdff"/><rect x="1156.8" y="645" width="8.5" height="3" fill="#00cdff"/><rect x="1165.2" y="645" width="8.5" height="3" fill="#00cdff"/><rect x="1173.7" y="645" width="8.5" height="3" fill="#00cdff"/><rect x="1182.2" y="645" width="2.8" height="3" fill="#00cdff"/><rect x="894.6" y="200" width="8.5" height="4" fill="#36004d"/><rect x="894.6" y="204" width="8.5" height="4" fill="#40005f"/><rect x="894.6" y="208" width="8.5" height="4" fill="#4a0079"/><rect x="894.6" y="212" width="8.5" height="4" fill="#4800a0"/><rect x="894.6" y="224" width="8.5" height="4" fill="#004eff"/><rect x="894.6" y="228" width="8.5" height="4" fill="#0083ff"/><rect x="894.6" y="232" width="8.5" height="4" fill="#00abff"/><rect x="894.6" y="236" width="8.5" height="4" fill="#00ceff"/><rect x="894.6" y="240" width="8.5" height="4" fill="#00f1ff"/><rect x="894.6" y="244" width="8.5" height="4" fill="#00ffe5"/><rect x="894.6" y="248" width="8.5" height="4" fill="#00ffc4"/><rect x="894.6" y="252" width="8.5" height="4" fill="#00ffa1"/><rect x="894.6" y="256" width="8.5" height="4" fill="#00ff7d"/><rect x="894.6" y="260" width="8.5" height="4" fill="#00ff57"/><rect x="894.6" y="264" width="8.5" height="4" fill="#00ff31"/><rect x="894.6" y="268" width="8.5" height="4" fill="#06ff0d"/><rect x="894.6" y="272" width="8.5" height="4" fill="#16ff05"/><rect x="894.6" y="276" width="8.5" height="4" fill="#2eff00"/><rect x="894.6" y="280" width="8.5" height="4" fill="#52ff00"/><rect x="894.6" y="284" width="8.5" height="4" fill="#74ff00"/><rect x="894.6" y="288" width="8.5" height="4" fill="#87ff00"/><rect x="894.6" y="292" width="8.5" height="4" fill="#98ff00"/><rect x="894.6" y="296" width="8.5" height="4" fill="#a2ff00"/><rect x="894.6" y="300" width="8.5" height="4" fill="#a7ff00"/><rect x="894.6" y="304" width="8.5" height="4" fill="#a7ff00"/><rect x="894.6" y="308" width="8.5" height="4" fill="#a4ff00"/><rect x="894.6" y="312" width="8.5" height="4" fill="#9eff00"/><rect x="894.6" y="316" width="8.5" height="4" fill="#96ff00"/><rect x="894.6" y="320" width="8.5" height="4" fill="#8fff00"/><rect x="894.6" y="324" width="8.5" height="4" fill="#8aff00"/><rect x="894.6" y="328" width="8.5" height="4" fill="#87ff00"/><rect x="894.6" y="332" width="8.5" height="4" fill="#88ff00"/><rect x="894.6" y="336" width="8.5" height="4" fill="#8cff00"/><rect x="894.6" y="340" width="8.5" height="4" fill="#94ff00"/><rect x="894.6" y="344" width="8.5" height="4" fill="#9eff00"/><rect x="894.6" y="348" width="8.5" height="4" fill="#a9ff00"/><rect x="894.6" y="352" width="8.5" height="4" fill="#b6ff00"/><rect x="894.6" y="356" width="8.5" height="4" fill="#c3ff00"/><rect x="894.6" y="360" width="8.5" height="4" fill="#e3ff00"/><rect x="894.6" y="364" width="8.5" height="4" fill="#f3ff00"/><rect x="894.6" y="368" width="8.5" height="4" fill="#f5ff00"/><rect x="894.6" y="372" width="8.5" height="4" fill="#f7ff00"/><rect x="894.6" y="376" width="8.5" height="4" fill="#f8ff00"/><rect x="894.6" y="380" width="8.5" height="4" fill="#f8ff00"/><rect x="894.6" y="384" width="8.5" height="4" fill="#f8ff00"/><rect x="894.6" y="388" width="8.5" height="4" fill="#f8ff00"/><rect x="894.6" y="392" width="8.5" height="4" fill="#f9ff00"/><rect x="894.6" y="396" width="8.5" height="4" fill="#f8ff00"/><rect x="894.6" y="400" width="8.5" height="4" fill="#f8ff00"/><rect x="894.6" y="404" width="8.5" height="4" fill="#f8ff00"/><rect x="894.6" y="408" width="8.5" height="4" fill="#f8ff00"/><rect x="894.6" y="412" width="8.5" height="4" fill="#98ff00"/><rect x="894.6" y="416" width="8.5" height="4" fill="#97ff00"/><rect x="894.6" y="420" width="8.5" height="4" fill="#97ff00"/><rect x="894.6" y="424" width="8.5" height="4" fill="#96ff00"/><rect x="894.6" y="428" width="8.5" height="4" fill="#95ff00"/><rect x="894.6" y="432" width="8.5" height="4" fill="#92ff00"/><rect x="894.6" y="436" width="8.5" height="4" fill="#8dff00"/><rect x="894.6" y="440" width="8.5" height="4" fill="#85ff00"/><rect x="894.6" y="444" width="8.5" height="4" fill="#7bff00"/><rect x="894.6" y="448" width="8.5" height="4" fill="#72ff00"/><rect x="894.6" y="452" width="8.5" height="4" fill="#67ff00"/><rect x="894.6" y="456" width="8.5" height="4" fill="#61ff00"/><rect x="894.6" y="460" width="8.5" height="4" fill="#60ff00"/><rect x="894.6" y="464" width="8.5" height="4" fill="#62ff00"/><rect x="894.6" y="468" width="8.5" height="4" fill="#62ff00"/><rect x="894.6" y="472" width="8.5" height="4" fill="#5eff00"/><rect x="894.6" y="476" width="8.5" height="4" fill="#58ff00"/><rect x="894.6" y="480" width="8.5" height="4" fill="#51ff00"/><rect x="894.6" y="484" width="8.5" height="4" fill="#4cff00"/><rect x="894.6" y="488" width="8.5" height="4" fill="#4aff00"/><rect x="894.6" y="492" width="8.5" height="4" fill="#4bff00"/><rect x="894.6" y="496" width="8.5" height="4" fill="#50ff00"/><rect x="894.6" y="500" width="8.5" height="4" fill="#59ff00"/><rect x="894.6" y="504" width="8.5" height="4" fill="#63ff00"/><rect x="894.6" y="508" width="8.5" height="4" fill="#6dff00"/><rect x="894.6" y="512" width="8.5" height="4" fill="#72ff00"/><rect x="894.6" y="516" width="8.5" height="4" fill="#73ff00"/><rect x="894.6" y="520" width="8.5" height="4" fill="#71ff00"/><rect x="894.6" y="524" width="8.5" height="4" fill="#67ff00"/><rect x="894.6" y="528" width="8.5" height="4" fill="#55ff00"/><rect x="894.6" y="532" width="8.5" height="4" fill="#3dff00"/><rect x="894.6" y="536" width="8.5" height="4" fill="#25ff00"/><rect x="894.6" y="540" width="8.5" height="4" fill="#18ff04"/><rect x="894.6" y="544" width="8.5" height="4" fill="#11ff07"/><rect x="894.6" y="548" width="8.5" height="4" fill="#0dff0a"/><rect x="894.6" y="552" width="8.5" height="4" fill="#0aff0b"/><rect x="894.6" y="556" width="8.5" height="4" fill="#09ff0b"/><rect x="911.5" y="200" width="8.5" height="4" fill="#3f00b1"/><rect x="911.5" y="204" width="8.5" height="4" fill="#3900b7"/><rect x="911.5" y="208" width="8.5" height="4" fill="#008fff"/><rect x="911.5" y="212" width="8.5" height="4" fill="#00b4ff"/><rect x="911.5" y="216" width="8.5" height="4" fill="#00ddff"/><rect x="911.5" y="220" width="8.5" height="4" fill="#00ffee"/><rect x="911.5" y="224" width="8.5" height="4" fill="#00ffc3"/><rect x="911.5" y="228" width="8.5" height="4" fill="#00fef9"/><rect x="911.5" y="232" width="8.5" height="4" fill="#00ffd6"/><rect x="911.5" y="236" width="8.5" height="4" fill="#00ffac"/><rect x="911.5" y="240" width="8.5" height="4" fill="#00ff7e"/><rect x="911.5" y="244" width="8.5" height="4" fill="#00ff47"/><rect x="911.5" y="248" width="8.5" height="4" fill="#06ff0d"/><rect x="911.5" y="252" width="8.5" height="4" fill="#25ff00"/><rect x="911.5" y="256" width="8.5" height="4" fill="#5aff00"/><rect x="911.5" y="260" width="8.5" height="4" fill="#7fff00"/><rect x="911.5" y="264" width="8.5" height="4" fill="#97ff00"/><rect x="911.5" y="268" width="8.5" height="4" fill="#abff00"/><rect x="911.5" y="272" width="8.5" height="4" fill="#bcff00"/><rect x="911.5" y="276" width="8.5" height="4" fill="#ddff00"/><rect x="911.5" y="280" width="8.5" height="4" fill="#f5ff00"/><rect x="911.5" y="284" width="8.5" height="4" fill="#fcff00"/><rect x="911.5" y="288" width="8.5" height="4" fill="#fffc00"/><rect x="911.5" y="292" width="8.5" height="4" fill="#fff700"/><rect x="911.5" y="296" width="8.5" height="4" fill="#fff300"/><rect x="911.5" y="300" width="8.5" height="4" fill="#fff100"/><rect x="911.5" y="304" width="8.5" height="4" fill="#fff000"/><rect x="911.5" y="308" width="8.5" height="4" fill="#fff000"/><rect x="911.5" y="312" width="8.5" height="4" fill="#fff000"/><rect x="911.5" y="316" width="8.5" height="4" fill="#fff000"/><rect x="911.5" y="320" width="8.5" height="4" fill="#fff000"/><rect x="911.5" y="324" width="8.5" height="4" fill="#fff000"/><rect x="911.5" y="328" width="8.5" height="4" fill="#fff000"/><rect x="911.5" y="332" width="8.5" height="4" fill="#fff000"/><rect x="911.5" y="336" width="8.5" height="4" fill="#ffef00"/><rect x="911.5" y="340" width="8.5" height="4" fill="#ffef00"/><rect x="911.5" y="344" width="8.5" height="4" fill="#ffef00"/><rect x="911.5" y="348" width="8.5" height="4" fill="#ffef00"/><rect x="911.5" y="352" width="8.5" height="4" fill="#ffef00"/><rect x="911.5" y="356" width="8.5" height="4" fill="#ffef00"/><rect x="911.5" y="360" width="8.5" height="4" fill="#ffef00"/><rect x="911.5" y="364" width="8.5" height="4" fill="#ffef00"/><rect x="911.5" y="368" width="8.5" height="4" fill="#ffef00"/><rect x="911.5" y="372" width="8.5" height="4" fill="#ffef00"/><rect x="911.5" y="376" width="8.5" height="4" fill="#ffef00"/><rect x="911.5" y="380" width="8.5" height="4" fill="#ffef00"/><rect x="911.5" y="384" width="8.5" height="4" fill="#ffef00"/><rect x="911.5" y="388" width="8.5" height="4" fill="#ffef00"/><rect x="911.5" y="392" width="8.5" height="4" fill="#ffef00"/><rect x="911.5" y="396" width="8.5" height="4" fill="#ffef00"/><rect x="911.5" y="400" width="8.5" height="4" fill="#ffef00"/><rect x="911.5" y="404" width="8.5" height="4" fill="#ffef00"/><rect x="911.5" y="408" width="8.5" height="4" fill="#ffef00"/><rect x="911.5" y="412" width="8.5" height="4" fill="#ffef00"/><rect x="911.5" y="416" width="8.5" height="4" fill="#b7ff00"/><rect x="911.5" y="420" width="8.5" height="4" fill="#b7ff00"/><rect x="911.5" y="424" width="8.5" height="4" fill="#b7ff00"/><rect x="911.5" y="428" width="8.5" height="4" fill="#b6ff00"/><rect x="911.5" y="432" width="8.5" height="4" fill="#b5ff00"/><rect x="911.5" y="436" width="8.5" height="4" fill="#b3ff00"/><rect x="911.5" y="440" width="8.5" height="4" fill="#afff00"/><rect x="911.5" y="444" width="8.5" height="4" fill="#abff00"/><rect x="911.5" y="448" width="8.5" height="4" fill="#a6ff00"/><rect x="911.5" y="452" width="8.5" height="4" fill="#a2ff00"/><rect x="911.5" y="456" width="8.5" height="4" fill="#9fff00"/><rect x="911.5" y="460" width="8.5" height="4" fill="#9cff00"/><rect x="911.5" y="464" width="8.5" height="4" fill="#9bff00"/><rect x="911.5" y="468" width="8.5" height="4" fill="#9aff00"/><rect x="911.5" y="472" width="8.5" height="4" fill="#99ff00"/><rect x="911.5" y="476" width="8.5" height="4" fill="#99ff00"/><rect x="911.5" y="480" width="8.5" height="4" fill="#99ff00"/><rect x="911.5" y="484" width="8.5" height="4" fill="#99ff00"/><rect x="911.5" y="488" width="8.5" height="4" fill="#9aff00"/><rect x="911.5" y="492" width="8.5" height="4" fill="#9bff00"/><rect x="911.5" y="496" width="8.5" height="4" fill="#9fff00"/><rect x="911.5" y="500" width="8.5" height="4" fill="#a3ff00"/><rect x="911.5" y="504" width="8.5" height="4" fill="#a8ff00"/><rect x="911.5" y="508" width="8.5" height="4" fill="#acff00"/><rect x="911.5" y="512" width="8.5" height="4" fill="#b0ff00"/><rect x="911.5" y="516" width="8.5" height="4" fill="#b1ff00"/><rect x="911.5" y="520" width="8.5" height="4" fill="#b0ff00"/><rect x="911.5" y="524" width="8.5" height="4" fill="#abff00"/><rect x="911.5" y="528" width="8.5" height="4" fill="#a4ff00"/><rect x="911.5" y="532" width="8.5" height="4" fill="#99ff00"/><rect x="911.5" y="536" width="8.5" height="4" fill="#8dff00"/><rect x="911.5" y="540" width="8.5" height="4" fill="#83ff00"/><rect x="911.5" y="544" width="8.5" height="4" fill="#7cff00"/><rect x="911.5" y="548" width="8.5" height="4" fill="#77ff00"/><rect x="911.5" y="552" width="8.5" height="4" fill="#74ff00"/><rect x="911.5" y="556" width="8.5" height="4" fill="#72ff00"/><rect x="911.5" y="560" width="8.5" height="4" fill="#70ff00"/><rect x="911.5" y="564" width="8.5" height="4" fill="#6aff00"/><rect x="911.5" y="568" width="8.5" height="4" fill="#60ff00"/><rect x="911.5" y="572" width="8.5" height="4" fill="#52ff00"/><rect x="911.5" y="576" width="8.5" height="4" fill="#3eff00"/><rect x="911.5" y="580" width="8.5" height="4" fill="#24ff00"/><rect x="911.5" y="584" width="8.5" height="4" fill="#12ff07"/><rect x="911.5" y="588" width="8.5" height="4" fill="#00ff10"/><rect x="911.5" y="592" width="8.5" height="4" fill="#00ff3e"/><rect x="911.5" y="596" width="8.5" height="4" fill="#00ff63"/><rect x="911.5" y="600" width="8.5" height="4" fill="#00ff21"/><rect x="911.5" y="604" width="8.5" height="4" fill="#00ff46"/><rect x="911.5" y="608" width="8.5" height="4" fill="#00ff66"/><rect x="911.5" y="612" width="8.5" height="4" fill="#00ff82"/><rect x="911.5" y="616" width="8.5" height="4" fill="#00ff9d"/><rect x="911.5" y="620" width="8.5" height="4" fill="#00ffb6"/><rect x="911.5" y="624" width="8.5" height="4" fill="#00ffcb"/><rect x="911.5" y="628" width="8.5" height="4" fill="#00ffdb"/><rect x="911.5" y="632" width="8.5" height="4" fill="#00ffe6"/><rect x="911.5" y="636" width="8.5" height="4" fill="#00ffef"/><rect x="911.5" y="640" width="8.5" height="4" fill="#00fff8"/><rect x="911.5" y="644" width="8.5" height="4" fill="#00f1ff"/><rect x="911.5" y="648" width="8.5" height="4" fill="#00e1ff"/><rect x="911.5" y="652" width="8.5" height="4" fill="#00cfff"/><rect x="911.5" y="656" width="8.5" height="4" fill="#00bfff"/><rect x="911.5" y="660" width="8.5" height="4" fill="#00b0ff"/><rect x="911.5" y="664" width="8.5" height="4" fill="#00a3ff"/><rect x="911.5" y="668" width="8.5" height="4" fill="#0097ff"/><rect x="911.5" y="672" width="8.5" height="4" fill="#0088ff"/><rect x="911.5" y="676" width="8.5" height="4" fill="#007aff"/><rect x="911.5" y="680" width="8.5" height="4" fill="#006cff"/><rect x="911.5" y="684" width="8.5" height="4" fill="#005eff"/><rect x="911.5" y="688" width="8.5" height="4" fill="#004aff"/><rect x="911.5" y="692" width="8.5" height="4" fill="#0025ff"/><rect x="911.5" y="696" width="8.5" height="4" fill="#000cfc"/><rect x="911.5" y="700" width="8.5" height="4" fill="#0005f5"/><rect x="911.5" y="704" width="8.5" height="4" fill="#0400ec"/><rect x="911.5" y="708" width="8.5" height="4" fill="#1200de"/><rect x="911.5" y="712" width="8.5" height="4" fill="#1f00d1"/><rect x="911.5" y="716" width="8.5" height="4" fill="#2700c9"/><rect x="911.5" y="720" width="8.5" height="4" fill="#2e00c2"/><rect x="911.5" y="724" width="8.5" height="4" fill="#3400bc"/><rect x="911.5" y="728" width="8.5" height="4" fill="#3a00b6"/><rect x="911.5" y="732" width="8.5" height="4" fill="#3e00b2"/><rect x="911.5" y="736" width="8.5" height="4" fill="#4600a4"/><rect x="911.5" y="740" width="8.5" height="4" fill="#400061"/><rect x="911.5" y="744" width="8.5" height="4" fill="#3c0057"/><rect x="911.5" y="748" width="8.5" height="4" fill="#380051"/><rect x="911.5" y="752" width="8.5" height="4" fill="#36004d"/><rect x="911.5" y="756" width="8.5" height="4" fill="#35004a"/><rect x="911.5" y="760" width="8.5" height="4" fill="#340047"/><rect x="911.5" y="764" width="8.5" height="4" fill="#320045"/><rect x="911.5" y="768" width="8.5" height="4" fill="#310042"/><rect x="911.5" y="772" width="8.5" height="4" fill="#30003f"/><rect x="911.5" y="776" width="8.5" height="4" fill="#2e003d"/><rect x="911.5" y="780" width="8.5" height="2" fill="#2e003c"/><rect x="894.6" y="397" width="8.5" height="5" fill="#e00000"/><rect x="988" y="694" width="9" height="6" fill="#00b0ff"/></g>
<g fill="#000"><rect x="166" y="197" width="1024" height="3"/><rect x="166" y="782" width="1024" height="3"/><rect x="166" y="186" width="4" height="609"/><rect x="1186" y="186" width="4" height="609"/><rect x="251" y="192" width="4" height="5"/><rect x="251" y="785" width="4" height="4"/><rect x="336" y="192" width="4" height="5"/><rect x="336" y="785" width="4" height="4"/><rect x="421" y="186" width="4" height="11"/><rect x="421" y="785" width="4" height="10"/><rect x="506" y="192" width="4" height="5"/><rect x="506" y="785" width="4" height="4"/><rect x="591" y="192" width="4" height="5"/><rect x="591" y="785" width="4" height="4"/><rect x="676" y="186" width="4" height="11"/><rect x="676" y="785" width="4" height="10"/><rect x="761" y="192" width="4" height="5"/><rect x="761" y="785" width="4" height="4"/><rect x="846" y="192" width="4" height="5"/><rect x="846" y="785" width="4" height="4"/><rect x="931" y="186" width="4" height="11"/><rect x="931" y="785" width="4" height="10"/><rect x="1016" y="192" width="4" height="5"/><rect x="1016" y="785" width="4" height="4"/><rect x="1101" y="192" width="4" height="5"/><rect x="1101" y="785" width="4" height="4"/><rect x="148" y="197.0" width="18" height="3"/><rect x="1190" y="197.0" width="19" height="3"/><rect x="148" y="280.6" width="18" height="3"/><rect x="1190" y="280.6" width="19" height="3"/><rect x="148" y="364.1" width="18" height="3"/><rect x="1190" y="364.1" width="19" height="3"/><rect x="148" y="447.7" width="18" height="3"/><rect x="1190" y="447.7" width="19" height="3"/><rect x="148" y="531.3" width="18" height="3"/><rect x="1190" y="531.3" width="19" height="3"/><rect x="148" y="614.9" width="18" height="3"/><rect x="1190" y="614.9" width="19" height="3"/><rect x="148" y="698.4" width="18" height="3"/><rect x="1190" y="698.4" width="19" height="3"/><rect x="148" y="782.0" width="18" height="3"/><rect x="1190" y="782.0" width="19" height="3"/></g>
<defs><linearGradient id="cbg" x1="0" y1="0" x2="0" y2="1"><stop offset="0.000" stop-color="#a80000"/><stop offset="0.040" stop-color="#c80000"/><stop offset="0.080" stop-color="#f00000"/><stop offset="0.116" stop-color="#ff0000"/><stop offset="0.126" stop-color="#ff1000"/><stop offset="0.158" stop-color="#ff4000"/><stop offset="0.189" stop-color="#ff6800"/><stop offset="0.219" stop-color="#ff8800"/><stop offset="0.244" stop-color="#ffa000"/><stop offset="0.253" stop-color="#ffb400"/><stop offset="0.281" stop-color="#ffd800"/><stop offset="0.311" stop-color="#fff000"/><stop offset="0.342" stop-color="#ffff00"/><stop offset="0.372" stop-color="#f0ff00"/><stop offset="0.380" stop-color="#c8ff00"/><stop offset="0.410" stop-color="#a0ff00"/><stop offset="0.441" stop-color="#70ff00"/><stop offset="0.471" stop-color="#20ff00"/><stop offset="0.496" stop-color="#00ff10"/><stop offset="0.505" stop-color="#00ff30"/><stop offset="0.532" stop-color="#00ff70"/><stop offset="0.563" stop-color="#00ffa8"/><stop offset="0.594" stop-color="#00ffd8"/><stop offset="0.620" stop-color="#00fff8"/><stop offset="0.630" stop-color="#00f0ff"/><stop offset="0.660" stop-color="#00c8ff"/><stop offset="0.698" stop-color="#0098ff"/><stop offset="0.737" stop-color="#0058ff"/><stop offset="0.746" stop-color="#0040ff"/><stop offset="0.756" stop-color="#0010ff"/><stop offset="0.782" stop-color="#0000f0"/><stop offset="0.813" stop-color="#2000d0"/><stop offset="0.851" stop-color="#3800b8"/><stop offset="0.870" stop-color="#4000b0"/><stop offset="0.882" stop-color="#500090"/><stop offset="0.912" stop-color="#480070"/><stop offset="0.947" stop-color="#300040"/><stop offset="0.973" stop-color="#180010"/><stop offset="1.000" stop-color="#080008"/></linearGradient></defs><rect x="1368" y="229" width="20" height="524" fill="url(#cbg)"/><rect x="1364" y="227.5" width="28" height="1.5"/><rect x="1366" y="226" width="24" height="3"/><rect x="1364" y="753" width="28" height="1.5"/><rect x="1366" y="753" width="24" height="3"/><rect x="1364" y="227" width="4" height="527"/><rect x="1388" y="227" width="4" height="527"/><rect x="1364" y="293.0" width="28" height="3"/><rect x="1364" y="358.5" width="28" height="3"/><rect x="1364" y="424.0" width="28" height="3"/><rect x="1364" y="489.5" width="28" height="3"/><rect x="1364" y="555.0" width="28" height="3"/><rect x="1364" y="620.5" width="28" height="3"/><rect x="1364" y="686.0" width="28" height="3"/>
<g fill="#000" stroke="#000" stroke-width="0.6" shape-rendering="auto"><text x="185" y="89" font-size="46" text-anchor="start" textLength="272.8" lengthAdjust="spacingAndGlyphs" style='font-family:"Liberation Sans",sans-serif;font-style:italic'>NYA6 6300 Å</text><text x="185" y="119" font-size="28.5" text-anchor="start" textLength="388" lengthAdjust="spacingAndGlyphs" style='font-family:"Liberation Sans",sans-serif;font-style:italic' stroke-width="0.35">2018-01-08 14:00-15:00 UT</text><text x="679" y="132" font-size="31" text-anchor="middle" textLength="62" lengthAdjust="spacingAndGlyphs" style='font-family:"Liberation Sans",sans-serif'>MLT</text><text x="169" y="167.5" font-size="28.5" text-anchor="middle" textLength="59.6" lengthAdjust="spacingAndGlyphs" style='font-family:"Liberation Sans",sans-serif'>16.9</text><text x="423" y="167.5" font-size="28.5" text-anchor="middle" textLength="59.6" lengthAdjust="spacingAndGlyphs" style='font-family:"Liberation Sans",sans-serif'>17.1</text><text x="678" y="167.5" font-size="28.5" text-anchor="middle" textLength="59.6" lengthAdjust="spacingAndGlyphs" style='font-family:"Liberation Sans",sans-serif'>17.3</text><text x="933" y="167.5" font-size="28.5" text-anchor="middle" textLength="59.6" lengthAdjust="spacingAndGlyphs" style='font-family:"Liberation Sans",sans-serif'>17.5</text><text x="1188" y="167.5" font-size="28.5" text-anchor="middle" textLength="59.6" lengthAdjust="spacingAndGlyphs" style='font-family:"Liberation Sans",sans-serif'>17.8</text><text x="135" y="222" font-size="28.5" text-anchor="end" textLength="59" lengthAdjust="spacingAndGlyphs" style='font-family:"Liberation Sans",sans-serif'>19.3</text><text x="135" y="295.5" font-size="28.5" text-anchor="end" textLength="59" lengthAdjust="spacingAndGlyphs" style='font-family:"Liberation Sans",sans-serif'>41.7</text><text x="135" y="378.5" font-size="28.5" text-anchor="end" textLength="59" lengthAdjust="spacingAndGlyphs" style='font-family:"Liberation Sans",sans-serif'>62.2</text><text x="135" y="461.6" font-size="28.5" text-anchor="end" textLength="59" lengthAdjust="spacingAndGlyphs" style='font-family:"Liberation Sans",sans-serif'>80.9</text><text x="135" y="546" font-size="28.5" text-anchor="end" textLength="59" lengthAdjust="spacingAndGlyphs" style='font-family:"Liberation Sans",sans-serif'>80.9</text><text x="135" y="631" font-size="28.5" text-anchor="end" textLength="59" lengthAdjust="spacingAndGlyphs" style='font-family:"Liberation Sans",sans-serif'>62.6</text><text x="135" y="714" font-size="28.5" text-anchor="end" textLength="59" lengthAdjust="spacingAndGlyphs" style='font-family:"Liberation Sans",sans-serif'>41.9</text><text x="135" y="782.4" font-size="28.5" text-anchor="end" textLength="59" lengthAdjust="spacingAndGlyphs" style='font-family:"Liberation Sans",sans-serif'>19.0</text><text x="1222" y="222" font-size="28.5" text-anchor="start" textLength="60" lengthAdjust="spacingAndGlyphs" style='font-family:"Liberation Sans",sans-serif'>82.8</text><text x="1222" y="295.5" font-size="28.5" text-anchor="start" textLength="60" lengthAdjust="spacingAndGlyphs" style='font-family:"Liberation Sans",sans-serif'>79.0</text><text x="1222" y="378.5" font-size="28.5" text-anchor="start" textLength="60" lengthAdjust="spacingAndGlyphs" style='font-family:"Liberation Sans",sans-serif'>77.7</text><text x="1222" y="461.6" font-size="28.5" text-anchor="start" textLength="60" lengthAdjust="spacingAndGlyphs" style='font-family:"Liberation Sans",sans-serif'>76.9</text><text x="1222" y="546" font-size="28.5" text-anchor="start" textLength="60" lengthAdjust="spacingAndGlyphs" style='font-family:"Liberation Sans",sans-serif'>76.2</text><text x="1222" y="631" font-size="28.5" text-anchor="start" textLength="60" lengthAdjust="spacingAndGlyphs" style='font-family:"Liberation Sans",sans-serif'>75.4</text><text x="1222" y="714" font-size="28.5" text-anchor="start" textLength="60" lengthAdjust="spacingAndGlyphs" style='font-family:"Liberation Sans",sans-serif'>74.1</text><text x="1222" y="783.5" font-size="28.5" text-anchor="start" textLength="60" lengthAdjust="spacingAndGlyphs" style='font-family:"Liberation Sans",sans-serif'>70.1</text><text x="169" y="848.5" font-size="30" text-anchor="middle" textLength="78.3" lengthAdjust="spacingAndGlyphs" style='font-family:"Liberation Sans",sans-serif'>14:00</text><text x="423" y="848.5" font-size="30" text-anchor="middle" textLength="78.3" lengthAdjust="spacingAndGlyphs" style='font-family:"Liberation Sans",sans-serif'>14:15</text><text x="678" y="848.5" font-size="30" text-anchor="middle" textLength="78.3" lengthAdjust="spacingAndGlyphs" style='font-family:"Liberation Sans",sans-serif'>14:30</text><text x="933" y="848.5" font-size="30" text-anchor="middle" textLength="78.3" lengthAdjust="spacingAndGlyphs" style='font-family:"Liberation Sans",sans-serif'>14:45</text><text x="1188" y="848.5" font-size="30" text-anchor="middle" textLength="78.3" lengthAdjust="spacingAndGlyphs" style='font-family:"Liberation Sans",sans-serif'>15:00</text><text x="679" y="894.6" font-size="30.3" text-anchor="middle" textLength="119.6" lengthAdjust="spacingAndGlyphs" style='font-family:"Liberation Sans",sans-serif'>Time UT</text><text x="39" y="490" font-size="32.6" text-anchor="middle" textLength="128" lengthAdjust="spacingAndGlyphs" transform="rotate(-90 39 490)" style='font-family:"Liberation Sans",sans-serif'>Elevation</text><text x="1323" y="488" font-size="33" text-anchor="middle" textLength="79.5" lengthAdjust="spacingAndGlyphs" transform="rotate(-90 1323 488)" style='font-family:"Liberation Sans",sans-serif'>MLAT</text><text x="1403" y="306.0" font-size="32" text-anchor="start" textLength="60.7" lengthAdjust="spacingAndGlyphs" style='font-family:"Liberation Sans",sans-serif'>1.23</text><text x="1403" y="371.5" font-size="32" text-anchor="start" textLength="60.7" lengthAdjust="spacingAndGlyphs" style='font-family:"Liberation Sans",sans-serif'>1.04</text><text x="1403" y="437.0" font-size="32" text-anchor="start" textLength="60.7" lengthAdjust="spacingAndGlyphs" style='font-family:"Liberation Sans",sans-serif'>0.88</text><text x="1403" y="502.5" font-size="32" text-anchor="start" textLength="60.7" lengthAdjust="spacingAndGlyphs" style='font-family:"Liberation Sans",sans-serif'>0.74</text><text x="1403" y="568.0" font-size="32" text-anchor="start" textLength="60.7" lengthAdjust="spacingAndGlyphs" style='font-family:"Liberation Sans",sans-serif'>0.62</text><text x="1403" y="633.5" font-size="32" text-anchor="start" textLength="60.7" lengthAdjust="spacingAndGlyphs" style='font-family:"Liberation Sans",sans-serif'>0.53</text><text x="1403" y="699.0" font-size="32" text-anchor="start" textLength="60.7" lengthAdjust="spacingAndGlyphs" style='font-family:"Liberation Sans",sans-serif'>0.44</text><text x="1505" y="491" font-size="34" text-anchor="middle" textLength="218" lengthAdjust="spacingAndGlyphs" transform="rotate(-90 1505 491)" style='font-family:"Liberation Sans",sans-serif'>Brightness [kR]</text></g>
</svg></body></html>
